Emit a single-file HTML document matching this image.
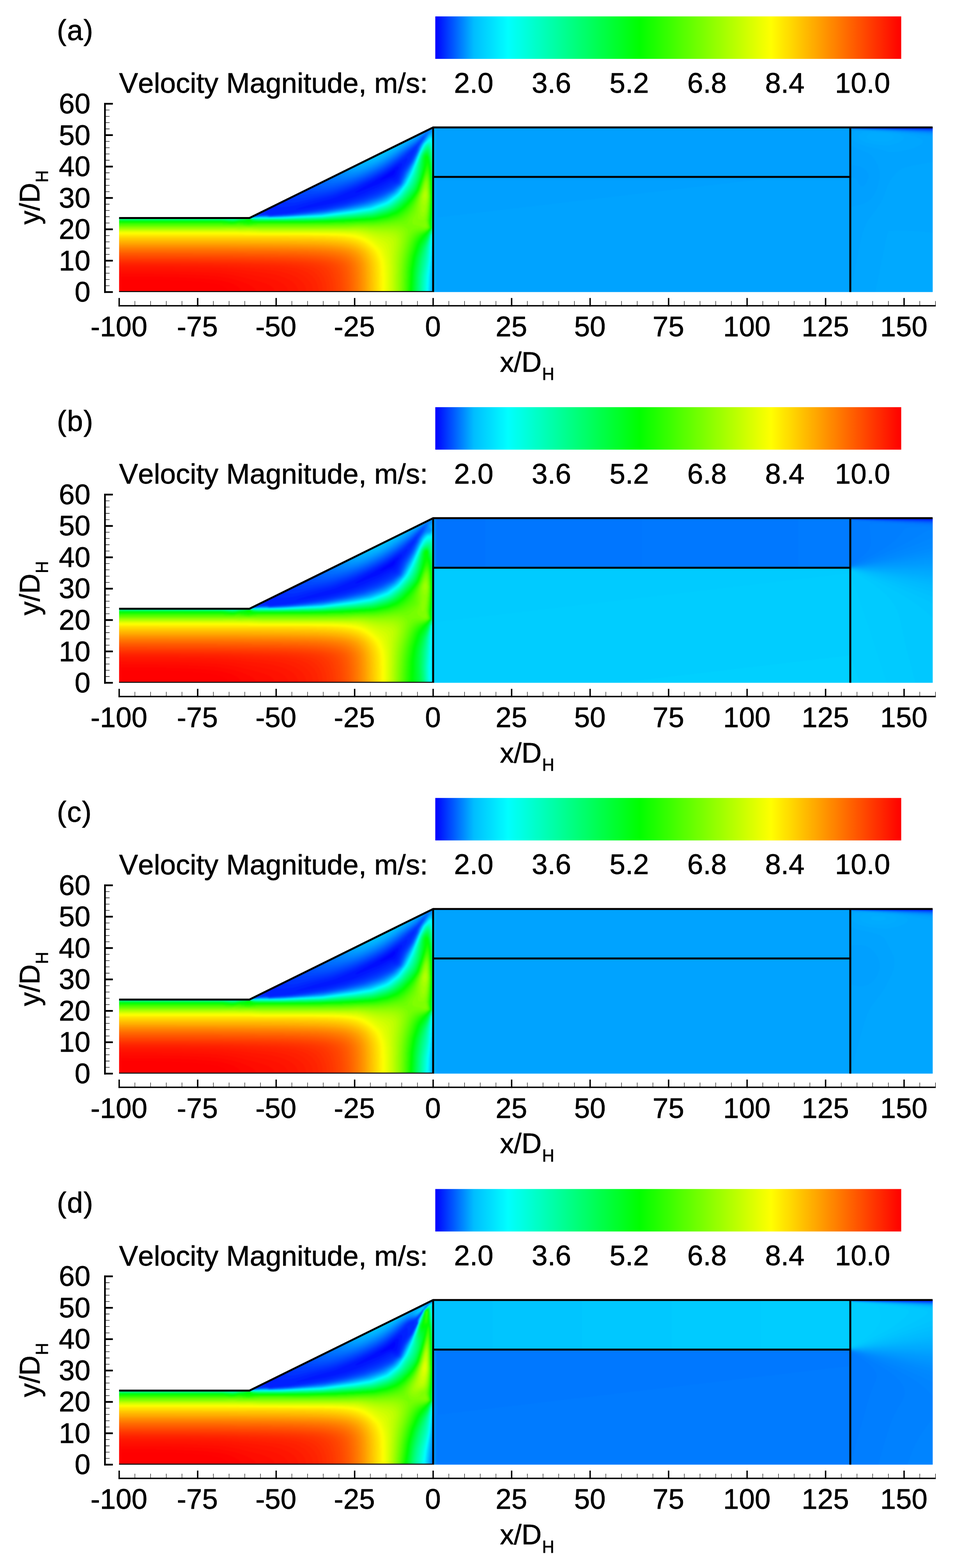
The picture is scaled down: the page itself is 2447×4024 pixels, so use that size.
<!DOCTYPE html>
<html lang="en"><head><meta charset="utf-8"><title>Velocity Magnitude contours</title>
<style>
html,body{margin:0;padding:0;background:#fff}
svg{display:block}
text{font-family:"Liberation Sans",sans-serif;font-size:72.7px;fill:#000;stroke:#000;stroke-width:.85px;stroke-linejoin:round;font-kerning:none}
</style></head><body>
<svg width="2447" height="4024" viewBox="0 0 2447 4024">
<defs>
<linearGradient id="cb" x1="0" x2="1" y1="0" y2="0"><stop offset="0.0000" stop-color="#0000ff"/><stop offset="0.0828" stop-color="#00bdff"/><stop offset="0.1559" stop-color="#00ffff"/><stop offset="0.4381" stop-color="#00ff00"/><stop offset="0.7203" stop-color="#ffff00"/><stop offset="1.0000" stop-color="#ff0000"/></linearGradient>
<clipPath id="cl"><path d="M305.5 749.1H1111.0V327.0L639.9 559.5H305.5z"/></clipPath>
<clipPath id="cr"><rect x="1111.0" y="327.0" width="1281.4" height="422.5"/></clipPath>
<clipPath id="cv"><rect x="305.5" y="300" width="2086.9" height="449.5"/></clipPath>
<filter id="bl" x="-2%" y="-2%" width="104%" height="104%" color-interpolation-filters="sRGB"><feGaussianBlur stdDeviation="1.5"/></filter>
<g id="ax"><rect x="267.0" y="264.1" width="4.4" height="487.7"/><path d="M267.0 749.50H289.5M267.0 668.97H289.5M267.0 588.44H289.5M267.0 507.91H289.5M267.0 427.38H289.5M267.0 346.85H289.5M267.0 266.32H289.5" stroke="#000" stroke-width="4.5" fill="none"/><path d="M270.9 733.39H281.1M270.9 717.29H281.1M270.9 701.18H281.1M270.9 685.08H281.1M270.9 652.86H281.1M270.9 636.76H281.1M270.9 620.65H281.1M270.9 604.55H281.1M270.9 572.33H281.1M270.9 556.23H281.1M270.9 540.12H281.1M270.9 524.02H281.1M270.9 491.80H281.1M270.9 475.70H281.1M270.9 459.59H281.1M270.9 443.49H281.1M270.9 411.27H281.1M270.9 395.17H281.1M270.9 379.06H281.1M270.9 362.96H281.1M270.9 330.74H281.1M270.9 314.64H281.1M270.9 298.53H281.1M270.9 282.43H281.1" stroke="#000" stroke-width="1.3" fill="none"/><rect x="303.9" y="782.9" width="2096.3" height="3.6"/><path d="M305.70 786.5V764.8M507.02 786.5V764.8M708.35 786.5V764.8M909.67 786.5V764.8M1111.00 786.5V764.8M1312.33 786.5V764.8M1513.65 786.5V764.8M1714.97 786.5V764.8M1916.30 786.5V764.8M2117.62 786.5V764.8M2318.95 786.5V764.8" stroke="#000" stroke-width="3.6" fill="none"/><path d="M345.96 783.4V772.6M386.23 783.4V772.6M426.49 783.4V772.6M466.76 783.4V772.6M547.29 783.4V772.6M587.55 783.4V772.6M627.82 783.4V772.6M668.09 783.4V772.6M748.62 783.4V772.6M788.88 783.4V772.6M829.14 783.4V772.6M869.41 783.4V772.6M949.94 783.4V772.6M990.20 783.4V772.6M1030.47 783.4V772.6M1070.73 783.4V772.6M1151.27 783.4V772.6M1191.53 783.4V772.6M1231.80 783.4V772.6M1272.06 783.4V772.6M1352.59 783.4V772.6M1392.86 783.4V772.6M1433.12 783.4V772.6M1473.38 783.4V772.6M1553.91 783.4V772.6M1594.18 783.4V772.6M1634.45 783.4V772.6M1674.71 783.4V772.6M1755.24 783.4V772.6M1795.51 783.4V772.6M1835.77 783.4V772.6M1876.04 783.4V772.6M1956.57 783.4V772.6M1996.83 783.4V772.6M2037.10 783.4V772.6M2077.36 783.4V772.6M2157.89 783.4V772.6M2198.16 783.4V772.6M2238.42 783.4V772.6M2278.69 783.4V772.6M2359.22 783.4V772.6M2399.48 783.4V772.6" stroke="#000" stroke-width="1.15" fill="none"/></g>
<g id="geo" clip-path="url(#cv)" fill="none" stroke="#000" stroke-width="5" stroke-linejoin="miter"><path d="M300.5 559.5H639.9L1111.0 327.0H2392.4"/><path d="M300.5 749.5H1111.0V327.0"/><path d="M1111.0 454.1H2181.0"/><path d="M2181.0 327.0V754.5"/></g>
</defs>
<rect width="2447" height="4024" fill="#fff"/>
<g transform="translate(0 0.00)">
<rect x="1116.5" y="42.1" width="1195.1" height="109.0" fill="url(#cb)"/>
<g clip-path="url(#cl)"><g filter="url(#bl)" shape-rendering="crispEdges">
<path fill="#0005ff" d="M297.6 757.6l819.4 0 0-438.9-2 0-2 2-2 0-2 2-2 0-2 2-2.1 0-2 2-2 0-2 2-2 0-2 2-2 0-2 2.1-2.1 0-2 2-2 0-2 2-2 0-2 2-2 0-2.1 2-2 0-2 2-2 0-2 2-2 0-2 2-2 0-2.1 2.1-2 0-2 2-2 0-2 2-2 0-2 2-2.1 0-2 2-2 0-2 2-2 0-2 2-2 0-2 2.1-2.1 0-2 2-2 0-2 2-2 0-2 2-2 0-2 2-2.1 0-2 2-2 0-2 2-2 0-2 2-2 0-2.1 2.1-2 0-2 2-2 0-2 2-2 0-2 2-2 0-2.1 2-2 0-2 2-2 0-2 2-4 0-2.1 2.1-2 0-2 2-2 0-2 2-2 0-2 2-2 0-2.1 2-2 0-2 2-2 0-2 2-2 0-2 2-2.1 0-2 2.1-2 0-2 2-2 0-2 2-2 0-2 2-2.1 0-2 2-2 0-2 2-2 0-2 2-2 0-2.1 2.1-2 0-2 2-2 0-2 2-2 0-2 2-2 0-2.1 2-2 0-2 2-2 0-2 2-2 0-2 2-2.1 0-2 2.1-2 0-2 2-2 0-2 2-2 0-2 2-2.1 0-2 2-2 0-2 2-2 0-2 2-2 0-2 2.1-2.1 0-2 2-2 0-2 2-2 0-2 2-2 0-2.1 2-2 0-2 2-2 0-2 2-2 0-2 2-4.1 0-2 2.1-2 0-2 2-2 0-2 2-2 0-2.1 2-2 0-2 2-2 0-2 2-2 0-2 2-2 0-2.1 2.1-2 0-2 2-2 0-2 2-2 0-2 2-2.1 0-2 2-2 0-2 2-2 0-2 2-2 0-2 2-2.1 0-2 2.1-2 0-2 2-2 0-2 2-2 0-2.1 2-2 0-2 2-2 0-2 2-2 0-2 2-2 0-2.1 2-2 0-2 2.1-2 0-2 2-2 0-2 2-2.1 0-2 2-2 0-2 2-2 0-2 2-2 0-2 2-2.1 0-2 2.1-2 0-2 2-2 0-2 2-2 0-2 2-2.1 0-2 2-2 0-2 2-2 0-2 2-2 0-2.1 2-4 0-2 2.1-2 0-2 2-2 0-2 2-2.1 0-2 2-2 0-2 2-342.3 0z"/>
<path fill="#000eff" d="M297.6 757.6l819.4 0 0-438.9-2 0-2 2-2 0-2 2-2 0-2 2-2.1 0-2 2-2 0-2 2-2 0-2 2-2 0-2 2.1-2.1 0-2 2-2 0-2 2-2 0-2 2-2 0-2.1 2-2 0-2 2-2 0-2 2-2 0-2 2-2 0-2.1 2.1-2 0-2 2-2 0-2 2-2 0-2 2-2.1 0-2 2-2 0-2 2-2 0-2 2-2 0-2 2.1-2.1 0-2 2-2 0-2 2-2 0-2 2-2 0-2 2-2.1 0-2 2-2 0-2 2-2 0-2 2-2 0-2.1 2.1-2 0-2 2-2 0-2 2-2 0-2 2-2 0-2.1 2-2 0-2 2-2 0-2 2-4 0-2.1 2.1-2 0-2 2-2 0-2 2-2 0-2 2-2 0-2.1 2-2 0-2 2-2 0-2 2-2 0-2 2-2.1 0-2 2.1-2 0-2 2-2 0-2 2-2 0-2 2-2.1 0-2 2-2 0-2 2-2 0-2 2-2 0-2.1 2.1-2 0-2 2-2 0-2 2-2 0-2 2-2 0-2.1 2-2 0-2 2-2 0-2 2-2 0-2 2-2.1 0-2 2.1-2 0-2 2-2 0-2 2-2 0-2 2-2.1 0-2 2-2 0-2 2-2 0-2 2-2 0-2 2.1-2.1 0-2 2-2 0-2 2-2 0-2 2-2 0-2.1 2-2 0-2 2-2 0-2 2-2 0-2 2-4.1 0-2 2.1-2 0-2 2-2 0-2 2-2 0-2.1 2-2 0-2 2-2 0-2 2-2 0-2 2-2 0-2.1 2.1-2 0-2 2-2 0-2 2-2 0-2 2-2.1 0-2 2-2 0-2 2-2 0-2 2-2 0-2 2-2.1 0-2 2.1-2 0-2 2-2 0-2 2-2 0-2.1 2-2 0-2 2-2 0-2 2-2 0-2 2-2 0-2.1 2-2 0-2 2.1-2 0-2 2-2 0-2 2-2.1 0-2 2-2 0-2 2-2 0-2 2-2 0-2 2-2.1 0-2 2.1-2 0-2 2-2 0-2 2-2 0-2 2-2.1 0-2 2-2 0-2 2-2 0-2 2-2 0-2.1 2-4 0-2 2.1-2 0-2 2-2 0-2 2-2.1 0-2 2-2 0-2 2-342.3 0zM976.1 462.7l-1.7-1.1 4.6-4 21.3-14 8-5.9 4.1-1.8 1.8 1.5-1 4.1-1.9 4-3 3.8-2 1.4-25.7 10.9z"/>
<path fill="#0018ff" d="M297.6 757.6l819.4 0 0-438.9-2 0-2 2-2 0-2 2-2 0-2 2-2.1 0-2 2-2 0-2 2-2 0-2 2-2 0-2 2.1-2.1 0-2 2-2 0-2 2-2 0-2 2-2 0-2.1 2-2 0-2 2-2 0-2 2-2 0-2 2-2 0-2.1 2.1-2 0-2 2-2 0-2 2-2 0-2 2-2.1 0-2 2-2 0-2 2-2 0-2 2-2 0-2 2.1-2.1 0-2 2-2 0-2 2-2 0-2 2-2 0-2 2-2.1 0-2 2-2 0-2 2-2 0-2 2-2 0-2.1 2.1-2 0-2 2-2 0-2 2-2 0-2 2-2 0-2.1 2-2 0-2 2-2 0-2 2-4 0-2.1 2.1-2 0-2 2-2 0-2 2-2 0-2 2-2 0-2.1 2-2 0-2 2-2 0-2 2-2 0-2 2-2.1 0-2 2.1-2 0-2 2-2 0-2 2-2 0-2 2-2.1 0-2 2-2 0-2 2-2 0-2 2-2 0-2.1 2.1-2 0-2 2-2 0-2 2-2 0-2 2-2 0-2.1 2-2 0-2 2-2 0-2 2-2 0-2 2-2.1 0-2 2.1-2 0-2 2-2 0-2 2-2 0-2 2-2.1 0-2 2-2 0-2 2-2 0-2 2-2 0-2 2.1-2.1 0-2 2-2 0-2 2-2 0-2 2-2 0-2.1 2-2 0-2 2-2 0-2 2-2 0-2 2-4.1 0-2 2.1-2 0-2 2-2 0-2 2-2 0-2.1 2-2 0-2 2-2 0-2 2-2 0-2 2-2 0-2.1 2.1-2 0-2 2-2 0-2 2-2 0-2 2-2.1 0-2 2-2 0-2 2-2 0-2 2-2 0-2 2-2.1 0-2 2.1-2 0-2 2-2 0-2 2-2 0-2.1 2-2 0-2 2-2 0-2 2-2 0-2 2-2 0-2.1 2-2 0-2 2.1-2 0-2 2-2 0-2 2-2.1 0-2 2-2 0-2 2-2 0-2 2-2 0-2 2-2.1 0-2 2.1-2 0-2 2-2 0-2 2-2 0-2 2-2.1 0-2 2-2 0-2 2-2 0-2 2-2 0-2.1 2-4 0-2 2.1-2 0-2 2-2 0-2 2-2.1 0-2 2-2 0-2 2-342.3 0zM637.9 556.4l-0.5-0.2 0.9 0zM911.7 494.9l-1.1-1.1 8.5-6 13.7-8.1 25.2-13.6 38.2-23.7 16.2-11.5 6-3.1 2-0.5 2 0.6 0.5 1.5-0.7 4-5.4 14.1-2.4 4.7-2 2.3-1.6 1.1-2.5 1.1-8 2.1-4.1 1.5-26.1 12.8-12.1 4.6-23.9 10.1-16.5 6z"/>
<path fill="#0021ff" d="M297.6 757.6l819.4 0 0-438.9-2 0-2 2-2 0-2 2-2 0-2 2-2.1 0-2 2-2 0-2 2-2 0-2 2-2 0-2 2.1-2.1 0-2 2-2 0-2 2-2 0-2 2-2 0-2.1 2-2 0-2 2-2 0-2 2-2 0-2 2-2 0-2.1 2.1-2 0-2 2-2 0-2 2-2 0-2 2-2.1 0-2 2-2 0-2 2-2 0-2 2-2 0-2 2.1-2.1 0-2 2-2 0-2 2-2 0-2 2-2 0-2 2-2.1 0-2 2-2 0-2 2-2 0-2 2-2 0-2.1 2.1-2 0-2 2-2 0-2 2-2 0-2 2-2 0-2.1 2-2 0-2 2-2 0-2 2-4 0-2.1 2.1-2 0-2 2-2 0-2 2-2 0-2 2-2 0-2.1 2-2 0-2 2-2 0-2 2-2 0-2 2-2.1 0-2 2.1-2 0-2 2-2 0-2 2-2 0-2 2-2.1 0-2 2-2 0-2 2-2 0-2 2-2 0-2.1 2.1-2 0-2 2-2 0-2 2-2 0-2 2-2 0-2.1 2-2 0-2 2-2 0-2 2-2 0-2 2-2.1 0-2 2.1-2 0-2 2-2 0-2 2-2 0-2 2-2.1 0-2 2-2 0-2 2-2 0-2 2-2 0-2 2.1-2.1 0-2 2-2 0-2 2-2 0-2 2-2 0-2.1 2-2 0-2 2-2 0-2 2-2 0-2 2-4.1 0-2 2.1-2 0-2 2-2 0-2 2-2 0-2.1 2-2 0-2 2-2 0-2 2-2 0-2 2-2 0-2.1 2.1-2 0-2 2-2 0-2 2-2 0-2 2-2.1 0-2 2-2 0-2 2-2 0-2 2-2 0-2 2-2.1 0-2 2.1-2 0-2 2-2 0-2 2-2 0-2.1 2-2 0-2 2-2 0-2 2-2 0-2 2-2 0-2.1 2-2 0-2 2.1-2 0-2 2-2 0-2 2-2.1 0-2 2-2 0-2 2-2 0-2 2-2 0-2 2-2.1 0-2 2.1-2 0-2 2-2 0-2 2-2 0-2 2-2.1 0-2 2-2 0-2 2-2 0-2 2-2 0-2.1 2-4 0-2 2.1-2 0-2 2-2 0-2 2-2.1 0-2 2-2 0-2 2-342.3 0zM637.9 556.5l-0.9-0.3 0.9-0.3 0.7 0.3zM758.7 538.2l-2-0.1 2-0.3 2-1 0.2-0.7 3.8-1.1 1.7-0.9 25.1-8.1 20.6-6 35.2-9.2 12-3.6 44.3-18.6 12.1-5.7 44.3-22.4 30.2-17.7 8.1-5.3 14.1-10.3 10-6 6.1-2.2 2.2 0.3 0.9 2-0.1 2.1-1.1 4-5.2 12.1-4.8 12.6-2 4.3-2.5 3.2-3.5 2.1-8.1 1.4-6 2.2-26.2 13.8-37.6 16.7-21.1 8.1-24 8-29.3 8.1-26.2 6-21.7 4.1-36.2 6-11.3 1.3-2.8 0.7z"/>
<path fill="#002aff" d="M297.6 757.6l819.4 0 0-438.9-2 0-2 2-2 0-2 2-2 0-2 2-2.1 0-2 2-2 0-2 2-2 0-2 2-2 0-2 2.1-2.1 0-2 2-2 0-2 2-2 0-2 2-2 0-2.1 2-2 0-2 2-2 0-2 2-2 0-2 2-2 0-2.1 2.1-2 0-2 2-2 0-2 2-2 0-2 2-2.1 0-2 2-2 0-2 2-2 0-2 2-2 0-2 2.1-2.1 0-2 2-2 0-2 2-2 0-2 2-2 0-2 2-2.1 0-2 2-2 0-2 2-2 0-2 2-2 0-2.1 2.1-2 0-2 2-2 0-2 2-2 0-2 2-2 0-2.1 2-2 0-2 2-2 0-2 2-4 0-2.1 2.1-2 0-2 2-2 0-2 2-2 0-2 2-2 0-2.1 2-2 0-2 2-2 0-2 2-2 0-2 2-2.1 0-2 2.1-2 0-2 2-2 0-2 2-2 0-2 2-2.1 0-2 2-2 0-2 2-2 0-2 2-2 0-2.1 2.1-2 0-2 2-2 0-2 2-2 0-2 2-2 0-2.1 2-2 0-2 2-2 0-2 2-2 0-2 2-2.1 0-2 2.1-2 0-2 2-2 0-2 2-2 0-2 2-2.1 0-2 2-2 0-2 2-2 0-2 2-2 0-2 2.1-2.1 0-2 2-2 0-2 2-2 0-2 2-2 0-2.1 2-2 0-2 2-2 0-2 2-2 0-2 2-4.1 0-2 2.1-2 0-2 2-2 0-2 2-2 0-2.1 2-2 0-2 2-2 0-2 2-2 0-2 2-2 0-2.1 2.1-2 0-2 2-2 0-2 2-2 0-2 2-2.1 0-2 2-2 0-2 2-2 0-2 2-2 0-2 2-2.1 0-2 2.1-2 0-2 2-2 0-2 2-2 0-2.1 2-2 0-2 2-2 0-2 2-2 0-2 2-2 0-2.1 2-2 0-2 2.1-2 0-2 2-2 0-2 2-2.1 0-2 2-2 0-2 2-2 0-2 2-2 0-2 2-2.1 0-0.9 1 3.1-1 7.9-0.8 4 0.7 8.1 3 4 0.6 4 0.1 10.1-0.7 18.1-2 12.1-2.6 37-10.3 47.6-11.2 12-3.6 48.4-18.9 50.3-24.2 20.1-11.3 12.1-7.2 26.2-18.3 12.1-7.6 8-4.4 6-4.1 2.1-0.3 0.5 0.3 0.2 2-0.3 2.1-2.3 6-6.2 10.5-6.3 11.6-2.7 6.1-5.1 13.7-2 4-2 2.6-2 1.5-4 1.5-6.1 0.8-2 0.7-32.2 17.4-37.3 16.2-47.9 16.1-47.8 12.1-44.5 8-52.6 8.1-20.6 2-17.1 1.2-3.9 0.8-8.2 0.3-2.4-0.3-1.6-1.2-2-0.5-6.2-0.3 3.2-2-1-1.5-3.1-0.6 3.7-6 0.2-2-0.8-0.8-2-0.8-2 1.6-2.1 0-2 2-2 0-2 2-2 0-2 2-2 0-2.1 2-4 0-2 2.1-2 0-2 2-2 0-2 2-2.1 0-2 2-2 0-2 2-5.3 0-0.7 0.5-2.3-0.5-334 0zM637.9 556.6l-1.3-0.4 1.3-0.5 1 0.5z"/>
<path fill="#0034ff" d="M297.6 757.6l819.4 0 0-438.9-2 0-2 2-2 0-2 2-2 0-2 2-2.1 0-2 2-2 0-2 2-2 0-2 2-2 0-2 2.1-2.1 0-2 2-2 0-2 2-2 0-2 2-2 0-2.1 2-2 0-2 2-2 0-2 2-2 0-2 2-2 0-2.1 2.1-2 0-2 2-2 0-2 2-2 0-2 2-2.1 0-2 2-2 0-2 2-2 0-2 2-2 0-2 2.1-2.1 0-2 2-2 0-2 2-2 0-2 2-2 0-2 2-2.1 0-2 2-2 0-2 2-2 0-2 2-2 0-2.1 2.1-2 0-2 2-2 0-2 2-2 0-2 2-2 0-2.1 2-2 0-2 2-2 0-2 2-4 0-2.1 2.1-2 0-2 2-2 0-2 2-2 0-2 2-2 0-2.1 2-2 0-2 2-2 0-2 2-2 0-2 2-2.1 0-2 2.1-2 0-2 2-2 0-2 2-2 0-2 2-2.1 0-2 2-2 0-2 2-2 0-2 2-2 0-2.1 2.1-2 0-2 2-2 0-2 2-2 0-2 2-2 0-2.1 2-2 0-2 2-2 0-2 2-2 0-2 2-2.1 0-2 2.1-2 0-2 2-2 0-2 2-2 0-2 2-2.1 0-2 2-2 0-2 2-2 0-2 2-2 0-2 2.1-2.1 0-2 2-2 0-2 2-2 0-2 2-2 0-2.1 2-2 0-2 2-2 0-2 2-2 0-2 2-4.1 0-2 2.1-2 0-2 2-2 0-2 2-2 0-2.1 2-2 0-2 2-2 0-2 2-2 0-2 2-2 0-2.1 2.1-2 0-2 2-2 0-2 2-2 0-2 2-2.1 0-2 2-2 0-2 2-2 0-2 2-2 0-2 2-2.1 0-2 2.1-2 0-2 2-2 0-2 2-2 0-2.1 2-2 0-2 2-2 0-2 2-2 0-2 2-2 0-2.1 2-2 0-2 2.1-2 0-0.3 0.3 4.3-0.4 2 0.3 10.1 3 10.1 1.3 10-0.2 10.1-1.5 32.2-7.7 42.3-8.9 14.1-3.3 12.1-3.8 34.2-12.6 18.1-7.6 34.2-15.9 16.1-8.4 18.2-10.3 12-7.7 33.2-23.3 7.1-5.3 17.7-14.9 8.5-5.9 0.7 1.9-0.7 2.8-10.1 20.8-4 6.8-12.1 16.8-3 5.1-2 4.1-9 22.1-2.1 2.9-1.3 1.1-3.6 2.1-9.2 3.4-8 4.9-23.2 11.8-13.7 6-29.6 11.9-45.8 14.3-51.7 12.1-49.3 8-44.7 6.1-36 2.9-10 1.2-3.4-0.1-2.7-1.1-4-0.5-16.1 0.7-2 0.2-0.7 0.7-3.4 0.3-4-0.3 6.1-0.8 1.2-1.2 2.8-0.8 2.6-1.2 1.7-2 0.5-2.1 0.7-6-1.5 0-2 2-2 0-2 2-2 0-2.1 2-4 0-2 2.1-2 0-2 2-2 0-2 2-2.1 0-2 2-2 0-2 2-5 0-1 0.7-2.8-0.7-333.5 0zM637.9 556.7l-1.7-0.5 1.7-0.6 1.3 0.6zM643.9 556.3l-0.7-0.1 1.7 0zM652 554.4l-1.9-0.2 4.4 0z"/>
<path fill="#003dff" d="M297.6 757.6l819.4 0 0-438.9-2 0-2 2-2 0-2 2-2 0-2 2-2.1 0-2 2-2 0-2 2-2 0-2 2-2 0-2 2.1-2.1 0-2 2-2 0-2 2-2 0-2 2-2 0-2.1 2-2 0-2 2-2 0-2 2-2 0-2 2-2 0-2.1 2.1-2 0-2 2-2 0-2 2-2 0-2 2-2.1 0-2 2-2 0-2 2-2 0-2 2-2 0-2 2.1-2.1 0-2 2-2 0-2 2-2 0-2 2-2 0-2 2-2.1 0-2 2-2 0-2 2-2 0-2 2-2 0-2.1 2.1-2 0-2 2-2 0-2 2-2 0-2 2-2 0-2.1 2-2 0-2 2-2 0-2 2-4 0-2.1 2.1-2 0-2 2-2 0-2 2-2 0-2 2-2 0-2.1 2-2 0-2 2-2 0-2 2-2 0-2 2-2.1 0-2 2.1-2 0-2 2-2 0-2 2-2 0-2 2-2.1 0-2 2-2 0-2 2-2 0-2 2-2 0-2.1 2.1-2 0-2 2-2 0-2 2-2 0-2 2-2 0-2.1 2-2 0-2 2-2 0-2 2-2 0-2 2-2.1 0-2 2.1-2 0-2 2-2 0-2 2-2 0-2 2-2.1 0-2 2-2 0-2 2-2 0-2 2-2 0-2 2.1-2.1 0-2 2-2 0-2 2-2 0-2 2-2 0-2.1 2-2 0-2 2-2 0-2 2-2 0-2 2-4.1 0-2 2.1-2 0-2 2-2 0-2 2-2 0-2.1 2-2 0-2 2-2 0-2 2-2 0-2 2-2 0-2.1 2.1-2 0-2 2-2 0-2 2-2 0-2 2-2.1 0-2 2-2 0-2 2-2 0-2 2-2 0-2 2-2.1 0-2 2.1-2 0-2 2-2 0-2 2-2 0-2.1 2-2 0-0.3 0.3 6.4 0.2 6 1.8 6.1 1.3 10 0.2 12.1-1.5 42.3-7.2 22.1-4.2 14.1-3.5 26.2-8.7 22.1-8.1 24.2-10.3 24.2-11.2 20.1-10.6 14.1-8.2 12.1-7.8 26.1-18.6 12.1-9.4 13.1-11.3 15.1-12 4-2.3 0.9 0.2-0.1 2-0.8 3.2-2 6.4-2 4.8-12.1 22.7-15.1 21.3-2.4 4.1-10.7 25.2-1.7 2.9-2 2.1-11.2 6-9.4 6-33.1 16.1-36.8 14.1-41.1 12.1-7.8 2-46.1 10.1-39.3 6-57.4 7.3-46.3 3.6-8-1.6-8.1 0.1-18.1 1.8-1.5 0.9-2.5 0.3-4 0.1-0.9-0.4 6.9-0.9 0.5-1.1 5.5-1.4 6.5-2.6 2.3-2 0.7-2.1 1-6-0.4 0-2 2-2 0-2 2-2 0-2.1 2-4 0-2 2.1-2 0-2 2-2 0-2 2-2.1 0-2 2-2 0-2 2-4.7 0-1.3 0.9-3.4-0.9-332.9 0zM635.9 556.2l2-0.8 1.6 0.8-1.6 0.6zM641.9 556.2l2-0.3 2.4 0.3z"/>
<path fill="#0047ff" d="M297.6 757.6l819.4 0 0-438.9-2 0-2 2-2 0-2 2-2 0-2 2-2.1 0-2 2-2 0-2 2-2 0-2 2-2 0-2 2.1-2.1 0-2 2-2 0-2 2-2 0-2 2-2 0-2.1 2-2 0-2 2-2 0-2 2-2 0-2 2-2 0-2.1 2.1-2 0-2 2-2 0-2 2-2 0-2 2-2.1 0-2 2-2 0-2 2-2 0-2 2-2 0-2 2.1-2.1 0-2 2-2 0-2 2-2 0-2 2-2 0-2 2-2.1 0-2 2-2 0-2 2-2 0-2 2-2 0-2.1 2.1-2 0-2 2-2 0-2 2-2 0-2 2-2 0-2.1 2-2 0-2 2-2 0-2 2-4 0-2.1 2.1-2 0-2 2-2 0-2 2-2 0-2 2-2 0-2.1 2-2 0-2 2-2 0-2 2-2 0-2 2-2.1 0-2 2.1-2 0-2 2-2 0-2 2-2 0-2 2-2.1 0-2 2-2 0-2 2-2 0-2 2-2 0-2.1 2.1-2 0-2 2-2 0-2 2-2 0-2 2-2 0-2.1 2-2 0-2 2-2 0-2 2-2 0-2 2-2.1 0-2 2.1-2 0-2 2-2 0-2 2-2 0-2 2-2.1 0-2 2-2 0-2 2-2 0-2 2-2 0-2 2.1-2.1 0-2 2-2 0-2 2-2 0-2 2-2 0-2.1 2-2 0-2 2-2 0-2 2-2 0-2 2-4.1 0-2 2.1-2 0-2 2-2 0-2 2-2 0-2.1 2-2 0-2 2-2 0-2 2-2 0-2 2-2 0-2.1 2.1-2 0-2 2-2 0-2 2-2 0-2 2-2.1 0-2 2-2 0-2 2-2 0-2 2-2 0-0.3 0.3 6.3 0.6 8.1 2 10 0.4 24.2-1.5 26.2-3.6 16.1-3.1 14.1-3.7 32.2-10.5 18.1-6.8 22.1-9.4 22.2-10.4 18.1-9.6 14.1-8.3 12.1-7.9 22.1-15.8 14.1-11.1 14.7-12.3 23.6-18.1 0.5 2-0.5 1.8-3.2 6.2-2.9 9.1-4 8.7-10.1 19.4-17.3 25.3-2.1 4-9.3 22.1-2.4 4.1-2.3 2-10 6-8.9 6.3-28.2 14.1-8.8 3.8-31.5 11.8-6 1.8-45.8 12.5-48.8 10.1-42 6-50.8 6.1-48.2 3.5-6-1.3-4-0.2-16.1 0.7-14.1 2.1-2 0-1.9-0.8 5.9-1.3 1.3-0.7 4.7-1.3 6.1-2.4 2-1.2 1.4-1.1 0.9-2.1 1.2-5.5-1.5 1.5-2 0-2 2-2 0-2.1 2-4 0-2 2.1-2 0-2 2-2 0-2 2-2.1 0-2 2-2 0-2 2-4.4 0 0.4 1 2 0.1 1.9 0.9-1.9 0.7-2.4-0.7-1.6-0.9-3.9-1.1-332.4 0zM641.9 556.4l-1.5-0.2 5.5-0.5 1.3 0.5-3.3 0.4z"/>
<path fill="#0050ff" d="M297.6 757.6l819.4 0 0-438.9-2 0-2 2-2 0-2 2-2 0-2 2-2.1 0-2 2-2 0-2 2-2 0-2 2-2 0-2 2.1-2.1 0-2 2-2 0-2 2-2 0-2 2-2 0-2.1 2-2 0-2 2-2 0-2 2-2 0-2 2-2 0-2.1 2.1-2 0-2 2-2 0-2 2-2 0-2 2-2.1 0-2 2-2 0-2 2-2 0-2 2-2 0-2 2.1-2.1 0-2 2-2 0-2 2-2 0-2 2-2 0-2 2-2.1 0-2 2-2 0-2 2-2 0-2 2-2 0-2.1 2.1-2 0-2 2-2 0-2 2-2 0-2 2-2 0-2.1 2-2 0-2 2-2 0-2 2-4 0-2.1 2.1-2 0-2 2-2 0-2 2-2 0-2 2-2 0-2.1 2-2 0-2 2-2 0-2 2-2 0-2 2-2.1 0-2 2.1-2 0-2 2-2 0-2 2-2 0-2 2-2.1 0-2 2-2 0-2 2-2 0-2 2-2 0-2.1 2.1-2 0-2 2-2 0-2 2-2 0-2 2-2 0-2.1 2-2 0-2 2-2 0-2 2-2 0-2 2-2.1 0-2 2.1-2 0-2 2-2 0-2 2-2 0-2 2-2.1 0-2 2-2 0-2 2-2 0-2 2-2 0-2 2.1-2.1 0-2 2-2 0-2 2-2 0-2 2-2 0-2.1 2-2 0-2 2-2 0-2 2-2 0-2 2-4.1 0-2 2.1-2 0-2 2-2 0-2 2-2 0-2.1 2-2 0-2 2-2 0-2 2-2 0-2 2-2 0-2.1 2.1-2 0-2 2-2 0-0.3 0.3 6.3 0.8 12.1 3.3 8.1 0.9 16.1-0.6 20.1-2.6 18.1-3.9 26.2-7.6 20.1-6.7 20.2-7.8 20.1-8.9 18.1-8.8 18.1-9.8 14.1-8.7 30.2-21.3 23.9-19.3 20.4-15.4 12.2-10.8 0.4 2-0.5 1.4-7 12.7-1.8 4.1-3.3 10-10 20.2-4.1 7.3-16.4 24.9-11.8 26.7-2 2.8-12 8.4-8.3 6.4-28 14.2-8.8 3.9-35.5 12.9-50.8 13.3-39.5 8-8.3 1.4-46.3 6.3-39.7 4.4-54 4-9-1.5-10.1 0.1-8 0.6-16.1 2.1-4.1 1.1-2 0.2-4-0.4-2 0.7-8.5-2.9-331.8 0zM635.9 554.2l4 1.9 6-0.9 1.6-1 10.5-3.1 6.1-2.3 4.2-2.6 1.2-2.1 1.2-4.6-0.6 0.6-2 0-2 2-2 0-2.1 2-4 0-2 2.1-2 0-2 2-2 0-2 2-2.1 0-2 2-2 0-2 2z"/>
<path fill="#005aff" d="M297.6 757.6l819.4 0 0-438.9-2 0-2 2-2 0-2 2-2 0-2 2-2.1 0-2 2-2 0-2 2-2 0-2 2-2 0-2 2.1-2.1 0-2 2-2 0-2 2-2 0-2 2-2 0-2.1 2-2 0-2 2-2 0-2 2-2 0-2 2-2 0-2.1 2.1-2 0-2 2-2 0-2 2-2 0-2 2-2.1 0-2 2-2 0-2 2-2 0-2 2-2 0-2 2.1-2.1 0-2 2-2 0-2 2-2 0-2 2-2 0-2 2-2.1 0-2 2-2 0-2 2-2 0-2 2-2 0-2.1 2.1-2 0-2 2-2 0-2 2-2 0-2 2-2 0-2.1 2-2 0-2 2-2 0-2 2-4 0-2.1 2.1-2 0-2 2-2 0-2 2-2 0-2 2-2 0-2.1 2-2 0-2 2-2 0-2 2-2 0-2 2-2.1 0-2 2.1-2 0-2 2-2 0-2 2-2 0-2 2-2.1 0-2 2-2 0-2 2-2 0-2 2-2 0-2.1 2.1-2 0-2 2-2 0-2 2-2 0-2 2-2 0-2.1 2-2 0-2 2-2 0-2 2-2 0-2 2-2.1 0-2 2.1-2 0-2 2-2 0-2 2-2 0-2 2-2.1 0-2 2-2 0-2 2-2 0-2 2-2 0-2 2.1-2.1 0-2 2-2 0-2 2-2 0-2 2-2 0-2.1 2-2 0-2 2-2 0-2 2-2 0-2 2-4.1 0-2 2.1-2 0-2 2-2 0-2 2-2 0-2.1 2-2 0-1.9 2 7.4 4 2.6 1 8 1.4 14.1-0.1 18.2-2.1 18.1-3.8 30.2-8.4 20.1-6.9 20.1-8.1 20.2-9.2 16.1-8.2 14.1-7.9 14.1-9 22.1-15.5 27.7-21.8 18.6-13.6 6-5.2 10.1-9.8 2-1.7 0.8 0.1 0.5 2-1.3 3.2-6.6 10.9-4.3 8-1.6 4.1-1.6 6-12 24.4-2.1 4-16.8 26-2.1 4-9.7 22.1-2.3 4.1-11 8-10.1 8.1-27.3 14.1-9.1 4-34.4 12.4-46.3 11.8-50.7 10-46 6.1-36.1 3.8-16.2 1.6-34.2 2.1-4 0.5-8.1 0.4-8-1.5-10.1 0.1-10 0.8-12.1 1.6-6.1 1.2-2 0.2-4-0.4-2 0.6-9.2-3-331.1 0zM636.2 554.2l3.7 1.7 2-0.2 4-0.9 0.9-0.6 15.2-5 5.3-3 1.4-2.1 1.2-4-1.8 0-2 2-2 0-2.1 2-4 0-2 2.1-2 0-2 2-2 0-2 2-2.1 0-2 2-2 0-2 2z"/>
<path fill="#0063ff" d="M297.6 757.6l819.4 0 0-438.9-2 0-2 2-2 0-2 2-2 0-2 2-2.1 0-2 2-2 0-2 2-2 0-2 2-2 0-2 2.1-2.1 0-2 2-2 0-2 2-2 0-2 2-2 0-2.1 2-2 0-2 2-2 0-2 2-2 0-2 2-2 0-2.1 2.1-2 0-2 2-2 0-2 2-2 0-2 2-2.1 0-2 2-2 0-2 2-2 0-2 2-2 0-2 2.1-2.1 0-2 2-2 0-2 2-2 0-2 2-2 0-2 2-2.1 0-2 2-2 0-2 2-2 0-2 2-2 0-2.1 2.1-2 0-2 2-2 0-2 2-2 0-2 2-2 0-2.1 2-2 0-2 2-2 0-2 2-4 0-2.1 2.1-2 0-2 2-2 0-2 2-2 0-2 2-2 0-2.1 2-2 0-2 2-2 0-2 2-2 0-2 2-2.1 0-2 2.1-2 0-2 2-2 0-2 2-2 0-2 2-2.1 0-2 2-2 0-2 2-2 0-2 2-2 0-2.1 2.1-2 0-2 2-2 0-2 2-2 0-2 2-2 0-2.1 2-2 0-2 2-2 0-2 2-2 0-2 2-2.1 0-2 2.1-2 0-2 2-2 0-2 2-2 0-2 2-2.1 0-2 2-2 0-2 2-2 0-2 2-2 0-2 2.1-2.1 0-2 2-2 0-2 2-2 0-2 2-2 0-2.1 2-2 0-2 2-2 0-2 2-2 0-2 2-4.1 0-2 2.1-2 0-1.2 1.1 9.3 4.8 6 1.4 6 0.5 6.1 0 16.1-1.6 20.1-4 24.2-6.3 20.1-6.6 20.1-8.1 18.2-8.2 16.1-8.1 14.1-7.9 14.1-8.9 20.1-13.9 27-20.8 21.3-15.3 6-5.2 12.1-11.8 2-1.1 2.1-0.1 0.2 1.3-2.3 5.6-11.1 18.5-1.8 4.1-3.2 9.6-12 24.8-18.5 30-11.7 26-2.1 3-20.1 16.1-28.2 15-9.9 4.3-34.4 12.2-48.8 12-51.8 9.6-46.3 5.7-46.3 4.6-40.3 2.5-8.1 0.4-8-1.3-10.1 0.1-12.1 0.9-18.1 2.5-4-0.3-2 0.5-9.9-3.1-330.4 0zM636.5 554.2l3.4 1.5 2-0.2 14.1-4.4 6-2.4 4.3-2.5 1.6-2.1 1.4-4-1.2 0-2 2-2 0-2.1 2-4 0-2 2.1-2 0-2 2-2 0-2 2-2.1 0-2 2-2 0-2 2z"/>
<path fill="#006dff" d="M297.6 757.6l819.4 0 0-438.9-2 0-2 2-2 0-2 2-2 0-2 2-2.1 0-2 2-2 0-2 2-2 0-2 2-2 0-2 2.1-2.1 0-2 2-2 0-2 2-2 0-2 2-2 0-2.1 2-2 0-2 2-2 0-2 2-2 0-2 2-2 0-2.1 2.1-2 0-2 2-2 0-2 2-2 0-2 2-2.1 0-2 2-2 0-2 2-2 0-2 2-2 0-2 2.1-2.1 0-2 2-2 0-2 2-2 0-2 2-2 0-2 2-2.1 0-2 2-2 0-2 2-2 0-2 2-2 0-2.1 2.1-2 0-2 2-2 0-2 2-2 0-2 2-2 0-2.1 2-2 0-2 2-2 0-2 2-4 0-2.1 2.1-2 0-2 2-2 0-2 2-2 0-2 2-2 0-2.1 2-2 0-2 2-2 0-2 2-2 0-2 2-2.1 0-2 2.1-2 0-2 2-2 0-2 2-2 0-2 2-2.1 0-2 2-2 0-2 2-2 0-2 2-2 0-2.1 2.1-2 0-2 2-2 0-2 2-2 0-2 2-2 0-2.1 2-2 0-2 2-2 0-2 2-2 0-2 2-2.1 0-2 2.1-2 0-2 2-2 0-2 2-2 0-2 2-2.1 0-2 2-2 0-2 2-2 0-2 2-2 0-2 2.1-2.1 0-2 2-2 0-2 2-2 0-2 2-2 0-2.1 2-2 0-2 2-2 0-0.9 1 6.9 3.8 3.7 1.3 4.4 0.7 12.1 0.1 14.1-1.6 22.1-4.4 18.1-4.7 18.2-6.1 20.1-8.2 16.1-7.4 14.1-7.2 12.1-6.8 14.1-8.9 20.1-13.8 26.9-20.3 21.4-15 4-3.3 14.1-13.5 4.1-2.4 2-0.7 0.8 0.6-0.8 3.9-2.1 4.2-9 14.1-4.3 8-3.4 10.1-13.4 28.2-17.2 28.2-12.1 26.2-1.1 2-1.7 2-20.3 16.7-24.8 13.5-11.4 5.1-36.3 12.7-46.3 11-52.3 9.7-48.7 5.8-45.9 4.3-32.3 1.9-16.1 0.8-8-1.2-10.1 0.1-12.1 0.8-18.1 2.4-4-0.2-2 0.3-10.8-3.2-329.5 0zM636.8 554.2l3.1 1.4 2-0.2 18.1-6.3 5.4-2.9 1.7-2.1 1.6-4-0.6 0-2 2-2 0-2.1 2-4 0-2 2.1-2 0-2 2-2 0-2 2-2.1 0-2 2-2 0-2 2z"/>
<path fill="#0076ff" d="M297.6 757.6l819.4 0 0-438.9-2 0-2 2-2 0-2 2-2 0-2 2-2.1 0-2 2-2 0-2 2-2 0-2 2-2 0-2 2.1-2.1 0-2 2-2 0-2 2-2 0-2 2-2 0-2.1 2-2 0-2 2-2 0-2 2-2 0-2 2-2 0-2.1 2.1-2 0-2 2-2 0-2 2-2 0-2 2-2.1 0-2 2-2 0-2 2-2 0-2 2-2 0-2 2.1-2.1 0-2 2-2 0-2 2-2 0-2 2-2 0-2 2-2.1 0-2 2-2 0-2 2-2 0-2 2-2 0-2.1 2.1-2 0-2 2-2 0-2 2-2 0-2 2-2 0-2.1 2-2 0-2 2-2 0-2 2-4 0-2.1 2.1-2 0-2 2-2 0-2 2-2 0-2 2-2 0-2.1 2-2 0-2 2-2 0-2 2-2 0-2 2-2.1 0-2 2.1-2 0-2 2-2 0-2 2-2 0-2 2-2.1 0-2 2-2 0-2 2-2 0-2 2-2 0-2.1 2.1-2 0-2 2-2 0-2 2-2 0-2 2-2 0-2.1 2-2 0-2 2-2 0-2 2-2 0-2 2-2.1 0-2 2.1-2 0-2 2-2 0-2 2-2 0-2 2-2.1 0-2 2-2 0-2 2-2 0-2 2-2 0-2 2.1-2.1 0-2 2-2 0-2 2-2.1 0.1 8.1 4.4 4.1 1 4 0.6 10.2-0.1 18-2.1 16.1-3.1 16.1-4.4 16.1-5.6 18.1-7.5 16.1-7.5 14.1-7.3 12.1-7.1 14.1-9 16.1-11 26.9-19.9 21.4-14.7 18.1-16.4 8.1-5.4 1.2 0.2 0.4 2-1.5 4.1-4.5 8-6.7 10.1-4.6 8-2.6 6.1-1.9 6-14 29.7-16 26.7-12.2 26.2-2.7 4-19.5 16.8-23.3 13.4-12.9 6.1-36.3 12.6-49.4 11.5-53.2 9.4-40.8 4.7-43.8 4-56.4 3.4-8-1.2-12.1 0.1-10.1 0.6-18.1 2.4-6 0-11.8-3.3-328.5 0zM637.2 554.2l2.7 1.2 2-0.2 14.1-4.8 5.3-2.2 3.2-2 1.6-1.7 2-4.4-2 2-2 0-2.1 2-4 0-2 2.1-2 0-2 2-2 0-2 2-2.1 0-2 2-2 0-2 2z"/>
<path fill="#0080ff" d="M297.6 757.6l819.4 0 0-438.9-2 0-2 2-2 0-2 2-2 0-2 2-2.1 0-2 2-2 0-2 2-2 0-2 2-2 0-2 2.1-2.1 0-2 2-2 0-2 2-2 0-2 2-2 0-2.1 2-2 0-2 2-2 0-2 2-2 0-2 2-2 0-2.1 2.1-2 0-2 2-2 0-2 2-2 0-2 2-2.1 0-2 2-2 0-2 2-2 0-2 2-2 0-2 2.1-2.1 0-2 2-2 0-2 2-2 0-2 2-2 0-2 2-2.1 0-2 2-2 0-2 2-2 0-2 2-2 0-2.1 2.1-2 0-2 2-2 0-2 2-2 0-2 2-2 0-2.1 2-2 0-2 2-2 0-2 2-4 0-2.1 2.1-2 0-2 2-2 0-2 2-2 0-2 2-2 0-2.1 2-2 0-2 2-2 0-2 2-2 0-2 2-2.1 0-2 2.1-2 0-2 2-2 0-2 2-2 0-2 2-2.1 0-2 2-2 0-2 2-2 0-2 2-2 0-2.1 2.1-2 0-2 2-2 0-2 2-2 0-2 2-2 0-2.1 2-2 0-2 2-2 0-2 2-2 0-2 2-2.1 0-2 2.1-2 0-2 2-2 0-2 2-2 0-2 2-2.1 0-2 2-2 0-2 2-2 0-1.9 1.9 7.4 4.2 6.6 1.2 14.1 0.1 14.1-1.6 16.1-3.5 14.1-4.3 15.9-6 18.3-8 12.1-5.9 12-6.5 14.1-8.5 16.1-10.5 34.3-24.6 18.1-12 6-4.5 11-10.1 9.2-7 4-3.8 2-1.4 2 0 0.5 2.1-0.4 2-1.8 4-4.6 8.1-9.3 14.1-3.4 6-2.7 6.1-2.5 7.3-12 25.8-16.8 29.3-12.5 26.2-2.9 4.5-20.2 17.8-23.9 13.9-13.5 6-22.3 8.1-12.7 4-46.4 10.5-56.3 9.8-38.3 4.2-40.2 3.7-30.2 2.1-32.3 1.6-8-1.2-12.1 0.2-10.1 0.5-20.1 2.3-4-0.1-8.1-2.4-4.9-1-327.3 0zM637.5 554.2l2.4 1 2-0.2 16.1-5.7 5.7-3.1 1.9-2.1 1.5-3-1 1-2 0-2.1 2-4 0-2 2.1-2 0-2 2-2 0-2 2-2.1 0-2 2-2 0-2 2z"/>
<path fill="#0089ff" d="M297.6 757.6l819.4 0 0-438.9-2 0-2 2-2 0-2 2-2 0-2 2-2.1 0-2 2-2 0-2 2-2 0-2 2-2 0-2 2.1-2.1 0-2 2-2 0-2 2-2 0-2 2-2 0-2.1 2-2 0-2 2-2 0-2 2-2 0-2 2-2 0-2.1 2.1-2 0-2 2-2 0-2 2-2 0-2 2-2.1 0-2 2-2 0-2 2-2 0-2 2-2 0-2 2.1-2.1 0-2 2-2 0-2 2-2 0-2 2-2 0-2 2-2.1 0-2 2-2 0-2 2-2 0-2 2-2 0-2.1 2.1-2 0-2 2-2 0-2 2-2 0-2 2-2 0-2.1 2-2 0-2 2-2 0-2 2-4 0-2.1 2.1-2 0-2 2-2 0-2 2-2 0-2 2-2 0-2.1 2-2 0-2 2-2 0-2 2-2 0-2 2-2.1 0-2 2.1-2 0-2 2-2 0-2 2-2 0-2 2-2.1 0-2 2-2 0-2 2-2 0-2 2-2 0-2.1 2.1-2 0-2 2-2 0-2 2-2 0-2 2-2 0-2.1 2-2 0-2 2-2 0-2 2-2 0-2 2-2.1 0-2 2.1-2 0-2 2-2 0-2 2-2 0-1.1 1.1 4.7 2.9 4.3 2 6.2 1.4 8 0.3 12.1-1.2 12.1-2.3 14.1-4.1 16.1-6.1 18.1-7.8 12.1-5.9 12-6.5 26.2-16.4 34.2-24.1 18.2-11.8 6-4.4 12.1-10.5 9.7-7.3 4.4-5.4 2-1.9 2-1 2.1 0.3 1.9 1 0.3 1-0.7 2-5.4 10.1-15.5 24.1-3.8 8.1-2.8 8-12.3 26.5-16.8 29.9-11.5 24.2-3.9 5.7-18.2 16.6-6 4-16.8 9.9-13.4 6.3-21.2 7.8-12.4 4-25.3 6.1-28.9 6-46.8 8-14.4 2-38.2 3.8-46.3 3.8-48.4 2.5-8-1.1-14.1 0.2-10.1 0.6-18.1 2-4-0.2-8.1-2.3-6.3-1.2-325.9 0zM637.8 554.2l2.1 0.8 2-0.1 13.2-4.7 4.5-2 3.3-2 2-2.1 1.3-2.1-2.1 0.1-2.1 2-4 0-2 2.1-2 0-2 2-2 0-2 2-2.1 0-2 2-2 0-2 2z"/>
<path fill="#0092ff" d="M297.6 757.6l819.4 0 0-438.9-2 0-2 2-2 0-2 2-2 0-2 2-2.1 0-2 2-2 0-2 2-2 0-2 2-2 0-2 2.1-2.1 0-2 2-2 0-2 2-2 0-2 2-2 0-2.1 2-2 0-2 2-2 0-2 2-2 0-2 2-2 0-2.1 2.1-2 0-2 2-2 0-2 2-2 0-2 2-2.1 0-2 2-2 0-2 2-2 0-2 2-2 0-2 2.1-2.1 0-2 2-2 0-2 2-2 0-2 2-2 0-2 2-2.1 0-2 2-2 0-2 2-2 0-2 2-2 0-2.1 2.1-2 0-2 2-2 0-2 2-2 0-2 2-2 0-2.1 2-2 0-2 2-2 0-2 2-4 0-2.1 2.1-2 0-2 2-2 0-2 2-2 0-2 2-2 0-2.1 2-2 0-2 2-2 0-2 2-2 0-2 2-2.1 0-2 2.1-2 0-2 2-2 0-2 2-2 0-2 2-2.1 0-2 2-2 0-2 2-2 0-2 2-2 0-2.1 2.1-2 0-2 2-2 0-2 2-2 0-2 2-2 0-2.1 2-2 0-2 2-2 0-2 2-2 0-2 2-2.1 0-1 1.1 5.1 4.4 2 1 4 1.1 8.1 0.6 12-1.1 12.1-2.5 10.1-3.1 19.2-7.5 17-7.5 16.1-8.3 20.6-12.4 15.7-10.2 26.1-18.4 18.2-11.7 8-6.1 9.5-7.9 8.7-6.1 1.9-2 4.1-7.5 2-2.3 2-1.3 2-0.2 2-1 2-0.1 2.1 1.6 0.8 2.8-0.2 2-1.1 2-5.6 7.2-7.9 12.9-7.1 10.1-3.7 6-2.9 6.1-3.9 10-12.7 27.8-15.8 28.6-11.6 24.2-4.1 6-14.6 14.1-4.3 3.6-20.1 12.6-7.5 3.9-8.6 3.7-30.2 10.7-14.4 3.7-38.3 8.1-60.6 10.1-43.7 4.2-46.3 3.7-24.2 1.3-24.2 1.1-8-1.1-16.1 0.3-26.2 2.4-4-0.2-8.1-2.4-8.6-1.3-21.6 0.6-34.2-0.6-267.8 0zM638.2 554.2l1.7 0.6 2-0.1 14.1-5.2 6.1-3.3 2.2-2.1 1.3-2-1.5 0-2.1 2-4 0-2 2.1-2 0-2 2-2 0-2 2-2.1 0-2 2-2 0-2 2z"/>
<path fill="#009cff" d="M297.6 757.6l819.4 0 0-438.9-2 0-2 2-2 0-1.6 1.6 1.1 6.4-0.3 4.1-0.8 2-1.6 2-4.9 3.9-2 2.4-19 27.9-4.1 8.1-3.9 10-13.2 29.1-15.8 29.3-10.7 22.2-4 6-17.8 17.4-6.1 4.4-16.1 10-6 3.2-8.1 3.5-22.1 8.2-10.1 3.2-18.4 4.5-29.4 6-47.6 8-19.4 2.9-58.3 5.2-30.2 2.3-24.2 1.3-24.2 0.9-8-0.9-16.1 0.2-26.2 2.3-4-0.3-10.1-2.7-8-0.9-20.2 0.7-34.2-0.5-267.8-0.1zM638.7 554.2l1.2 0.5 3-0.5 13.1-5.1 5.4-2.9 2.2-2.1 1.4-2-0.9 0-2.1 2-4 0-2 2.1-2 0-2 2-2 0-2 2-2.1 0-2 2-2 0-2 2zM895.4 439.5l6.2 0.5 8.1-0.5 8-1.4 8.1-2.2 12.8-4.5 19.4-7.8 10.1-4.6 10-5.2 18-10.6 16.3-10.2 28.1-19.5 22.2-14.6 14.1-11.1 10-6.7 1.1-2.3 1.7-6.8-0.7 0.8-2.1 0-2 2-2 0-2 2-2 0-2 2-2 0-2.1 2-2 0-2 2-2 0-2 2-2 0-2 2-2 0-2.1 2.1-2 0-2 2-2 0-2 2-2 0-2 2-2.1 0-2 2-2 0-2 2-2 0-2 2-2 0-2 2.1-2.1 0-2 2-2 0-2 2-2 0-2 2-2 0-2 2-2.1 0-2 2-2 0-2 2-2 0-2 2-2 0-2.1 2.1-2 0-2 2-2 0-2 2-2 0-2 2-2 0-2.1 2-2 0-2 2-2 0-2 2-4 0-2.1 2.1-2 0-2 2-2 0-2 2-2 0-2 2-2 0-2.1 2-2 0-2 2-2 0-2 2-2 0-2 2-2.1 0-2 2.1-2 0-2 2-2 0-2 2-2 0-2 2-2.1 0-2 2-2 0-2 2-2 0-2 2-2 0-2.1 2.1-2 0-2 2-2 0-2 2-2 0-2 2-2 0-2.1 2-2 0-2.1 2 4.5 4z"/>
<path fill="#00a5ff" d="M297.6 757.6l819.4 0 0-438.9-2 0-0.4 0.4 0.5 5.6-0.3 6-0.8 4.1-1.1 2-1.9 1.4-6 2.4-2.1 1.7-4 5-7.7 11.6-7.4 10.1-2.4 4-3 6.1-4 10-13.7 30.4-14.9 28-10.8 22.2-4.5 6.8-12.1 12.5-5.2 4.8-4.9 3.6-16.3 10.5-7.4 4-6.5 2.8-31.1 11.3-16.4 4.1-29.5 6-23.1 4-50.9 7.9-78.5 6.3-32.2 1.8-24.2 0.9-8-0.9-16.1 0.2-26.2 2.1-4-0.3-10.1-2.6-8-0.9-20.2 0.9-34.2-0.6-267.8 0zM639.2 554.2l0.7 0.3 2.4-0.3 15.1-6 4.6-3.2 2.4-2.9-2.4 2-4 0-2 2.1-2 0-2 2-2 0-2 2-2.1 0-2 2-2 0-2 2zM903.5 433.4l4.2 0.8 6 0 6-0.8 7.7-2 28.6-10.3 12.1-5.3 8.8-4.5 17.4-10.1 20.1-12.3 44-30 16.4-13.1 6-4.2 2.1-0.8 1.6-2-1.5-4-2.2 2-2.2 0.1-1.8 1.9-2 0-2.1 2-2 0-2 2-2 0-2 2-2 0-2 2-2 0-2.1 2.1-2 0-2 2-2 0-2 2-2 0-2 2-2.1 0-2 2-2 0-2 2-2 0-2 2-2 0-2 2.1-2.1 0-2 2-2 0-2 2-2 0-2 2-2 0-2 2-2.1 0-2 2-2 0-2 2-2 0-2 2-2 0-2.1 2.1-2 0-2 2-2 0-2 2-2 0-2 2-2 0-2.1 2-2 0-2 2-2 0-2 2-4 0-2.1 2.1-2 0-2 2-2 0-2 2-2 0-2 2-2 0-2.1 2-2 0-2 2-2 0-2 2-2 0-2 2-2.1 0-2 2.1-2 0-2 2-2 0-2 2-2 0-2 2-2.1 0-2 2-2 0-2 2-2 0-2 2-2 0-2.1 2.1-2 0-2 2-2 0-2 2-2.2 0.2 4.2 3.9z"/>
<path fill="#00afff" d="M297.6 757.6l818.1 0 0-72.5-0.4-12.1 1.1-12.1 0.6-12.9 0-305.6-2 0.3-8-1.4-2 0.7-6.1 6.7-6.9 10.2-7.6 10.1-5.4 10.1-4.1 10-14.2 31.7-15 28.7-9.8 20.2-3.4 5.4-4 4.7-11.6 12-4.5 4-22.2 14.6-7.1 3.5-9 3.7-22.1 8.1-7.9 2.3-27.7 6.1-21.5 4-67.8 10.5-44 3.6-60.7 4-30.2 1-8-0.8-16.1 0.2-26.2 1.9-4-0.3-10.1-2.5-8-0.9-22.2 1-30.2-0.6-269.8 0zM639.7 554.2l2.2 0 2-0.7 12.8-5.3 3.3-2 3-3-1 0.9-4 0-2 2.1-2 0-2 2-2 0-2 2-2.1 0-2 2-2 0zM912.2 427.4l3.5 0.8 6.1-0.4 16.1-4.3 23.3-8.2 8.9-3.9 7.9-4.2 37.4-22.1 34.4-24.2 5-4 4.2-4 2.9-4 1.3-4.1-0.5 0-2 2-2 0-2.1 2.1-2 0-2 2-2 0-2 2-2 0-2 2-2.1 0-2 2-2 0-2 2-2 0-2 2-2 0-2 2.1-2.1 0-2 2-2 0-2 2-2 0-2 2-2 0-2 2-2.1 0-2 2-2 0-2 2-2 0-2 2-2 0-2.1 2.1-2 0-2 2-2 0-2 2-2 0-2 2-2 0-2.1 2-2 0-2 2-2 0-2 2-4 0-2.1 2.1-2 0-2 2-2 0-2 2-2 0-2 2-2 0-2.1 2-2 0-2 2-2 0-2 2-2 0-2 2-2.1 0-2 2.1-2 0-2 2-2 0-2 2-2 0-2 2-2.1 0-2 2-2 0-2 2-2 0-2 2-2 0-1.2 1.2 3.2 3.3z"/>
<path fill="#00b8ff" d="M297.6 757.6l812.3 0-0.4-8.1 1.6-44.3 0.3-34.2 3.3-26.2 2.3-45 0-236-0.4-6.9-1.6-6.3-2.7-3.8-2-2-3.3-1.8-2 0.7-6.1 6.3-6.2 8.9-7.7 10.1-6.2 11.8-16.1 37.1-25.9 51.8-5.5 8-12.9 14.1-4 3.7-6.1 4.4-14.1 9.5-6 3.5-6.7 3.1-10.6 4-16.9 6.3-8.1 2.4-24.7 5.4-21.2 4-72.9 11.2-38.2 3-64.4 4.1-32.3 1.1-8-0.7-16.1 0.1-26.2 1.7-4-0.3-10.1-2.4-8-0.8-22.2 1-30.2-0.5-269.8-0.1zM641.9 552.2l-1.9 1.9 3.9-0.8 7.8-3.1 6.3-3.2 3.7-2.9-3.7 0-2 2.1-2 0-2 2-2 0-2 2-2.1 0-2 2zM919 417.3l2.8 1.2 4 0.5 12.1-1.4 16.8-4.3 9.3-3.2 6.5-2.9 32-18.1 16.5-10 18-14.1 5.5-6.1 2.5-4.5-0.4 0.5-2.1 0-2 2-2 0-2 2-2 0-2 2-2 0-2 2.1-2.1 0-2 2-2 0-2 2-2 0-2 2-2 0-2 2-2.1 0-2 2-2 0-2 2-2 0-2 2-2 0-2.1 2.1-2 0-2 2-2 0-2 2-2 0-2 2-2 0-2.1 2-2 0-2 2-2 0-2 2-4 0-2.1 2.1-2 0-2 2-2 0-2 2-2 0-2 2-2 0-2.1 2-2 0-2 2-2 0-2 2-2 0-2 2-2.1 0-2 2.1-2 0-2 2-2 0-2 2-2 0-2 2-2.1 0-1.5 1.6z"/>
<path fill="#00c2ff" d="M297.6 757.6l809.6 0-0.2-10.1 2.7-78.5 5.3-48.2 0.9-16.3 1.1-13 0-209.5-0.8-15-1.3-6.1-0.6-6-0.8-2-5.1-6.1-1.4-1.2-2 0.2-2.1 1.4-4 4.2-5.3 7.5-8.1 10.1-2.4 4-3.9 8.1-16.5 38.1-25 50.5-5.5 8-12.5 14.1-4.2 4-5.2 4-16.1 11.1-5.3 3-9.4 4.1-23.5 8.8-10.1 3.1-40.7 8.2-80.1 12-100.6 6.6-32.3 1-8-0.6-18.1 0.2-24.2 1.4-4-0.3-10.1-2.3-8-0.8-22.2 1.2-30.2-0.6-269.8 0zM641.9 552.2l-1.6 1.7 3.6-0.8 7.2-2.9 6.9-3.6 3.1-2.5-3.1 0-2 2.1-2 0-2 2-2 0-2 2-2.1 0-2 2zM939.9 405.2l8 1.7 4.1 0.1 10-1.5 6.4-2.3 45.9-26.2 6.3-6 4.2-6.4-0.4 0.4-2 0-2 2-2 0-2 2-2 0-2 2-2.1 0-2 2-2 0-2 2-2 0-2 2-2 0-2.1 2.1-2 0-2 2-2 0-2 2-2 0-2 2-2 0-2.1 2-2 0-2 2-2 0-2 2-4 0-2.1 2.1-2 0-2 2-2 0-2 2-2 0-2 2-2 0-2.1 2-2 0-2 2-2 0-2 2z"/>
<path fill="#00cbff" d="M297.6 757.6l807.7 0-0.1-12.1 3.2-76.5 3.6-38.3 2.3-14.1 2.7-33.1 0-159.7-0.4-30.6-1.1-22.2-0.6-4-2.3-6.1 0-6-1.2-2-4.4-4.5-2-0.6-2.1 0.9-4 4-4.5 6.2-8.3 10.1-2.4 4-4 8.1-19 43.6-21 42.9-3.6 6.1-3 4-12.7 14.8-3.4 3.3-4.6 3.7-16.2 11.4-6 3.7-12.8 5.4-23.4 8.7-6.1 1.8-42.3 8.4-78.5 11.6-38.2 2.7-64.4 3.9-32.3 0.9-8-0.6-18.1 0.1-24.2 1.3-4-0.3-10.1-2.2-8-0.8-22.2 1.3-30.2-0.6-269.8 0zM641.9 552.2l-1.4 1.4 3.4-0.7 6.6-2.7 5.5-2.8 4.5-3.3-2.5 0-2 2.1-2 0-2 2-2 0-2 2-2.1 0-2 2zM968.1 391.1l-1.6 1.6 3.2-1.6z"/>
<path fill="#00d4ff" d="M297.6 757.6l806.1 0-0.2-10.1 1.3-36.3 2.6-42.2 3.1-38.3 2.8-14.1 1.2-14.1 1.7-14.1 0.7-16.1 0.1-117.5-0.9-59.6-0.4-10.1-1.1-12.1-1.1-6-2.7-6.1-0.1-2 0.7-2-0.2-2-1.4-2-2.8-2.6-2-0.8-2.1 0.6-4 3.9-5.2 6.9-7 8.1-2.4 4-4 8.1-17.6 40.7-9.2 19.7-12.9 26.1-2.3 4.1-3.8 5.4-14.1 16.8-4 3.8-4 3-16.2 11.6-6 3.7-6 2.6-30.2 11.3-6.1 1.8-44.3 8.4-78.5 11.2-100.6 6.1-32.3 0.8-8-0.5-18.1 0.1-22.2 1.1-6-0.3-8.1-1.8-10-1-22.2 1.4-30.2-0.7-269.8 0zM641.9 552.2l-1.2 1.2 4.5-1.2 8.8-4 3.4-2 2.5-2.1-1.9 0-2 2.1-2 0-2 2-2 0-2 2-2.1 0-2 2z"/>
<path fill="#00deff" d="M297.6 757.6l804.6 0-0.3-10.1 1.5-36.3 5.9-80.5 3.3-16.1 1-12.1 1.2-6 1.2-12.1 0.5-14.1 0.5-72.5-0.3-40.2-1-56.4-0.5-14.1-0.8-8-1.6-10.1-3.1-8.1 0-2 0.7-2-0.2-2-3.2-3.2-2-0.8-2.1 0.5-2 1.7-6.4 7.8-5.6 6.2-2.9 3.9-9.8 20.1-10.9 26.2-10 22.2-13.8 28.1-3.6 6.1-2.9 4-14.6 17.7-6 5.1-18.2 13.2-4 2.5-8.5 3.8-33.8 12.3-42.2 8-82.6 11.6-100.6 5.8-32.3 0.8-8-0.5-20.1 0.2-20.2 0.9-6-0.4-8.1-1.7-10-1-22.2 1.5-30.2-0.7-269.8 0zM641.9 552.2l-0.9 0.9 3.7-0.9 8.7-4 5.9-4.1-1.3 0-2 2.1-2 0-2 2-2 0-2 2-2.1 0-2 2z"/>
<path fill="#00e7ff" d="M297.6 757.6l803.1 0-0.2-10.1 1.5-36.3 3.3-38.2 3.1-42.3 1.7-10 1.4-6.1 1.2-8 0.1-4.1 1.3-6 1.4-12.1 0.6-14.1 0.7-64.4-0.4-48.3-1.2-54.4-0.6-14.1-0.7-8-1.7-10.1-3.6-10.1 0.1-2 1-2-0.5-2-2.2-2-2-0.8-2.1 0.6-2 1.8-5.4 6.4-6.6 7-2.3 3.1-10 20.1-10.8 26.2-10.6 24.2-12.8 26.1-5 8.1-16.1 20.1-4.9 4.4-18.1 13.5-6.1 3.8-6 2.8-32.2 11.9-4.1 1.2-42.2 7.7-82.6 11.4-100.6 5.5-32.3 0.8-8-0.5-20.1 0.2-20.2 0.7-6-0.4-8.1-1.7-10-0.8-22.2 1.6-30.2-0.8-269.8 0zM641.9 552.2l-0.7 0.7 2.7-0.6 4.9-2.1 5.2-2.7 4.7-3.4-0.7 0-2 2.1-2 0-2 2-2 0-2 2-2.1 0-2 2z"/>
<path fill="#00f1ff" d="M297.6 757.6l801.7 0-0.3-10.1 1.8-38.3 3.6-36.2 3.1-42.3 1.3-10 1.6-6.1 0.4-4 1-4 0-4.1 1.7-6 1.4-10.1 0.8-14.1 0.4-18.1 0.4-46.3-0.3-34.2-1.5-70.5-0.7-14.1-0.9-8-1.9-10.1-3.5-10.1 0.3-2 0.9-2-0.9-2-1-0.9-2-0.6-2.1 0.8-14 14.5-2.1 2.8-10 20.4-20.7 49.6-12.7 26.1-5 8.1-16 20.4-6 5.3-18.1 13.6-6.1 3.8-6 2.6-34.7 12.7-43.8 7.9-82.6 11-100.6 5.3-32.3 0.7-6-0.4-22.1 0.2-20.2 0.5-6-0.3-8.1-1.7-10-0.8-22.2 1.7-30.2-0.8-269.8 0zM641.9 552.2l-0.5 0.5 2-0.5zM645.9 550.2l-1.7 1.7 8-3.7 3.4-2-1.6 0-2 2-2 0-2 2z"/>
<path fill="#00faff" d="M297.6 757.6l800.4 0-0.4-10.1 1.9-38.3 4-36.2 3.1-42.3 1.1-10 1.5-6.1-0.2-2 0.4-2 1.6-4-0.5-2.1 0.3-2 1.6-4 2-12.1 1.1-24.1 0.7-56.4-0.5-46.3-1.2-48.3-1-20.2-1.1-10-2.1-10.1-3.6-10.1 1.3-4-1-1.8-2.5-0.2-13.6 12.6-2 2.1-2.1 3-10 20.3-19.8 48.6-12.7 26.1-4.9 8.1-17 21.9-4 3.6-20.1 15.2-5.9 3.6-4.5 2-35.9 13-42.3 7.5-84.6 11.1-100.6 5.1-32.3 0.6-8-0.4-40.3 0.6-6-0.4-8.1-1.6-10-0.7-22.2 1.7-30.2-0.8-269.8 0zM641.9 552.2l-0.2 0.2 1-0.2zM645.9 550.2l-1.3 1.3 3-1.3zM650 548.2l-1.7 1.7 3.4-1.7zM654 546.2l-1.5 1.5 2.5-1.5z"/>
<path fill="#00fffa" d="M297.6 757.6l799 0-0.4-10.1 2-38.3 4.4-36.2 3.2-42.3 0.9-10 1.2-6.1-0.3-2 2.2-6-1-2.1 3-6 2.2-12.1 0.9-14.1 0.5-18.1 0.4-46.3-0.2-34.2-1.6-62.4-1.1-20.2-1.3-10-2.3-10.1-4-10.1-0.1-2 1.9-2-2.1-0.2-0.9 2.2-3.2 1.1-2 1.2-8 7.1-2 2.2-1.7 2.5-10.1 20.2-19.2 48.3-12.6 26.1-4.9 8.1-16.9 22.1-4.4 4.1-20.8 15.9-4.1 2.5-6 2.7-36.2 13.1-42.3 7.2-84.6 10.8-100.6 4.9-32.3 0.5-6-0.3-42.3 0.4-6-0.4-8.1-1.5-10-0.7-22.2 1.9-30.2-0.9-269.8 0zM645.9 550.2l-0.8 0.9 2-0.9zM650 548.2l-1.2 1.1 2.3-1.1zM654 546.2l-0.6 0.6 1-0.6z"/>
<path fill="#00fff1" d="M297.6 757.6l797.5 0-0.3-10.1 2-38.3 4.8-36.2 3.4-42.3 1.6-14.1 0-4 1.9-6-0.8-2.1 3.4-6 2.4-12.1 1.3-24.1 0.7-56.4-0.4-40.3-1.2-46.3-2-32.2-1.9-10.1-1.5-6-1.5-4-2-3.8-2.1-1.7-2 0.1-4 2.4-6 5.2-2 2.2-11.3 21.8-19.7 50.3-12.6 26.2-3.8 6-18.5 24.2-22.7 17.8-6.1 3.8-6 2.7-36.2 12.9-42.4 7-84.5 10.5-100.6 4.7-32.3 0.5-6-0.3-42.3 0.2-6-0.4-8.1-1.4-10-0.6-8.1 0.5-8 1.2-6.1 0.3-30.2-1-269.8 0zM645.9 550.2l-0.4 0.4 1-0.4zM650 548.2l-0.6 0.5 1.1-0.5z"/>
<path fill="#00ffe7" d="M297.6 757.6l796 0-0.3-10.1 2.1-38.3 5.5-39.3 4.2-49.2 0.9-8.1 1-4-0.2-4.1 3.7-6 2.2-10.1 1.3-14.1 0.5-12 0.7-56.4-0.4-40.3-1.3-46.3-1.2-20.1-1.1-12.1-1.5-8-2.1-8.1-1.6-4-1-2-2.1-1.8-2-0.2-2 0.8-4 2.9-4 3.4-2 2.4-10.8 20.7-19.2 50.3-11.5 24.1-4.8 8.1-18.2 24.1-4 3.6-18.8 14.6-7.4 4.7-6 2.7-36.2 12.7-42.3 6.8-84.6 10.2-100.6 4.5-32.3 0.4-46.3-0.1-8-0.5-8.1-1.4-10-0.4-8.1 0.5-8 1.2-6.1 0.3-30.2-1-269.8 0z"/>
<path fill="#00ffde" d="M297.6 757.6l794.5 0-0.2-12.1 2-36.3 6.3-42.2 3.2-36.3 2-18.1 1-4 0-4.1 0.6-1.5 2.9-4.5 2.7-12.1 1.1-14.1 0.7-18.1 0.5-56.4-0.6-38.2-1.2-40.3-1.3-20.1-1.2-12.1-2.1-10.1-1.8-6-1.6-4-2.2-2.3-2-0.4-2 0.7-6 4.2-2.1 1.8-1.9 2.7-10.3 19.5-18.8 50.3-10.2 22.1-5.8 10.1-18.1 24.2-5.3 4.9-18.1 14.1-6.1 4-8 3.6-32.2 11.4-4 1.1-42.3 6.7-84.6 10-100.6 4.3-32.3 0.3-46.3-0.2-10-0.8-6.1-1.1-10-0.4-8.1 0.6-8 1.3-6.1 0.3-30.2-1.1-269.8 0z"/>
<path fill="#00ffd4" d="M297.6 757.6l792.9 0-0.2-12.1 2.1-36.3 6.5-41 3.7-37.5 2.2-18.1 1-4 0.2-4.1 0.7-2 2.6-4 2.9-12.1 1.5-24.1 0.9-56.4-0.5-40.3-1.2-40.2-1.3-22.2-1.4-14.1-1.9-10-3.3-10.3-2.1-2.7-2-0.5-2 0.5-6 4-2 1.9-2 2.9-10.1 18.9-18.8 51.7-9.3 20.1-5.7 10.1-18.6 24.8-4 4-17.2 13.5-9 6.1-8 3.5-30.2 10.6-6 1.8-42.3 6.5-84.6 9.7-100.6 4.1-32.3 0.3-38.2-0.2-10.1-0.3-14.1-1.7-10-0.3-8.1 0.6-8 1.3-6.1 0.4-30.2-1.2-269.8 0z"/>
<path fill="#00ffcb" d="M297.6 757.6l791.3 0-0.1-14.1 1.4-26.2 0.9-10.1 6.2-36.2 4.4-40.3 3.8-26.2 0.8-2 2.4-4 3.1-12.1 1.3-18.1 0.8-22.1 0.4-40.3-0.5-40.3-1.1-36.2-1.3-22.2-1.8-18.1-2-10-2.6-8-2.1-3.4-2-0.8-2 0.4-6 3.8-2 2-2 3.1-6.1 10.7-4 8.1-8.1 22.1-9.7 28.4-9 20.1-5.7 10.1-19.7 26.2-4.2 3.9-18 14.2-8.2 5.3-8 3.5-34.2 11.6-44.3 6.9-84.6 9.4-100.6 3.9-64.5 0.2-14.1-0.4-10-0.9-4.1-0.7-12-0.5-8.1 0.7-8 1.4-6.1 0.4-30.2-1.2-269.8 0z"/>
<path fill="#00ffc2" d="M297.6 757.6l789.7 0-0.1-14.1 1.3-26.2 1-10.1 6.7-38.2 3.8-32.2 5.1-32.3 0.7-2 2.3-4 3.3-12.1 1.4-18.1 0.8-22.1 0.4-38.3-0.5-40.3-1.1-36.2-1.3-22.1-1.8-18.2-1.9-10-2.6-8.1-1.9-3.4-2-1.2-2 0.2-4 2-2 1.5-2 2.2-2 3.2-6.1 10.5-4 8.3-8.1 22.8-8.6 26.4-8.9 20.1-5.6 10.1-19.6 26.2-5.6 5.3-13.6 10.8-6.5 4.9-5.2 3.1-10.9 4.6-32.2 10.8-44.3 6.7-84.6 9.1-100.6 3.8-64.5 0.2-14.1-0.6-16.1-1.7-10-0.3-8.1 0.8-8 1.4-6.1 0.4-30.2-1.3-269.8 0z"/>
<path fill="#00ffb8" d="M297.6 757.6l788 0-0.1-14.1 1.4-26.2 0.9-10.1 7.1-38.9 4.5-33.6 5.3-30.2 2.9-6 3.4-12.1 1.4-18.1 0.8-20.1 0.5-40.3-0.5-40.3-1.3-38.2-1.3-20.1-2.2-20.2-1.7-8-3-8.1-0.8-1.4-2-1.6-2-0.1-4 1.8-2 1.6-2 2.3-6.1 10-4 7.3-2 4.7-6.1 17.7-9.5 30.2-3.2 8.1-4.5 10-4.1 8.1-3.8 6-19.1 25.2-5.3 5-10.8 8.8-8.1 6.1-6 3.8-6.1 2.9-6 2.3-24.7 8.3-7.5 2.2-44.3 6.6-84.6 8.8-100.6 3.6-64.5 0.2-14.1-0.7-14.1-1.6-12-0.2-8.1 0.7-8 1.5-6.1 0.3-30.2-1.3-269.8 0z"/>
<path fill="#00ffaf" d="M297.6 757.6l786.4 0-0.1-14.1 1.3-26.2 1-10.1 7.4-40.2 4.4-30.2 6.3-32.3 3.4-8 3-10.1 1.3-18.1 0.9-20.1 0.5-40.3-0.6-40.3-1.2-36.2-1.5-22.1-2.1-18.2-1.5-8-2.8-8.1-0.8-1.4-2-2-2-0.4-2 0.5-2 1.1-2 1.7-2 2.4-6.1 9.8-3.6 6.5-2.5 6-6 18.1-9.1 30.2-7.7 18.1-3.1 6.1-3.8 6-20 26.2-6.6 6.1-12.1 9.7-6 4.5-6 3.6-6.1 2.9-6 2.2-24.2 8.1-8 2.3-44.3 6.3-84.6 8.6-100.6 3.4-62.5 0.2-16.1-0.8-6-1-8.1-0.6-12-0.1-8.1 0.7-8 1.6-6.1 0.3-30.2-1.3-269.8 0z"/>
<path fill="#00ffa5" d="M297.6 757.6l784.7 0-0.1-14.1 1.4-28.2 1.2-10.1 7.9-42.3 5.5-32.2 5.1-22.1 0.6-4.1 2.6-6 3.9-12.1 1.2-18.1 0.9-20.1 0.6-40.3-0.6-40.3-1.3-36.2-1.6-22.1-2.2-18.2-2.2-10-2.3-5.6-2-2.3-2-0.6-2 0.4-2 1.1-2 1.7-2 2.5-8.1 13-2.7 5.9-3.6 10-12.5 42.3-5.8 14.1-4 8.1-3.7 6-20 26.2-6.1 5.9-12 9.8-8.1 5.9-6 3.6-6.1 2.7-8 3-22.2 7.2-7.7 2.1-8.4 1.5-34.3 4.6-84.5 8.3-102.6 3.5-62.5 0.1-16.1-0.9-6-1.1-10.1-0.6-12 0.2-5.3 0.6-8.8 1.6-8.1 0.4-28.2-1.3-269.8 0z"/>
<path fill="#00ff9c" d="M297.6 757.6l783 0-0.1-14.1 1.4-28.2 1.1-10.1 12.9-68.4 6.9-28.2 0.7-4.1 2.5-6 1.8-6 2.2-6.1 1.2-16.1 1-22.1 0.6-40.3-0.6-38.2-1.2-34.4-1.7-24-2.2-18.1-2-10.1-2.2-5.5-2-2.7-2-0.8-2 0.2-2 1.1-2 1.7-2 2.5-8.1 12.8-2.9 6.8-3.4 10.1-11.3 40.2-5.6 14.1-3.9 8.1-3.6 6-20.2 26.2-5.5 5.6-8 6.8-10.1 7.8-8 5.1-6.1 3-8 3-30.2 9.5-10.1 1.8-34.2 4.5-84.6 8-102.6 3.3-62.5 0.2-16.1-1.1-6-1.2-10.1-0.5-12 0.3-14.1 2.3-8.1 0.5-28.2-1.5-269.8 0z"/>
<path fill="#00ff92" d="M297.6 757.6l781.4 0-0.3-10.1 1.6-34.2 2.4-16.1 4.4-24.2 7.6-36.2 9-34.3 1.9-4 1.7-6 1.8-4.1 0.8-4 1.9-34.2 0.7-38.3-0.9-50.3-1.3-32.2-1.5-18.1-3-22.2-1.5-6-1.4-3.5-2-2.9-2-1-2 0.1-2 0.9-4 4.3-6.7 10.1-3 6.1-2.4 6.7-4 13.8-7.8 29.8-2.7 8.1-4.1 10-4.1 8.1-3.8 6-19.8 25.3-6.1 6-10 8.4-8.9 6.6-7.2 4.5-6.1 2.9-8 3-20.2 6.5-10 2.8-10.1 1.7-34.2 4.3-84.6 7.8-102.6 3.2-62.5 0.1-16.1-1.2-6-1.3-4 0.1-4.1-0.5-14 0.4-14.1 2.5-8.1 0.4-28.2-1.5-269.8 0z"/>
<path fill="#00ff89" d="M297.6 757.6l779.8 0-0.3-10.1 1.7-36.3 6-36.2 8.8-38.2 8.3-28.2 1.4-6.1 1.8-4 1.8-6 1.8-4.1 0.9-4 1.8-34.2 0.8-38.3-0.8-48.3-1.4-32.2-1-14.1-3.2-24.1-1.2-6.1-1.7-5.4-2-3.1-2-1.3-2-0.1-2 1-4 4.1-6.1 8.9-3 6-2.8 8-4.2 15.5-6.6 26.8-2.5 8.1-4.1 10-3.9 8.1-3.7 6-20.8 26.2-6.8 6.7-10 8.3-8.1 6-8 4.8-6.1 2.8-8 3-20.9 6.6-9.3 2.5-10.1 1.7-34.2 4.2-84.6 7.5-102.6 3.1-62.5 0.1-16.1-1.4-6-1.3-4 0.1-4.1-0.5-14 0.6-14.1 2.5-8.1 0.4-28.2-1.5-269.8 0z"/>
<path fill="#00ff7f" d="M297.6 757.6l778.2 0-0.3-10.1 1.6-36.3 6.2-38.2 9-36.2 7.3-22.2 3.2-12.1 1.8-4 1.8-6 2-4.1 0.9-4 0-4 1.8-30.2 0.8-38.3-0.9-48.3-1.4-32.2-1.1-14.1-1.5-12.7-2-12.5-2.5-9-1.6-2.7-2-1.5-2-0.1-2 0.9-4 3.9-6.5 9.6-2.8 6-2 6-3.2 12.1-7 30.2-2.7 8.8-4 10.2-4 8.3-4.1 6.4-19.8 24.7-6.3 6.5-9 7.6-9.2 6.9-8.3 5.2-7.8 3.6-8 3-20.2 6.3-10 2.6-10.1 1.6-34.2 4.1-84.6 7.3-102.6 2.8-62.5 0.1-10-0.6-8.1-1.2-4-1-4 0.1-4.1-0.4-14 0.7-14.1 2.5-8.1 0.4-28.2-1.5-269.8 0z"/>
<path fill="#00ff76" d="M297.6 757.6l776.6 0-0.3-10.1 1.6-36.3 6-38.2 1.8-8.1 7.8-28.1 7.8-22.1 2-6.2 1.4-6 1.8-4 1.9-6 2.1-4.1 0.9-4-0.1-4 1.8-30.2 0.9-38.3-1-48.3-1.5-34.2-1.5-16.1-3.2-20.1-1.5-6.3-1.5-3.8-2.5-2.4-2-0.3-2 0.8-4 3.8-6.1 8.6-2.6 5.6-3.1 10.1-9.6 42.2-2.6 8.1-3.3 8-3.9 8.1-3.7 6-19.6 24.2-7.9 8-8.1 6.9-10.1 7.6-8 4.8-6.1 2.9-8 3.1-20.1 6.2-10.1 2.7-10.1 1.8-34.2 4-86.6 7.2-102.6 2.7-62.5 0.1-12-0.9-10.1-2.1-8.1-0.3-14 1-12.1 2.2-10.1 0.7-28.2-1.6-269.8 0z"/>
<path fill="#00ff6d" d="M297.6 757.6l775 0-0.3-10.1 1.6-36.3 1.3-10 4.9-30.2 2.5-10.1 7.1-24.1 9.2-24.2 2-6 0.9-4.1 3.8-10 2.9-6.1 0.2-2-0.1-4 1.8-30.2 0.9-38.3-1-48.3-1.6-32.2-1.6-18.1-3.4-20.1-1-4.1-1.8-4.5-2-2.1-2-0.4-2 0.7-2 1.5-4 4.5-4.2 6.4-1.9 4.1-2.4 7.9-7.2 34.3-2.4 10-2.6 8.1-3.2 8-4.3 9.3-4.1 6.3-18.6 22.7-7.5 7.9-8.1 7-10 7.6-8.1 5.1-8.1 3.9-8 3-20.1 6.1-10.1 2.6-10.1 1.7-30.2 3.5-50.3 4.3-42.3 3.1-40.2 1.2-62.5 1.3-24.1-0.2-30.2 0.4-14.1-0.6-6-0.8-8.1-1.9-8.1-0.2-14 1.1-12.1 2.2-10.1 0.7-28.2-1.6-269.8 0z"/>
<path fill="#00ff63" d="M297.6 757.6l773.5 0-0.3-10.1 1.8-38.3 2.2-15.8 4-24.1 2.7-10.4 6.9-22.1 8.5-20.8 2.8-7.4 1.6-6.1 3.9-10 2.2-4.1 0.8-2 0.2-2 0-6 1.6-28.2 1-40.3-1.1-46.3-1.6-32.2-1.3-14.9-2.3-15.3-1.8-8-2-6.1-2-2.6-2-0.7-2 0.6-2 1.3-4 4.4-4.1 6.3-2 4.8-2.2 8.1-8.1 40.2-2.3 8.1-3.5 9.4-4 9-4 6.9-4.1 5.3-14.9 17.7-7.2 7.6-8.1 7.2-10 7.8-8.8 5.6-7.3 3.6-8.1 3.2-14.1 4.4-16.1 4.4-10.1 1.8-28.1 3.2-50.4 4.3-46.3 3.2-38.2 1.2-64.5 1.2-24.1-0.2-30.2 0.4-16.1-0.9-6.1-1-6-1.7-8.1 0-14 1.2-6.1 1.4-8 1.1-8.1 0.5-28.2-1.7-269.8 0z"/>
<path fill="#00ff5a" d="M297.6 757.6l771.9 0-0.1-12.1 1.7-36.3 2-16.1 4.1-24.1 3.2-12.1 6.5-20.1 10-22.8 7-19.5 4-8.1 0.3-2-0.2-6 1.6-28.2 1-40.3-0.8-40.2-1.8-36.3-1.2-14.1-2.8-18.1-3.1-11.5-2-3.1-2-0.9-2 0.3-2 1.2-4 4.1-3.7 5.9-2.4 6-1.5 6.1-5 28.1-2.6 12.1-2.2 8.1-2.9 8-4.3 10.1-4.5 8.1-4.7 6-13.6 16.1-7.7 8-9.4 8.5-10 7.7-8.1 5-8 3.9-10.1 3.8-28.2 7.9-12.1 2-26.1 2.8-50.4 4.2-46.3 3.1-38.2 1.1-64.5 1.1-24.1-0.2-32.2 0.4-10.1-0.5-6-0.7-10.1-2.6-8.1 0.1-12 1.2-16.1 2.7-8.1 0.4-28.2-1.7-269.8 0z"/>
<path fill="#00ff50" d="M297.6 757.6l770.4 0-0.1-12.1 1.6-36.3 2.3-18.1 4.2-24.1 3.4-12.1 6-18.1 11.5-24.9 6.5-17.4 4.2-8.1 0.3-2-0.2-8 1.5-26.2 1.1-40.3-0.9-40.2-1.9-36.3-1.2-14.1-2.5-16.1-2.9-10.7-2-3.7-2-1.2-2 0.1-2 1-2 1.7-2 2.3-2.9 4.5-1.8 4-1.7 6-4.7 28.2-2.9 14.1-2.2 8.1-4 10.9-4 9.4-4 7-5.4 6.9-12.1 14.1-8.7 9.2-8.1 7.3-9.8 7.7-8.3 5.3-8 4-10.1 4-18.1 5.3-12.1 3-10.1 1.7-28.1 3-52.4 4.1-44.3 2.8-38.2 1.1-64.5 1-56.3 0.2-14.1-0.9-6.1-1.2-6-1.9-8.1 0.2-14 1.6-14.1 2.4-8.1 0.5-28.2-1.7-269.8 0z"/>
<path fill="#00ff47" d="M297.6 757.6l768.9 0-0.1-12.1 1.8-38.3 2.6-20.1 4-22.2 3.5-12 6.4-18.2 12.2-24.8 6-15.4 4.1-7.3 0.6-2.8-0.1-12.1 1.4-22.1 1.1-40.3-0.9-40.2-2.1-37.7-1.5-14.7-2.6-15.1-2.9-9-1.1-2.1-2-1.6-2-0.1-2 0.8-2 1.6-2.8 3.4-2.3 4-1.5 4-1.4 6.1-3.2 22.1-2.9 15-2.3 9.2-3.8 11-4.5 11.1-3.5 6.7-4 5.5-11.9 14-9.3 10-9 8.5-10.1 8-8.8 5.7-9.3 4.6-10.1 3.9-30.2 8.2-12.1 1.8-26.1 2.7-52.4 3.9-44.3 2.6-38.2 1.1-64.5 1-58.3 0-12.1-0.7-6.1-1.4-6-2-8.1 0.3-28.1 4.2-8.1 0.5-20.1-1.5-8.1-0.3-269.8 0z"/>
<path fill="#00ff3d" d="M297.6 757.6l767.4 0-0.1-12.1 2-40.3 2.2-18.1 4-22.2 3.5-12 6.5-18.2 2.8-6 9-16.7 7.5-17.5 4.6-8 0.3-2.1-0.2-12.1 1.7-30.2 0.8-32.2-0.9-40.2-1.8-32.3-1.9-20.1-2.5-14.1-2.7-8-0.9-1.8-2-2-2-0.3-2 0.7-2 1.5-2 2.2-2.3 3.7-1.5 4-1 4-3 22.2-2.6 14.1-2.3 10.1-3.2 10-4.3 11.1-4.1 9.1-4.1 6-10.1 12.1-9.9 10.8-10 9.8-9.4 7.6-8.9 6-9.9 5.1-10.1 4.1-8 2.4-22.2 5.7-10 1.7-26.2 2.7-54.4 4-46.3 2.6-36.2 1-66.5 0.9-58.3 0.1-8.1-0.4-6-0.7-10.1-3.3-8.1 0.4-6 1.2-8 0.9-14.1 2.3-6.1 0.5-30.2-1.8-269.8-0.1z"/>
<path fill="#00ff34" d="M297.6 757.6l765.9 0-0.1-12.1 2.1-42.3 2.3-18.1 4.1-22.2 4.4-14.1 6-16.1 3-6 9.6-16.9 6.9-15.3 4.9-8.1 0.4-2-0.5-6 0.1-8.1 1.6-28.2 1-32.2-1-40.2-1.3-23.7-2-24.4-3.2-18.4-2.2-6-0.7-1.5-2-2.3-2-0.6-2 0.5-2 1.4-2 2.3-2.1 3.6-2 7.3-1.9 17.5-2 12-3.1 14.1-3 10.4-6.1 15.9-3.8 8-4.2 5.9-10.2 12.2-9.3 10-10.7 10.4-8.1 6.5-10 6.8-9.2 4.5-11 4.5-30.2 7.9-10 1.6-26.2 2.6-54.4 3.9-46.3 2.3-36.2 1-68.5 0.8-56.3 0.1-14.1-1.1-4.1-1.1-6-2.4-8.1 0.7-6 1.2-22.1 3.2-6.1 0.5-30.2-1.9-269.8 0z"/>
<path fill="#00ff2b" d="M297.6 757.6l764.4 0-0.1-12.1 2.4-46.3 3.2-22.2 3.2-16.1 6.7-20.1 4-10.1 13.5-23.3 6.4-12.9 5.1-8.1 0.4-2-0.5-6-0.1-8.1 1.5-22.1 1.3-38.3-1.1-40.2-0.9-16.7-2.2-27.6-1.9-13.1-1.8-9.1-1.5-4-2.7-3.9-2-0.9-2 0.4-2 1.4-2 2.5-1.4 2.5-1.6 6-1.8 18.2-2 12-3.8 16.2-3.5 11.4-6.1 15.8-2.3 5-5.7 7.9-10.1 12.2-9.4 10.1-10.7 10.2-8.1 6.3-10 6.7-10.1 4.8-10.1 3.9-30.2 7.7-10 1.5-26.2 2.5-54.4 3.7-46.3 2.2-38.2 1-66.5 0.7-58.4 0.1-8-0.5-6-1-8.1-3.2-8.1 0.8-8 1.7-20.1 2.7-6.1 0.5-6-0.1-16.1-1.5-8.1-0.3-269.8-0.1z"/>
<path fill="#00ff21" d="M297.6 757.6l762.9 0-0.2-12.1 2.4-46.3 2.2-16.1 4.1-22.2 6.6-20.1 4.9-12.1 14.4-23.6 7-12.6 3.1-4.1 1-2 0.4-2-0.5-6-0.1-8.1 1.4-22.1 1.4-38.3-1.1-40.2-3.1-42.3-1.5-12.1-3.3-14.1-2.7-4.1-2-1-2 0.3-2 1.4-2.4 3.4-1.7 6-1.2 16.2-1.9 12-4.9 20.2-3.3 10-6.8 18.1-2 3.9-8 10.8-8.1 9.6-9.5 10-10.6 10-7.8 6.1-9 6-11.4 5.3-10.1 3.9-30.2 7.4-10 1.4-26.2 2.4-54.4 3.6-46.3 2-36.2 1-68.5 0.6-58.4 0-12-0.8-4.1-1.1-6-2.8-8.1 0.9-8 1.9-10.1 1-12.1 1.8-6 0.3-20.1-1.7-8.1-0.3-269.8 0z"/>
<path fill="#00ff18" d="M297.6 757.6l761.4 0-0.3-10.1 2.6-50.3 3.6-24.2 2.9-14.1 8.2-24.2 3.5-8 21.8-34.2 3.7-4.7 0.7-1.4 0.4-2-0.7-8 0-8.1 1.6-23.7 1.2-34.7-1.1-40.2-2.1-31.1-1.7-15.2-1.2-8.1-3.2-13.6-2-2.9-2-1.1-2 0.3-1.7 1.2-2.3 3.8-1 4.2-0.7 14.1-1.9 12.1-4.5 18.5-4 13.1-6.2 16.7-2.6 6.1-9.3 12.7-6.1 7.3-8 8.7-12.1 11.9-7.2 5.7-10.9 7.4-14.1 6.2-8.1 3-28.2 6.7-10 1.6-26.2 2.3-56.4 3.6-48.3 1.9-34.2 0.8-128.9 0.6-8-0.4-4-0.7-8.1-3.7-7.7 0.9-4.4 1.5-4 0.7-12.1 1-10.1 1.6-6 0.4-20.1-1.8-8.1-0.3-269.8 0z"/>
<path fill="#00ff0e" d="M297.6 757.6l759.9 0-0.4-10.1 2.5-50.3 1.6-12.1 4.7-26.2 8.1-24.2 3.4-8 10.1-16.1 17.5-23.4 0.8-2.8-0.8-8-0.1-8.1 1.7-26.2 1.2-32.2-1.1-38.2-1.7-26.7-2.1-19.9-1.5-9.8-1.8-6-1.1-6.1-1.6-2.7-2-1.2-2 0.4-1.8 1.5-1.1 2-0.9 4-0.1 10.1-1.3 10.1-5.3 22.1-4.9 16.1-8.3 22.2-8.5 12.1-8.1 10-8 8.7-12.1 11.8-7.4 5.7-10.7 7.1-20.2 8.3-30.2 7.1-10 1.5-24.2 2-58.4 3.6-82.5 2.5-132.9 0.4-6-0.4-4.1-0.8-4.7-3.1-1.3-0.4-5.1 0.4-9 2.9-14.1 0.8-10.1 1.7-6 0.3-6-0.2-14.1-1.6-8.1-0.3-269.8 0z"/>
<path fill="#00ff05" d="M297.6 757.6l758.3 0-0.4-10.1 2.6-52.4 4.1-26.1 2.5-12.1 8.8-26.2 3.3-7.1 8.4-13 9.7-11.2 10.1-12.8 0.5-2.2-1-8-0.2-8.1 1.8-26.2 1.3-32.2-1.1-38.2-1.3-20.4-2.1-20.9-2-12.8-2.6-8.3-0.9-6.1-0.5-0.8-1.7-1.2-1.1 0-1.2 0.4-1.3 1.6-0.7 1.7-0.3 14.4-3.4 16.1-6.4 23.2-10.1 28.5-2 3.5-8 11.4-6.1 7.8-8 8.9-12.1 12.1-6 4.9-12.1 8.3-22.2 9-28.2 6.4-10 1.6-22.2 1.7-62.4 3.8-82.5 2.4-134.9 0.3-8.1-0.8-2-0.8-1-1.3-3-2-2 0-10.1 3.8-16.1 0.5-8 1.4-8.1 0.6-28.2-2.1-269.8 0z"/>
<path fill="#05ff00" d="M297.6 757.6l756.7 0-0.4-10.1 2.5-52.4 4-26.1 2.4-12.1 9.3-28.2 2.9-6 9.3-14.1 10.6-10.7 9.7-11.5 0.6-2-1.1-8-0.3-6.1 1.8-28.2 1.4-32.2-1.3-40.2-1.1-16.1-2.3-22.2-1.4-8.9-1.7-7.2-2.3-3.8-0.7-0.2-0.3-2 0.5-4.1-1.5-2.1-2.1 2.1 0.1 3 1.6 3.1-1.3 4-0.7 4-10.5 38.3-9.7 28.2-1.6 3.5-2 3.1-8 11.7-6.1 7.8-8 9-12.1 12.1-6 4.7-12.1 8.2-22.2 8.7-28.2 6-14 1.9-80.6 4.9-82.5 2.1-143 0.3-2-0.2-2.6-3.3-1.4-0.8-2 0-2.4 0.8-1.6 2.1-6.1 1.1-16.1-0.3-10.1 1.7-6 0.4-28.2-2.1-269.8 0z"/>
<path fill="#0eff00" d="M297.6 757.6l755.1 0-0.5-10.1 2.5-52.4 4.6-30.2 2.2-10 8.5-26.2 3.8-8 9-13.1 12.1-11 8-8.7 1.2-1.5 0.8-2-1.3-8-0.3-8.1 1.7-24.2 1.5-32.2-0.3-18.1-1.2-29.6-2.1-22.2-2-14.3-2-7.8-2-2.9-2 1.9-2 5-10.1 33.7-9.6 28.2-1.7 4-12.8 19.3-10.1 12-10.1 10.5-4 3.7-14.1 10.2-4 2.3-22.2 8.3-28.2 5.8-14 1.7-80.6 4.7-80.5 1.9-122.8 0.3-18.1 0.2-6.1 0.5-3.3-0.9-0.7-1.2-0.6 1.2-3.4 1.1-4.1-0.6-18.1-1-12.1 1.8-6 0.3-8-0.4-12.1-1.3-8.1-0.3-269.8 0z"/>
<path fill="#18ff00" d="M297.6 757.6l753.4 0-0.4-10.1 2.5-54.4 4.6-30.2 2.4-10 8.5-26.2 2.1-4.8 3.2-5.3 7.4-10 4.5-4.1 9.1-7.1 8-8.2 1.4-2.8-1.1-8-0.5-8.1 1.9-26.2 1.3-26.1 0-20.2-1.1-26.1-1.9-21.9-2-15-2-8-2-2.6-2 1.9-2 4.5-9.9 31-10.5 30.2-7.8 12.6-6 8.9-8.1 10-10 10.8-4.2 4-5.9 4.6-10.1 7-4 2-22.2 8-28.2 5.5-14 1.6-84.6 4.5-82.5 1.7-124.9 0.2-10 0.5-6.1 0.7-4-0.2-4 0.6-22.2-2.3-12.1 1.7-6 0.4-28.2-1.9-269.8-0.1z"/>
<path fill="#21ff00" d="M297.6 757.6l751.6 0-0.3-10.1 2.1-50.3 0.7-8.1 5.3-32.2 8-26.2 2.1-6 3-6.1 7.1-10 6.2-6.1 11.5-8.3 8-7.7 0.9-2.1-1.4-10.1-0.3-8 1.8-22.2 1.1-18.6 0.6-15.6 0-10-1.2-28.2-1.3-16.1-2.2-17.5-2-8.7-2-2.4-2 1.5-2 4-4 11.1-13.9 42.2-2.3 5.4-8 13.4-6 9.1-6.1 7.7-11.4 12.7-4.7 4.4-6 4.7-8.1 5.5-6 3-22.2 7.6-28.2 5.3-12 1.3-86.6 4.4-80.5 1.4-120.8 0.1-12.1 0.4-10.1 1.2-8 0.5-22.2-2.6-12.1 1.6-6 0.4-28.2-1.8-269.8 0z"/>
<path fill="#2aff00" d="M297.6 757.6l749.8 0-0.2-12.1 1.9-48.3 0.7-8.1 5.2-32.2 8.4-28.2 2.3-6 3.1-6.1 4.1-6 3.4-4 4.5-4.1 14.1-9.4 7.4-6.7 1-2-1.5-10.1-0.3-8 1.8-22.2 1.7-28.1 0.1-16.1-1.2-28.2-1-12.4-2-15.9-2-9-2-3.3-2 1.4-2 3.6-4 10.4-13.7 41.3-2.5 5.2-8 13.9-6 9.3-8.1 10.3-8.6 9.6-5.5 5-8 6-6.1 3.9-6 2.8-20.2 6.7-28.1 5.1-14.1 1.6-84.6 4-82.5 1.3-118.8 0-12.1 0.4-12.1 1.5-8 0.5-22.2-2.7-4 0.2-8.1 1.3-8 0.3-26.2-1.6-269.8-0.1z"/>
<path fill="#34ff00" d="M297.6 757.6l748 0-0.2-12.1 1.9-48.3 0.8-10.1 4.9-30.2 8.1-28.2 2.2-6 2.9-6.1 4-6 3.3-4 4.4-4.1 2.8-2 10.2-5.7 4-2.7 6-5.1 1.8-2.6 0-2-1.5-8.1-0.4-8 2.2-26.2 1.6-28.2 0.1-10-1.8-36.4-2-16.9-2-9.7-2-3.4-2 0.7-2 3.2-4 10-12.1 36.4-2.5 6-9.6 17.5-4 6.5-6.1 8.6-7.9 9.7-4.2 4.4-6 5.4-8 5.9-6.1 3.6-6 2.6-14.1 4.5-12.1 2.9-24.2 4-8 0.9-84.6 3.8-86.5 1.3-118.8-0.1-12.1 0.5-18.1 2-6.1-0.3-16.1-2.2-4-0.2-10.1 1.3-8 0.4-26.2-1.5-269.8 0z"/>
<path fill="#3dff00" d="M297.6 757.6l746.1 0-0.1-14.1 1.6-44.3 0.9-12.1 2.9-20.1 1.8-10.1 2.6-10.1 6-20.1 2.2-6 3.1-6.1 4.1-6 3.7-4.1 6.3-4.8 12.1-6.2 4-2.5 5.8-4.6 1.2-2 0.1-2-1.7-10.1-0.2-8 2.8-32.8 1.2-19.6 0.1-10-1.7-34.3-1.6-13.9-2-10.1-2-4.3-2 0.4-2 2.9-4 9.5-12 35.7-2.1 5.1-8.1 15.3-6 10.5-6.1 8.9-8 9.9-4.6 4.6-5.5 4.8-6 4.5-6.1 3.6-6 2.6-10.1 3.2-10 2.8-8.1 1.6-22.1 3.4-10.1 1.1-84.6 3.4-86.5 1.2-118.8-0.2-10.1 0.4-20.1 2.2-6.6-0.3-19.6-2.4-10.1 1.2-8 0.4-26.2-1.3-269.8 0z"/>
<path fill="#47ff00" d="M297.6 757.6l744.1 0-0.1-12.1 1.5-44.3 1.2-16.1 2.5-18.1 2.3-12.1 4.2-16.1 4.2-14.1 2.4-6.1 3.1-6 3.7-5.3 4-4.2 6.4-4.6 13.8-6.2 4-2.3 4.7-3.6 1.5-2 0.2-2-1.9-12.1-0.1-6 2-20.2 1.6-22.2 0.8-20-1.8-34.3-1-8.6-2.2-11.5-1.8-4-2-0.3-2 2.4-4 9.2-11.1 33-3 7.1-8.1 16.1-6 10.9-6.1 9.1-7.3 9.1-4.8 4.9-6 5.2-6 4.3-6.1 3.2-6 2.4-10.1 2.9-10 2.5-8.1 1.5-22.1 3.2-10.1 0.9-42.3 1.2-40.3 1.9-88.5 1.1-116.8-0.3-12.1 0.5-20.1 2-8.1-0.4-18.1-2-18.1 1.3-26.2-1-269.8-0.1z"/>
<path fill="#50ff00" d="M297.6 757.6l742.1 0-0.1-14.1 1.4-42.3 1.4-18.1 2.5-18.2 2.3-12 4.7-18.2 3.7-12 2.4-6.1 3.2-6 2.7-4 3.7-4.1 5.1-3.9 3.9-2.1 12.3-4.6 6-3 4-3 1.2-1.5 0.4-2-1.9-12.1-0.2-6 2.7-26.2 1.9-26.2 0.1-12-2.2-35.3-2-11.8-1.9-5.3-2.1-1-2 2.3-2 3.8-4.1 10.2-8.2 25-2.4 6-13.5 28.1-6.1 10.1-6 8.2-4 4.5-6.1 5.8-6 4.8-6 3.6-6.1 2.5-6 1.9-14.1 3.4-8.1 1.6-24.1 3.3-10.1 0.9-44.3 1-40.3 1.8-88.5 1-116.8-0.3-10.3 0.4-21.9 1.9-8.1-0.3-18.1-1.8-18.1 1-24.2-0.8-271.8 0z"/>
<path fill="#5aff00" d="M297.6 757.6l740 0 0-14.1 1.3-42.3 1.5-20.2 2.2-16.1 2.2-12 4.6-18.2 4.2-14 2.4-6.1 3.1-6 3.6-5.1 4-3.9 4-2.7 4.1-2 14.1-4.5 4-1.6 4-2.4 2.1-2 0.6-2-2-12.1-0.2-6 3.5-33.1 1.4-19.3 0.3-10-1.9-32.2-1.8-12.3-2-6-2-1.3-2 1.7-2 3.6-4.1 9.9-8.8 26.5-11.3 25.8-8 15.7-4.1 6.2-4 5-10.1 10.2-6 4.5-4 2.3-6.1 2.3-6 1.7-22.2 4.5-22.1 2.9-12.1 1.1-46.3 0.8-28.2 1.4-100.6 1.2-114.8-0.4-12.1 0.4-22.1 1.7-8.1-0.2-18.1-1.6-20.1 0.8-22.2-0.5-271.8 0z"/>
<path fill="#63ff00" d="M297.6 757.6l737.9 0-0.1-14.1 1.3-42.3 1.6-22.2 1.9-14.1 2.6-14 5-20.2 4.3-14.1 2.5-6.2 3.2-5.9 3.1-4 3.8-3.4 4-2.5 4-1.8 4.1-1.2 12.1-2.7 4-1.5 4-2.5 1.5-2.5 0-2-1.8-10.1-0.3-6 3.2-26.2 2.2-26.2 0.2-10-2-32.2-1-7.4-2-6.9-2-2-2 1.4-2 3.4-4.1 9.7-7.9 23.9-14.2 34.7-6 12.1-6.1 8.4-6 6.7-6.1 5.8-4 3-4 2.2-4 1.5-6.1 1.5-22.1 4-18.1 2.2-20.2 1.8-44.3 0.3-26.1 1.3-26.2 0.5-80.5 0.7-112.8-0.3-10.1 0.2-24.1 1.6-28.2-1.5-20.1 0.6-18.2-0.3-273.8-0.1z"/>
<path fill="#6dff00" d="M297.6 757.6l735.7 0 0-16.2 1.1-42.2 0.7-12.1 1.2-12.1 2-14.1 2.7-14.1 5-20.1 4.3-14.1 2.4-6 3.3-6.1 3.2-4 3.5-2.9 4-2.2 6-1.9 14.1-1.9 4.1-0.9 4-1.9 2-2.4 0.1-4-1.8-10.1 0-6 3.7-27.1 2-21.8 0.4-9.5-0.4-11.9-1.6-20.3-0.8-6.1-1.6-6-2-2.5-2 0.9-2 3-2 4.3-8.3 24.5-6.2 16.1-8.7 24.2-3.3 8-3.3 6-8.5 11-6 6.8-4.1 3.9-2 1.4-4 1.8-8.1 1.6-32.2 4.2-28.2 2.5-10 0.3-38.3-0.3-26.1 1.4-22.2 0.3-84.5 0.7-112.8-0.2-34.2 1.3-32.2-1.2-18.1 0.4-290-0.1z"/>
<path fill="#76ff00" d="M297.6 757.6l733.4 0 0-16.2 1-42.2 0.8-14.1 1.2-12.1 2-14.1 3.2-16.1 5.9-24.2 4.2-14.1 2.4-6 2.9-5.3 2.5-2.7 3-2.1 4.6-1.7 6-1.1 6.1-0.3 10 0.1 4.1-0.7 2-0.8 1.8-1.5 0.7-2-0.3-4-1.3-6.1-0.3-6 3.6-22.2 3-28.2 0.5-10-0.3-10.1-1.4-18-2-11.8-2-3.3-2 0.3-2 2.9-2 4.3-7.3 21.6-6 16.1-9.7 32.2-2.3 6-3.7 6.1-11.4 16.1-3.9 7-2.1 1.4-2 0.4-12-0.3-10.1 0.3-34.2 2.9-20.2 1.3-46.3-0.6-26.1 1.3-28.2 0.3-78.5 0.6-114.8-0.1-32.2 0.8-34.2-1-38.3 0.5-267.8 0z"/>
<path fill="#80ff00" d="M297.6 757.6l731 0 0-16.2 0.9-40.2 1.7-26.2 1.7-14.1 2.1-12.1 10.6-48.3 0.6-6-0.3-4-0.8-2.1-1.6-2-2.8-2-6.2-3.1-8.1-2-10-0.6-50.4 2.5-48.3-1.1-26.1 1.3-100.7 0.7-120.8 0-32.2 0.4-26.2-0.3-10.1-0.5-34.2 0.6-269.8-0.1zM1079.6 580.4l5.2 1.5 4.1 0.4 2-0.6 1.5-1.3 0.6-2-1.6-8.1-0.1-6 3.6-16.6 1.2-7.6 2.8-23 1-13.2-0.5-12.1-1.8-18.1-0.7-4.4-2-4.7-2-0.1-2 2.5-2 4.4-12.5 36.5-3.6 14.1-5.1 24.2-1.7 4-5.7 10.1-1.7 4-1 4 0.3 4 1 2 2.1 2.1 5.7 1.8 8.1 1.1z"/>
<path fill="#89ff00" d="M297.6 757.6l728.5 0 0.7-54.4 1.3-24.2 2.9-24.1 8.5-44.3 0.7-8.1-0.5-6-1.2-3.6-1.5-2.4-1.8-2.1-3.1-2-5-2-4.7-1.1-12.1-1-44.3 1.1-48.3-1.8-26.1 1.1-100.7 0.7-177.2 0-12.1-0.7-34.2 0.7-269.8-0.1zM1080.1 564.3l4.7 0.6 2-1.4 2.1-3.4 2-4.8 2.1-7.1 1.9-9.3 2-14.5 2-16.5 0-12.2-2-18.8-0.7-3.2-1.3-4.6-2-0.9-2 2.3-2 4.7-8.8 24.7-3.2 12-2.4 14.1-1.2 10.1-0.4 10.1-1.3 8 0 4 1.1 3 2.1 1.9 2 0.8z"/>
<path fill="#92ff00" d="M297.6 757.6l725.9 0 0.7-54.4 1-24.2 2.7-24.1 6.7-38.3 0.6-10-0.7-6.1-1.4-4-1.2-2-3.4-3.3-6.1-2.9-8-1.9-12.1-0.8-38.3 0.1-42.2-2.5-12.1 0-18.1 0.9-106.7 0.6-110.8 0-34.2-0.5-26.2 0.3-14.1-0.7-32.2 0.7-269.8-0.1zM1080.2 554.2l2.6 1.5 2-0.1 2-1.2 2.1-2.6 1.6-3.6 2.4-8.4 4-23.7 1.3-12.2-0.4-10.1-0.9-8.1-2-10.1-2-2.6-2 2.1-2 4.3-6.1 16.1-2.1 6.4-2 10-1.3 12.1-0.5 16.1 1.2 10.1 0.7 2.1z"/>
<path fill="#9cff00" d="M297.6 757.6l723.2 0 0.6-54.4 0.9-24.2 2.3-24.1 5.6-34.2 0.4-8.1-0.5-6-1.9-6.1-2.9-4-4.9-3.3-4-1.6-4.2-1.1-11.9-1.4-34.3-0.9-32.2-2.7-14.1-0.8-10 0-18.1 0.8-163.1 0.5-60.4-0.1-28.2-0.7-26.2 0.4-14.1-0.7-32.2 0.6-269.8 0zM1083.3 544.1l1.5 1.4 2-0.6 2.1-2.8 2-5.6 2-8.4 4-20.2 0.3-6-0.4-8.1-1.9-10.5-2-4-2 1-4.1 8.1-4.1 11.5-1.7 8-0.6 8.1 0 6 1.1 16.1 0.8 4z"/>
<path fill="#a5ff00" d="M297.6 757.6l720.5 0 0.4-54.4 0.8-26.2 1.8-22.1 4.7-32.2 0.3-6.1-0.6-6-2-6.1-3.1-4.2-2.1-1.8-3.5-2-6.5-2.2-10-1.5-32.3-1.9-32.2-3.5-14.1-1-10-0.1-18.1 0.6-169.2 0.4-54.3-0.1-28.2-1-26.2 0.5-14.1-0.7-32.2 0.6-269.8 0zM1086.4 526l0.4 0.9 2.1-0.1 2-3.1 2-5.2 2.5-10.6 0.6-6-0.3-6.1-0.8-5-2-5.2-2-0.1-2 2.7-4.1 9.4-1.5 6.3-0.5 6 0.3 6.1 1.3 6z"/>
<path fill="#afff00" d="M297.6 757.6l717.5 0 0.4-56.4 0.6-26.2 1.3-20.1 3.8-30.2 0.1-6.1-0.3-4-2-6-2.9-4.1-2.3-2-3.4-2-6.1-2.2-10.1-1.8-28.2-2.6-32.2-4.5-16.1-1.4-241.6 0.5-36.2-1.2-26.2 0.5-16.1-0.7-28.2 0.6-271.8-0.1zM1087 513.9l1.9 1.7 2-1.4 2-3.9 1.1-4.4 0.5-4-0.6-6.1-1-3.6-2-1.2-2 2-2.1 4.1-1.3 4.8-0.1 6z"/>
<path fill="#b8ff00" d="M297.6 757.6l714.5 0 0.7-86.6 0.8-18.1 2.4-26.2 0.1-6-0.5-4.1-1.2-4-2-2.9-2.1-2-5.1-3.2-5.6-2-9.4-1.9-24.2-3.4-30.2-5.4-10.1-1.3-10-0.8-56.4-0.3-183.2 0.3-14.1-0.2-22.1-1.1-26.2 0.5-16.1-0.7-28.2 0.5-271.8 0zM1088.3 503.9l0.6 1.7 2 0 1-3.7-0.2-2-0.8-2-2 1.6-0.6 2.4z"/>
<path fill="#c2ff00" d="M297.6 757.6l711.3 0 0.2-96.7 1.1-30.2-0.2-6-0.6-4-1.4-4.1-1.2-2-2.5-2.5-6-3.5-5.8-2-54.3-12.1-12.7-2-11.8-1-56.4-0.7-183.2 0.2-34.2-1.4-24.2 0.4-18.1-0.6-28.2 0.4-271.8 0z"/>
<path fill="#cbff00" d="M297.6 757.6l708 0-0.1-76.6-1.3-42.2-0.9-10.1-1.8-6-2.6-4.1-4.7-3.8-6-2.9-10-3.3-38.3-11.2-14.1-2.7-14.1-1.5-54.4-1-183.2 0-34.2-1.4-24.2 0.4-18.1-0.6-26.2 0.3-273.8 0z"/>
<path fill="#d5ff00" d="M297.6 757.6l704.6 0-0.1-50.4-0.4-26.2-1.2-18.1-2.8-24.1-2-8.1-1.5-3.2-1.8-2.8-4.1-4-6.5-4.1-18.7-8-10.4-4.1-11.9-4-15-3.6-16.1-1.9-54.4-1.4-183.2-0.1-32.2-1.4-22.1 0.3-22.2-0.5-298 0.1z"/>
<path fill="#deff00" d="M297.6 757.6l701 0-0.4-64.5-0.5-14.1-1.2-12-3.3-18.2-3-11.3-3.5-6.8-2.5-3.1-3.2-2.9-5.8-4-10.3-6.1-12.1-6-8.9-3.8-8.1-2.8-8-2.2-8.1-1.6-8-1-26.2-1.4-26.2-0.6-187.2-0.4-32.2-1.4-20.1 0.3-26.2-0.5-296 0z"/>
<path fill="#e7ff00" d="M297.6 757.6l697.3 0-0.4-58.4-0.5-14.1-0.8-10.1-2.5-14.1-5.4-18.1-1.7-4-2.5-4.1-5-5.4-16.1-12.1-7.8-4.6-8.3-4.2-8.1-3.3-8-2.6-8.8-2-9.3-1.4-24.2-1.6-30.2-0.9-183.2-0.5-32.2-1.3-342.3-0.4z"/>
<path fill="#f1ff00" d="M297.6 757.6l693.5 0-0.5-56.4-0.5-14.1-0.9-10.1-1.2-8-1.5-6.1-5.5-16.1-1.7-4-2.3-4-5.3-6.1-14.3-12-9.4-6.1-8.1-4.4-8.1-3.4-8-2.5-8.1-1.9-12.1-1.8-20.1-1.4-30.2-1-64.4-0.5-118.8-0.2-30.2-1.2-18.1 0.1-10.1-0.3-314.1-0.3z"/>
<path fill="#faff00" d="M297.6 757.6l689.5 0-0.4-52.4-0.6-16.1-0.8-10.1-1.3-8-1.5-6.1-5-14-2.6-6.1-2.4-4-2.4-3.1-10.1-9.6-6-5-6.4-4.5-6.5-4-7.3-3.6-6.1-2.4-8-2.5-8-1.8-10.1-1.7-18.1-1.5-30.2-1.2-64.4-0.7-120.8-0.3-28.2-1-18.1 0.1-10.1-0.5-314.1-0.2z"/>
<path fill="#fffa00" d="M297.6 757.6l685.5 0-0.5-50.4-1.3-26.2-1.2-8-1.5-6-2.6-8.1-4.1-10.1-2.1-4-2.8-4-11-11.1-6-5-6.1-4.2-6.3-3.9-7.8-3.8-6-2.3-8.1-2.4-10.1-2.3-8.2-1.3-11.9-1.3-16.1-1-32.2-0.9-32.2-0.4-136.9-0.4-28.2-0.8-18.1 0-10.1-0.6-12.1 0.3-36.2-0.4-265.8-0.1z"/>
<path fill="#fff100" d="M297.6 757.6l681.4 0-0.5-48.4-0.6-16.1-0.9-12.1-1.3-8-2.1-8.1-3.5-9.8-3-6.3-2.4-4-3.1-4-5.8-6.1-6.6-6-7.3-5.3-6.1-3.8-6-3.1-8-3.2-8.1-2.6-8.5-2.1-19.7-3.1-16.1-1.2-16.1-0.7-64.4-1.2-120.8-0.3-46.3-0.6-10.1-0.4-314.1-0.2z"/>
<path fill="#ffe700" d="M297.6 757.6l677.1 0-0.4-46.4-0.5-16.1-0.9-12-1.2-8.1-1.6-7-2.3-7.1-3.4-8-3.6-6.1-3-4-5.4-6-4.5-4.3-6-4.8-6.1-4-6-3.3-8-3.5-8.1-2.8-8.1-2.2-8-1.8-12.1-1.9-16.1-1.5-16.1-0.9-32.2-1-32.2-0.5-120.8-0.3-58.4-0.7-312.1-0.2z"/>
<path fill="#ffde00" d="M297.6 757.6l672.8 0-0.4-44.3-0.6-18.2-0.9-12-0.8-6.1-1.9-8-2.7-8.1-3.1-6.8-3.1-5.3-4.4-6-4.6-5.1-5.5-5-5.5-4-7.1-4.3-6-2.9-8.1-3.1-8-2.5-10.1-2.5-17.3-2.8-25-2.1-18.1-0.9-32.2-0.8-48.3-0.6-80.6-0.4-378.5-0.2z"/>
<path fill="#ffd500" d="M297.6 757.6l668.4 0-0.4-44.3-0.7-18.2-0.9-12-1.3-8.1-1.6-6-2.9-8.1-2.9-6-3.6-6.1-3.8-5.1-4.5-4.9-4.6-4.1-5-3.6-6-3.6-6-2.9-8.1-3.2-6-1.9-12.1-3.1-18.1-2.9-26.2-2.3-30.2-1.4-80.5-1.3-64.5-0.3-64.4 0.3-314.1-0.3z"/>
<path fill="#ffcb00" d="M297.6 757.6l663.9 0-0.4-42.3-0.7-18.1-0.9-12.1-1.2-8.1-1.4-6-2.1-6.1-2.8-6.6-3-5.4-4-6.1-5.1-5.9-4.1-3.6-4-3-6-3.7-6.1-2.9-8-3.2-8.1-2.5-10-2.5-18.2-2.9-28.1-2.4-20.2-1.1-30.2-0.9-60.4-0.8-60.4-0.4-64.4 0.3-314.1-0.3z"/>
<path fill="#ffc200" d="M297.6 757.6l659.3 0-0.5-42.3-0.7-18.1-0.9-12.1-2.2-12.1-2-6-3.4-8.1-3.3-6-2.7-4.1-3.3-4-4.1-4-5.3-4-4.7-2.9-6.4-3.2-7.7-3.1-16.1-4.5-18.2-3-16.1-1.7-30.2-1.9-32.2-1.1-48.3-0.7-80.5-0.6-370.5-0.3z"/>
<path fill="#ffb800" d="M297.6 757.6l654.6 0-0.4-40.3-0.7-20.1-1-12.1-1.3-8.1-1.6-6-2.2-6.1-2.8-6-3.6-6-3-4.1-3.8-4.1-4.7-3.9-5.3-3.6-6.1-3.1-8-3.3-6.3-2.1-7.8-2.1-10-1.9-20.2-2.6-18.1-1.4-32.3-1.5-80.5-1.4-144.9-0.7-290-0.2z"/>
<path fill="#ffaf00" d="M297.6 757.6l650.1 0-0.4-38.3-0.7-20.1-0.9-12.1-1.2-8.1-1.5-6-2.1-6-2.8-6.1-3.6-6-3.1-4-3.8-4.1-4.9-4-5-3.2-6-3.1-6.1-2.5-8-2.6-14.1-3.3-20.1-2.6-20.2-1.6-30.2-1.5-80.5-1.4-144.9-0.8-290-0.2z"/>
<path fill="#ffa800" d="M297.6 757.6l645.5 0-0.4-38.3-0.7-20.1-1-12.1-0.8-6.1-1.4-6-2.1-6-2.9-6.2-3.6-5.9-3.2-4-4-4.1-5-4-4.3-2.7-6.6-3.3-5.5-2.2-8-2.6-14.1-3-20.2-2.5-18.1-1.5-28.2-1.4-80.5-1.4-142.9-0.9-292-0.2z"/>
<path fill="#ffa300" d="M297.6 757.6l643.2 0-0.4-40.3-0.8-18.1-0.9-12.1-0.9-6.1-1.4-6-2.2-6-3-6.1-3.4-5.2-4-4.8-4.1-3.8-4-3.1-5.2-3.2-4.9-2.4-6-2.5-8-2.5-14.1-3-20.2-2.5-20.1-1.5-26.2-1.2-78.5-1.5-142.9-0.8-292-0.2z"/>
<path fill="#ff9e00" d="M297.6 757.6l640.9 0-0.3-36.3-0.8-20.1-0.9-12.1-2.1-12.1-2-6-2.9-6.1-3.7-5.7-3.6-4.3-4.1-4-4.4-3.5-6-3.7-6.1-2.9-12.1-4-14.1-2.9-20.1-2.5-20.1-1.5-26.2-1.2-78.5-1.4-140.9-0.9-292-0.2z"/>
<path fill="#ff9900" d="M297.6 757.6l638.6 0-0.4-36.3-0.8-20.1-0.9-12.1-2.2-12.1-2.1-5.7-2.1-4.3-3.8-6.1-3.2-4-4-4-5.1-4.1-10-5.6-12.2-4.4-16-3.3-20.1-2.5-22.1-1.7-26.2-1.1-80.5-1.4-136.9-0.9-290-0.3z"/>
<path fill="#ff9500" d="M297.6 757.6l636.2 0-0.3-34.3-1.8-32.2-2-12.1-1.9-5.8-2-4.4-3.6-5.9-3.2-4-3.9-4-4.9-4-4.6-3.1-5.7-3-12.4-4.5-16.1-3.3-18.1-2.3-22.1-1.7-26.2-1.2-80.5-1.5-169.2-1-257.7-0.2z"/>
<path fill="#ff9000" d="M297.6 757.6l633.7 0-0.3-34.3-0.9-20.1-1-12.1-2.1-12.1-2.2-6-2-4-3.1-4.9-4-5-4-3.9-4-3.1-5.1-3.3-5-2.5-12.1-4.4-14.8-3.1-19.4-2.5-20.1-1.6-26.2-1.3-80.5-1.5-167.1-1.1-259.8-0.3z"/>
<path fill="#ff8b00" d="M297.6 757.6l631.2 0-0.4-34.3-1.7-30.2-2-12.1-1.9-6-1.9-4-3.2-5-4-5.1-4-4-4.1-3.2-4.4-2.8-5.6-3-6.1-2.5-6-1.9-14.1-3-20.1-2.6-20.2-1.6-24.1-1.2-80.5-1.6-165.1-1.2-261.8-0.3z"/>
<path fill="#ff8700" d="M297.6 757.6l628.5 0-0.3-32.3-1.7-30.2-1.8-12-1.8-6.1-1.7-4-3.1-5.1-3.8-5-4-4-4.3-3.4-4-2.7-6-3.2-6.1-2.5-6-1.9-14.1-3-20.1-2.7-22.2-1.7-20.9-1-79.7-1.7-165.1-1.3-261.8-0.2z"/>
<path fill="#ff8200" d="M297.6 757.6l625.8 0-0.3-32.3-1.7-28.1-2.1-14.1-1.6-5.3-2-4.5-2.7-4.3-3.3-4.3-4.1-4.1-4.6-3.7-5.4-3.5-5.2-2.5-5.1-2.1-6.6-2-17.3-3.5-20.2-2.5-20.1-1.5-18.1-0.9-78.5-1.7-167.1-1.3-259.8-0.2z"/>
<path fill="#ff7d00" d="M297.6 757.6l623 0-0.4-32.3-1.7-28.1-1-8.1-1.3-6-3-8.1-3.5-5.7-3.7-4.4-4.3-4-4.1-3.1-8.8-4.9-11.5-4.1-18-3.7-20.1-2.5-20.1-1.6-30.2-1.3-80.6-1.5-155-1.1-255.7-0.3z"/>
<path fill="#ff7800" d="M297.6 757.6l620.1 0-0.3-30.2-1.8-28.2-2.1-14.1-1.8-6.1-1.9-4-2.6-4-3.3-4-4.2-4.1-4.1-3.1-4.7-2.9-5.4-2.6-12.1-4-16.7-3.5-19.5-2.4-20.1-1.6-28.2-1.3-80.6-1.6-157-1.1-253.7-0.3z"/>
<path fill="#ff7400" d="M297.6 757.6l617.1 0-0.3-28.2-1.5-26.2-1.8-14.1-1.4-6-1.5-4.1-2-4-2.8-4-3.6-4-4.7-4.1-5.6-3.6-4-2.1-5.6-2.3-6.3-2-18.3-4.1-18.1-2.4-20.1-1.7-28.2-1.3-80.6-1.7-157-1.2-253.7-0.3z"/>
<path fill="#ff6f00" d="M297.6 757.6l614 0-0.3-28.2-1.5-24.2-2.1-16.1-1.5-6-1.6-4.1-2.2-4-2.8-3.7-6.8-6.4-5.3-3.5-4-2.1-5.9-2.4-6.3-2-17.9-4-20.2-2.7-20.2-1.7-24.1-1.2-32.2-1-48.4-0.8-157-1.3-253.7-0.3z"/>
<path fill="#ff6a00" d="M297.6 757.6l610.8 0-0.1-20.2-0.7-18.1-1.8-20.1-2.1-12.1-2.8-8.1-2.5-4-3.4-4-4.6-4-4.9-3.3-5.5-2.8-5-2-7.6-2.4-10.1-2.4-19.9-3.2-20.6-2.1-25.9-1.4-34.2-1.1-48.4-0.9-157-1.4-253.7-0.3z"/>
<path fill="#ff6600" d="M297.6 757.6l607.4 0 0-18.2-0.6-16.1-1.6-20.1-2.3-14.1-1.1-4-1.8-4.5-2-3.6-3.3-4-4.5-4-4.3-2.9-6-3.1-5.4-2.1-8.7-2.7-8.1-2-20.1-3.3-20.3-2-24-1.4-36.2-1.3-46.4-0.9-157-1.5-253.7-0.3z"/>
<path fill="#ff6100" d="M297.6 757.6l604 0-0.5-30.2-1.8-22.2-2.2-14.1-1.7-6-1.8-4.1-4.2-6-3.9-3.6-4-2.8-6.1-3.1-6.4-2.6-7.6-2.4-8.1-2.1-20.1-3.4-21.1-2.1-25.2-1.5-34.3-1.2-44.3-0.9-157-1.6-253.7-0.4z"/>
<path fill="#ff5c00" d="M297.6 757.6l600.3 0-0.3-26.2-1.6-22.2-2.4-15.9-1.8-6.2-1.6-4-4-6.1-4.4-4-4.3-2.8-6.1-3-6-2.4-6.1-2-10-2.5-18.1-3.1-20.2-2.1-26.1-1.6-34.3-1.3-44.3-0.9-155-1.7-253.7-0.4z"/>
<path fill="#ff5700" d="M297.6 757.6l596.5 0-0.2-24.2-1.8-22.2-2.5-16.1-1.6-6-1.7-4-3.8-6.1-3-2.9-4.3-3.1-5.8-3.1-7.1-2.9-15-4.3-18.2-3.2-20.1-2.2-28.2-1.8-34.2-1.3-42.3-0.9-153-1.7-253.7-0.4z"/>
<path fill="#ff5300" d="M297.6 757.6l592.4 0-0.2-22.2-1.3-18.1-2.7-18.1-2.9-10.1-1.9-4-2.8-4.1-2.8-2.7-4.2-3.3-5.8-3.2-6.1-2.5-14-4.1-18.2-3.3-20.1-2.3-26.2-1.8-34.2-1.3-44.3-1.1-153-1.8-251.7-0.4z"/>
<path fill="#ff4e00" d="M297.6 757.6l588 0-0.1-18.2-1.2-18.1-2.8-18.4-1.9-7.8-1.5-4-1.9-4-2.8-4-3.9-4.1-2.8-2-5.3-3-6.1-2.6-12.1-3.6-18.1-3.5-18.1-2.2-28.2-2-32.2-1.4-46.3-1.1-151-1.9-251.7-0.5z"/>
<path fill="#ff4900" d="M297.6 757.6l583 0 0-16.2-1.3-18.1-1.8-12.1-1.6-8-3.2-10.1-2-4-3.3-4.9-3.1-3.2-5-3.5-4.7-2.5-5.1-2-14.7-4-17.7-3.1-20.2-2.1-30.2-1.9-34.2-1.3-32.2-0.8-151-1.9-251.7-0.5z"/>
<path fill="#ff4400" d="M297.6 757.6l577.4 0 0.1-14.1-1.3-18.2-2.8-16.1-3.6-12.6-2.5-5.5-2.6-4-3-3.3-3.2-2.8-3-2-5.8-2.7-12.1-4-10.1-2.2-10-1.6-18.2-2.1-32.2-2.1-32.2-1.4-48.3-1-138.9-1.9-247.7-0.5z"/>
<path fill="#ff4000" d="M297.6 757.6l571.3 0 0.1-14.1-1.2-16.1-2.9-16.2-3.6-12-2.8-6.1-2.7-4-3.7-4-2.4-2-4.4-2.7-6.1-2.9-14.1-4.1-14.1-2.5-16.4-1.9-31.9-2.3-32.2-1.4-46.3-1.1-136.9-2-249.7-0.6z"/>
<path fill="#ff3b00" d="M297.6 757.6l564.8 0 0.1-12.1-1.1-16.1-1.3-8.1-1.9-8-2.4-8.1-2.4-6-2-4.1-2.8-4-3.3-3.6-3.1-2.4-3-2-6-3-12.1-3.9-16.1-3.1-30.2-2.9-42.3-2.3-32.2-1-96.6-1.8-114.8-1.1-191.3-0.2z"/>
<path fill="#ff3600" d="M297.6 757.6l557.6 0 0.2-12.1-1-14.1-1.1-6.6-1.8-7.5-4.2-12.5-2.8-5.6-2.6-4.1-3.4-4-3.3-2.9-4.6-3.1-3.8-2-9.7-3.6-14.1-3.2-14.1-1.8-16.1-1.6-38.3-2.3-36.2-1.2-108.7-2.3-114.8-1-177.2-0.2z"/>
<path fill="#ff3200" d="M297.6 757.6l549.7 0 0.2-10.1-1-14.1-1.2-7-1.9-7.1-2.9-8.1-2.8-6-3.5-6-3-3.9-4.1-3.9-3-2.3-7.3-4-12-4.1-15.9-2.9-16.1-2-14.1-1.2-34.2-2-136.9-3.5-112.8-1-177.2-0.3z"/>
<path fill="#ff2d00" d="M297.6 757.6l540.6 0 0.3-10.1-0.4-8.1-0.9-6.7-1.6-7.4-2-6-2.5-6-3.1-6.1-4.1-6-3.4-4-3.4-3.1-4.2-3-8.4-4-6.1-2-8.1-2-17.5-3.1-16.1-1.8-16.1-1.4-32.3-1.7-124.8-3.4-110.7-1-175.2-0.3z"/>
<path fill="#ff2800" d="M297.6 757.6l530.6 0 0.3-10.1-1.1-12.1-1.3-6-1.9-6.1-2.7-6-3.4-6.1-4.3-6-3.7-4-4.8-4-3.1-2.1-9.3-4.3-14.1-4.3-20.1-3.7-18.1-2.1-32.3-2.2-128.8-4.3-112.7-1.1-169.2-0.3z"/>
<path fill="#ff2300" d="M297.6 757.6l519.1 0 0.4-10.1-0.4-6.1-0.9-6-1.7-6-2.5-6.1-2.6-4.6-3.9-5.4-3.6-4.1-4.6-4.2-5.4-3.8-6.6-3.8-10.1-4.3-14.4-4-19.8-3.4-20.2-2.2-28.2-1.9-80.5-3.4-44.3-1.5-110.7-1.1-159.1-0.2z"/>
<path fill="#ff1f00" d="M297.6 757.6l505.2 0 0.6-10.1-0.6-6.1-1.3-6-2.4-6-2.2-4.1-2.9-4-3.6-4-5.5-5.1-6.1-4.6-6-3.7-6.1-3.2-6-2.5-8.1-2.7-16.1-3.8-16.4-2.6-19.4-2-26.6-1.8-62.4-3.6-48.3-2-106.7-1.3-159.1-0.3z"/>
<path fill="#ff1a00" d="M297.6 757.6l487.3 0 0.8-8.1-0.4-6-0.9-4.1-2.2-6-2.2-4-2.9-4.1-3.8-4-8.6-6.8-5.2-3.3-7.7-4-7.2-3-8.1-2.9-16.2-4.1-16-2.8-31.2-3.3-61.4-5-52.3-2.9-106.7-1.6-155.1-0.3z"/>
<path fill="#ff1500" d="M297.6 757.6l466.2 0 0.8-4.1 0.2-4-0.6-6-1.1-4.1-1.8-4-2.5-4-3.5-4-4.7-4-9.7-6.1-12.4-5.7-14.1-4.6-16.3-3.8-25.9-4-68.5-8.2-26.2-2.1-24.2-1.2-48.3-1.3-56.4-0.9-151-0.4z"/>
<path fill="#ff1100" d="M297.6 757.6l440.1 0 1.1-4.1 0.4-4-0.3-4-1.2-4.1-2-4-3.2-4-4.4-4-5.7-3.8-6-3.1-6-2.5-12.1-3.9-18.1-4.3-57.6-10.6-23-3.6-22.1-2.5-20.1-1.5-64.5-2.3-78.5-1.2-116.8-0.2z"/>
<path fill="#ff0c00" d="M297.6 757.6l405.3 0 1.9-4.1 0.6-4-0.6-4-0.7-2-1.8-2.9-2.8-3.2-5.2-3.9-3.8-2.1-10.3-4.5-18.5-5.6-43.9-11-18.2-3.9-24.1-3.9-18.1-1.8-22.2-1.4-64.4-2.5-68.5-1-104.7-0.2z"/>
<path fill="#ff0700" d="M297.6 757.6l356.7 0 2.4-4.1 0.9-4-0.8-4-1.1-2-3.3-4.1-5.2-4-3.3-2-12.3-6-16.3-6.1-13.8-4-16-3.7-20.1-3.4-16.1-1.8-30.2-2.2-60.4-2.7-62.4-1-98.7-0.3z"/>
<path fill="#ff0200" d="M297.6 757.6l318.1 0 2-4.1 0.7-4-0.6-4-0.9-2-2.9-4.1-4.3-3.8-3.2-2.2-7.6-4-9.3-3.7-8.1-2.4-14.1-3.2-14.1-2.1-22.1-2.2-26.2-2-54.3-2.7-60.4-1.1-92.7-0.3z"/>
<path fill="#ff0000" d="M297.6 757.6l285.4 0 2.6-4.1 0.8-4-0.8-4-2.7-4.1-4.9-4-7.9-4-8.7-3-10.1-2.3-30.2-4.2-40.2-3.4-46.4-2.1-52.3-0.9-84.6-0.2z"/>
<path fill="#ff0000" d="M297.6 757.6l242 0 3.5-2.1 2.4-2 1.3-2 0.5-2-0.5-2-1.3-2-2.4-2-3.5-2.1-4.4-1.8-6.6-2.2-7.9-2-11.7-2.3-12-1.8-16.7-1.9-31.7-2.4-38.2-1.5-42.3-0.7-70.5-0.1z"/>
<path fill="#ff0000" d="M297.6 757.6l180.9 0 6-2.1 3.9-2 2.3-2 0.7-2-0.7-2-2.3-2-3.9-2-6-2.1-8.6-2-9.2-1.5-22-2.5-24.3-1.5-28.2-1-88.6-0.4z"/>
<path fill="#ff0000" d="M297.6 757.6l81.4 0 11.3-0.6 17.5-1.5 12.3-2 5.9-2 1.8-2-1.8-2-5.9-2-12.3-2-13.5-1.2-34.2-1.4-62.5-0.2z"/>
</g></g>
<g clip-path="url(#cr)"><g filter="url(#bl)" shape-rendering="crispEdges">
<path fill="#0004ff" d="M1102.9 757.6l1296.6 0 0-434.9-1296.6 0z"/>
<path fill="#0007ff" d="M1102.9 757.6l1296.6 0 0-430.8-213.4-0.1 0-4-1083.2 0z"/>
<path fill="#000aff" d="M1102.9 757.6l1296.6 0 0-430.5-213.4-0.3-0.1-4.1-1083.1 0z"/>
<path fill="#000dff" d="M1102.9 757.6l1296.6 0 0-430.2-213.4-0.5-0.2-4.2-1083 0z"/>
<path fill="#0010ff" d="M1102.9 757.6l1296.6 0 0-430-213.4-0.6-0.3-4.3-1082.9 0z"/>
<path fill="#0012ff" d="M1102.9 757.6l1296.6 0 0-429.7-213.4-0.8-0.3-4.4-1082.9 0z"/>
<path fill="#0015ff" d="M1102.9 757.6l1296.6 0 0-429.4-213.4-1.1-0.4-0.4 0-4-1082.8 0z"/>
<path fill="#0018ff" d="M1102.9 757.6l1296.6 0 0-429.1-213.4-1.3-0.5-0.5 0-4-1082.7 0z"/>
<path fill="#001bff" d="M1102.9 757.6l1296.6 0 0-428.8-213.4-1.5-0.6-0.6 0-4-1082.6 0z"/>
<path fill="#001eff" d="M1102.9 757.6l1296.6 0 0-428.5-213.4-1.7-0.6-0.7 0-4-1082.6 0z"/>
<path fill="#0021ff" d="M1102.9 757.6l1296.6 0 0-428.2-213.4-1.9-0.7-0.8 0-4-1082.5 0z"/>
<path fill="#0023ff" d="M1102.9 757.6l1296.6 0 0-428-213.4-2.1-0.8-0.8 0-4-1082.4 0z"/>
<path fill="#0026ff" d="M1102.9 757.6l1296.6 0 0-427.7-213.4-2.3-0.8-0.9-0.1-4-1082.3 0z"/>
<path fill="#0029ff" d="M1102.9 757.6l1296.6 0 0-427.4-213.4-2.5-0.9-1 0-4-1082.3 0z"/>
<path fill="#002cff" d="M1102.9 757.6l1296.6 0 0-427.1-120.8-1.9-92.6-0.8-1-1.1 0-4-1082.2 0z"/>
<path fill="#002fff" d="M1102.9 757.6l1296.6 0 0-426.8-120.8-2-92.6-1-1.1-1.1 0-4-1082.1 0z"/>
<path fill="#0032ff" d="M1102.9 757.6l1296.6 0 0-426.6-124.8-2.1-88.6-1-1.1-1.2 0-4-1082.1 0z"/>
<path fill="#0034ff" d="M1102.9 757.6l1296.6 0 0-426.3-124.8-2.3-88.6-1-1.2-1.3 0-4-1082 0z"/>
<path fill="#0037ff" d="M1102.9 757.6l1296.6 0 0-426.1-128.9-2.4-84.5-1-1.3-1.4 0-4-1081.9 0z"/>
<path fill="#003aff" d="M1102.9 757.6l1296.6 0 0-425.9-128.9-2.5-84.5-1-1.4-1.5 0-4-1081.8 0z"/>
<path fill="#003dff" d="M1102.9 757.6l1296.6 0 0-425.6-132.9-2.7-80.5-1.1-1.4-1.5 0-4-1081.8 0z"/>
<path fill="#0040ff" d="M1102.9 757.6l1296.6 0 0-425.4-132.9-2.8-80.5-1.1-1.5-1.6 0-4-1081.7 0z"/>
<path fill="#0043ff" d="M1102.9 757.6l1296.6 0 0-425.2-136.9-2.9-76.5-1.1-1.6-1.7 0-4-1081.6 0z"/>
<path fill="#0045ff" d="M1102.9 757.6l1296.6 0 0-424.9-136.9-3.1-76.5-1.1-1.7-1.8 0-4-1081.5 0z"/>
<path fill="#0048ff" d="M1102.9 757.6l1296.6 0 0-424.7-136.9-3.1-76.5-1.2-1.7-1.9 0-4-1081.5 0z"/>
<path fill="#004bff" d="M1102.9 757.6l1296.6 0 0-424.5-140.9-3.3-72.5-1.2-1.8-1.9 0-4-1081.4 0z"/>
<path fill="#004eff" d="M1102.9 757.6l1296.6 0 0-424.2-140.9-3.5-72.5-1.2-1.9-2 0-4-1081.3 0z"/>
<path fill="#0051ff" d="M1102.9 757.6l1296.6 0 0-424-140.9-3.5-72.5-1.3-1.9-2.1 0-4-1081.3 0z"/>
<path fill="#0054ff" d="M1102.9 757.6l1296.6 0 0-423.8-145-3.7-68.4-1.2-2-2.2 0-4-1081.2 0z"/>
<path fill="#0056ff" d="M1102.9 757.6l1296.6 0 0-423.5-145-3.9-68.4-1.2-2.1-2.3 0-4-1081.1 0z"/>
<path fill="#0059ff" d="M1102.9 757.6l1296.6 0 0-423.3-145-4-68.4-1.3-2.2-2.3 0-4-1081 0z"/>
<path fill="#005cff" d="M1102.9 757.6l1296.6 0 0-423-145-4.1-68.4-1.4-2.2-2.4 0-4-1081 0z"/>
<path fill="#005fff" d="M1102.9 757.6l1296.6 0 0-422.8-145-4.2-68.4-1.4-2.3-2.5 0-4-1080.9 0z"/>
<path fill="#0062ff" d="M1102.9 757.6l1296.6 0 0-422.5-143.4-4.4-70-1.4-2.4-2.6 0-4-1080.8 0z"/>
<path fill="#0065ff" d="M1102.9 757.6l1296.6 0 0-422.1-147.9-4.8-65.5-1.3-2.5-2.7 0-4-1080.7 0z"/>
<path fill="#0067ff" d="M1102.9 757.6l1296.6 0 0-421.8-152.2-5.1-61.2-1.3-2.5-2.7 0-4-1080.7 0z"/>
<path fill="#006aff" d="M1102.9 757.6l1296.6 0 0-421.4-156.4-5.5-57-1.2-2.6-2.8 0-4-1080.6 0z"/>
<path fill="#006dff" d="M1102.9 757.6l1296.6 0 0-421.1-160.4-5.8-53-1.1-2.7-2.9 0-4-1080.5 0z"/>
<path fill="#0070ff" d="M1102.9 757.6l1296.6 0 0-420.8-164.3-6.1-49.1-1-2.7-3-0.1-4-1080.4 0z"/>
<path fill="#0073ff" d="M1102.9 757.6l1296.6 0 0-420.4-168.2-6.5-45.2-1-2.8-3 0-4-1080.4 0z"/>
<path fill="#0076ff" d="M1102.9 757.6l1296.6 0 0-420.1-171.9-6.8-41.5-0.9-2.9-3.1 0-4-1080.3 0z"/>
<path fill="#0078ff" d="M1102.9 757.6l1296.6 0 0-419.8-71.1-3-77.9-2.7-26.6-1.4-37.8-0.8-3-3.2 0-4-1080.2 0z"/>
<path fill="#007bff" d="M1102.9 757.6l1296.6 0 0-419.4-77.5-3.4-75.5-2.6-26.2-1.5-34.2-0.7-3-3.3 0-4-1080.2 0z"/>
<path fill="#007eff" d="M1102.9 757.6l1296.6 0 0-419.1-48.3-1.8-35.4-1.9-73.4-2.6-25.6-1.5-30.7-0.6-3.1-3.4 0-4-1080.1 0z"/>
<path fill="#0081ff" d="M1102.9 757.6l1296.6 0 0-418.7-52.4-2-37.3-2.1-71.4-2.5-25.1-1.6-27.2-0.6-3.2-3.4 0-4-1080 0z"/>
<path fill="#0084ff" d="M1102.9 757.6l1296.6 0 0-418.1-64.4-2.8-31.2-1.9-65.5-2.3-28.6-1.8-23.7-0.5-3.3-3.5 0-4-1079.9 0z"/>
<path fill="#0087ff" d="M1102.9 757.6l1296.6 0 0-417.5-72.5-3.5-28.9-1.8-63.7-2.2-28.1-1.9-20.2-0.4-3.3-3.6 0-4-1079.9 0z"/>
<path fill="#0089ff" d="M1102.9 757.6l1296.6 0 0-416.9-76.5-3.9-30.6-2-58-2-31.5-2.1-16.8-0.3-3.4-3.7 0-4-1079.8 0z"/>
<path fill="#008cff" d="M1102.9 757.6l1296.6 0 0-416.4-40.5-2.4-44.1-2-28.1-2-60.5-2.1-26.9-2-13.3-0.2-3.5-3.8 0-4-1079.7 0z"/>
<path fill="#008fff" d="M1102.9 757.6l1296.6 0 0-415.8-88.6-4.9-29.8-2.1-58.8-2-16.1-0.9-10.3-1.2-9.8-0.2-3.5-3.8-0.1-4-1079.6 0z"/>
<path fill="#0092ff" d="M1102.9 757.6l1296.6 0 0-415.2-96.7-5.5-27.7-2.1-56.8-1.9-16.1-1-10-1.2-6.1-0.1-3.6-3.9 0-4-1079.6 0z"/>
<path fill="#0095ff" d="M1102.9 757.6l1296.6 0 0-414.4-40.3-2.2-27.2-2.2-33.2-1.7-30.1-2.3-50.4-1.6-20.1-1.2-12.1-1.3-3.7-4 0-4-1079.5 0z"/>
<path fill="#0098ff" d="M1102.9 757.6l1296.6 0 0-413.3-137.4-9.5-47.8-1.5-20.2-1.1-8-1.1-3.8-4.4 0-4-1079.4 0z"/>
<path fill="#009aff" d="M1102.9 757.6l1296.6 0 0-412.1-32.9-2.7-31.5-1.9-20.5-2.1-31.9-1.8-27.7-2.2-44.8-1.3-20.1-1.1-4-0.5-1.3-1.2-2.5-4-0.1-4-1079.3 0z"/>
<path fill="#009dff" d="M1102.9 757.6l1296.6 0 0-411-24.2-1.5-23-2.3-25.3-1.7-21.2-2.3-39.2-2.3-19.3-1.7-45.1-1.2-16.1-0.9-2.2-2-1.7-4 0-4-1079.3 0z"/>
<path fill="#00a0ff" d="M1102.9 757.6l1296.6 0 0-408.7-19.4-2.1-24.9-1.8-17.2-2.2-23.1-1.8-18.1-2.2-38.2-2.2-20.4-1.8-52.1-1.2-3.1-2.9-0.9-4 0-4-1079.2 0zM2206.2 476.5l-3.5-4.8-4-8.1-3.9-4-8.2-4-4.6-1.2-1.4-2.9-0.4-4 0.2-8 1.6-17.4 20.2 4.4 8 2.7 4.4 2.2 5.5 4 3.6 4.1 2.3 4 1.3 4 0.5 4-0.3 4.1-1.2 5-4 8.9-4 5.5-4 2.7-4.1 0.6z"/>
<path fill="#00a3ff" d="M1102.9 757.6l1296.6 0 0-405.5-8.9-1.2-19.3-1.7-15.8-2.4-20.4-2-11.3-2-21-1.8-15.5-2.2-36.8-2-24.2-2-40.2-0.4-3.9-3.7-0.2-2.4-1.8 10.5-0.5 12.1 0.5 12.1 1.8 9.9 16.2 7.9 24.9 10.3 7.1 4.1 5.3 4 2.9 2.9 6.8 9.2 6.1 12.1 3.7 12 1.4 12.1-0.3 8.1-1.2 8-2.7 12.1-2.5 8.1-5.1 12-5 8.1-3.3 4-5.9 5.9-4.1 3-4 2.6-8 3.8-8.1 2.7-24.2 5.4-1.5-11.3-0.9-12.1-1.6-52.7-186.9 0.4-868 102.6-1.2-102.6-1.3-4.1 0-128.8-17.7 0z"/>
<path fill="#00a6ff" d="M1102.9 757.6l18.7 0-2.5-217.8-0.3-84.2-0.4-4.1 0-128.8-15.5 0zM2113.9 757.6l285.6 0 0-342.8-56.4 9.7-20.1 4.9-8.1 3.2-8 4.5-8.1 6.8-4 4.5-8.1 10.7-8 12.5-11.6 32.3-3.6 8-4.9 9.5-8.1 12.7-22.9 30.2-4.9 8-5.5 12.1-4 12.1-5 20.1-26.2 127.7-4 5.7zM2271 387.1l7.7 3.2 12.1-0.3 16.1-1.4 20.1-3.7 16.1-5 12.1-5.4 5.8-3.5 4.8-4 2-4-1.8-4.1-2.8-1.3-3.7-2.7-4.3-1.1-7.1-2.9-9-1.8-7.2-2.3-12.9-1.9-9.6-2.1-18.6-1.9-14.4-2.1-62.1-2.8-12.1 0.2-4 0.5-6.4 2.1-4.4 4-2.6 4-0.8 4.1 0.9 4 2.7 4 4.6 4.1 10 5.5 16.1 5.6 12.1 3.2 26.6 5.8z"/>
<path fill="#00a9ff" d="M1102.9 757.6l15.7 0-1-302-0.4-4.1 0-128.8-14.3 0zM2245.4 757.6l154.1 0 0-159.8-40.3-3.5-32.2-1.8-24.2-0.4-24.1 0.9-4.5 15.6-28.8 140.9zM2248.3 371l14.3 1.4 12.1 0.6 4 0 8-1.6 12.1-3.2 11.7-5.2 5.3-4.1 2.6-4-1.1-4-7-4.1-16.2-4-34.9-4-28.8-0.6-15 0.6-8 4-3.8 4-1.2 4.1 1.3 4 4 4 6.6 3.8 8 3 8.1 2.2z"/>
<path fill="#00abff" d="M1102.9 757.6l14.5 0-1-302-0.4-4.1 0-128.8-13.1 0zM2253.3 363l13.3 0.3 8.1-0.5 4-0.7 7.7-3.2 4.4-3.4 0.6-0.6 1.1-4-3.9-4.1-14-4-28.1-1.2-8.1 0.4-5.9 0.8-7.5 4-2 4.1 2.2 4 7.3 4 9.9 2.6z"/>
<path fill="#00aeff" d="M1102.9 757.6l13.3 0-1.2-306.1 0-128.8-12.1 0z"/>
<path fill="#00b1ff" d="M1102.9 757.6l12.1 0-0.3-434.9-11.8 0z"/>
<path fill="#00b4ff" d="M1102.9 757.6l11.8 0-0.3-434.9-11.5 0z"/>
<path fill="#00b7ff" d="M1102.9 757.6l11.5 0-0.2-434.9-11.3 0z"/>
<path fill="#00baff" d="M1102.9 757.6l11.2 0-0.2-434.9-11 0z"/>
<path fill="#00bcff" d="M1102.9 757.6l10.9 0-0.2-434.9-10.7 0z"/>
<path fill="#00bfff" d="M1102.9 757.6l10.6 0-0.2-434.9-10.4 0z"/>
<path fill="#00c2ff" d="M1102.9 757.6l10.3 0-0.2-434.9-10.1 0z"/>
<path fill="#00c5ff" d="M1102.9 757.6l10 0-0.1-434.9-9.9 0z"/>
<path fill="#00c8ff" d="M1102.9 757.6l9.7 0-0.1-434.9-9.6 0z"/>
<path fill="#00cbff" d="M1102.9 757.6l9.4 0-0.1-434.9-9.3 0z"/>
<path fill="#00cdff" d="M1102.9 757.6l9.1 0-0.1-434.9-9 0z"/>
<path fill="#00d0ff" d="M1102.9 757.6l8.8 0-0.1-434.9-8.7 0z"/>
<path fill="#00d3ff" d="M1102.9 757.6l8.6 0-0.1-434.9-8.5 0z"/>
<path fill="#00d6ff" d="M1102.9 757.6l8.3 0-0.1-434.9-8.2 0z"/>
</g></g>
<use href="#geo"/><use href="#ax"/>
<text x="146.0" y="103.2" style="font-size:73.3px" letter-spacing="1.6">(a)</text>
<text x="305.5" y="238.4">Velocity Magnitude, m/s:</text>
<text x="1215.0" y="237.8" text-anchor="middle">2.0</text>
<text x="1414.5" y="237.8" text-anchor="middle">3.6</text>
<text x="1614.0" y="237.8" text-anchor="middle">5.2</text>
<text x="1813.5" y="237.8" text-anchor="middle">6.8</text>
<text x="2013.0" y="237.8" text-anchor="middle">8.4</text>
<text x="2212.5" y="237.8" text-anchor="middle">10.0</text>
<text x="231.9" y="774.2" text-anchor="end">0</text>
<text x="231.9" y="693.7" text-anchor="end">10</text>
<text x="231.9" y="613.1" text-anchor="end">20</text>
<text x="231.9" y="532.6" text-anchor="end">30</text>
<text x="231.9" y="452.1" text-anchor="end">40</text>
<text x="231.9" y="371.5" text-anchor="end">50</text>
<text x="231.9" y="291.0" text-anchor="end">60</text>
<text x="305.1" y="863.0" text-anchor="middle">-100</text>
<text x="506.4" y="863.0" text-anchor="middle">-75</text>
<text x="707.7" y="863.0" text-anchor="middle">-50</text>
<text x="909.1" y="863.0" text-anchor="middle">-25</text>
<text x="1110.4" y="863.0" text-anchor="middle">0</text>
<text x="1311.7" y="863.0" text-anchor="middle">25</text>
<text x="1513.1" y="863.0" text-anchor="middle">50</text>
<text x="1714.4" y="863.0" text-anchor="middle">75</text>
<text x="1915.7" y="863.0" text-anchor="middle">100</text>
<text x="2117.0" y="863.0" text-anchor="middle">125</text>
<text x="2318.3" y="863.0" text-anchor="middle">150</text>
<text transform="translate(1282.4 953.7) scale(0.981 1)">x/D<tspan font-size="44.0" dx="1.2" dy="21.7">H</tspan></text>
<text transform="translate(101.2 576.3) rotate(-90) scale(0.981 1)">y/D<tspan font-size="44.0" dx="1.2" dy="21.7">H</tspan></text>
</g>
<g transform="translate(0 1002.85)">
<rect x="1116.5" y="42.1" width="1195.1" height="109.0" fill="url(#cb)"/>
<g clip-path="url(#cl)"><g filter="url(#bl)" shape-rendering="crispEdges">
<path fill="#0005ff" d="M297.6 757.6l819.4 0 0-438.9-2 0-2 2-2 0-2 2-2 0-2 2-2.1 0-2 2-2 0-2 2-2 0-2 2-2 0-2 2.1-2.1 0-2 2-2 0-2 2-2 0-2 2-2 0-2.1 2-2 0-2 2-2 0-2 2-2 0-2 2-2 0-2.1 2.1-2 0-2 2-2 0-2 2-2 0-2 2-2.1 0-2 2-2 0-2 2-2 0-2 2-2 0-2 2.1-2.1 0-2 2-2 0-2 2-2 0-2 2-2 0-2 2-2.1 0-2 2-2 0-2 2-2 0-2 2-2 0-2.1 2.1-2 0-2 2-2 0-2 2-2 0-2 2-2 0-2.1 2-2 0-2 2-2 0-2 2-4 0-2.1 2.1-2 0-2 2-2 0-2 2-2 0-2 2-2 0-2.1 2-2 0-2 2-2 0-2 2-2 0-2 2-2.1 0-2 2.1-2 0-2 2-2 0-2 2-2 0-2 2-2.1 0-2 2-2 0-2 2-2 0-2 2-2 0-2.1 2.1-2 0-2 2-2 0-2 2-2 0-2 2-2 0-2.1 2-2 0-2 2-2 0-2 2-2 0-2 2-2.1 0-2 2.1-2 0-2 2-2 0-2 2-2 0-2 2-2.1 0-2 2-2 0-2 2-2 0-2 2-2 0-2 2.1-2.1 0-2 2-2 0-2 2-2 0-2 2-2 0-2.1 2-2 0-2 2-2 0-2 2-2 0-2 2-4.1 0-2 2.1-2 0-2 2-2 0-2 2-2 0-2.1 2-2 0-2 2-2 0-2 2-2 0-2 2-2 0-2.1 2.1-2 0-2 2-2 0-2 2-2 0-2 2-2.1 0-2 2-2 0-2 2-2 0-2 2-2 0-2 2-2.1 0-2 2.1-2 0-2 2-2 0-2 2-2 0-2.1 2-2 0-2 2-2 0-2 2-2 0-2 2-2 0-2.1 2-2 0-2 2.1-2 0-2 2-2 0-2 2-2.1 0-2 2-2 0-2 2-2 0-2 2-2 0-2 2-2.1 0-2 2.1-2 0-2 2-2 0-2 2-2 0-2 2-2.1 0-2 2-2 0-2 2-2 0-2 2-2 0-2.1 2-4 0-2 2.1-2 0-2 2-2 0-2 2-2.1 0-2 2-2 0-2 2-342.3 0z"/>
<path fill="#000eff" d="M297.6 757.6l819.4 0 0-438.9-2 0-2 2-2 0-2 2-2 0-2 2-2.1 0-2 2-2 0-2 2-2 0-2 2-2 0-2 2.1-2.1 0-2 2-2 0-2 2-2 0-2 2-2 0-2.1 2-2 0-2 2-2 0-2 2-2 0-2 2-2 0-2.1 2.1-2 0-2 2-2 0-2 2-2 0-2 2-2.1 0-2 2-2 0-2 2-2 0-2 2-2 0-2 2.1-2.1 0-2 2-2 0-2 2-2 0-2 2-2 0-2 2-2.1 0-2 2-2 0-2 2-2 0-2 2-2 0-2.1 2.1-2 0-2 2-2 0-2 2-2 0-2 2-2 0-2.1 2-2 0-2 2-2 0-2 2-4 0-2.1 2.1-2 0-2 2-2 0-2 2-2 0-2 2-2 0-2.1 2-2 0-2 2-2 0-2 2-2 0-2 2-2.1 0-2 2.1-2 0-2 2-2 0-2 2-2 0-2 2-2.1 0-2 2-2 0-2 2-2 0-2 2-2 0-2.1 2.1-2 0-2 2-2 0-2 2-2 0-2 2-2 0-2.1 2-2 0-2 2-2 0-2 2-2 0-2 2-2.1 0-2 2.1-2 0-2 2-2 0-2 2-2 0-2 2-2.1 0-2 2-2 0-2 2-2 0-2 2-2 0-2 2.1-2.1 0-2 2-2 0-2 2-2 0-2 2-2 0-2.1 2-2 0-2 2-2 0-2 2-2 0-2 2-4.1 0-2 2.1-2 0-2 2-2 0-2 2-2 0-2.1 2-2 0-2 2-2 0-2 2-2 0-2 2-2 0-2.1 2.1-2 0-2 2-2 0-2 2-2 0-2 2-2.1 0-2 2-2 0-2 2-2 0-2 2-2 0-2 2-2.1 0-2 2.1-2 0-2 2-2 0-2 2-2 0-2.1 2-2 0-2 2-2 0-2 2-2 0-2 2-2 0-2.1 2-2 0-2 2.1-2 0-2 2-2 0-2 2-2.1 0-2 2-2 0-2 2-2 0-2 2-2 0-2 2-2.1 0-2 2.1-2 0-2 2-2 0-2 2-2 0-2 2-2.1 0-2 2-2 0-2 2-2 0-2 2-2 0-2.1 2-4 0-2 2.1-2 0-2 2-2 0-2 2-2.1 0-2 2-2 0-2 2-342.3 0zM976.1 462.7l-1.7-1.1 4.6-4 5.9-4 15.4-9.7 10-6.9 2.1-0.7 1.8 1.1-1.3 4.1-2.3 4-2.3 2.8-2 1.7-20.7 9.6-5.5 2.2z"/>
<path fill="#0018ff" d="M297.6 757.6l819.4 0 0-438.9-2 0-2 2-2 0-2 2-2 0-2 2-2.1 0-2 2-2 0-2 2-2 0-2 2-2 0-2 2.1-2.1 0-2 2-2 0-2 2-2 0-2 2-2 0-2.1 2-2 0-2 2-2 0-2 2-2 0-2 2-2 0-2.1 2.1-2 0-2 2-2 0-2 2-2 0-2 2-2.1 0-2 2-2 0-2 2-2 0-2 2-2 0-2 2.1-2.1 0-2 2-2 0-2 2-2 0-2 2-2 0-2 2-2.1 0-2 2-2 0-2 2-2 0-2 2-2 0-2.1 2.1-2 0-2 2-2 0-2 2-2 0-2 2-2 0-2.1 2-2 0-2 2-2 0-2 2-4 0-2.1 2.1-2 0-2 2-2 0-2 2-2 0-2 2-2 0-2.1 2-2 0-2 2-2 0-2 2-2 0-2 2-2.1 0-2 2.1-2 0-2 2-2 0-2 2-2 0-2 2-2.1 0-2 2-2 0-2 2-2 0-2 2-2 0-2.1 2.1-2 0-2 2-2 0-2 2-2 0-2 2-2 0-2.1 2-2 0-2 2-2 0-2 2-2 0-2 2-2.1 0-2 2.1-2 0-2 2-2 0-2 2-2 0-2 2-2.1 0-2 2-2 0-2 2-2 0-2 2-2 0-2 2.1-2.1 0-2 2-2 0-2 2-2 0-2 2-2 0-2.1 2-2 0-2 2-2 0-2 2-2 0-2 2-4.1 0-2 2.1-2 0-2 2-2 0-2 2-2 0-2.1 2-2 0-2 2-2 0-2 2-2 0-2 2-2 0-2.1 2.1-2 0-2 2-2 0-2 2-2 0-2 2-2.1 0-2 2-2 0-2 2-2 0-2 2-2 0-2 2-2.1 0-2 2.1-2 0-2 2-2 0-2 2-2 0-2.1 2-2 0-2 2-2 0-2 2-2 0-2 2-2 0-2.1 2-2 0-2 2.1-2 0-2 2-2 0-2 2-2.1 0-2 2-2 0-2 2-2 0-2 2-2 0-2 2-2.1 0-2 2.1-2 0-2 2-2 0-2 2-2 0-2 2-2.1 0-2 2-2 0-2 2-2 0-2 2-2 0-2.1 2-4 0-2 2.1-2 0-2 2-2 0-2 2-2.1 0-2 2-2 0-2 2-342.3 0zM637.9 556.4l-0.5-0.2 0.9 0zM911.7 494.9l-1.1-1.1 8.5-6 13.7-8.1 25.2-13.6 40.3-24.7 14.1-9.8 6-3.1 2-0.6 2 0.4 0.5 1.1-1 4-5.5 11.7-4 6.7-4.1 3.5-12.1 5-20.1 10-10.1 4.5-8 2.9-29.1 12.1-11.3 4z"/>
<path fill="#0021ff" d="M297.6 757.6l819.4 0 0-438.9-2 0-2 2-2 0-2 2-2 0-2 2-2.1 0-2 2-2 0-2 2-2 0-2 2-2 0-2 2.1-2.1 0-2 2-2 0-2 2-2 0-2 2-2 0-2.1 2-2 0-2 2-2 0-2 2-2 0-2 2-2 0-2.1 2.1-2 0-2 2-2 0-2 2-2 0-2 2-2.1 0-2 2-2 0-2 2-2 0-2 2-2 0-2 2.1-2.1 0-2 2-2 0-2 2-2 0-2 2-2 0-2 2-2.1 0-2 2-2 0-2 2-2 0-2 2-2 0-2.1 2.1-2 0-2 2-2 0-2 2-2 0-2 2-2 0-2.1 2-2 0-2 2-2 0-2 2-4 0-2.1 2.1-2 0-2 2-2 0-2 2-2 0-2 2-2 0-2.1 2-2 0-2 2-2 0-2 2-2 0-2 2-2.1 0-2 2.1-2 0-2 2-2 0-2 2-2 0-2 2-2.1 0-2 2-2 0-2 2-2 0-2 2-2 0-2.1 2.1-2 0-2 2-2 0-2 2-2 0-2 2-2 0-2.1 2-2 0-2 2-2 0-2 2-2 0-2 2-2.1 0-2 2.1-2 0-2 2-2 0-2 2-2 0-2 2-2.1 0-2 2-2 0-2 2-2 0-2 2-2 0-2 2.1-2.1 0-2 2-2 0-2 2-2 0-2 2-2 0-2.1 2-2 0-2 2-2 0-2 2-2 0-2 2-4.1 0-2 2.1-2 0-2 2-2 0-2 2-2 0-2.1 2-2 0-2 2-2 0-2 2-2 0-2 2-2 0-2.1 2.1-2 0-2 2-2 0-2 2-2 0-2 2-2.1 0-2 2-2 0-2 2-2 0-2 2-2 0-2 2-2.1 0-2 2.1-2 0-2 2-2 0-2 2-2 0-2.1 2-2 0-2 2-2 0-2 2-2 0-2 2-2 0-2.1 2-2 0-2 2.1-2 0-2 2-2 0-2 2-2.1 0-2 2-2 0-2 2-2 0-2 2-2 0-2 2-2.1 0-2 2.1-2 0-2 2-2 0-2 2-2 0-2 2-2.1 0-2 2-2 0-2 2-2 0-2 2-2 0-2.1 2-4 0-2 2.1-2 0-2 2-2 0-2 2-2.1 0-2 2-2 0-2 2-342.3 0zM637.9 556.5l-0.9-0.3 0.9-0.3 0.7 0.3zM758.7 538.2l-2-0.1 2-0.3 2-1 0.2-0.7 3.8-1.1 1.7-0.9 25.1-8.1 20.6-6 35.2-9.2 12-3.6 44.3-18.6 12.1-5.7 44.3-22.4 34.2-19.9 18.2-12.4 8-4.9 4-2.1 4.1-1.3 2 0 1.1 1.4-0.2 2.1-1.5 4-6.1 12.1-5.4 12-2.2 4.1-1.8 2.3-1.9 1.7-4.1 2-10.1 3.7-26.2 13.8-37.6 16.7-21.1 8.1-24 8-29.3 8.1-26.2 6-21.7 4.1-36.2 6-11.3 1.3-2.8 0.7z"/>
<path fill="#002aff" d="M297.6 757.6l819.4 0 0-438.9-2 0-2 2-2 0-2 2-2 0-2 2-2.1 0-2 2-2 0-2 2-2 0-2 2-2 0-2 2.1-2.1 0-2 2-2 0-2 2-2 0-2 2-2 0-2.1 2-2 0-2 2-2 0-2 2-2 0-2 2-2 0-2.1 2.1-2 0-2 2-2 0-2 2-2 0-2 2-2.1 0-2 2-2 0-2 2-2 0-2 2-2 0-2 2.1-2.1 0-2 2-2 0-2 2-2 0-2 2-2 0-2 2-2.1 0-2 2-2 0-2 2-2 0-2 2-2 0-2.1 2.1-2 0-2 2-2 0-2 2-2 0-2 2-2 0-2.1 2-2 0-2 2-2 0-2 2-4 0-2.1 2.1-2 0-2 2-2 0-2 2-2 0-2 2-2 0-2.1 2-2 0-2 2-2 0-2 2-2 0-2 2-2.1 0-2 2.1-2 0-2 2-2 0-2 2-2 0-2 2-2.1 0-2 2-2 0-2 2-2 0-2 2-2 0-2.1 2.1-2 0-2 2-2 0-2 2-2 0-2 2-2 0-2.1 2-2 0-2 2-2 0-2 2-2 0-2 2-2.1 0-2 2.1-2 0-2 2-2 0-2 2-2 0-2 2-2.1 0-2 2-2 0-2 2-2 0-2 2-2 0-2 2.1-2.1 0-2 2-2 0-2 2-2 0-2 2-2 0-2.1 2-2 0-2 2-2 0-2 2-2 0-2 2-4.1 0-2 2.1-2 0-2 2-2 0-2 2-2 0-2.1 2-2 0-2 2-2 0-2 2-2 0-2 2-2 0-2.1 2.1-2 0-2 2-2 0-2 2-2 0-2 2-2.1 0-2 2-2 0-2 2-2 0-2 2-2 0-2 2-2.1 0-2 2.1-2 0-2 2-2 0-2 2-2 0-2.1 2-2 0-2 2-2 0-2 2-2 0-2 2-2 0-2.1 2-2 0-2 2.1-2 0-2 2-2 0-2 2-2.1 0-2 2-2 0-2 2-2 0-2 2-2 0-2 2-2.1 0-0.9 1 3.1-1 7.9-0.8 4 0.7 8.1 3 4 0.6 4 0.1 10.1-0.7 18.1-2 12.1-2.6 37-10.3 47.6-11.2 12-3.6 48.4-18.9 50.3-24.2 34.2-19.4 26.2-17.5 18.1-10.5 4-3.1 4.1-2.2 0.6 1.8-0.5 2.1-2.2 4.6-13.8 23.5-9.7 22.2-2.6 3.4-2 1.6-2 1-8.1 2.8-32.2 17.3-36.3 15.7-48.9 16.6-47.8 12.1-44.5 8-52.6 8.1-20.6 2-17.1 1.2-3.9 0.8-8.2 0.3-2.4-0.3-1.6-1.2-2-0.5-6.2-0.3 3.2-2-1-1.5-3.1-0.6 3.7-6 0.2-2-0.8-0.8-2-0.8-2 1.6-2.1 0-2 2-2 0-2 2-2 0-2 2-2 0-2.1 2-4 0-2 2.1-2 0-2 2-2 0-2 2-2.1 0-2 2-2 0-2 2-5.3 0-0.7 0.5-2.3-0.5-334 0zM637.9 556.6l-1.3-0.4 1.3-0.5 1 0.5z"/>
<path fill="#0034ff" d="M297.6 757.6l819.4 0 0-438.9-2 0-2 2-2 0-2 2-2 0-2 2-2.1 0-2 2-2 0-2 2-2 0-2 2-2 0-2 2.1-2.1 0-2 2-2 0-2 2-2 0-2 2-2 0-2.1 2-2 0-2 2-2 0-2 2-2 0-2 2-2 0-2.1 2.1-2 0-2 2-2 0-2 2-2 0-2 2-2.1 0-2 2-2 0-2 2-2 0-2 2-2 0-2 2.1-2.1 0-2 2-2 0-2 2-2 0-2 2-2 0-2 2-2.1 0-2 2-2 0-2 2-2 0-2 2-2 0-2.1 2.1-2 0-2 2-2 0-2 2-2 0-2 2-2 0-2.1 2-2 0-2 2-2 0-2 2-4 0-2.1 2.1-2 0-2 2-2 0-2 2-2 0-2 2-2 0-2.1 2-2 0-2 2-2 0-2 2-2 0-2 2-2.1 0-2 2.1-2 0-2 2-2 0-2 2-2 0-2 2-2.1 0-2 2-2 0-2 2-2 0-2 2-2 0-2.1 2.1-2 0-2 2-2 0-2 2-2 0-2 2-2 0-2.1 2-2 0-2 2-2 0-2 2-2 0-2 2-2.1 0-2 2.1-2 0-2 2-2 0-2 2-2 0-2 2-2.1 0-2 2-2 0-2 2-2 0-2 2-2 0-2 2.1-2.1 0-2 2-2 0-2 2-2 0-2 2-2 0-2.1 2-2 0-2 2-2 0-2 2-2 0-2 2-4.1 0-2 2.1-2 0-2 2-2 0-2 2-2 0-2.1 2-2 0-2 2-2 0-2 2-2 0-2 2-2 0-2.1 2.1-2 0-2 2-2 0-2 2-2 0-2 2-2.1 0-2 2-2 0-2 2-2 0-2 2-2 0-2 2-2.1 0-2 2.1-2 0-2 2-2 0-2 2-2 0-2.1 2-2 0-2 2-2 0-2 2-2 0-2 2-2 0-2.1 2-2 0-2 2.1-2 0-0.3 0.3 4.3-0.4 2 0.3 10.1 3 10.1 1.3 10-0.2 10.1-1.5 32.2-7.7 42.3-8.9 14.1-3.3 12.1-3.8 34.2-12.6 18.1-7.6 34.2-15.9 20.2-10.6 20.1-11.4 10.1-6.4 34.3-23.4 22-19 6.1-4.6 0.5 1.5-0.5 2-14.1 25.2-15.4 23.1-4 8.1-7.3 18.1-1.5 2.6-3.4 3.4-10.7 5.4-11.7 6.7-19.5 10.1-8.8 4-34.5 13.9-45.8 14.3-51.7 12.1-49.3 8-44.7 6.1-36 2.9-10 1.2-3.4-0.1-2.7-1.1-4-0.5-16.1 0.7-2 0.2-0.7 0.7-3.4 0.3-4-0.3 6.1-0.8 1.2-1.2 2.8-0.8 2.6-1.2 1.7-2 0.5-2.1 0.7-6-1.5 0-2 2-2 0-2 2-2 0-2.1 2-4 0-2 2.1-2 0-2 2-2 0-2 2-2.1 0-2 2-2 0-2 2-5 0-1 0.7-2.8-0.7-333.5 0zM637.9 556.7l-1.7-0.5 1.7-0.6 1.3 0.6zM643.9 556.3l-0.7-0.1 1.7 0zM652 554.4l-1.9-0.2 4.4 0z"/>
<path fill="#003dff" d="M297.6 757.6l819.4 0 0-438.9-2 0-2 2-2 0-2 2-2 0-2 2-2.1 0-2 2-2 0-2 2-2 0-2 2-2 0-2 2.1-2.1 0-2 2-2 0-2 2-2 0-2 2-2 0-2.1 2-2 0-2 2-2 0-2 2-2 0-2 2-2 0-2.1 2.1-2 0-2 2-2 0-2 2-2 0-2 2-2.1 0-2 2-2 0-2 2-2 0-2 2-2 0-2 2.1-2.1 0-2 2-2 0-2 2-2 0-2 2-2 0-2 2-2.1 0-2 2-2 0-2 2-2 0-2 2-2 0-2.1 2.1-2 0-2 2-2 0-2 2-2 0-2 2-2 0-2.1 2-2 0-2 2-2 0-2 2-4 0-2.1 2.1-2 0-2 2-2 0-2 2-2 0-2 2-2 0-2.1 2-2 0-2 2-2 0-2 2-2 0-2 2-2.1 0-2 2.1-2 0-2 2-2 0-2 2-2 0-2 2-2.1 0-2 2-2 0-2 2-2 0-2 2-2 0-2.1 2.1-2 0-2 2-2 0-2 2-2 0-2 2-2 0-2.1 2-2 0-2 2-2 0-2 2-2 0-2 2-2.1 0-2 2.1-2 0-2 2-2 0-2 2-2 0-2 2-2.1 0-2 2-2 0-2 2-2 0-2 2-2 0-2 2.1-2.1 0-2 2-2 0-2 2-2 0-2 2-2 0-2.1 2-2 0-2 2-2 0-2 2-2 0-2 2-4.1 0-2 2.1-2 0-2 2-2 0-2 2-2 0-2.1 2-2 0-2 2-2 0-2 2-2 0-2 2-2 0-2.1 2.1-2 0-2 2-2 0-2 2-2 0-2 2-2.1 0-2 2-2 0-2 2-2 0-2 2-2 0-2 2-2.1 0-2 2.1-2 0-2 2-2 0-2 2-2 0-2.1 2-2 0-0.3 0.3 6.4 0.2 6 1.8 6.1 1.3 10 0.2 12.1-1.5 42.3-7.2 22.1-4.2 14.1-3.6 26.2-8.6 22.1-8.1 24.2-10.3 24.2-11.2 20.1-10.5 20.1-11.5 36.3-24.4 8-6.2 28.2-25.5 4-2.4 1.1 0.5-1.1 5-4 9.4-14.1 25-15.7 23-2.9 6.1-8.2 20.1-1.4 2.7-3.1 3.4-19.6 12-32.7 16.1-36.8 14.1-41.1 12.1-7.8 2-46.1 10.1-39.3 6-57.4 7.3-46.3 3.6-8-1.6-8.1 0.1-18.1 1.8-1.5 0.9-2.5 0.3-4 0.1-0.9-0.4 6.9-0.9 0.5-1.1 5.5-1.4 6.5-2.6 2.3-2 0.7-2.1 1-6-0.4 0-2 2-2 0-2 2-2 0-2.1 2-4 0-2 2.1-2 0-2 2-2 0-2 2-2.1 0-2 2-2 0-2 2-4.7 0-1.3 0.9-3.4-0.9-332.9 0zM635.9 556.2l2-0.8 1.6 0.8-1.6 0.6zM641.9 556.2l2-0.3 2.4 0.3z"/>
<path fill="#0047ff" d="M297.6 757.6l819.4 0 0-438.9-2 0-2 2-2 0-2 2-2 0-2 2-2.1 0-2 2-2 0-2 2-2 0-2 2-2 0-2 2.1-2.1 0-2 2-2 0-2 2-2 0-2 2-2 0-2.1 2-2 0-2 2-2 0-2 2-2 0-2 2-2 0-2.1 2.1-2 0-2 2-2 0-2 2-2 0-2 2-2.1 0-2 2-2 0-2 2-2 0-2 2-2 0-2 2.1-2.1 0-2 2-2 0-2 2-2 0-2 2-2 0-2 2-2.1 0-2 2-2 0-2 2-2 0-2 2-2 0-2.1 2.1-2 0-2 2-2 0-2 2-2 0-2 2-2 0-2.1 2-2 0-2 2-2 0-2 2-4 0-2.1 2.1-2 0-2 2-2 0-2 2-2 0-2 2-2 0-2.1 2-2 0-2 2-2 0-2 2-2 0-2 2-2.1 0-2 2.1-2 0-2 2-2 0-2 2-2 0-2 2-2.1 0-2 2-2 0-2 2-2 0-2 2-2 0-2.1 2.1-2 0-2 2-2 0-2 2-2 0-2 2-2 0-2.1 2-2 0-2 2-2 0-2 2-2 0-2 2-2.1 0-2 2.1-2 0-2 2-2 0-2 2-2 0-2 2-2.1 0-2 2-2 0-2 2-2 0-2 2-2 0-2 2.1-2.1 0-2 2-2 0-2 2-2 0-2 2-2 0-2.1 2-2 0-2 2-2 0-2 2-2 0-2 2-4.1 0-2 2.1-2 0-2 2-2 0-2 2-2 0-2.1 2-2 0-2 2-2 0-2 2-2 0-2 2-2 0-2.1 2.1-2 0-2 2-2 0-2 2-2 0-2 2-2.1 0-2 2-2 0-2 2-2 0-2 2-2 0-0.3 0.3 6.3 0.6 8.1 2 10 0.4 24.2-1.5 26.2-3.6 16.1-3.1 14.1-3.7 32.2-10.5 18.1-6.8 22.1-9.4 24.2-11.4 20.1-10.7 16.1-9.4 24.2-16.1 10.1-7.1 8-6.3 32.2-28.6 6.1-4.4 0.9 0.5-0.8 4-10.2 22-12.1 22.2-16.2 24.3-2.9 6-8.3 20.1-1 2-1.8 2.4-2 1.7-18.1 12.2-28.2 14.2-8.8 3.8-31.5 11.8-6 1.8-45.8 12.5-48.8 10.1-42 6-50.8 6.1-48.2 3.5-6-1.3-4-0.2-16.1 0.7-14.1 2.1-2 0-1.9-0.8 5.9-1.3 1.3-0.7 4.7-1.3 6.1-2.4 2-1.2 1.4-1.1 0.9-2.1 1.2-5.5-1.5 1.5-2 0-2 2-2 0-2.1 2-4 0-2 2.1-2 0-2 2-2 0-2 2-2.1 0-2 2-2 0-2 2-4.4 0 0.4 1 2 0.1 1.9 0.9-1.9 0.7-2.4-0.7-1.6-0.9-3.9-1.1-332.4 0zM641.9 556.4l-1.5-0.2 5.5-0.5 1.3 0.5-3.3 0.4z"/>
<path fill="#0050ff" d="M297.6 757.6l819.4 0 0-438.9-2 0-2 2-2 0-2 2-2 0-2 2-2.1 0-2 2-2 0-2 2-2 0-2 2-2 0-2 2.1-2.1 0-2 2-2 0-2 2-2 0-2 2-2 0-2.1 2-2 0-2 2-2 0-2 2-2 0-2 2-2 0-2.1 2.1-2 0-2 2-2 0-2 2-2 0-2 2-2.1 0-2 2-2 0-2 2-2 0-2 2-2 0-2 2.1-2.1 0-2 2-2 0-2 2-2 0-2 2-2 0-2 2-2.1 0-2 2-2 0-2 2-2 0-2 2-2 0-2.1 2.1-2 0-2 2-2 0-2 2-2 0-2 2-2 0-2.1 2-2 0-2 2-2 0-2 2-4 0-2.1 2.1-2 0-2 2-2 0-2 2-2 0-2 2-2 0-2.1 2-2 0-2 2-2 0-2 2-2 0-2 2-2.1 0-2 2.1-2 0-2 2-2 0-2 2-2 0-2 2-2.1 0-2 2-2 0-2 2-2 0-2 2-2 0-2.1 2.1-2 0-2 2-2 0-2 2-2 0-2 2-2 0-2.1 2-2 0-2 2-2 0-2 2-2 0-2 2-2.1 0-2 2.1-2 0-2 2-2 0-2 2-2 0-2 2-2.1 0-2 2-2 0-2 2-2 0-2 2-2 0-2 2.1-2.1 0-2 2-2 0-2 2-2 0-2 2-2 0-2.1 2-2 0-2 2-2 0-2 2-2 0-2 2-4.1 0-2 2.1-2 0-2 2-2 0-2 2-2 0-2.1 2-2 0-2 2-2 0-2 2-2 0-2 2-2 0-2.1 2.1-2 0-2 2-2 0-0.3 0.3 6.3 0.8 12.1 3.3 8.1 0.9 16.1-0.6 20.1-2.6 18.1-3.9 26.2-7.6 20.1-6.7 20.2-7.8 20.1-8.9 20.1-9.8 20.2-10.8 16.1-9.9 20.1-13.5 12.1-9 24.1-20.4 20.2-18.3 4-2.9 1 0.5-0.8 4.1-7.4 14-8.9 19-10.1 19.3-17.1 26.2-11.1 25.8-2 3.2-3.7 3.2-16.8 12.1-27.5 14.1-9.1 4-35.5 12.9-50.8 13.3-39.5 8-8.3 1.4-46.3 6.3-39.7 4.4-54 4-9-1.5-10.1 0.1-8 0.6-16.1 2.1-4.1 1.1-2 0.2-4-0.4-2 0.7-8.5-2.9-331.8 0zM635.9 554.2l4 1.9 6-0.9 1.6-1 10.5-3.1 6.1-2.3 4.2-2.6 1.2-2.1 1.2-4.6-0.6 0.6-2 0-2 2-2 0-2.1 2-4 0-2 2.1-2 0-2 2-2 0-2 2-2.1 0-2 2-2 0-2 2z"/>
<path fill="#005aff" d="M297.6 757.6l819.4 0 0-438.9-2 0-2 2-2 0-2 2-2 0-2 2-2.1 0-2 2-2 0-2 2-2 0-2 2-2 0-2 2.1-2.1 0-2 2-2 0-2 2-2 0-2 2-2 0-2.1 2-2 0-2 2-2 0-2 2-2 0-2 2-2 0-2.1 2.1-2 0-2 2-2 0-2 2-2 0-2 2-2.1 0-2 2-2 0-2 2-2 0-2 2-2 0-2 2.1-2.1 0-2 2-2 0-2 2-2 0-2 2-2 0-2 2-2.1 0-2 2-2 0-2 2-2 0-2 2-2 0-2.1 2.1-2 0-2 2-2 0-2 2-2 0-2 2-2 0-2.1 2-2 0-2 2-2 0-2 2-4 0-2.1 2.1-2 0-2 2-2 0-2 2-2 0-2 2-2 0-2.1 2-2 0-2 2-2 0-2 2-2 0-2 2-2.1 0-2 2.1-2 0-2 2-2 0-2 2-2 0-2 2-2.1 0-2 2-2 0-2 2-2 0-2 2-2 0-2.1 2.1-2 0-2 2-2 0-2 2-2 0-2 2-2 0-2.1 2-2 0-2 2-2 0-2 2-2 0-2 2-2.1 0-2 2.1-2 0-2 2-2 0-2 2-2 0-2 2-2.1 0-2 2-2 0-2 2-2 0-2 2-2 0-2 2.1-2.1 0-2 2-2 0-2 2-2 0-2 2-2 0-2.1 2-2 0-2 2-2 0-2 2-2 0-2 2-4.1 0-2 2.1-2 0-2 2-2 0-2 2-2 0-2.1 2-2 0-1.9 2 7.4 4 2.6 1 8 1.4 14.1-0.1 18.2-2.1 18.1-3.8 30.2-8.4 20.1-6.9 20.1-8.1 22.2-10.2 20.1-10.3 16.1-9.2 20.2-13 12-8.4 12.1-9.3 22.2-18.6 22.1-20.5 4-3 1.5 0.7 0 2-1.5 4.9-10.9 19.3-5.2 11.4-12.1 24.2-17.1 26.8-11.6 26.1-2.5 4.1-20.9 16.1-27.2 14.1-9.1 4-34.4 12.4-46.3 11.8-50.7 10-46 6.1-36.1 3.8-16.2 1.6-34.2 2.1-4 0.5-8.1 0.4-8-1.5-10.1 0.1-10 0.8-12.1 1.6-6.1 1.2-2 0.2-4-0.4-2 0.6-9.2-3-331.1 0zM636.2 554.2l3.7 1.7 2-0.2 4-0.9 0.9-0.6 15.2-5 5.3-3 1.4-2.1 1.2-4-1.8 0-2 2-2 0-2.1 2-4 0-2 2.1-2 0-2 2-2 0-2 2-2.1 0-2 2-2 0-2 2z"/>
<path fill="#0063ff" d="M297.6 757.6l819.4 0 0-438.9-2 0-2 2-2 0-2 2-2 0-2 2-2.1 0-2 2-2 0-2 2-2 0-2 2-2 0-2 2.1-2.1 0-2 2-2 0-2 2-2 0-2 2-2 0-2.1 2-2 0-2 2-2 0-2 2-2 0-2 2-2 0-2.1 2.1-2 0-2 2-2 0-2 2-2 0-2 2-2.1 0-2 2-2 0-2 2-2 0-2 2-2 0-2 2.1-2.1 0-2 2-2 0-2 2-2 0-2 2-2 0-2 2-2.1 0-2 2-2 0-2 2-2 0-2 2-2 0-2.1 2.1-2 0-2 2-2 0-2 2-2 0-2 2-2 0-2.1 2-2 0-2 2-2 0-2 2-4 0-2.1 2.1-2 0-2 2-2 0-2 2-2 0-2 2-2 0-2.1 2-2 0-2 2-2 0-2 2-2 0-2 2-2.1 0-2 2.1-2 0-2 2-2 0-2 2-2 0-2 2-2.1 0-2 2-2 0-2 2-2 0-2 2-2 0-2.1 2.1-2 0-2 2-2 0-2 2-2 0-2 2-2 0-2.1 2-2 0-2 2-2 0-2 2-2 0-2 2-2.1 0-2 2.1-2 0-2 2-2 0-2 2-2 0-2 2-2.1 0-2 2-2 0-2 2-2 0-2 2-2 0-2 2.1-2.1 0-2 2-2 0-2 2-2 0-2 2-2 0-2.1 2-2 0-2 2-2 0-2 2-2 0-2 2-4.1 0-2 2.1-2 0-1.2 1.1 9.3 4.8 8 1.6 12.1 0.2 15.2-1.7 21-4.3 24.2-6.4 20.1-6.8 20.2-8.1 20.1-9.3 20.1-10.3 16.1-9.4 20.2-13 18.1-13.1 22.1-17.9 29.1-26.2 3.1-1.9 2.1 0 0.4 1.9-0.4 2-1.1 4-1.8 4-10 16.1-5.3 11.8-13 26.5-17.5 28.2-11.7 26-2.1 3-20.1 16.2-28.2 14.9-9.9 4.3-34.4 12.2-48.8 12-51.8 9.6-46.3 5.7-46.3 4.6-40.3 2.5-8.1 0.4-8-1.3-10.1 0.1-12.1 0.9-18.1 2.5-4-0.3-2 0.5-9.9-3.1-330.4 0zM636.5 554.2l3.4 1.5 2-0.2 14.1-4.4 6-2.4 4.3-2.5 1.6-2.1 1.4-4-1.2 0-2 2-2 0-2.1 2-4 0-2 2.1-2 0-2 2-2 0-2 2-2.1 0-2 2-2 0-2 2z"/>
<path fill="#006dff" d="M297.6 757.6l819.4 0 0-438.9-2 0-2 2-2 0-2 2-2 0-2 2-2.1 0-2 2-2 0-2 2-2 0-2 2-2 0-2 2.1-2.1 0-2 2-2 0-2 2-2 0-2 2-2 0-2.1 2-2 0-2 2-2 0-2 2-2 0-2 2-2 0-2.1 2.1-2 0-2 2-2 0-2 2-2 0-2 2-2.1 0-2 2-2 0-2 2-2 0-2 2-2 0-2 2.1-2.1 0-2 2-2 0-2 2-2 0-2 2-2 0-2 2-2.1 0-2 2-2 0-2 2-2 0-2 2-2 0-2.1 2.1-2 0-2 2-2 0-2 2-2 0-2 2-2 0-2.1 2-2 0-2 2-2 0-2 2-4 0-2.1 2.1-2 0-2 2-2 0-2 2-2 0-2 2-2 0-2.1 2-2 0-2 2-2 0-2 2-2 0-2 2-2.1 0-2 2.1-2 0-2 2-2 0-2 2-2 0-2 2-2.1 0-2 2-2 0-2 2-2 0-2 2-2 0-2.1 2.1-2 0-2 2-2 0-2 2-2 0-2 2-2 0-2.1 2-2 0-2 2-2 0-2 2-2 0-2 2-2.1 0-2 2.1-2 0-2 2-2 0-2 2-2 0-2 2-2.1 0-2 2-2 0-2 2-2 0-2 2-2 0-2 2.1-2.1 0-2 2-2 0-2 2-2 0-2 2-2 0-2.1 2-2 0-2 2-2 0-0.9 1 6.9 3.8 3.7 1.3 4.4 0.7 12.1 0.1 14.1-1.6 22.1-4.4 18.1-4.7 20.2-6.9 20.1-8.3 18.1-8.4 18.1-9.4 16.1-9.5 18.2-11.6 18.1-13.1 22.1-17.5 29.7-26.2 4.6-2.5 2-0.6 0.9 1 0.1 2.1-1.6 6-1.7 4-11.5 18.1-18.4 39-16.9 27.5-12.2 26.2-2.8 4-20.5 16.7-24.8 13.5-11.4 5.1-36.3 12.7-46.3 11-52.3 9.7-48.7 5.8-45.9 4.3-32.3 1.9-16.1 0.8-8-1.2-10.1 0.1-12.1 0.8-18.1 2.4-4-0.2-2 0.3-10.8-3.2-329.5 0zM636.8 554.2l3.1 1.4 2-0.2 18.1-6.3 5.4-2.9 1.7-2.1 1.6-4-0.6 0-2 2-2 0-2.1 2-4 0-2 2.1-2 0-2 2-2 0-2 2-2.1 0-2 2-2 0-2 2z"/>
<path fill="#0076ff" d="M297.6 757.6l819.4 0 0-438.9-2 0-2 2-2 0-2 2-2 0-2 2-2.1 0-2 2-2 0-2 2-2 0-2 2-2 0-2 2.1-2.1 0-2 2-2 0-2 2-2 0-2 2-2 0-2.1 2-2 0-2 2-2 0-2 2-2 0-2 2-2 0-2.1 2.1-2 0-2 2-2 0-2 2-2 0-2 2-2.1 0-2 2-2 0-2 2-2 0-2 2-2 0-2 2.1-2.1 0-2 2-2 0-2 2-2 0-2 2-2 0-2 2-2.1 0-2 2-2 0-2 2-2 0-2 2-2 0-2.1 2.1-2 0-2 2-2 0-2 2-2 0-2 2-2 0-2.1 2-2 0-2 2-2 0-2 2-4 0-2.1 2.1-2 0-2 2-2 0-2 2-2 0-2 2-2 0-2.1 2-2 0-2 2-2 0-2 2-2 0-2 2-2.1 0-2 2.1-2 0-2 2-2 0-2 2-2 0-2 2-2.1 0-2 2-2 0-2 2-2 0-2 2-2 0-2.1 2.1-2 0-2 2-2 0-2 2-2 0-2 2-2 0-2.1 2-2 0-2 2-2 0-2 2-2 0-2 2-2.1 0-2 2.1-2 0-2 2-2 0-2 2-2 0-2 2-2.1 0-2 2-2 0-2 2-2 0-2 2-2 0-2 2.1-2.1 0-2 2-2 0-2 2-2.1 0.1 8.1 4.4 7.6 1.5 10.6 0 18.1-2.1 18.1-3.6 16.1-4.5 16.1-5.8 18.1-7.6 18.1-8.5 14.1-7.3 16.1-9.5 18.2-11.5 16.1-11.5 24.1-18.6 28.1-24.2 10.2-6.9 1.7 0.8 0.1 2-0.7 4.1-2.4 8-13.5 20.1-18 38.3-16.8 28.2-12.5 26.2-2.6 4-3.8 3.6-16.1 13.4-23.3 13.2-12.9 6-36.3 12.7-49.4 11.5-53.2 9.4-40.8 4.7-21.1 2-30.7 2.7-24.2 1.5-24.2 1.2-8-1.2-14.1 0.2-10.1 0.8-16.1 2.1-6 0-11.8-3.3-328.5 0zM637.2 554.2l2.7 1.2 2-0.2 14.1-4.8 5.3-2.2 3.2-2 1.6-1.7 2-4.4-2 2-2 0-2.1 2-4 0-2 2.1-2 0-2 2-2 0-2 2-2.1 0-2 2-2 0-2 2z"/>
<path fill="#0080ff" d="M297.6 757.6l819.4 0 0-438.9-2 0-2 2-2 0-2 2-2 0-2 2-2.1 0-2 2-2 0-2 2-2 0-2 2-2 0-2 2.1-2.1 0-2 2-2 0-2 2-2 0-2 2-2 0-2.1 2-2 0-2 2-2 0-2 2-2 0-2 2-2 0-2.1 2.1-2 0-2 2-2 0-2 2-2 0-2 2-2.1 0-2 2-2 0-2 2-2 0-2 2-2 0-2 2.1-2.1 0-2 2-2 0-2 2-2 0-2 2-2 0-2 2-2.1 0-2 2-2 0-2 2-2 0-2 2-2 0-2.1 2.1-2 0-2 2-2 0-2 2-2 0-2 2-2 0-2.1 2-2 0-2 2-2 0-2 2-4 0-2.1 2.1-2 0-2 2-2 0-2 2-2 0-2 2-2 0-2.1 2-2 0-2 2-2 0-2 2-2 0-2 2-2.1 0-2 2.1-2 0-2 2-2 0-2 2-2 0-2 2-2.1 0-2 2-2 0-2 2-2 0-2 2-2 0-2.1 2.1-2 0-2 2-2 0-2 2-2 0-2 2-2 0-2.1 2-2 0-2 2-2 0-2 2-2 0-2 2-2.1 0-2 2.1-2 0-2 2-2 0-2 2-2 0-2 2-2.1 0-2 2-2 0-2 2-2 0-1.9 1.9 7.4 4.2 6.6 1.2 14.1 0 14.1-1.6 16.1-3.4 14.1-4.3 15.8-6 18.6-8.1 15.9-7.6 12.1-6.6 16.1-9.6 16.1-10.3 18.1-13 20.1-15.3 23.8-20.1 11.2-8.1 3.3-3.6 2-1.4 2 0.5 0.6 2.5-0.3 2-2 10.1-1.3 4-11.1 14.3-4 6.3-18.1 38.7-17.2 29.3-11.6 24.2-3.4 5.1-14.6 13-5.6 4.4-23.8 13.7-13.6 6-22.4 8.1-12.6 4-46.4 10.5-56.3 9.8-38.3 4.2-40.2 3.7-30.2 2.1-32.3 1.6-8-1.1-12.1 0.1-10.1 0.5-20.1 2.3-4-0.1-8.1-2.4-4.9-1-327.3 0zM637.5 554.2l2.4 1 2-0.2 16.1-5.7 5.7-3.1 1.9-2.1 1.5-3-1 1-2 0-2.1 2-4 0-2 2.1-2 0-2 2-2 0-2 2-2.1 0-2 2-2 0-2 2z"/>
<path fill="#0089ff" d="M297.6 757.6l819.4 0 0-438.9-2 0-2 2-2 0-2 2-2 0-2 2-2.1 0-2 2-2 0-2 2-2 0-2 2-2 0-2 2.1-2.1 0-2 2-2 0-2 2-2 0-2 2-2 0-2.1 2-2 0-2 2-2 0-2 2-2 0-2 2-2 0-2.1 2.1-2 0-2 2-2 0-2 2-2 0-2 2-2.1 0-2 2-2 0-2 2-2 0-2 2-2 0-2 2.1-2.1 0-2 2-2 0-2 2-2 0-2 2-2 0-2 2-2.1 0-2 2-2 0-2 2-2 0-2 2-2 0-2.1 2.1-2 0-2 2-2 0-2 2-2 0-2 2-2 0-2.1 2-2 0-2 2-2 0-2 2-4 0-2.1 2.1-2 0-2 2-2 0-2 2-2 0-2 2-2 0-2.1 2-2 0-2 2-2 0-2 2-2 0-2 2-2.1 0-2 2.1-2 0-2 2-2 0-2 2-2 0-2 2-2.1 0-2 2-2 0-2 2-2 0-2 2-2 0-2.1 2.1-2 0-2 2-2 0-2 2-2 0-2 2-2 0-2.1 2-2 0-2 2-2 0-2 2-2 0-2 2-2.1 0-2 2.1-2 0-2 2-2 0-2 2-2 0-1.1 1.1 4.7 2.9 4.3 2 6.2 1.4 10 0.2 12.1-1.4 12.1-2.5 14.1-4.3 14.2-5.5 20-8.6 14.1-6.8 12.1-6.6 16.1-9.7 14.1-9 13.7-9.6 22.5-16.7 24.2-19.7 11.3-7.9 1.8-2 3-4.9 2-2.1 2-0.7 3.7 1.7 0.6 2-3.2 10-0.7 8.1-0.7 2-1.5 2-4.2 4-4.1 4.5-6.8 9.6-18.9 40.3-16.3 28.2-12.3 25-3.7 5.2-18.5 16.5-6 4-16.7 9.7-13.5 6.3-21.3 7.8-12.3 4-25.3 6.1-28.9 6-46.8 8-14.4 2-38.2 3.8-46.3 3.8-48.4 2.5-8-1.1-14.1 0.2-8.1 0.4-20.1 2.2-4-0.2-8.1-2.3-6.3-1.2-325.9 0zM637.8 554.2l2.1 0.8 2-0.1 13.2-4.7 4.5-2 3.3-2 2-2.1 1.3-2.1-2.1 0.1-2.1 2-4 0-2 2.1-2 0-2 2-2 0-2 2-2.1 0-2 2-2 0-2 2z"/>
<path fill="#0092ff" d="M297.6 757.6l819.4 0 0-438.9-2 0-2 2-2 0-2 2-2 0-2 2-2.1 0-1.3 1.4 1.3 0.4 1.8 2.2 1.1 4.1-0.2 2-0.7 2-3.5 6-1.5 4-0.1 4.1 1.2 6-2.1 2-6 3.9-4 3.6-5.3 6.6-2.8 4.3-3 5.8-15.1 32.9-17.7 31.5-11 22.2-4 6-13.6 12.9-6.1 5.1-20.1 12.3-7.5 3.9-9.5 4-22 8.1-9.3 2.9-12.4 3.1-38.3 8.1-60.6 10.1-43.7 4.2-46.3 3.7-24.2 1.3-24.2 1.1-8-1.1-16.1 0.3-26.2 2.4-4-0.2-8.1-2.4-8.6-1.3-21.6 0.6-34.2-0.6-267.8 0zM638.2 554.2l1.7 0.6 2-0.1 14.1-5.2 6.1-3.3 2.2-2.1 1.3-2-1.5 0-2.1 2-4 0-2 2.1-2 0-2 2-2 0-2 2-2.1 0-2 2-2 0-2 2zM889.2 445.5l8.4 0 8-1 10.1-2 10.1-2.9 16.1-6.1 16.1-6.7 14.1-6.6 12.1-6.5 20.1-11.9 16.5-10.7 33.4-24.1 22.6-17.8 10-6.6 1.7-1.8 1-2 3.2-8.1-1.8 0-2 2.1-2.1 0-2 2-2 0-2 2-2 0-2 2-2 0-2.1 2-2 0-2 2-2 0-2 2-2 0-2 2-2 0-2.1 2.1-2 0-2 2-2 0-2 2-2 0-2 2-2.1 0-2 2-2 0-2 2-2 0-2 2-2 0-2 2.1-2.1 0-2 2-2 0-2 2-2 0-2 2-2 0-2 2-2.1 0-2 2-2 0-2 2-2 0-2 2-2 0-2.1 2.1-2 0-2 2-2 0-2 2-2 0-2 2-2 0-2.1 2-2 0-2 2-2 0-2 2-4 0-2.1 2.1-2 0-2 2-2 0-2 2-2 0-2 2-2 0-2.1 2-2 0-2 2-2 0-2 2-2 0-2 2-2.1 0-2 2.1-2 0-2 2-2 0-2 2-2 0-2 2-2.1 0-2 2-2 0-2 2-2 0-2 2-2 0-2.1 2.1-2 0-2 2-2 0-2 2-2 0-2 2-2 0-2.1 2-2 0-2 2-2 0-2 2-2 0-2 2-2.1 0-1 1.1 3.2 3 2.9 2 5 1.5z"/>
<path fill="#009cff" d="M297.6 757.6l819.4 0 0-438.9-2 0-2 2-2 0-1.2 1.2 0.7 6.8-0.3 4.1-0.7 2-1.2 2-3.3 3.7-2.6 4.3-0.7 4.1 1 4 2.4 4-0.8 2-2.8 2-6.6 2.3-4 2.7-4.1 4.3-4.9 6.8-3.3 6.1-15.9 34.6-16.5 29.8-11.2 22.2-3.9 6-4.7 4.9-14 12.9-6.1 4.2-16.1 9.9-8 4-8.1 3.4-20.1 7.4-11.4 3.6-17.1 4.1-29.4 6-62.9 10.4-12.1 1.5-34.2 2.9-46.3 3.6-24.2 1.3-24.2 0.9-8-0.9-16.1 0.2-26.2 2.3-4-0.3-10.1-2.7-8-0.9-20.2 0.7-34.2-0.5-267.8-0.1zM638.7 554.2l1.2 0.5 3-0.5 13.1-5.1 5.4-2.9 2.2-2.1 1.4-2-0.9 0-2.1 2-4 0-2 2.1-2 0-2 2-2 0-2 2-2.1 0-2 2-2 0-2 2zM895.4 439.5l6.2 0.5 8.1-0.5 8-1.4 8.1-2.2 12.8-4.5 19.4-7.7 12.1-5.5 10-5.3 20.4-11.7 19.2-12.1 31.1-22.1 26-19.6 10-6.3 1-2.3 0.7-6-1.7 0-2 2-2 0-2 2-2 0-2 2-2 0-2.1 2-2 0-2 2-2 0-2 2-2 0-2 2-2 0-2.1 2.1-2 0-2 2-2 0-2 2-2 0-2 2-2.1 0-2 2-2 0-2 2-2 0-2 2-2 0-2 2.1-2.1 0-2 2-2 0-2 2-2 0-2 2-2 0-2 2-2.1 0-2 2-2 0-2 2-2 0-2 2-2 0-2.1 2.1-2 0-2 2-2 0-2 2-2 0-2 2-2 0-2.1 2-2 0-2 2-2 0-2 2-4 0-2.1 2.1-2 0-2 2-2 0-2 2-2 0-2 2-2 0-2.1 2-2 0-2 2-2 0-2 2-2 0-2 2-2.1 0-2 2.1-2 0-2 2-2 0-2 2-2 0-2 2-2.1 0-2 2-2 0-2 2-2 0-2 2-2 0-2.1 2.1-2 0-2 2-2 0-2 2-2 0-2 2-2 0-2.1 2-2 0-2.1 2 4.5 4z"/>
<path fill="#00a5ff" d="M297.6 757.6l819.4 0 0-438.9-2.2 0.2 0.2 9.8-0.9 6.1-1.1 2-6 4.2-2 2.5-1.4 3.3 0.2 4.1 2.4 6-0.6 2-0.6 1.2-2.1 1.9-2 0.9-6 1.7-4 2.6-4.1 4.3-4 5.6-3.3 6-16.8 36.3-16.4 30.1-10.3 20.2-3.9 6-5.7 6.1-12.7 12-5.4 3.9-16.1 10.2-6 3.3-8.1 3.5-24.1 9-8.1 2.6-12.1 3-22.1 4.8-21.7 4-62.9 9.9-78.5 6.3-32.2 1.8-24.2 0.9-8-0.9-16.1 0.2-26.2 2.1-4-0.3-10.1-2.6-8-0.9-20.2 0.9-34.2-0.6-267.8 0zM639.2 554.2l0.7 0.3 2.4-0.3 15.1-6 4.6-3.2 2.4-2.9-2.4 2-4 0-2 2.1-2 0-2 2-2 0-2 2-2.1 0-2 2-2 0-2 2zM903.5 433.4l4.2 0.8 6 0 6-0.8 7.7-2 28.6-10.3 12.1-5.2 9.3-4.6 28-16.1 18.8-12.1 28.1-20.1 22.5-17.1 8.9-5.1 1.5-2-0.4-2.6-1.1-1.4-0.9 0-2 2-1.2 0-0.8 0.7-0.4-0.3-1.6 1.6-2 0-2.1 2-2 0-2 2-2 0-2 2-2 0-2 2-2 0-2.1 2.1-2 0-2 2-2 0-2 2-2 0-2 2-2.1 0-2 2-2 0-2 2-2 0-2 2-2 0-2 2.1-2.1 0-2 2-2 0-2 2-2 0-2 2-2 0-2 2-2.1 0-2 2-2 0-2 2-2 0-2 2-2 0-2.1 2.1-2 0-2 2-2 0-2 2-2 0-2 2-2 0-2.1 2-2 0-2 2-2 0-2 2-4 0-2.1 2.1-2 0-2 2-2 0-2 2-2 0-2 2-2 0-2.1 2-2 0-2 2-2 0-2 2-2 0-2 2-2.1 0-2 2.1-2 0-2 2-2 0-2 2-2 0-2 2-2.1 0-2 2-2 0-2 2-2 0-2 2-2 0-2.1 2.1-2 0-2 2-2 0-2 2-2.2 0.2 4.2 3.9z"/>
<path fill="#00afff" d="M297.6 757.6l819.4 0 0-412.8-0.8-2-3.2-1.2-2-0.2-2 0.5-2 1.7-1.7 3.2-0.2 2.1 0.2 2 1.6 4 0.3 2-0.6 2-1.6 2.7-2.1 1.8-8 2.5-4 2.6-4.1 4.4-4 5.6-2.5 4.6-17.6 37.9-16.4 30.5-9.3 18.2-2.5 4.2-4 5-16.1 15.7-6.1 4.4-18.1 11.5-7.1 3.4-10.1 4.1-21 7.7-7.9 2.3-27.7 6.1-21.5 4-67.8 10.5-44 3.6-60.7 4-30.2 1-8-0.8-16.1 0.2-26.2 1.9-4-0.3-10.1-2.5-8-0.9-22.2 1-30.2-0.6-269.8 0zM639.7 554.2l2.2 0 2-0.7 12.8-5.3 3.3-2 3-3-1 0.9-4 0-2 2.1-2 0-2 2-2 0-2 2-2.1 0-2 2-2 0zM912.1 427.4l3.6 0.8 6.1-0.4 16.1-4.3 24.1-8.5 8.1-3.5 8.2-4.3 21.3-12 16.8-10.1 28-20.1 12.8-10.1 4-4 1.5-2 0.5-2.1-0.2-2-2.3 2-2 0-2.1 2.1-2 0-2 2-2 0-2 2-2 0-2 2-2.1 0-2 2-2 0-2 2-2 0-2 2-2 0-2 2.1-2.1 0-2 2-2 0-2 2-2 0-2 2-2 0-2 2-2.1 0-2 2-2 0-2 2-2 0-2 2-2 0-2.1 2.1-2 0-2 2-2 0-2 2-2 0-2 2-2 0-2.1 2-2 0-2 2-2 0-2 2-4 0-2.1 2.1-2 0-2 2-2 0-2 2-2 0-2 2-2 0-2.1 2-2 0-2 2-2 0-2 2-2 0-2 2-2.1 0-2 2.1-2 0-2 2-2 0-2 2-2 0-2 2-2.1 0-2 2-2 0-2 2-2 0-2 2-2 0-1.2 1.2 3.2 3.3z"/>
<path fill="#00b8ff" d="M297.6 757.6l819.4 0 0-388.5-0.9-14.2-0.9-6-0.8-2.1-1.4-1.8-2-0.9-2.3 0.7-1.5 2-0.6 2.1 0.1 2 1.2 4-0.1 2-0.8 2.8-2 3.3-2.1 1.7-8 2.4-3.1 1.9-4 4-5 7-20.1 42.6-24.7 47.1-3.8 6-3.7 4.4-10.1 10.4-5.8 5.3-22.4 15-6 3.1-9.9 4.1-21.7 8-8.7 2.7-14.8 3.4-31.1 6-72.9 11.1-38.2 3.1-64.4 4.1-32.3 1.1-8-0.7-16.1 0.1-26.2 1.7-4-0.3-10.1-2.4-8-0.8-22.2 1-30.2-0.5-269.8-0.1zM641.9 552.2l-1.9 1.9 3.9-0.8 7.8-3.1 6.3-3.2 3.7-2.9-3.7 0-2 2.1-2 0-2 2-2 0-2 2-2.1 0-2 2zM919 417.3l2.8 1.2 4 0.5 12.1-1.4 16.8-4.3 9.3-3.2 6.7-2.9 32.4-18.1 10.3-6 6-4 17.5-14.1 5.5-6.1 2.6-4.4-0.4 0.4-2.1 0-2 2-2 0-2 2-2 0-2 2-2 0-2 2.1-2.1 0-2 2-2 0-2 2-2 0-2 2-2 0-2 2-2.1 0-2 2-2 0-2 2-2 0-2 2-2 0-2.1 2.1-2 0-2 2-2 0-2 2-2 0-2 2-2 0-2.1 2-2 0-2 2-2 0-2 2-4 0-2.1 2.1-2 0-2 2-2 0-2 2-2 0-2 2-2 0-2.1 2-2 0-2 2-2 0-2 2-2 0-2 2-2.1 0-2 2.1-2 0-2 2-2 0-2 2-2 0-2 2-2.1 0-1.5 1.5z"/>
<path fill="#00c2ff" d="M297.6 757.6l819.4 0 0-98.6-0.9-32.3 0.1-22.2 0.8-11 0-206.4-1.2-26.2-0.8-5.4-2-6.3-2-2-2 0.8-0.7 2.9 0.5 4-0.3 2-1.5 4.3-2 3.2-2.1 1.4-6 1.6-4 2-4 3.7-5.8 8-18.4 39.1-24.6 47.4-4.9 8.1-4.7 5.6-14.3 14.5-5.9 4.4-18.1 12-6 3.1-6.7 2.7-25.5 9.5-8.1 2.4-40.7 8.2-80.1 12-100.6 6.6-32.3 1-8-0.6-18.1 0.2-24.2 1.4-4-0.3-10.1-2.3-8-0.8-22.2 1.2-30.2-0.6-269.8 0zM641.9 552.2l-1.6 1.7 3.6-0.8 7.2-2.9 6.9-3.6 3.1-2.5-3.1 0-2 2.1-2 0-2 2-2 0-2 2-2.1 0-2 2zM939.9 405.2l8 1.7 4.1 0.1 10-1.5 6.4-2.3 45.9-26.2 6.2-6 4.2-6.3-2.3 0.3-2 2-2 0-2 2-2 0-2 2-2.1 0-2 2-2 0-2 2-2 0-2 2-2 0-2.1 2.1-2 0-2 2-2 0-2 2-2 0-2 2-2 0-2.1 2-2 0-2 2-2 0-2 2-4 0-2.1 2.1-2 0-2 2-2 0-2 2-2 0-2 2-2 0-2.1 2-2 0-2 2-2 0-2 2z"/>
<path fill="#00cbff" d="M297.6 757.6l819.4 0 0-63.9-3.3-20.7-0.4-4 2.2-64.5 1.5-20.4 0-156.9-0.5-40.1-0.8-16.1-0.8-10.1-0.9-4-1-2.6-2-1.5-4 10.1-2 2.7-2.1 1.3-6 1.5-4 2.1-4 4-4.1 5.3-2 3.4-6.8 14-11.3 24.6-24.7 47.9-5.4 8-12.2 13.5-4 4-4 3.4-18.2 12.5-6 3.6-12.8 5.3-21.7 8-7.8 2.5-40.2 8.1-82.6 12.1-100.6 6.4-32.3 0.9-8-0.6-18.1 0.1-24.2 1.3-4-0.3-10.1-2.2-8-0.8-22.2 1.3-30.2-0.6-269.8 0zM641.9 552.2l-1.4 1.4 3.4-0.7 6.6-2.7 5.5-2.8 4.5-3.3-2.5 0-2 2.1-2 0-2 2-2 0-2 2-2.1 0-2 2zM968.1 391.1l-1.6 1.6 3.1-1.6z"/>
<path fill="#00d4ff" d="M297.6 757.6l819.4 0 0-33.3-4-24-1.6-15.2-0.9-14.1 2.3-40.3 1.5-14.1 0.5-14.1 1.6-16.1 0.6-27.5 0-102.6-0.7-53.1-0.4-16.1-0.9-16.1-1.1-10.1-0.9-3.4-2-1.3-2 2.5-1.1 4.3-2.9 3.7-2.1 1.3-6 1.4-3 1.6-5 4.9-3.9 5.2-9.2 18.1-9.1 20-12.1 24.6-13.6 25.9-5.3 8-13.3 14.8-4 4.1-4 3.2-22.2 15.2-11.7 5-26.5 9.8-6.1 1.8-40.2 7.9-82.6 11.8-100.6 6.1-32.3 0.8-8-0.5-18.1 0.1-22.2 1.1-6-0.3-8.1-1.8-10-1-22.2 1.4-30.2-0.7-269.8 0zM641.9 552.2l-1.2 1.2 4.5-1.2 8.8-4 3.4-2 2.5-2.1-1.9 0-2 2.1-2 0-2 2-2 0-2 2-2.1 0-2 2z"/>
<path fill="#00deff" d="M297.6 757.6l816.1 0 1.9-8.1-2.6-10.8-1.6-13.4-2-32.2-0.5-24.1 2.2-38.3 2.2-14.1 0.7-14.1 1-6 1.2-14.1 0.7-36.2 0.1-48.4-0.6-62.4-1.1-48.3-1.1-16.1-1.2-8.5-1.1-3.6-0.9-0.7-0.6 0.7-2.7 6.1-2.7 2.9-2.1 1.2-6 1.3-2 1.1-4 3.5-5 6.1-9.4 18.1-9.8 21.6-12.1 25-12.6 23.9-5.3 8-14.3 16.3-6.4 5.9-23.8 16.5-8.5 3.6-25.7 9.5-10.1 3.2-40.2 7.6-82.6 11.6-100.6 5.8-32.3 0.8-8-0.5-20.1 0.2-20.2 0.9-6-0.4-8.1-1.7-10-1-22.2 1.5-30.2-0.7-269.8 0zM641.9 552.2l-0.9 0.9 3.7-0.9 8.7-4 5.9-4.1-1.3 0-2 2.1-2 0-2 2-2 0-2 2-2.1 0-2 2z"/>
<path fill="#00e7ff" d="M297.6 757.6l811.4 0 0.5-4.1 0.1-6-0.6-6.1-1.2-32.2 0-40.2 1.9-38.3 2.8-16.1 0.7-12.1 1.1-6 1.3-12.1 0.8-30.2 0.3-40.3-0.3-56.3-1.4-64.4-1.6-22.2-0.8-4-1.6-3.6-2 1.5-4 4.2-2.1 1.4-4 0.3-4 1.8-4 3.9-4.1 4.7-2.4 3.9-8.2 16.1-21.4 46.3-12.9 24.2-4.1 6-15.8 18.1-5.6 5.1-20.2 14.4-4 2.4-34.2 12.9-10.1 3.2-40.2 7.4-82.6 11.3-100.6 5.5-32.3 0.7-8-0.4-20.1 0.2-20.2 0.7-6-0.4-8.1-1.7-10-0.8-22.2 1.5-30.2-0.7-269.8 0zM641.9 552.2l-0.7 0.7 2.7-0.6 4.9-2.1 5.2-2.7 4.7-3.4-0.7 0-2 2.1-2 0-2 2-2 0-2 2-2.1 0-2 2z"/>
<path fill="#00f1ff" d="M297.6 757.6l809.2 0 0.3-10.1-1.1-38.3 0.7-40.2 1.9-40.3 1.7-10.1 1.2-4 0.1-4 0.8-4-0.1-4.1 1.4-6 1.2-10.1 0.8-14.1 0.5-26.1 0-72.5-1.1-62.4-1.1-26.2-1.5-14.1-1.3-4-0.2-0.3-2-0.1-4 4.2-2.1 1.5-2-0.6-2 0.1-2.8 1.2-5.2 5-4.1 4.6-10 18.9-21 46-12.8 24.2-4.1 6-17.4 20.1-4.8 4.1-22.5 16.1-9.6 4-34.7 12.4-42.2 7.6-82.6 11-100.6 5.3-32.3 0.7-8-0.4-20.1 0.2-20.2 0.5-6-0.3-8.1-1.7-10-0.8-22.2 1.7-30.2-0.8-269.8 0zM641.9 552.2l-0.5 0.5 2-0.5zM645.9 550.2l-1.7 1.7 8-3.7 3.4-2-1.6 0-2 2-2 0-2 2z"/>
<path fill="#00faff" d="M297.6 757.6l807.5 0 0.2-10.1-0.9-38.3 3-78.5 1.4-12.1 1.4-4 0-4 0.8-1.6 0.5-2.4-0.2-4.1 1.4-4 1.8-12.1 0.8-16.1 0.6-24.1 0.3-38.3-0.3-34.2-1-54.4-1.5-34.2-2.4-15.3-2-1.3-2 1.5-2 3.6-2.1 0.5-2-1.3-2.6 0.2-2.8 2-4.6 4.5-4.1 4.7-10.2 19-20 44.7-12.6 23.8-4 6-17.6 20.6-4 3.6-24.2 17.4-10 4-28.2 10.3-6.1 1.8-40.2 7.1-84.6 11.1-100.6 5.1-32.3 0.6-8-0.4-40.3 0.6-6-0.4-8.1-1.6-10-0.7-22.2 1.7-30.2-0.8-269.8 0zM641.9 552.2l-0.2 0.2 1-0.2zM645.9 550.2l-1.3 1.3 3-1.3zM650 548.2l-1.7 1.7 3.4-1.7zM654 546.2l-1.5 1.5 2.5-1.5z"/>
<path fill="#00fffa" d="M297.6 757.6l806 0 0.1-10.1-0.8-38.3 3.5-78.5 0.7-10 1.7-6.1-0.7-2 0.5-2 1.9-4-1.3-2.1 2.8-6 2-12.1 0.9-16.1 0.6-22.1 0.3-42.3-1.1-80.5-1.7-37.6-0.9-6.7-1.8-8.1-1.3-2.3-4 4.8-2.1 0.2-2-1.3-2-0.1-2 1.2-6 5.5-3.6 4.1-10 18.1-19.4 44.3-12.8 24.2-4.6 6.7-18.1 21.3-4 3.4-20.1 14.9-4.1 2.5-34.2 12.7-10.1 3.3-40.2 6.9-84.6 10.7-100.6 4.9-32.3 0.5-8-0.3-40.3 0.4-6-0.4-8.1-1.5-10-0.7-22.2 1.9-30.2-0.9-269.8 0zM645.9 550.2l-0.8 0.9 2-0.9zM650 548.2l-1.2 1.1 2.3-1.1zM654 546.2l-0.6 0.6 1-0.6z"/>
<path fill="#00fff1" d="M297.6 757.6l804.6 0 0.1-10.1-0.7-38.3 3.9-78.5 0.7-10 0.9-6.1-0.3-2 2.3-6-1.3-2.1 3.6-6 2.2-12.1 1-16.1 0.6-24.1 0.3-38.3-0.2-34.2-1.3-56.4-1.1-22.1-0.9-10.1-1-5.4-2-4.6-4 1.9-2.1 0.2-2-0.6-2-0.1-8 6-2.5 2.6-7.6 12.6-2.9 5.5-19.2 44.8-12.5 23.7-5.5 8-18.3 21.4-24.1 18.2-4.1 2.4-33.6 12.4-10.7 3.4-40.2 6.7-84.6 10.4-100.6 4.7-32.3 0.5-6-0.3-42.3 0.2-6-0.4-8.1-1.4-10-0.6-8.1 0.5-8 1.2-6.1 0.3-30.2-1-269.8 0zM645.9 550.2l-0.4 0.4 1-0.4zM650 548.2l-0.6 0.5 1.1-0.5z"/>
<path fill="#00ffe7" d="M297.6 757.6l803.2 0 0.1-10.1-0.7-38.3 2.8-44.3 1.7-36.2 0.7-8 0.7-4.1 0-4 1.1-4 0.2-2-0.6-2.1 4-6 2.3-12.1 1-14.1 0.6-18.1 0.5-48.3-1.1-72.5-1.9-40.2-1.2-10.1-0.7-2-1.3-2.2-2-0.6-4.1 0.8-4 0.1-2 0.7-4 2.5-4 3.8-6.1 9.5-4.2 7.5-19.6 46.3-11.7 22.2-5.4 8-18.8 22.2-23.9 18.1-5 2.9-34.2 12.5-10.1 3-40.2 6.6-84.6 10.1-100.6 4.5-32.3 0.4-48.3-0.1-8-0.8-6.1-1.1-10-0.4-8.1 0.5-8 1.2-6.1 0.3-30.2-1-269.8 0z"/>
<path fill="#00ffde" d="M297.6 757.6l801.9 0 0.2-10.1-0.8-38.3 2.5-36.2 2.4-42.3 1.7-18.1 1-4-0.1-4.1 0.6-1.4 3.1-4.6 2.6-12.1 1-14.1 0.7-18.1 0.5-48.3-1.1-70.5-1.8-36.2-0.8-10.1-1.3-6-0.9-2-2-0.8-4.1 0.9-4 0.1-2 0.6-4 2.1-2 1.6-2 2.3-6.1 9-4.6 8.3-18.2 44.3-10.4 20.2-3.6 6-2.9 4-18.7 22.2-4 3.5-19.4 14.6-4.8 3.1-6.8 2.9-27.4 9.7-12.1 3.7-40.2 6.4-84.6 9.9-100.6 4.2-32.3 0.4-46.3-0.2-10-0.8-6.1-1.1-10-0.4-8.1 0.6-8 1.3-6.1 0.3-30.2-1.1-269.8 0z"/>
<path fill="#00ffd4" d="M297.6 757.6l800.7 0 0.1-10.1-0.8-38.3 4.9-72.4 2.4-24.2 1-4 0.1-4.1 0.8-2 2.7-4 2.8-12.1 1.1-16.1 0.7-18.1 0.5-46.3-1.3-72.5-0.7-18.1-1.6-21.8-0.6-4.4-1.4-5.5-2-1.4-10.1 1.4-4 2-2 1.6-4.1 5.1-4.6 6.9-4.3 8-17.2 43.1-11 21.4-5.3 8-20 23.6-4 3.4-17.6 13.3-6.6 4.3-8 3.3-24.2 8.5-13.2 4-41.1 6.4-84.6 9.7-100.6 4.1-32.3 0.3-38.2-0.2-10.1-0.3-14.1-1.7-10-0.3-8.1 0.6-8 1.3-6.1 0.4-30.2-1.2-269.8 0z"/>
<path fill="#00ffcb" d="M297.6 757.6l799.5 0 0.1-10.1-0.8-40.3 5-68.4 1.9-18.1 2-12.1 0.2-4.1 0.8-2 2.6-4 3-12.1 1-14.1 0.8-18.1 0.6-48.3-1-62.4-1.7-36.3-1.7-16.1-0.9-3.9-2-2.8-2-0.2-6.1 0.6-4 1.2-4 2.8-6.1 7.6-4 6.4-3.2 6.5-15.6 40.2-3.3 7.4-6.7 12.8-6.3 10-20.5 24.2-4.8 4.1-16.1 12.3-8.1 5.2-6 2.5-11.4 4.1-18.8 6.4-8 2.3-42.3 6.5-84.6 9.4-100.6 3.9-64.5 0.2-14.1-0.4-10-0.9-4.1-0.7-12-0.5-8.1 0.7-8 1.4-6.1 0.4-30.2-1.2-269.8 0z"/>
<path fill="#00ffc2" d="M297.6 757.6l798.3 0 0.1-10.1-1-32.2 0.1-8.1 5.1-66.4 2.4-20.1 2.1-12.1 0.4-4.1 0.8-2 2.4-4 3.2-12.1 1.8-32.2 0.7-48.3-1-58.5-0.9-24-1-16.2-2-16.1-0.7-2-1.4-2.3-2-0.8-4.1 0.1-4 0.7-4 1.9-2 1.7-6.1 7.2-3.6 5.6-3 6.1-15.5 41.2-4 8.8-5.4 10.4-3.5 6-3.2 4.6-20.2 23.8-6 5.3-14.1 10.7-5.4 3.9-4.7 2.6-6 2.6-14 4.9-16.2 5.4-8 2.3-42.3 6.3-84.6 9.1-100.6 3.8-64.5 0.2-14.1-0.6-16.1-1.7-10-0.3-8.1 0.8-8 1.4-6.1 0.4-30.2-1.3-269.8 0z"/>
<path fill="#00ffb8" d="M297.6 757.6l797.1 0 0.2-10.1-1.1-32.2 0-8.1 5.3-64.4 1.7-14.1 3.5-20.1 0.4-4.1 0.7-2 2.4-4 3.3-12.1 1.2-16.1 0.8-18.1 0.6-46.3-1.1-60.4-1.5-32.2-1.8-16.1-1.4-6.1-0.9-1.9-2-1.3-4.1-0.2-4 0.6-4 1.9-2 1.6-6.1 7-4 6.4-2.8 6.1-14.7 40.2-8.7 18.2-3.5 6-4.3 6-15.1 18.2-5.3 5.7-6 5.1-14.7 11.3-5.4 3.7-4.1 2.1-8 3.3-14.7 5-13.5 4.5-8 2.1-42.3 6.2-84.6 8.8-100.6 3.6-64.5 0.2-14.1-0.7-14.1-1.6-12-0.2-8.1 0.7-8 1.5-6.1 0.3-30.2-1.3-269.8 0z"/>
<path fill="#00ffaf" d="M297.6 757.6l795.9 0 0.2-10.1-1.2-38.3 2.8-38.2 3.5-34.2 5.5-32.3 2.9-6 3.6-12.1 1.9-34.2 0.7-46.3-0.5-38.3-1-30.2-0.7-16.1-1.3-14.1-1-8-1.9-7.2-2-2-2.1-0.6-4 0-2 0.4-4 1.9-2 1.5-6.1 6.7-3.3 5.3-2.9 6.1-14.2 40.2-3.7 8.6-4.8 9.6-3.5 6-4.2 6-20.6 24.2-5.2 4.6-14.1 10.9-6 4.3-4.1 2.3-6 2.7-10 3.6-20.2 6.7-10 2.6-42.3 6-84.6 8.6-100.6 3.4-62.5 0.2-16.1-0.8-6-1-8.1-0.6-12-0.1-8.1 0.7-8 1.6-6.1 0.3-30.2-1.3-269.8 0z"/>
<path fill="#00ffa5" d="M297.6 757.6l794.7 0 0.2-10.1-1.3-38.3 2.7-38.2 3.6-32.2 3.3-18.1 2.6-12.1 0.5-4.1 2.8-6 3.7-12.1 2-34.2 0.7-44.3-1.2-60.4-0.7-18.1-1-14.1-1.2-10.6-2-9.5-2-3.1-2.1-0.9-2-0.3-4 0.4-2 0.7-4 2.6-6.1 6.5-3.8 6.1-2.2 5-13.4 39.3-4.2 10.1-5.1 10.1-3.6 6-4.4 6.1-15.4 18.1-5.7 6-6.6 5.6-11 8.5-5.7 4-5.4 3.2-8.1 3.4-10 3.5-18.7 6-9.5 2.5-42.3 5.8-84.6 8.3-100.6 3.3-62.5 0.1-16.1-0.9-6-1.1-10.1-0.6-12 0.2-5.3 0.6-8.8 1.6-8.1 0.4-28.2-1.3-269.8 0z"/>
<path fill="#00ff9c" d="M297.6 757.6l793.5 0 0.2-10.1-1.5-38.3 2.7-38.2 4-32.2 3.6-18.1 2.9-12.1 0.5-4.1 2.7-6 1.6-6 2.3-6.1 1.9-34.2 0.8-44.3-1.3-60.4-0.7-18.1-1.2-14.1-1.3-10.1-1.9-8-1.4-2.7-2.1-1.5-2-0.5-4 0.3-4 1.6-2 1.4-4.1 3.9-2 2.5-3.1 5-2.7 6.1-13.2 40.3-3.4 8-4.9 10.1-3.6 6-4.3 6.1-15.4 18.1-5.7 6.1-6.1 5.3-12.1 9.4-6 4.3-6 3.4-8.1 3.4-10.1 3.5-18.1 5.7-10 2.5-42.3 5.7-84.6 8-100.6 3.1-62.5 0.2-16.1-1.1-6-1.2-10.1-0.5-12 0.3-14.1 2.3-8.1 0.5-28.2-1.5-269.8 0z"/>
<path fill="#00ff92" d="M297.6 757.6l792.2 0 0.3-10.1-1.6-38.3 2.5-38.2 5.3-36.3 6.2-26.1 0.6-4.1 2.6-6 1.6-6 2.5-6.1 1.9-34.2 0.8-46.3-0.6-36.2-1.1-30.2-0.9-16.1-0.9-9-2-11.5-2-5.7-2.1-2.2-2-0.8-2-0.2-4 0.8-2 0.9-4 3-4.1 4.6-2.5 3.9-2.7 6.1-12.7 40.3-3.2 8-4.9 10.1-3.4 6-4.3 6.1-21 24.1-7.7 6.9-10 7.9-7.7 5.3-6.4 3.6-6.1 2.6-10 3.5-18.2 5.7-10 2.6-10.1 1.7-32.2 4-86.6 8-100.6 3-62.5 0.1-16.1-1.2-6-1.3-4 0.1-4.1-0.5-14 0.4-14.1 2.5-8.1 0.4-28.2-1.5-269.8 0z"/>
<path fill="#00ff89" d="M297.6 757.6l791 0 0.3-10.1-1.8-38.3 2.4-38.2 4.6-30.2 1.2-6.1 6.7-26.1 0.7-4.1 2.5-6 1.7-6 2.5-6.1 2-34.2 0.8-44.3-0.6-38.2-0.8-22.2-1.6-26.2-2.2-14.3-2-6.9-2.1-2.9-2-1.2-4-0.3-2 0.4-4 2.1-4.1 3.6-2 2.5-2.9 5-2.5 6-11.4 38.3-3.3 8.5-4.5 9.6-4.7 8-4.4 6.1-15.7 18.1-5.8 6-7.2 6.4-10 7.8-8.1 5.5-6 3.2-6.1 2.6-10 3.5-18.2 5.6-10 2.5-10.1 1.6-32.2 3.9-86.6 7.7-100.6 2.9-62.5 0.1-16.1-1.4-6-1.3-4 0.1-4.1-0.5-14 0.6-14.1 2.5-8.1 0.4-28.2-1.5-269.8 0z"/>
<path fill="#00ff7f" d="M297.6 757.6l789.6 0 0.4-10.1-2-38.3 2.3-38.2 5-30.2 1.4-6.1 7.3-26.1 0.6-4.1 2.5-6 1.8-6 2.6-6.1 1.9-34.2 0.9-42.3-1.2-54.3-1.8-32.2-1.9-11.8-2.2-8.4-1.9-3.6-2-1.7-2-0.7-2-0.1-4 1.1-2 1.1-4.1 3.6-2 2.5-3.2 5.9-2.2 6-11 38.3-3.7 9.4-4 8.5-3.7 6.2-4.4 6.1-15.7 18.1-6.4 6.7-6.1 5.5-10 8-8.1 5.6-6 3.4-8.1 3.5-8 2.8-20.2 6.1-10 2.5-10.1 1.5-32.2 3.8-86.6 7.4-100.6 2.7-62.5 0.1-10-0.6-8.1-1.2-4-1-4 0.1-4.1-0.4-14 0.7-14.1 2.5-8.1 0.4-28.2-1.5-269.8 0z"/>
<path fill="#00ff76" d="M297.6 757.6l788.2 0 0.4-10.1-2.1-38.3 2.4-40.2 5.2-28.2 1.5-6.1 7.9-26.1 1.3-6.1 1.8-4 1.8-6 2.8-6.1 1.9-36.2 0.9-42.3-0.7-38.2-1-24.2-0.9-16-0.9-8.2-3.1-14.1-1.6-4-1.2-2-2.4-2-2.9-0.7-2 0.2-4 1.7-2 1.5-4.1 4.6-2.5 4.8-2.3 6-10.5 38.3-3 8-4.6 10.1-3.4 6-4.2 6.1-21.8 24.5-8.1 7.3-10 8-6.5 4.5-7.1 4-6.6 2.9-10 3.6-18.2 5.4-10 2.5-12.1 1.9-32.2 3.7-84.6 7-102.6 2.7-62.5 0.1-12-0.9-10.1-2.1-8.1-0.3-14 1-12.1 2.2-10.1 0.7-28.2-1.6-269.8 0z"/>
<path fill="#00ff6d" d="M297.6 757.6l786.8 0 0.3-10.1-2.1-38.3 2.3-40.2 6.6-32.2 9-28.2 1.4-6.1 1.8-4 1.9-6 2.2-4.1 0.9-4-0.1-4 1.8-30.2 0.9-38.3-0.8-42.2-2.1-40.3-1.4-10.6-3.1-11.6-3-5.2-2-1.5-2-0.6-2 0-4 1.6-4.1 3.4-1.7 2.3-2.2 4.1-2.2 6-7.2 28.2-3.5 12.1-3.3 8.7-4 8.6-3.9 6.8-4.5 6.1-14.2 16.1-7.7 8-8 7.3-10 7.9-7.5 5-6.6 3.5-8.1 3.4-8 2.7-18.2 5.4-10 2.4-12.1 1.8-32.2 3.6-84.6 6.7-36.2 1.2-64.4 1.3-64.5 0.1-12-0.9-10.1-2.2-8.1-0.2-14 1.1-12.1 2.2-10.1 0.7-28.2-1.6-269.8 0z"/>
<path fill="#00ff63" d="M297.6 757.6l785.2 0 0.3-10.1-2.1-38.3 2.3-40.2 6.9-32.2 9.7-28.2 1.5-6.1 1.8-4 2-6 3-6.1 0.3-2-0.1-6 1.6-28.2 1-40.3-0.9-40.2-1.1-24.2-1.6-20.1-1.1-6.1-3.6-12.1-1.8-3-2-2.1-2-0.8-2-0.2-4 1.4-2 1.4-2.1 2.1-2 2.8-2.1 4.5-1.9 6-5.7 24.2-3.3 12.1-3.6 10-4.5 10.1-3.4 6-4.4 6.1-16 18.1-7.4 7.6-8.1 7.3-8 6.3-7.2 5-7.3 4-7.7 3.4-8 2.8-20.2 5.8-10 2.4-10.1 1.5-28.2 3.1-48.3 4-44.3 3.1-38.2 1.2-64.5 1.2-26.1-0.2-28.2 0.4-16.1-0.9-6.1-1-6-1.7-8.1 0-14 1.2-6.1 1.4-8 1.1-8.1 0.5-28.2-1.7-269.8 0z"/>
<path fill="#00ff5a" d="M297.6 757.6l783.5 0 0.3-10.1-2.1-38.3 1.2-26.1 1.1-14.1 5.7-26.2 2.3-8.1 9.3-25.2 2-7 3.8-10 3.2-6.1 0.3-2-0.2-6 1.6-28.2 1.1-40.3-0.9-40.2-1.1-22.2-1.6-20.1-1.6-8.1-3.1-10-1.5-3.1-2-2.5-2-1.1-2-0.3-2 0.3-2 0.9-2 1.4-3.6 4.4-1.9 4-1.9 6-5.4 24.2-3.4 12.7-3.2 9.4-4.8 10.8-4 7.2-4.1 5.4-13.2 14.9-8.9 9.3-8.1 7.5-9.2 7.3-6.9 4.8-8 4.4-8.1 3.5-8 2.8-18.1 5.1-10.1 2.5-10.1 1.6-28.2 3-50.3 4.1-44.3 3-38.2 1.1-64.5 1.1-26.1-0.2-30.2 0.4-10.1-0.5-6-0.7-10.1-2.6-8.1 0.1-12 1.2-16.1 2.7-8.1 0.4-28.2-1.7-269.8 0z"/>
<path fill="#00ff50" d="M297.6 757.6l781.7 0 0.2-12.1-2-38.3 1.6-30.2 1.1-10 5.6-24.2 2.4-8.1 10.3-26.1 1.8-6.1 4-10 2.7-4.5 0.9-3.6-0.2-8 1.5-26.2 1.1-40.3-0.9-40.2-1.2-22.2-1.5-18.1-1.7-9.4-2.5-6.7-1-4-2.6-4-2-1.5-2-0.4-2 0.2-2 0.8-2 1.5-2.8 3.4-2.1 4-1.3 4-5.6 26.2-3.6 14.1-3.6 10-4.5 10.1-3.3 6.1-4.4 6-12.6 14.1-9.6 10-7 6.7-9.2 7.4-6.9 5-8.1 4.6-8.1 3.6-8 2.9-20.1 5.6-10.1 2.4-10.1 1.5-28.2 3-50.3 3.9-44.3 2.8-38.2 1.1-64.5 1-56.3 0.2-14.1-0.9-6.1-1.2-6-1.9-8.1 0.2-14 1.6-14.1 2.4-8.1 0.5-28.2-1.7-269.8 0z"/>
<path fill="#00ff47" d="M297.6 757.6l779.8 0 0.1-12.1-1.8-38.3 1.2-26.2 1.5-14 3.2-14.1 5.1-18.2 10.2-24.1 2.7-8.1 3.4-8 4.3-8.1 0.3-2-0.1-12.1 1.4-22.1 1.1-40.3-1-40.2-1.4-24.2-1.6-16.1-1.5-8.1-3-8-1-4-1.6-2.6-2-1.7-2-0.6-2 0.2-2 0.8-2 1.5-2.1 2.4-2.1 4-1.8 6-4.7 24.2-3.6 14.1-3.5 10-4.4 10.3-3.1 5.9-4.3 6-10.6 12.1-11.4 12-8.8 8.4-8.1 6.5-8 5.7-8.1 4.4-8.1 3.6-8 2.8-20.1 5.5-10.1 2.3-10.1 1.5-26.1 2.7-52.4 3.9-44.3 2.6-38.2 1.1-64.5 0.9-58.3 0.1-12.1-0.8-6.1-1.3-6-2-8.1 0.3-28.1 4.2-8.1 0.5-20.1-1.5-8.1-0.3-269.8 0z"/>
<path fill="#00ff3d" d="M297.6 757.6l777.7 0 0.1-12.1-1.5-30.2-0.2-10.1 1.4-26.2 1.8-14.1 5.1-20.1 3.9-12.1 11-24.3 5.5-13.9 4.6-8 0.3-2.1-0.2-12.1 1.7-30.2 0.8-32.2-1-40.2-1.5-24.2-1.8-16.1-1.7-8.1-2.7-7.2-1.2-4.8-2.8-3.2-2-0.7-2 0.1-2 0.8-2 1.6-2.5 3.4-1.7 4-1 4-4 22.2-3.4 14.1-3.2 10-4.4 10.7-3.6 7.5-4.1 6-8.4 9.7-11.5 12.4-8.6 8.5-8.1 7-9 6.7-7.1 4.2-10 4.7-8.1 3-30.2 7.8-10.1 1.5-26.1 2.6-52.4 3.9-48.3 2.7-36.2 0.9-64.5 0.9-58.3 0.1-8.1-0.4-6-0.7-10.1-3.3-8.1 0.4-6 1.2-8 0.9-14.1 2.3-6.1 0.5-30.2-1.8-269.8-0.1z"/>
<path fill="#00ff34" d="M297.6 757.6l775.4 0 0.1-12.1-1.3-30.2-0.1-12.1 1.4-24.2 1.8-14.1 4.7-18.1 4.6-14.1 10.7-22.1 7-16.1 4.8-8.1 0.4-2-0.5-12.1 1.7-30.2 1-32.2-1.1-40.2-1.2-19.4-2-18.9-2.1-9.1-4-12.8-2-2.3-2-0.8-2 0.1-2 0.8-2 1.7-1.7 2.3-2.4 6.3-3.7 21.9-3.7 16.1-3.2 10-5.5 13.5-3.3 6.7-2.8 4-8 9.4-11.7 12.7-10.4 10.3-6.7 5.8-9.4 7-8.1 4.8-10 4.5-8.1 3-30.2 7.6-10.1 1.4-26.1 2.5-54.4 3.9-46.3 2.3-34.2 0.9-68.5 0.8-56.3 0.1-14.1-1.1-4.1-1.1-6-2.4-8.1 0.7-6 1.2-22.1 3.2-6.1 0.5-30.2-1.9-269.8 0z"/>
<path fill="#00ff2b" d="M297.6 757.6l772.9 0 0.1-12.1-1.1-32.2 0-12.1 1.6-22.2 2.2-16.1 6.2-22.1 3.7-10.1 11.7-22.7 6.4-13.5 5.1-8.1 0.4-2-0.5-6-0.1-8.1 1.4-22.1 1.4-38.3-1.2-40.2-0.9-14.1-1.9-19.1-2.1-10.6-4-14.8-2-2.8-2-0.9-2 0-2 0.9-1.2 1-2.7 4-1.7 6-2.7 18.1-3 14.1-3.5 12.1-5.4 13.7-3.8 8.5-2.7 4-7.6 9.1-10 11.2-10.1 10.2-8 7.4-8.3 6.4-7.8 5.1-8.1 3.9-12.1 4.8-30.2 7.7-10 1.5-26.2 2.5-54.4 3.7-48.3 2.3-36.2 0.9-66.5 0.7-58.4 0.1-8-0.5-6-1-8.1-3.2-8.1 0.8-8 1.7-20.1 2.7-6.1 0.5-6-0.1-16.1-1.5-8.1-0.3-269.8-0.1z"/>
<path fill="#00ff21" d="M297.6 757.6l770.3 0 0-16.2-0.7-30.2 0.1-12 1.9-22.2 2.4-16.1 6.5-22.1 3.9-10.1 19.9-36.2 4.1-6.1 0.5-2-0.6-6-0.1-8.1 1.4-22.1 1.3-38.3-1.2-40.2-1.1-16.1-1.9-16.2-1.4-7.5-4.6-18.6-1.5-2-1.9-1-2 0-2 1-2 2-1.1 2-1.3 4-2.3 18.1-2.5 12.1-4.5 16.1-4.5 11.6-4 9.6-2.9 5-7.1 8.8-10.1 11.3-10.1 10.4-8.2 7.7-9.9 7.7-8 5.1-10.1 4.6-10.1 3.9-30.2 7.4-10 1.4-26.2 2.4-54.4 3.6-46.3 2-36.2 1-68.5 0.6-58.4 0-12-0.8-4.1-1.1-6-2.8-8.1 0.9-8 1.9-10.1 1-12.1 1.8-6 0.3-20.1-1.7-8.1-0.3-269.8 0z"/>
<path fill="#00ff18" d="M297.6 757.6l767.5 0-0.3-44.3 0.2-16.1 2.5-24.2 2.4-14.1 6.2-20.1 3.7-10.1 8-14.1 12.2-20.1 5-6.7 0.7-1.4 0.4-2-0.7-8 0-8.1 1.6-24.2 1.1-34.2-1.1-39.1-1.4-17.2-1.8-14.1-0.9-5.2-3.5-13-1.1-8-0.8-2-0.6-0.9-2-1.2-2 0.1-2 1.1-2.2 2.9-1.6 6-1.7 16.1-3.6 16.1-4.2 14.1-8.1 20.2-2.2 4-2.6 3.4-16 18.7-12.2 12.4-6 5.6-10.1 7.6-7.3 4.6-14.8 6.4-6.1 2.2-30.2 7.1-10 1.4-24.2 2.1-56.4 3.6-48.3 1.9-34.2 0.8-128.9 0.6-8-0.4-4-0.7-8.1-3.7-7.7 0.9-4.4 1.5-4 0.7-12.1 1-10.1 1.6-6 0.4-20.1-1.8-8.1-0.3-269.8 0z"/>
<path fill="#00ff0e" d="M297.6 757.6l764.7 0 0.4-62.5 2.9-24.1 2.1-12.1 7.5-24.2 3.2-8 9.6-16.1 12.7-18.1 4.3-5.3 0.8-2.8-0.8-8-0.1-8.1 1.7-26.2 1.1-32.2-1.2-38.2-1.2-16.1-1.3-10.1-1.9-10.1-3.6-12-0.8-10.1-0.8-1.8-2-1.3-2 0.1-2 1.3-1.2 1.7-1.2 4-1.4 16.1-3 14.1-5.4 18.1-7.9 20.2-2.1 4-2 2.8-8 10.1-8.1 9.3-18.1 18.3-7.5 5.8-10.6 7.1-20.2 8.4-30.2 7-10 1.5-24.2 2-58.4 3.6-82.5 2.5-130.9 0.5-8-0.5-4.1-0.8-4.7-3.1-1.3-0.4-5.1 0.4-9 2.9-14.1 0.8-10.1 1.7-6 0.3-6-0.2-14.1-1.6-8.1-0.3-269.8 0z"/>
<path fill="#00ff05" d="M297.6 757.6l761.7 0-0.2-8.1 1.1-54.4 3.4-26.1 2.2-12.1 8.3-26.2 2.7-6 8.7-14.1 9.4-11.2 10.1-12.8 0.5-2.2-0.9-8-0.2-8.1 1.6-24.2 1.3-34.2-1.3-38.2-1-13.5-2.1-14.5-2-8.6-2.9-7.7-1.1-4 0.2-10.1-2.2-2.1-2 0.2-2 1.8-0.9 2.1-0.3 2 0 8.1-0.3 4-1 6-2 8.1-6.7 22.1-8.6 22.2-2.4 4-6 8-12.1 14.5-17.6 17.8-6.6 5-10.3 7-21.9 9-30.2 6.7-10 1.4-26.2 2-56.4 3.3-82.5 2.4-134.9 0.3-8.1-0.8-2-0.8-1-1.3-3-2-2 0-10.1 3.8-16.1 0.5-8 1.4-8.1 0.6-28.2-2.1-269.8 0z"/>
<path fill="#05ff00" d="M297.6 757.6l758.9 0-0.4-8.1 1.7-54.4 3.8-28.1 1.9-10.1 8.9-28.2 2.8-6 9.1-14.1 12.6-13 7.7-9.2 0.6-2-1.1-8-0.3-8.1 1.7-24.2 1.4-32.2-0.4-18.1-1.1-24.1-1.2-12.1-2.3-14.1-1-4.1-2-5.4-4-6.5-2-0.6-12.1 38.7-9.5 24.2-8.6 12.1-8.1 10.1-6 6.8-12.1 12.5-8 6.4-10.1 7-4 2.1-20.2 7.8-32.2 6.8-8 0.9-26.2 1.9-56.4 3.2-82.5 2.1-143 0.3-2-0.2-2.6-3.3-1.4-0.8-2 0-2.4 0.8-1.6 2.1-6.1 1.1-16.1-0.3-10.1 1.7-6 0.4-28.2-2.1-269.8 0zM1092.5 421.3l0.4 1.3 0.7-1.3 1.3-1 0.8-3 0.4-2-0.3-2-0.9-0.8-2 0.4-1.5 2.4-0.3 2z"/>
<path fill="#0eff00" d="M297.6 757.6l756.1 0-0.3-10.1 1.9-52.4 4.3-30.2 2.1-10 8.2-26.2 1.6-4 3.3-5.9 8-11.4 12.1-10.9 8-8.7 1.1-1.4 0.9-2-1.3-8-0.3-8.1 1.7-23.8 1.4-32.6-0.2-16.1-1.2-25.4-1.2-10.8-0.9-6.5-1.5-7.6-2.5-7.3-2-2.9-2-1-2 1.5-2 3.9-2 5.2-7.9 22.7-8.6 22.2-7.7 11.5-10.1 13.2-6 6.8-12.1 12.5-6 4.8-10.1 6.9-6 3.2-20.2 7.4-32.2 6.5-8 0.9-26.2 1.7-56.4 3.1-82.5 1.9-120.8 0.3-18.1 0.2-6.1 0.5-3.3-0.9-0.7-1.1-0.6 1.1-3.4 1.1-4.1-0.6-18.1-1-12.1 1.8-6 0.3-8-0.4-12.1-1.3-8.1-0.3-269.8 0z"/>
<path fill="#18ff00" d="M297.6 757.6l753.4 0-0.2-12.1 2.1-50.4 0.9-8 3.5-22.2 2.6-12 8.3-26.2 2.5-5.6 2.7-4.5 7.7-10 4.5-4.1 9.3-7.1 8-8.2 1.4-2.8-1.1-8-0.5-8.1 1.8-26.2 1.4-30.2-0.2-16.1-1.1-22.1-1.2-12.1-2.5-13.7-2-5.6-2-2.7-2-0.5-2 1.6-4 8-14.1 38.1-2.3 5-7.8 11.7-8.1 11.1-8 9.5-10.1 10.5-6 4.9-9.7 6.7-4.4 2.6-4 1.7-20.2 7.2-30.2 5.9-8 0.9-22.2 1.4-66.4 3.4-82.5 1.7-124.9 0.2-10 0.5-6.1 0.7-4-0.2-4 0.6-22.2-2.3-12.1 1.7-6 0.4-28.2-1.9-269.8-0.1z"/>
<path fill="#21ff00" d="M297.6 757.6l750.7 0 0.1-18.2 1.8-40.2 0.9-10.1 5.4-32.2 7.8-26.2 2.2-6 3-6.1 3.2-5 3.9-5 6.5-6.1 11.8-8.3 8-7.7 0.9-2.1-1.4-10.1-0.3-8 1.7-22.2 1.4-26.1 0.2-18.1-1.3-24.2-1-12.1-2.2-11.5-2-5.9-2-2.7-2-0.4-2 1.6-2 3.2-2 4.2-13.5 35.7-2.7 5.5-10 15.6-6.1 8.6-8 9.7-10.1 10.3-6 4.6-9.2 6.1-4.9 2.7-4 1.6-20.2 6.8-30.2 5.6-12 1.1-84.6 4.3-82.5 1.5-118.8 0-12.1 0.4-10.1 1.2-8 0.5-22.2-2.6-12.1 1.6-6 0.4-28.2-1.8-269.8 0z"/>
<path fill="#2aff00" d="M297.6 757.6l748.2 0-0.2-10.1 0.6-16.1 1.6-32.2 1.2-12.1 5.1-30.2 8.4-28.2 2.3-6 3.1-6.1 4.2-6 3.6-4 4.5-4.1 14.7-9.4 7.4-6.7 1-2-1.5-10.1-0.3-8 1.6-20.1 1.8-32.3 0.1-12.9-2.1-32.9-2-11.8-2-6.2-2-2.9-2-0.5-2 1.5-2 3-4.1 8.9-11.2 29.7-2.9 5.5-10 16.4-6.1 8.9-8 10-8.1 8.2-6 4.7-7.1 4.7-5 2.9-6 2.7-22.2 7.1-28.2 5.1-12 1.2-84.6 4-82.5 1.3-118.8 0-12.1 0.4-12.1 1.5-8 0.5-22.2-2.7-4 0.2-8.1 1.3-8 0.3-26.2-1.6-269.8-0.1z"/>
<path fill="#34ff00" d="M297.6 757.6l745.6 0-0.1-12.1 0.5-14.1 1.7-32.2 1.2-12.1 2.8-18.1 2.3-12.1 2.7-10.1 5.6-18.1 2.3-6 3-6.1 4-6 3.5-4 4.1-3.7 3.3-2.4 10.8-5.8 4-2.7 6-5 1.8-2.6 0-2-1.4-8.1-0.5-8 2.1-28.2 1.5-26.2 0-10-2-32.2-1.5-9.1-2-6.7-2-3.1-2-0.6-2 1.3-2 2.9-4.1 8.4-10.2 27-3.9 7.6-10 17.5-6.1 9.4-7.7 9.8-6.4 6.3-6 4.7-7.9 5.1-6.2 3.3-6 2.5-16.1 5.1-6.1 1.5-28.2 4.8-12 1.1-84.6 3.7-82.5 1.2-118.8-0.1-12.1 0.5-18.1 2-6.1-0.3-16.1-2.2-4-0.2-10.1 1.3-8 0.4-26.2-1.5-269.8 0z"/>
<path fill="#3dff00" d="M297.6 757.6l743.1 0 0-14.1 0.7-18.2 1.5-26.1 1.4-14.1 2.9-18.1 2.4-12.1 3.3-12.1 5.1-16.1 2.4-6 3.1-6.1 4.2-6 3.8-4.1 3.3-2.6 4-2.6 12.1-5.8 4-2.5 5.7-4.6 1.3-2 0.1-2-1.6-10.1-0.3-8 2.8-37.5 1-16.9 0-8-2-30.2-1-6.7-2-7.3-2-3.5-2-0.8-2 1.3-2 2.7-4.1 8.1-10 26.3-14.1 26.8-4 6.9-4.4 6.6-5.1 6-4.6 4.3-6.1 4.6-6 3.9-8.1 4.3-6 2.4-22.2 6.4-28.1 4.6-12.1 1.2-86.6 3.5-82.5 1-118.8-0.2-10.1 0.4-20.1 2.2-6.6-0.3-19.6-2.4-10.1 1.2-8 0.4-26.2-1.3-269.8 0z"/>
<path fill="#47ff00" d="M297.6 757.6l740.6 0 0-14.1 0.7-18.2 1.5-26.1 1.4-14.1 2.5-16.1 2.8-14.1 4.4-16.1 4.5-14.1 2.5-6.1 3.2-6 3-4.4 4-4.4 4-3.2 3.4-2.1 16.8-7.3 6-4.2 2.2-2.6 0.2-2-1.8-12.1-0.2-6 3.6-47.4 0.5-13-0.5-10.3-1.6-19.9-0.8-6.1-1.6-6-2-3.8-2-1.1-2 1.1-2 2.5-4.1 7.8-9 23.7-17.1 35.4-2.8 4.9-3.3 4.8-2.8 3.2-4.3 4-7 5.2-6 3.8-8.1 4-6 2.3-22.1 6-26.2 4.2-16.1 1.6-40.3 1.1-44.3 2-84.5 1-116.8-0.3-12.1 0.5-20.1 2-8.1-0.4-18.1-2-18.1 1.3-26.2-1-269.8-0.1z"/>
<path fill="#50ff00" d="M297.6 757.6l738.2 0 0-16.2 0.8-20.1 1.3-22.1 1.7-16.1 2.5-16.1 2.9-14.1 4.4-16.1 4.6-14.1 2.5-6.1 3.2-6 3-4.3 4-4.2 4-3.1 4.7-2.5 13.5-4.8 6-2.8 4-3 1.2-1.5 0.4-2-1.8-12.1-0.2-6 2.4-28.7 1.7-23.7 0.2-8-1.9-26.9-2-11.5-2-4.3-2-1.3-2 0.8-2 2.3-2 3.4-4.1 9.5-5.9 15.9-7.3 16.1-10 24.2-3.3 6-5.2 6-4.9 4.1-7.7 5.1-6 3.4-6 2.7-8.1 2.7-14.1 3.6-10.1 2.1-10 1.6-18.1 2.4-10.1 0.8-42.3 0.9-42.3 1.9-86.5 0.9-116.8-0.3-10.3 0.4-21.9 1.9-8.1-0.3-18.1-1.8-18.1 1-24.2-0.8-271.8 0z"/>
<path fill="#5aff00" d="M297.6 757.6l735.7 0 0-16.2 0.8-22.1 1.4-22.1 1.8-16.2 2.5-16.1 2.6-12 4.9-18.2 4.6-14 2.5-6.1 3.1-6 3.2-4.5 4-4.2 4-2.9 5.4-2.5 14.8-4.2 4-1.5 4-2.4 2-2 0.6-2-1.8-12.1-0.2-6 4.1-48.3 0.5-12.1-1.6-22.2-1.3-10-1.1-4.1-1.2-2.9-2-1.6-2 0.5-2 2.2-2 3.4-16.5 40.7-9.4 28.2-2.1 4-3.6 4.1-5 4-7.7 5.2-6.1 3.3-6 2.7-6.1 2-8 2-18.1 3.8-10.1 1.6-20.1 2.5-10.1 0.8-42.3 0.6-42.3 1.8-88.5 0.9-114.8-0.4-12.1 0.4-22.1 1.7-8.1-0.2-18.1-1.6-20.1 0.8-22.2-0.5-271.8 0z"/>
<path fill="#63ff00" d="M297.6 757.6l733.2 0 0.1-18.2 0.9-24.1 1.4-20.2 1.7-16.1 2.3-14.1 2.9-14 5.6-20.2 4.6-14.1 3.6-8 2.7-4.7 2.6-3.4 4.3-4 5.2-3 4-1.5 18.2-3.8 4-1.8 2-1.5 1.5-2.5 0-2-1.9-12.1 0-6 4.4-47.5 0.5-10.9-0.5-9.9-1.5-14.3-0.6-4-1.5-6-0.4-1.2-2-2.2-2 0.3-2 2-2 3.7-14.1 35.6-4 14.1-4.1 19.5-2 4.2-2 2.4-5.1 4.1-9 5.9-6.1 3.5-6 2.6-12.1 3-28.2 4.9-22.1 2.6-12.1 1-44.3 0.3-26.1 1.3-26.2 0.5-80.5 0.7-112.8-0.3-10.1 0.2-24.1 1.6-28.2-1.5-20.1 0.5-18.2-0.2-273.8-0.1z"/>
<path fill="#6dff00" d="M297.6 757.6l730.8 0 0-20.2 1.1-26.2 1.5-20.1 1.9-16.1 2.7-16.1 3.2-14.1 6.4-22.1 4.2-12.1 3.2-7.2 3-4.9 3.1-3.6 4-3.1 4-1.8 4-1 16.1-1.6 4.1-0.8 4-1.8 2-2.4 0.1-4-1.7-10.1-0.1-6 4.9-48.4 0.5-10-0.4-8.1-1.3-12.1-2-10.4-2-3.5-2-0.2-2 2.3-4.1 8.4-7.8 19.6-2.6 8-2 8.1-1.9 12-1.5 16.1-1.7 4.1-2.6 3.3-2 1.8-16.1 11.2-6.1 3.3-4 1.2-4 0.7-44.3 5.3-24.2 2.2-10 0.3-38.3-0.2-26.1 1.4-20.2 0.3-86.5 0.7-112.8-0.2-34.2 1.3-32.2-1.2-18.1 0.4-290-0.1z"/>
<path fill="#76ff00" d="M297.6 757.6l728.3 0 0.1-22.2 1.1-26.2 1.4-20.1 2.2-18.1 2.5-14.1 3.8-16.1 6.8-24.2 5.5-16.1 3.3-7.6 2-3.3 2-2.2 2.1-1.3 4-1.4 6-0.6 16.1 1.2 4.1-0.2 4-1.2 1.9-1.5 0.7-2-0.4-4-1.4-8.1 0-6 5.2-46 0.9-12.4-0.9-12.4-2-11.8-0.7-2-1.3-3.1-2-0.7-2 1.9-4.1 8.1-7.1 18-1.6 6-1.5 8.1-1.8 28.1-1 4.1-1.1 2.4-4 5.9-10 10-8.9 7.8-3.2 1.7-2 0.3-14.1-1.6-8.1-0.1-10 0.6-36.3 3.3-12.1 0.7-44.3-0.5-28.1 1.3-100.7 0.9-120.8-0.1-32.2 0.8-34.2-1-38.3 0.5-267.8 0z"/>
<path fill="#80ff00" d="M297.6 757.6l725.8 0 0-20.2 0.9-24.1 1.2-20.2 1.9-18.1 1.8-12.1 2.3-12 12.3-48.4 1.2-8-0.3-4-0.7-2.1-1.5-2.1-4-3.2-4-2-4-1.4-4.1-0.7-10-0.7-10.1 0.3-32.2 2.3-12.1 0.4-42.3-1.2-12 0.3-16.1 1-100.7 0.7-120.8 0-32.2 0.4-26.2-0.3-10.1-0.5-34.2 0.6-269.8-0.1zM1081.3 580.4l3.5 1.3 4.1 0.6 2-0.6 1.7-1.3 0.5-2-1.5-10.1 0-6 6.6-50.4 0.7-8-0.3-6.1-1.7-11-2-6.4-2-1.6-2 1.5-2 3.2-6.1 13.5-2.1 6.9-1.6 10 0 18.2-1.2 14.1-1.6 6-4.9 12.1-1.1 4 0.2 4 1 2 2.2 2.1z"/>
<path fill="#89ff00" d="M297.6 757.6l723.2 0 0.1-18.2 0.6-22.1 1.2-22.2 1.4-16.1 1.8-14.1 2.2-12 7.8-32.2 2.1-10.1 1.1-10.1-0.6-5.9-1.8-4.1-1.6-2.1-4.6-3-4.1-1.6-4-1-6-0.8-6.1-0.2-44.3 1.6-48.3-1.8-26.1 1.1-100.7 0.7-177.2 0-12.1-0.7-34.2 0.7-269.8-0.1zM1084.3 566.3l0.5 0.3 2-1.6 2.1-7.2 2-9.3 2.9-20.5 3.1-15.5 0.6-4.6 0.2-6-0.8-8-2-7.2-2-2.4-2 0.8-2 2.7-2.1 3.7-3.5 8.4-1.3 6-0.3 10.1 1.4 10 0.1 4.1-1.1 16.1-1.4 10-0.1 4.1 0.4 2 1.1 2 0.7 1z"/>
<path fill="#92ff00" d="M297.6 757.6l720.7 0 0-18.2 0.6-22.1 1.1-22.2 1.5-18.1 1.4-12.1 2-12 8.2-36.3 1-10-0.3-6.1-1.1-4-1-2-1.5-2-2.4-2-5.4-2.8-8-1.9-12.1-0.7-38.3 0.5-42.2-2.4-12.1 0-18.1 0.9-106.7 0.6-110.8 0-34.2-0.5-26.2 0.3-14.1-0.7-32.2 0.7-269.8-0.1zM1087.5 522l1.4 2 2-0.6 2-3.8 2-6.3 1-5.4 0.5-6-0.4-4.1-1.1-4.7-2-3.2-2 0.1-2 2.2-2.2 3.6-2.2 6.1-0.4 6 0.6 6 1.8 6.1z"/>
<path fill="#9cff00" d="M297.6 757.6l718.1 0 0.6-40.3 1-22.2 1.3-18.1 1.2-12.1 1.8-12 7.3-34.3 0.6-8-0.5-6.1-1.1-4-1-2-3.5-4-5-2.8-8.1-2.2-12-1.1-34.3-0.4-30.2-2.5-14.1-0.8-10 0-18.1 0.8-163.1 0.5-60.4-0.1-28.2-0.7-26.2 0.4-14.1-0.7-32.2 0.6-269.8 0zM1090.3 511.9l0.6 0.3 2-2.2 1.3-4.1 0.5-4-0.8-4.1-1-2.2-2-0.6-2 1.7-1.7 3.2-0.7 4 0.7 4 1.7 3.3z"/>
<path fill="#a5ff00" d="M297.6 757.6l715.5 0 0.5-40.3 2.1-42.3 2.5-22.1 6.3-32.2 0.5-6.1-0.5-6-2.2-6.1-3.3-4-4.6-2.9-4.1-1.5-4-0.9-10.1-1.2-30.2-1.2-32.2-3.4-16.1-1.1-26.1 0.6-169.2 0.4-54.3-0.1-28.2-1-26.2 0.5-14.1-0.7-32.2 0.6-269.8 0z"/>
<path fill="#afff00" d="M297.6 757.6l712.9 0 0.4-42.3 2-44.3 2-20.1 5-28.2 0.5-6.1-0.4-4-1.1-4-1-2-3.3-4.1-4.3-2.8-6-2.2-10.1-1.6-30.2-2.4-32.2-4.4-16.1-1.1-24.1 0.3-215.5 0.2-36.2-1.2-26.2 0.5-16.1-0.7-28.2 0.6-271.8-0.1z"/>
<path fill="#b8ff00" d="M297.6 757.6l710.2 0 0.3-40.3 1.7-50.3 1.4-18.2 3.8-26.1 0.2-4.1-0.4-4-1.5-4-3.4-4-5.6-3.3-6-1.9-8.1-1.4-24.2-3-32.2-5.5-10-1.2-10.1-0.6-237.6 0-14.1-0.2-22.1-1.1-26.2 0.5-16.1-0.7-28.2 0.5-271.8 0z"/>
<path fill="#c2ff00" d="M297.6 757.6l707.4 0 0.2-32.3 1.3-64.4 0.6-14.1 1.9-20.1-0.4-8.1-1.5-4-2.8-3.3-4.1-2.7-6-2.3-7.2-1.8-23-4.3-28.2-6.1-12-1.8-12.1-0.9-54.4-0.6-183.2 0.2-34.2-1.4-24.2 0.4-18.1-0.6-28.2 0.4-271.8 0z"/>
<path fill="#cbff00" d="M297.6 757.6l704.6 0 0.7-78.6-0.3-46.3-0.8-8-1.5-4.3-2.8-3.8-2.4-2-2.9-1.6-5.7-2.4-40.6-11.6-10.1-2.5-12-2.1-14.1-1.3-54.4-0.9-181.2 0-34.2-1.4-24.2 0.4-18.1-0.6-26.2 0.3-273.8 0z"/>
<path fill="#d5ff00" d="M297.6 757.6l701.7 0 0.2-80.6-1.1-18.1-2.4-24.2-1.8-6.5-1.8-3.5-1.5-2-4.7-4.1-6.1-3.2-21.9-8.8-17.4-6.1-15-3.6-16.1-1.9-54.4-1.4-183.2-0.1-32.2-1.4-22.1 0.3-22.2-0.5-298 0.1z"/>
<path fill="#deff00" d="M297.6 757.6l698.7 0 0-70.5-0.4-12.1-1.2-12.1-3.1-18.1-2.1-8-3.3-6.8-2.7-3.3-3.4-3-7.8-5.1-11-6-18-8.1-7.5-2.5-8-2.2-8.1-1.6-8-1-26.2-1.4-26.2-0.6-187.2-0.4-32.2-1.4-20.1 0.3-26.2-0.5-296 0z"/>
<path fill="#e7ff00" d="M297.6 757.6l695.6 0-0.2-64.5-0.4-12.1-0.8-10-2.2-12.1-4.5-16.1-1.6-4-2.4-4.1-3-3.6-2.5-2.4-10.5-8-5.9-4.1-10.8-6-6.5-3.1-7.5-3-8.6-2.5-8.1-1.7-10-1.4-24.2-1.5-28.2-0.8-183.2-0.5-32.2-1.3-342.3-0.4z"/>
<path fill="#f1ff00" d="M297.6 757.6l692.4 0-0.3-60.4-0.4-12.1-0.9-10.1-2.2-12.1-5.2-16.1-1.7-4-2.3-4-5.2-6.1-14.4-12-9.4-6.1-8.1-4.4-8.1-3.4-8-2.5-8.1-1.9-12.1-1.8-20.1-1.4-30.2-1-64.4-0.5-118.8-0.2-30.2-1.2-18.1 0.1-10.1-0.3-314.1-0.3z"/>
<path fill="#faff00" d="M297.6 757.6l689 0-0.4-56.4-0.5-14.1-0.9-10.1-1.3-8-1.6-6.1-4.3-12-2.7-6.1-2.4-4-3.3-4-10.8-10.1-4.9-4-9.1-6.1-6.5-3.7-5-2.3-7.1-2.7-8.1-2.3-16.1-3-18.1-1.5-30.2-1.2-64.4-0.7-120.8-0.3-28.2-1-18.1 0.1-10.1-0.5-314.1-0.2z"/>
<path fill="#fffa00" d="M297.6 757.6l685.4 0-0.5-54.4-0.6-14.1-0.8-10.1-1.4-8-1.6-6.1-3.5-10-3.6-8.1-2.5-4-2.5-3.2-11.1-10.9-5-4-8-5.5-6.1-3.5-6-2.9-6-2.3-8.1-2.4-10.1-2.3-8.2-1.3-11.9-1.3-16.1-1-32.2-0.9-32.2-0.4-136.9-0.4-28.2-0.8-18.1 0-10.1-0.6-12.1 0.3-36.2-0.4-265.8-0.1z"/>
<path fill="#fff100" d="M297.6 757.6l681.5 0-0.4-46.4-0.6-18.1-0.9-12.1-1.4-8-2.1-8.1-3.6-9.9-3-6.2-2.4-4-3.2-4-5.7-6.1-6.6-6-7.3-5.3-6.1-3.8-6-3.1-8-3.2-8.1-2.6-8.5-2.1-19.7-3.1-16.1-1.2-16.1-0.7-64.4-1.2-120.8-0.3-46.3-0.6-10.1-0.4-314.1-0.2z"/>
<path fill="#ffe700" d="M297.6 757.6l677.4 0-0.5-44.3-0.6-18.2-0.8-12-1.3-8.1-1.7-7.2-2.3-6.9-3.4-8-3.6-6.1-3-4-5.4-6-4.5-4.3-6-4.8-6.1-4-6-3.3-8-3.5-8.1-2.8-8.1-2.2-8-1.8-12.1-1.9-16.1-1.5-16.1-0.9-32.2-1-32.2-0.5-120.8-0.3-58.4-0.7-312.1-0.2z"/>
<path fill="#ffde00" d="M297.6 757.6l673 0-0.5-44.3-0.6-18.2-0.9-12-1.3-8.1-1.5-6-2.7-8.1-3.1-6.8-3.1-5.3-4.4-6-4.6-5.1-5.5-5-5.5-4-7.1-4.3-6-2.9-8.1-3.1-8-2.5-10.1-2.5-17.3-2.8-25-2.1-18.1-0.9-32.2-0.8-48.3-0.6-80.6-0.4-378.5-0.2z"/>
<path fill="#ffd500" d="M297.6 757.6l668.4 0-0.5-46.4-0.6-16.1-0.9-12-1.4-8.1-1.5-6-2.9-8.1-2.9-6-3.6-6.1-3.8-5.1-4.5-4.9-4.6-4.1-5-3.6-6-3.6-6-2.9-8.1-3.2-6-1.9-12.1-3.1-18.1-2.9-26.2-2.3-30.2-1.4-80.5-1.3-64.5-0.3-64.4 0.3-314.1-0.3z"/>
<path fill="#ffcb00" d="M297.6 757.6l663.8 0-0.3-40.3-0.7-20.1-0.9-12.1-1.2-8.1-1.5-6-2.8-8.1-2.8-6-3.4-6-3.9-5.5-4.2-4.6-3.9-3.5-4-3-6-3.7-6.1-2.9-8-3.2-8.1-2.5-10-2.5-18.2-2.9-28.1-2.4-20.2-1.1-30.2-0.9-60.4-0.8-60.4-0.4-64.4 0.3-314.1-0.3z"/>
<path fill="#ffc200" d="M297.6 757.6l659.2 0-0.4-42.3-0.7-18.1-0.9-12.1-2.2-12.1-2-6-3.4-8.1-3.3-6-2.7-4.1-3.3-4-4.1-4-5.3-4-4.7-2.9-6.4-3.2-7.7-3.1-16.1-4.5-18.2-3-16.1-1.7-30.2-1.9-32.2-1.1-48.3-0.7-80.5-0.6-370.5-0.3z"/>
<path fill="#ffb800" d="M297.6 757.6l654.6 0-0.4-40.3-0.7-20.1-1-12.1-1.3-8.1-1.6-6-2.2-6.1-2.8-6-3.6-6-3-4.1-3.8-4.1-4.7-3.9-5.3-3.6-6.1-3.1-8-3.3-6.3-2.1-7.8-2.1-10-1.9-20.2-2.6-18.1-1.4-32.3-1.5-80.5-1.4-144.9-0.7-290-0.2z"/>
<path fill="#ffaf00" d="M297.6 757.6l650.1 0-0.4-38.3-0.7-20.1-0.9-12.1-1.2-8.1-1.5-6-2.1-6-2.8-6.1-3.6-6-3.1-4-3.8-4.1-4.9-4-5-3.2-6-3.1-6.1-2.5-8-2.6-14.1-3.3-20.1-2.6-20.2-1.6-30.2-1.5-80.5-1.4-144.9-0.8-290-0.2z"/>
<path fill="#ffa800" d="M297.6 757.6l645.5 0-0.3-38.3-0.8-20.1-1-12.1-0.8-6.1-1.4-6-2.1-6-2.9-6.2-3.6-5.9-3.2-4-4-4.1-5-4-4.3-2.7-6.6-3.3-5.5-2.2-8-2.6-14.1-3-20.2-2.5-18.1-1.5-28.2-1.4-80.5-1.4-142.9-0.9-292-0.2z"/>
<path fill="#ffa300" d="M297.6 757.6l643.3 0-0.5-40.3-0.7-18.1-1-12.1-0.9-6.1-1.4-6-2.2-6-3-6.1-3.4-5.2-4-4.8-4.1-3.8-4-3.1-5.2-3.2-4.9-2.4-6-2.5-8-2.5-14.1-3-20.2-2.5-20.1-1.5-26.2-1.2-78.5-1.5-142.9-0.8-292-0.2z"/>
<path fill="#ff9e00" d="M297.6 757.6l640.9 0-0.3-36.3-0.8-20.1-0.9-12.1-2.1-12.1-2-6-2.9-6.1-3.7-5.7-3.6-4.3-4.1-4-4.4-3.5-6-3.7-6.1-2.9-12.1-4-14.1-2.9-20.1-2.5-20.1-1.5-26.2-1.2-78.5-1.4-140.9-0.9-292-0.2z"/>
<path fill="#ff9900" d="M297.6 757.6l638.6 0-0.4-36.3-0.8-20.1-0.9-12.1-0.9-6-1.3-6.1-2.1-5.7-2.1-4.3-3.8-6.1-3.2-4-4-4-5.1-4.1-10-5.6-12.2-4.4-16-3.3-20.1-2.5-22.1-1.7-26.2-1.1-80.5-1.4-136.9-0.9-290-0.3z"/>
<path fill="#ff9500" d="M297.6 757.6l636.2 0-0.3-34.3-1.8-32.2-2-12.1-1.9-5.8-2-4.4-3.6-5.9-3.2-4-3.9-4-4.9-4-4.6-3.1-5.7-3-12.4-4.5-16.1-3.3-18.1-2.3-22.1-1.7-26.2-1.2-80.5-1.5-169.2-1-257.7-0.2z"/>
<path fill="#ff9000" d="M297.6 757.6l633.7 0-0.3-34.3-0.9-20.1-1-12.1-2.1-12.1-2.2-6-2-4-3.1-4.9-4-5-4-3.9-4-3.1-5.1-3.3-5-2.5-12.1-4.4-14.8-3.1-19.4-2.5-20.1-1.6-26.2-1.3-80.5-1.5-167.1-1.1-259.8-0.3z"/>
<path fill="#ff8b00" d="M297.6 757.6l631.2 0-0.4-34.3-1.7-30.2-2-12.1-2-6-1.8-4-3.2-5-4-5.1-4-4-4.1-3.2-4.4-2.8-5.6-3-6.1-2.5-6-1.9-14.1-3-20.1-2.6-20.2-1.6-24.1-1.2-80.5-1.6-165.1-1.2-261.8-0.3z"/>
<path fill="#ff8700" d="M297.6 757.6l628.5 0-0.3-32.3-1.7-30.2-1.8-12-1.8-6.1-1.7-4-3.1-5.1-3.8-5-4-4-4.3-3.4-4-2.7-6-3.2-6.1-2.5-6-1.9-14.1-3-20.1-2.7-22.2-1.7-20.9-1-79.7-1.7-165.1-1.3-261.8-0.2z"/>
<path fill="#ff8200" d="M297.6 757.6l625.8 0-0.3-32.3-1.7-28.1-2.1-14.1-1.6-5.3-2-4.5-2.7-4.3-3.3-4.3-4.1-4.1-4.6-3.7-5.4-3.5-5.2-2.5-5.1-2.1-6.6-2-17.3-3.5-20.2-2.5-20.1-1.5-18.1-0.9-78.5-1.7-167.1-1.3-259.8-0.2z"/>
<path fill="#ff7d00" d="M297.6 757.6l623 0-0.4-32.3-1.7-28.1-1-8.1-1.3-6-3-8.1-3.5-5.7-3.7-4.4-4.3-4-4.1-3.1-8.8-4.9-11.5-4.1-18-3.7-20.1-2.5-20.1-1.6-30.2-1.3-80.6-1.5-155-1.1-255.7-0.3z"/>
<path fill="#ff7800" d="M297.6 757.6l620.1 0-0.3-30.2-1.8-28.2-2.1-14.1-1.8-6.1-1.9-4-2.6-4-3.3-4-4.2-4.1-4.1-3.1-4.7-2.9-5.4-2.6-12.1-4-16.7-3.5-19.5-2.4-20.1-1.6-28.2-1.3-80.6-1.6-157-1.1-253.7-0.3z"/>
<path fill="#ff7400" d="M297.6 757.6l617.1 0-0.3-28.2-1.5-26.2-1.8-14.1-1.4-6-1.5-4.1-2-4-2.8-4-3.6-4-4.7-4.1-5.6-3.6-4-2.1-5.6-2.3-6.3-2-18.3-4.1-18.1-2.4-20.1-1.7-28.2-1.3-80.6-1.7-157-1.2-253.7-0.3z"/>
<path fill="#ff6f00" d="M297.6 757.6l614 0-0.3-28.2-1.5-24.2-2.1-16.1-1.5-6-1.6-4.1-2.2-4-2.8-3.7-6.8-6.4-5.3-3.5-4-2.1-5.9-2.4-6.3-2-17.9-4-20.2-2.7-20.2-1.7-24.1-1.2-32.2-1-48.4-0.8-157-1.3-253.7-0.3z"/>
<path fill="#ff6a00" d="M297.6 757.6l610.8 0-0.1-20.2-0.7-18.1-1.8-20.1-2.1-12.1-2.8-8.1-2.5-4-3.4-4-4.6-4-4.9-3.3-5.5-2.8-5-2-7.6-2.4-10.1-2.4-19.9-3.2-20.6-2.1-25.9-1.4-34.2-1.1-48.4-0.9-157-1.4-253.7-0.3z"/>
<path fill="#ff6600" d="M297.6 757.6l607.4 0 0-18.2-0.6-16.1-1.6-20.1-2.3-14.1-1.1-4-1.8-4.5-2-3.6-3.3-4-4.5-4-4.3-2.9-6-3.1-5.4-2.1-8.7-2.7-8.1-2-20.1-3.3-20.3-2-24-1.4-36.2-1.3-46.4-0.9-157-1.5-253.7-0.3z"/>
<path fill="#ff6100" d="M297.6 757.6l604 0-0.5-30.2-1.8-22.2-2.2-14.1-1.7-6-1.8-4.1-4.2-6-3.9-3.6-4-2.8-6.1-3.1-6.4-2.6-7.6-2.4-8.1-2.1-20.1-3.4-21.1-2.1-25.2-1.5-34.3-1.2-44.3-0.9-157-1.6-253.7-0.4z"/>
<path fill="#ff5c00" d="M297.6 757.6l600.3 0-0.3-26.2-1.6-22.2-2.4-15.9-1.8-6.2-1.6-4-4-6.1-4.4-4-4.3-2.8-6.1-3-6-2.4-6.1-2-10-2.5-18.1-3.1-20.2-2.1-26.1-1.6-34.3-1.3-44.3-0.9-155-1.7-253.7-0.4z"/>
<path fill="#ff5700" d="M297.6 757.6l596.5 0-0.2-24.2-1.8-22.2-2.5-16.1-1.6-6-1.7-4-3.8-6.1-3-2.9-4.3-3.1-5.8-3.1-7.1-2.9-15-4.3-18.2-3.2-20.1-2.2-28.2-1.8-34.2-1.3-42.3-0.9-153-1.7-253.7-0.4z"/>
<path fill="#ff5300" d="M297.6 757.6l592.4 0-0.2-22.2-1.3-18.1-2.7-18.1-2.9-10.1-1.9-4-2.8-4.1-2.8-2.7-4.2-3.3-5.8-3.2-6.1-2.5-14-4.1-18.2-3.3-20.1-2.3-26.2-1.8-34.2-1.3-44.3-1.1-153-1.8-251.7-0.4z"/>
<path fill="#ff4e00" d="M297.6 757.6l588 0-0.1-18.2-1.2-18.1-2.8-18.4-1.9-7.8-1.5-4-1.9-4-2.8-4-3.9-4.1-2.8-2-5.3-3-6.1-2.6-12.1-3.6-18.1-3.5-18.1-2.2-28.2-2-32.2-1.4-46.3-1.1-151-1.9-251.7-0.5z"/>
<path fill="#ff4900" d="M297.6 757.6l583 0 0-16.2-1.3-18.1-1.8-12.1-1.6-8-3.2-10.1-2-4-3.3-4.9-3.1-3.2-5-3.5-4.7-2.5-5.1-2-14.7-4-17.7-3.1-20.2-2.1-30.2-1.9-34.2-1.3-32.2-0.8-151-1.9-251.7-0.5z"/>
<path fill="#ff4400" d="M297.6 757.6l577.4 0 0.1-14.1-1.3-18.2-2.8-16.1-3.6-12.6-2.5-5.5-2.6-4-3-3.3-3.2-2.8-3-2-5.8-2.7-12.1-4-10.1-2.2-10-1.6-18.2-2.1-32.2-2.1-32.2-1.4-48.3-1-138.9-1.9-247.7-0.5z"/>
<path fill="#ff4000" d="M297.6 757.6l571.3 0 0.1-14.1-1.2-16.1-2.9-16.2-3.6-12-2.8-6.1-2.7-4-3.7-4-2.4-2-4.4-2.7-6.1-2.9-14.1-4.1-14.1-2.5-16.4-1.9-31.9-2.3-32.2-1.4-46.3-1.1-136.9-2-249.7-0.6z"/>
<path fill="#ff3b00" d="M297.6 757.6l564.8 0 0.1-12.1-1.1-16.1-1.3-8.1-1.9-8-2.4-8.1-2.4-6-2-4.1-2.8-4-3.3-3.6-3.1-2.4-3-2-6-3-12.1-3.9-16.1-3.1-30.2-2.9-42.3-2.3-32.2-1-96.6-1.8-114.8-1.1-191.3-0.2z"/>
<path fill="#ff3600" d="M297.6 757.6l557.6 0 0.2-12.1-1-14.1-1.1-6.6-1.8-7.5-4.2-12.5-2.8-5.6-2.6-4.1-3.4-4-3.3-2.9-4.6-3.1-3.8-2-9.7-3.6-14.1-3.2-14.1-1.8-16.1-1.6-38.3-2.3-36.2-1.2-108.7-2.3-114.8-1-177.2-0.2z"/>
<path fill="#ff3200" d="M297.6 757.6l549.7 0 0.2-10.1-1-14.1-1.2-7-1.9-7.1-2.9-8.1-2.8-6-3.5-6-3-3.9-4.1-3.9-3-2.3-7.3-4-12-4.1-15.9-2.9-16.1-2-14.1-1.2-34.2-2-136.9-3.5-112.8-1-177.2-0.3z"/>
<path fill="#ff2d00" d="M297.6 757.6l540.6 0 0.3-10.1-0.4-8.1-0.9-6.7-1.6-7.4-2-6-2.5-6-3.1-6.1-4.1-6-3.4-4-3.4-3.1-4.2-3-8.4-4-6.1-2-8.1-2-17.5-3.1-16.1-1.8-16.1-1.4-32.3-1.7-124.8-3.4-110.7-1-175.2-0.3z"/>
<path fill="#ff2800" d="M297.6 757.6l530.6 0 0.3-10.1-1.1-12.1-1.3-6-1.9-6.1-2.7-6-3.4-6.1-4.3-6-3.7-4-4.8-4-3.1-2.1-9.3-4.3-14.1-4.3-20.1-3.7-18.1-2.1-32.3-2.2-128.8-4.3-112.7-1.1-169.2-0.3z"/>
<path fill="#ff2300" d="M297.6 757.6l519.1 0 0.4-10.1-0.4-6.1-0.9-6-1.7-6-2.5-6.1-2.6-4.6-3.9-5.4-3.6-4.1-4.6-4.2-5.4-3.8-6.6-3.8-10.1-4.3-14.4-4-19.8-3.4-20.2-2.2-28.2-1.9-80.5-3.4-44.3-1.5-110.7-1.1-159.1-0.2z"/>
<path fill="#ff1f00" d="M297.6 757.6l505.2 0 0.6-10.1-0.6-6.1-1.3-6-2.4-6-2.2-4.1-2.9-4-3.6-4-5.5-5.1-6.1-4.6-6-3.7-6.1-3.2-6-2.5-8.1-2.7-16.1-3.8-16.4-2.6-19.4-2-26.6-1.8-62.4-3.6-48.3-2-106.7-1.3-159.1-0.3z"/>
<path fill="#ff1a00" d="M297.6 757.6l487.3 0 0.8-8.1-0.4-6-0.9-4.1-2.2-6-2.2-4-2.9-4.1-3.8-4-8.6-6.8-5.2-3.3-7.7-4-7.2-3-8.1-2.9-16.2-4.1-16-2.8-31.2-3.3-61.4-5-52.3-2.9-106.7-1.6-155.1-0.3z"/>
<path fill="#ff1500" d="M297.6 757.6l466.2 0 0.8-4.1 0.2-4-0.6-6-1.1-4.1-1.8-4-2.5-4-3.5-4-4.7-4-9.7-6.1-12.4-5.7-14.1-4.6-16.3-3.8-25.9-4-68.5-8.2-26.2-2.1-24.2-1.2-48.3-1.3-56.4-0.9-151-0.4z"/>
<path fill="#ff1100" d="M297.6 757.6l440.1 0 1.1-4.1 0.4-4-0.3-4-1.2-4.1-2-4-3.2-4-4.4-4-5.7-3.8-6-3.1-6-2.5-12.1-3.9-18.1-4.3-57.6-10.6-23-3.6-22.1-2.5-20.1-1.5-64.5-2.3-78.5-1.2-116.8-0.2z"/>
<path fill="#ff0c00" d="M297.6 757.6l405.3 0 1.9-4.1 0.6-4-0.6-4-0.7-2-1.8-2.9-2.8-3.2-5.2-3.9-3.8-2.1-10.3-4.5-18.5-5.6-43.9-11-18.2-3.9-24.1-3.9-18.1-1.8-22.2-1.4-64.4-2.5-68.5-1-104.7-0.2z"/>
<path fill="#ff0700" d="M297.6 757.6l356.7 0 2.4-4.1 0.9-4-0.8-4-1.1-2-3.3-4.1-5.2-4-3.3-2-12.3-6-16.3-6.1-13.8-4-16-3.7-20.1-3.4-16.1-1.8-30.2-2.2-60.4-2.7-62.4-1-98.7-0.3z"/>
<path fill="#ff0200" d="M297.6 757.6l318.1 0 2-4.1 0.7-4-0.6-4-0.9-2-2.9-4.1-4.3-3.8-3.2-2.2-7.6-4-9.3-3.7-8.1-2.4-14.1-3.2-14.1-2.1-22.1-2.2-26.2-2-54.3-2.7-60.4-1.1-92.7-0.3z"/>
<path fill="#ff0000" d="M297.6 757.6l285.4 0 2.6-4.1 0.8-4-0.8-4-2.7-4.1-4.9-4-7.9-4-8.7-3-10.1-2.3-30.2-4.2-40.2-3.4-46.4-2.1-52.3-0.9-84.6-0.2z"/>
<path fill="#ff0000" d="M297.6 757.6l242 0 3.5-2.1 2.4-2 1.3-2 0.5-2-0.5-2-1.3-2-2.4-2-3.5-2.1-4.4-1.8-6.6-2.2-7.9-2-11.7-2.3-12-1.8-16.7-1.9-31.7-2.4-38.2-1.5-42.3-0.7-70.5-0.1z"/>
<path fill="#ff0000" d="M297.6 757.6l180.9 0 6-2.1 3.9-2 2.3-2 0.7-2-0.7-2-2.3-2-3.9-2-6-2.1-8.6-2-9.2-1.5-22-2.5-24.3-1.5-28.2-1-88.6-0.4z"/>
<path fill="#ff0000" d="M297.6 757.6l81.4 0 11.3-0.6 17.5-1.5 12.3-2 5.9-2 1.8-2-1.8-2-5.9-2-12.3-2-13.5-1.2-34.2-1.4-62.5-0.2z"/>
</g></g>
<g clip-path="url(#cr)"><g filter="url(#bl)" shape-rendering="crispEdges">
<path fill="#0004ff" d="M1102.9 757.6l1296.6 0 0-434.9-1296.6 0z"/>
<path fill="#0007ff" d="M1102.9 757.6l1296.6 0 0-430.7-213.4-0.1-0.1-4.1-1083.1 0z"/>
<path fill="#000aff" d="M1102.9 757.6l1296.6 0 0-430.3-213.4-0.4-0.2-4.2-1083 0z"/>
<path fill="#000dff" d="M1102.9 757.6l1296.6 0 0-429.9-213.4-0.7-0.3-4.3-1082.9 0z"/>
<path fill="#0010ff" d="M1102.9 757.6l1296.6 0 0-429.6-213.4-0.9-0.4-0.4 0-4-1082.8 0z"/>
<path fill="#0012ff" d="M1102.9 757.6l1296.6 0 0-429.2-213.4-1.2-0.5-0.5 0-4-1082.7 0z"/>
<path fill="#0015ff" d="M1102.9 757.6l1296.6 0 0-428.9-213.4-1.4-0.6-0.6 0-4-1082.6 0z"/>
<path fill="#0018ff" d="M1102.9 757.6l1296.6 0 0-428.5-213.4-1.7-0.7-0.7 0-4-1082.5 0z"/>
<path fill="#001bff" d="M1102.9 757.6l1296.6 0 0-428.1-213.4-2-0.8-0.8 0-4-1082.4 0z"/>
<path fill="#001eff" d="M1102.9 757.6l1296.6 0 0-427.8-213.4-2.2-0.9-0.9 0-4-1082.3 0z"/>
<path fill="#0021ff" d="M1102.9 757.6l1296.6 0 0-427.4-213.4-2.5-1-1 0-4-1082.2 0z"/>
<path fill="#0023ff" d="M1102.9 757.6l1296.6 0 0-427.1-213.4-2.7-1-1.1 0-4-1082.2 0z"/>
<path fill="#0026ff" d="M1102.9 757.6l1296.6 0 0-426.7-213.4-3-1.1-1.2 0-4-1082.1 0z"/>
<path fill="#0029ff" d="M1102.9 757.6l1296.6 0 0-426.4-213.4-3.2-1.2-1.3 0-4-1082 0z"/>
<path fill="#002cff" d="M1102.9 757.6l1296.6 0 0-426.1-213.4-3.4-1.3-1.4 0-4-1081.9 0z"/>
<path fill="#002fff" d="M1102.9 757.6l1296.6 0 0-425.8-213.4-3.5-1.4-1.6 0-4-1081.8 0z"/>
<path fill="#0032ff" d="M1102.9 757.6l1296.6 0 0-425.5-213.4-3.7-1.5-1.7 0-4-1081.7 0z"/>
<path fill="#0034ff" d="M1102.9 757.6l1296.6 0 0-425.2-213.4-3.9-1.6-1.8 0-4-1081.6 0z"/>
<path fill="#0037ff" d="M1102.9 757.6l1296.6 0 0-424.9-213.4-4.1-1.7-1.9 0-4-1081.5 0z"/>
<path fill="#003aff" d="M1102.9 757.6l1296.6 0 0-424.6-213.4-4.3-1.8-2 0-4-1081.4 0z"/>
<path fill="#003dff" d="M1102.9 757.6l1296.6 0 0-424.3-213.4-4.5-1.9-2.1 0-4-1081.3 0z"/>
<path fill="#0040ff" d="M1102.9 757.6l1296.6 0 0-424-213.4-4.7-2-2.2 0-4-1081.2 0z"/>
<path fill="#0043ff" d="M1102.9 757.6l1296.6 0 0-423.8-213.4-4.8-2.1-2.3 0-4-1081.1 0z"/>
<path fill="#0045ff" d="M1102.9 757.6l1296.6 0 0-423.5-213.4-5-2.2-2.4 0-4-1081 0z"/>
<path fill="#0048ff" d="M1102.9 757.6l1296.6 0 0-423.2-213.4-5.2-2.3-2.5 0-4-1080.9 0z"/>
<path fill="#004bff" d="M1102.9 757.6l1296.6 0 0-422.9-213.4-5.4-2.4-2.6 0-4-1080.8 0z"/>
<path fill="#004eff" d="M1102.9 757.6l1296.6 0 0-422.4-108.7-2.8-48.4-1.8-56.3-1.2-2.5-2.7 0-4-1080.7 0z"/>
<path fill="#0051ff" d="M1102.9 757.6l1296.6 0 0-422-116.8-3.2-41.1-1.7-55.5-1.2-2.6-2.8 0-4-1080.6 0z"/>
<path fill="#0054ff" d="M1102.9 757.6l1296.6 0 0-421.6-124.8-3.6-38.4-1.7-50.2-1.1-2.7-2.9 0-4-1080.5 0z"/>
<path fill="#0056ff" d="M1102.9 757.6l1296.6 0 0-421.2-132.9-4-35.4-1.7-45.1-1-2.8-3 0-4-1080.4 0z"/>
<path fill="#0059ff" d="M1102.9 757.6l1296.6 0 0-420.7-136.9-4.4-36.2-1.8-40.3-0.9-2.9-3.1 0-4-1080.3 0z"/>
<path fill="#005cff" d="M1102.9 757.6l1296.6 0 0-420.3-145-4.8-32.9-1.8-35.5-0.8-3-3.2 0-4-1080.2 0z"/>
<path fill="#005fff" d="M1102.9 757.6l1296.6 0 0-419.9-77.1-2.9-71.9-2.2-33.4-1.9-31-0.7-3.1-3.3 0-4-1080.1 0z"/>
<path fill="#0062ff" d="M1102.9 757.6l1296.6 0 0-419.5-86.6-3.3-66.4-2.1-33.9-2-26.5-0.6-3.2-3.4 0-4-1080 0z"/>
<path fill="#0065ff" d="M1102.9 757.6l1296.6 0 0-419-56.4-1.9-39.5-1.9-61.2-1.9-34.2-2.2-22.1-0.5-3.3-3.5 0-4-1079.9 0z"/>
<path fill="#0067ff" d="M1102.9 757.6l1296.6 0 0-418.5-68.5-2.4-36.6-1.9-60-1.9-30.6-2.2-17.7-0.4-3.3-3.6 0-4-1079.9 0z"/>
<path fill="#006aff" d="M1102.9 757.6l1296.6 0 0-417.8-80.5-3.1-33.8-1.9-58.9-1.9-16.1-1-10.8-1.2-13.3-0.3-3.4-3.7 0-4-1079.8 0z"/>
<path fill="#006dff" d="M1102.9 757.6l1296.6 0 0-417-92.6-3.9-30.9-1.9-53.7-1.8-16.1-0.9-11.3-1.4-8.8-0.2-3.5-3.8 0-4-1079.7 0z"/>
<path fill="#0070ff" d="M1102.9 757.6l1296.6 0 0-416.3-50.3-2.5-50.4-1.9-32.3-2.1-44.2-1.4-20.1-1.1-11.9-1.6-4.2 0-3.6-4 0-4-1079.6 0z"/>
<path fill="#0073ff" d="M1102.9 757.6l1296.6 0 0-415.6-112.8-5-30.1-2.2-38.3-1.2-20.1-1.1-12.1-1.6-3.7-4.2 0-4-1079.5 0z"/>
<path fill="#0076ff" d="M1102.9 757.6l1296.6 0 0-414.8-44.3-1.7-37.4-2.3-43.1-1.7-28.9-2.3-39.6-1.2-16.1-1-4-0.5-1.3-1.4-2.5-4 0-4-937.4 0 0 128.8-121.8 0.1-0.7-0.1 0-128.8-19.5 0z"/>
<path fill="#0078ff" d="M1102.9 757.6l1296.6 0 0-413.5-21.6-1.3-50.9-2-27-2-41.4-1.7-25.6-2.3-46.9-1.6-2.5-2.5-1.4-4 0-4-535.7 0 0 128.8-523.4 0.2-2.9-0.2 0-128.8-17.3 0z"/>
<path fill="#007bff" d="M1102.9 757.6l1296.6 0 0-412-50.7-2.8-41.9-1.7-29-2.3-39.5-1.5-12.1-0.9-11.7-1.6-28.5-0.4-3.6-3.7-0.4-8-133.9 0 0 128.8-925.1 0.3-4.4-0.3 0-128.8-15.8 0z"/>
<path fill="#007eff" d="M1102.9 757.6l1296.6 0 0-410.5-60.4-2.1-33.5-2.2-51.1-1.5-16.1 0.2-7 1.3-0.5 4 0.4 8.1 2.7 32.2-0.6 8.1-2.5 8-4.8 8.1-3.3 4-8.1 8.1-15.8 12-6.2 4.1-2.6 1.1-3.8 2.9-4.3 1.6-1.9 2.4-1.7 4-0.4 0.1-1054.9 0.4-5.1-0.5 0-128.8-15.1 0z"/>
<path fill="#0081ff" d="M1102.9 757.6l1296.6 0 0-407.6-28.2-0.4-28.2 0.3-14.4 1-5.7 2.3-3.1 1.7-8.2 12.1-10.4 12.1-13.7 12-10.9 8.1-18.9 12.1-14.3 8-32.4 16.1-18.2 8.1-6.8 2.3-2.7 1.7-1.4 0.3-3 3.7-1 0.3-1054.9 0.3-5.8-0.6 0-128.8-14.4 0z"/>
<path fill="#0084ff" d="M1102.9 757.6l1296.6 0 0-401.9-8.1 0.5-12.3 2.7-8.1 4.1-18.7 12-20.7 12.1-23.4 12.1-17.1 8-28 12.1-30.7 12.1-33.5 12.1-8.8 2.6-3.1 1.4-5 1-2.4 3-1.6 0.4-1054.9 0.3-6.5-0.7 0-128.8-13.7 0z"/>
<path fill="#0087ff" d="M1102.9 757.6l1296.6 0 0-383.5-8.1 2.7-42.8 18.4-42.7 16.1-35.3 12.1-38.3 12-41.5 12.1-8.8 1.8-1.8 2.2-2.2 0.6-1054.9 0.3-7.2-0.9 0-128.8-13 0z"/>
<path fill="#0089ff" d="M1102.9 757.6l1296.6 0 0-367.5-8.1 2.2-46.5 14.9-41 12.1-75.7 20.2-33.1 8-13.1 2.5-1.2 1.5-2.8 0.7-1058.9 0.1-3.9-0.8 0-128.8-12.3 0z"/>
<path fill="#008cff" d="M1102.9 757.6l1296.6 0 0-356.2-54.9 13.9-50.7 12.1-74.1 16.1-33.7 6.4-4.1 0.9-0.6 0.7-3.4 0.8-1058.9 0.1-4.2-0.9 0-128.8-12 0z"/>
<path fill="#008fff" d="M1102.9 757.6l1296.6 0 0-347-103.6 20.8-66.4 12.1-43.4 7.1-8.1 1.9-1058.9 0.1-4.4-1.1 0-128.8-11.8 0z"/>
<path fill="#0092ff" d="M1102.9 757.6l1296.6 0 0-339.2-104.2 17-117.3 17.2-1058.9 0.1-4.1-0.7-0.4-0.5 0-128.8-11.7 0z"/>
<path fill="#0095ff" d="M1102.9 757.6l1296.6 0 0-332.3-108 14.2-113.5 13.3-1058.9 0-4.1-0.6-0.6-0.7 0-128.8-11.5 0z"/>
<path fill="#0098ff" d="M1102.9 757.6l1296.6 0 0-325.9-116.7 11.8-104.8 9.4-1058.9 0.1-4.1-0.7-0.8-0.8 0-128.8-11.3 0z"/>
<path fill="#009aff" d="M1102.9 757.6l1296.6 0 0-320-134.7 9.9-86.8 5.5-1058.9 0.1-4.1-0.6-0.9-1 0-128.8-11.2 0z"/>
<path fill="#009dff" d="M1102.9 757.6l1296.6 0 0-314.4-108.7 5.3-108.8 4.7-1062.9 0.1-4.1-0.7-1.1-1.1 0-128.8-11 0z"/>
<path fill="#00a0ff" d="M1102.9 757.6l1296.6 0 0-308.9-217.5 4.8-1062.9-0.1-4.1-0.6-1.3-1.3 0-128.8-10.8 0z"/>
<path fill="#00a3ff" d="M1102.9 757.6l1296.6 0 0-303.6-197.3-0.1-24.2-0.4-1058.9 0-4.1-0.5-1.5-1.5 0-128.8-10.6 0z"/>
<path fill="#00a6ff" d="M1102.9 757.6l1296.6 0 0-298.3-213.4-5-8.1-0.7-1058.9 0.1-4.1-0.6-1.6-1.6 0-128.8-10.5 0z"/>
<path fill="#00a9ff" d="M1102.9 757.6l1296.6 0 0-293.1-217.5-10-4-0.8-1058.9 0.1-4.1-0.5-1.8-1.8 0-128.8-10.3 0z"/>
<path fill="#00abff" d="M1102.9 757.6l1296.6 0 0-287.8-217.5-15-4-0.9-1058.9 0-4.1-0.4-2-2 0-128.8-10.1 0z"/>
<path fill="#00aeff" d="M1102.9 757.6l1296.6 0 0-282.3-217.5-20.1-4-1.2-1054.9 0.2-8.1-0.6-2.1-2.1 0-128.8-10 0z"/>
<path fill="#00b1ff" d="M1102.9 757.6l1296.6 0 0-276.6-110.4-13.4-103-11.6-4.1-0.5-4-1.3-1054.9 0.1-8.1-0.5-2.3-2.3 0-128.8-9.8 0z"/>
<path fill="#00b4ff" d="M1102.9 757.6l1296.6 0 0-270.6-131.5-19.4-81.9-11-4.1-0.6-4-1.7-1054.9 0.2-8.1-0.6-2.5-2.4 0-128.8-9.6 0z"/>
<path fill="#00b7ff" d="M1102.9 757.6l1296.6 0 0-264.1-123.4-21.8-72.8-12.1-21.3-3.1-0.7-0.9-3.3-1.2-1054.9 0.2-8.1-0.5-2.6-2.6 0-128.8-9.5 0z"/>
<path fill="#00baff" d="M1102.9 757.6l1296.6 0 0-257-118.9-24.9-82.5-16.1-16.1-2.6-1.1-1.4-2.9-1-1054.9 0.1-8.1-0.4-2.8-2.8 0-128.8-9.3 0z"/>
<path fill="#00bcff" d="M1102.9 757.6l1296.6 0 0-248.8-117.2-29.1-70.2-16.1-18.2-4-11.9-2-1.5-2-2.5-0.9-1054.9 0.2-8.1-0.5-3-2.9 0-128.8-9.1 0z"/>
<path fill="#00bfff" d="M1102.9 757.6l1296.6 0 0-239.2-61.9-18.5-56.2-16.1-75.4-20.2-15.7-4-8.3-1.5-1.9-2.5-2.1-0.7-1054.9 0.1-8.1-0.4-3.1-3.1 0-128.8-9 0z"/>
<path fill="#00c2ff" d="M1102.9 757.6l1296.6 0 0-226.9-12.1-4-50.4-18.8-46.8-16.1-62.8-20.1-26.6-8.1-6.7-1.6-6.9-2.4-5.2-1-2.3-3-1.7-0.6-1054.9 0.1-8.1-0.3-3.3-3.3 0-128.8-8.8 0z"/>
<path fill="#00c5ff" d="M1102.9 757.6l1296.6 0 0-209.4-8.1-2.9-26.7-13.2-25.9-12.1-37.1-16.1-29.8-12.1-31.4-12.1-44.6-16.1-13.9-4.4-2.8-3.6-1.2-0.4-1054.9 0.1-8.1-0.4-3.5-3.4 0-128.8-8.6 0z"/>
<path fill="#00c8ff" d="M1102.9 757.6l1296.6 0 0-172.5-8.1-3.2-14.9-13.6-9.6-8-21.6-16.2-18.2-12-20-12.1-29.4-16.1-32.3-16.1-35.4-16.1-15.9-6.5-2.9-1.6-5.1-1.5-4.1-2.1-3.2-4.4-0.8-0.3-1054.9 0.1-8.1-0.3-3.6-3.6 0-128.8-8.5 0z"/>
<path fill="#00cbff" d="M1102.9 757.6l1244.7 0 0.6-8.1-21.5-80.5-6.6-28.2-12.3-56.4-5.1-16.1-3.4-8-4.2-8.1-8-12.1-6.6-8-7.5-8.1-13.2-12.1-20.9-16.1-18.2-12-27.2-16.2-3.4-1.3-3.9-2.7-4.2-1.4-2.2-2.6-1.4-4-1063.4-0.4-3.8-3.7 0-128.8-8.3 0z"/>
<path fill="#00cdff" d="M1102.9 757.6l1171.3 0 0-8.1-41.6-128.8-40.5-120.8-7.1-20.2-3-7.2-4-3.9-1054.9 124.7-4-80.8-0.9-56.9-3.2-0.2-4-3.9 0-128.8-8.1 0z"/>
<path fill="#00d0ff" d="M1102.9 757.6l17.5 0-1.3-23.9-4.1-278.1-4-3.5-8.1 0zM1518.9 757.6l685.4 0 0-8.1-22.3-67.2-4-2.7z"/>
<path fill="#00d3ff" d="M1102.9 757.6l12.7 0-0.6-41.6-0.7-260.4-3.3-2.8-8.1 0z"/>
<path fill="#00d6ff" d="M1102.9 757.6l11.4 0-0.8-302-2.5-2.2-8.1 0z"/>
<path fill="#00d9ff" d="M1102.9 757.6l10.4 0-0.6-302-1.7-1.5-8.1 0z"/>
<path fill="#00dcff" d="M1102.9 757.6l9.5 0-0.4-302-1-0.9-8.1 0z"/>
<path fill="#00deff" d="M1102.9 757.6l8.6 0-0.5-302.2-8.1 0z"/>
</g></g>
<use href="#geo"/><use href="#ax"/>
<text x="146.0" y="103.2" style="font-size:73.3px" letter-spacing="1.6">(b)</text>
<text x="305.5" y="238.4">Velocity Magnitude, m/s:</text>
<text x="1215.0" y="237.8" text-anchor="middle">2.0</text>
<text x="1414.5" y="237.8" text-anchor="middle">3.6</text>
<text x="1614.0" y="237.8" text-anchor="middle">5.2</text>
<text x="1813.5" y="237.8" text-anchor="middle">6.8</text>
<text x="2013.0" y="237.8" text-anchor="middle">8.4</text>
<text x="2212.5" y="237.8" text-anchor="middle">10.0</text>
<text x="231.9" y="774.2" text-anchor="end">0</text>
<text x="231.9" y="693.7" text-anchor="end">10</text>
<text x="231.9" y="613.1" text-anchor="end">20</text>
<text x="231.9" y="532.6" text-anchor="end">30</text>
<text x="231.9" y="452.1" text-anchor="end">40</text>
<text x="231.9" y="371.5" text-anchor="end">50</text>
<text x="231.9" y="291.0" text-anchor="end">60</text>
<text x="305.1" y="863.0" text-anchor="middle">-100</text>
<text x="506.4" y="863.0" text-anchor="middle">-75</text>
<text x="707.7" y="863.0" text-anchor="middle">-50</text>
<text x="909.1" y="863.0" text-anchor="middle">-25</text>
<text x="1110.4" y="863.0" text-anchor="middle">0</text>
<text x="1311.7" y="863.0" text-anchor="middle">25</text>
<text x="1513.1" y="863.0" text-anchor="middle">50</text>
<text x="1714.4" y="863.0" text-anchor="middle">75</text>
<text x="1915.7" y="863.0" text-anchor="middle">100</text>
<text x="2117.0" y="863.0" text-anchor="middle">125</text>
<text x="2318.3" y="863.0" text-anchor="middle">150</text>
<text transform="translate(1282.4 953.7) scale(0.981 1)">x/D<tspan font-size="44.0" dx="1.2" dy="21.7">H</tspan></text>
<text transform="translate(101.2 576.3) rotate(-90) scale(0.981 1)">y/D<tspan font-size="44.0" dx="1.2" dy="21.7">H</tspan></text>
</g>
<g transform="translate(0 2005.70)">
<rect x="1116.5" y="42.1" width="1195.1" height="109.0" fill="url(#cb)"/>
<g clip-path="url(#cl)"><g filter="url(#bl)" shape-rendering="crispEdges">
<path fill="#0005ff" d="M297.6 757.6l819.4 0 0-438.9-2 0-2 2-2 0-2 2-2 0-2 2-2.1 0-2 2-2 0-2 2-2 0-2 2-2 0-2 2.1-2.1 0-2 2-2 0-2 2-2 0-2 2-2 0-2.1 2-2 0-2 2-2 0-2 2-2 0-2 2-2 0-2.1 2.1-2 0-2 2-2 0-2 2-2 0-2 2-2.1 0-2 2-2 0-2 2-2 0-2 2-2 0-2 2.1-2.1 0-2 2-2 0-2 2-2 0-2 2-2 0-2 2-2.1 0-2 2-2 0-2 2-2 0-2 2-2 0-2.1 2.1-2 0-2 2-2 0-2 2-2 0-2 2-2 0-2.1 2-2 0-2 2-2 0-2 2-4 0-2.1 2.1-2 0-2 2-2 0-2 2-2 0-2 2-2 0-2.1 2-2 0-2 2-2 0-2 2-2 0-2 2-2.1 0-2 2.1-2 0-2 2-2 0-2 2-2 0-2 2-2.1 0-2 2-2 0-2 2-2 0-2 2-2 0-2.1 2.1-2 0-2 2-2 0-2 2-2 0-2 2-2 0-2.1 2-2 0-2 2-2 0-2 2-2 0-2 2-2.1 0-2 2.1-2 0-2 2-2 0-2 2-2 0-2 2-2.1 0-2 2-2 0-2 2-2 0-2 2-2 0-2 2.1-2.1 0-2 2-2 0-2 2-2 0-2 2-2 0-2.1 2-2 0-2 2-2 0-2 2-2 0-2 2-4.1 0-2 2.1-2 0-2 2-2 0-2 2-2 0-2.1 2-2 0-2 2-2 0-2 2-2 0-2 2-2 0-2.1 2.1-2 0-2 2-2 0-2 2-2 0-2 2-2.1 0-2 2-2 0-2 2-2 0-2 2-2 0-2 2-2.1 0-2 2.1-2 0-2 2-2 0-2 2-2 0-2.1 2-2 0-2 2-2 0-2 2-2 0-2 2-2 0-2.1 2-2 0-2 2.1-2 0-2 2-2 0-2 2-2.1 0-2 2-2 0-2 2-2 0-2 2-2 0-2 2-2.1 0-2 2.1-2 0-2 2-2 0-2 2-2 0-2 2-2.1 0-2 2-2 0-2 2-2 0-2 2-2 0-2.1 2-4 0-2 2.1-2 0-2 2-2 0-2 2-2.1 0-2 2-2 0-2 2-342.3 0z"/>
<path fill="#000eff" d="M297.6 757.6l819.4 0 0-438.9-2 0-2 2-2 0-2 2-2 0-2 2-2.1 0-2 2-2 0-2 2-2 0-2 2-2 0-2 2.1-2.1 0-2 2-2 0-2 2-2 0-2 2-2 0-2.1 2-2 0-2 2-2 0-2 2-2 0-2 2-2 0-2.1 2.1-2 0-2 2-2 0-2 2-2 0-2 2-2.1 0-2 2-2 0-2 2-2 0-2 2-2 0-2 2.1-2.1 0-2 2-2 0-2 2-2 0-2 2-2 0-2 2-2.1 0-2 2-2 0-2 2-2 0-2 2-2 0-2.1 2.1-2 0-2 2-2 0-2 2-2 0-2 2-2 0-2.1 2-2 0-2 2-2 0-2 2-4 0-2.1 2.1-2 0-2 2-2 0-2 2-2 0-2 2-2 0-2.1 2-2 0-2 2-2 0-2 2-2 0-2 2-2.1 0-2 2.1-2 0-2 2-2 0-2 2-2 0-2 2-2.1 0-2 2-2 0-2 2-2 0-2 2-2 0-2.1 2.1-2 0-2 2-2 0-2 2-2 0-2 2-2 0-2.1 2-2 0-2 2-2 0-2 2-2 0-2 2-2.1 0-2 2.1-2 0-2 2-2 0-2 2-2 0-2 2-2.1 0-2 2-2 0-2 2-2 0-2 2-2 0-2 2.1-2.1 0-2 2-2 0-2 2-2 0-2 2-2 0-2.1 2-2 0-2 2-2 0-2 2-2 0-2 2-4.1 0-2 2.1-2 0-2 2-2 0-2 2-2 0-2.1 2-2 0-2 2-2 0-2 2-2 0-2 2-2 0-2.1 2.1-2 0-2 2-2 0-2 2-2 0-2 2-2.1 0-2 2-2 0-2 2-2 0-2 2-2 0-2 2-2.1 0-2 2.1-2 0-2 2-2 0-2 2-2 0-2.1 2-2 0-2 2-2 0-2 2-2 0-2 2-2 0-2.1 2-2 0-2 2.1-2 0-2 2-2 0-2 2-2.1 0-2 2-2 0-2 2-2 0-2 2-2 0-2 2-2.1 0-2 2.1-2 0-2 2-2 0-2 2-2 0-2 2-2.1 0-2 2-2 0-2 2-2 0-2 2-2 0-2.1 2-4 0-2 2.1-2 0-2 2-2 0-2 2-2.1 0-2 2-2 0-2 2-342.3 0zM976.1 462.7l-1.7-1.1 4.6-4 21.3-14 8-5.9 4.1-1.8 1.8 1.5-1 4.1-1.9 4-3 3.8-2 1.4-25.7 10.9z"/>
<path fill="#0018ff" d="M297.6 757.6l819.4 0 0-438.9-2 0-2 2-2 0-2 2-2 0-2 2-2.1 0-2 2-2 0-2 2-2 0-2 2-2 0-2 2.1-2.1 0-2 2-2 0-2 2-2 0-2 2-2 0-2.1 2-2 0-2 2-2 0-2 2-2 0-2 2-2 0-2.1 2.1-2 0-2 2-2 0-2 2-2 0-2 2-2.1 0-2 2-2 0-2 2-2 0-2 2-2 0-2 2.1-2.1 0-2 2-2 0-2 2-2 0-2 2-2 0-2 2-2.1 0-2 2-2 0-2 2-2 0-2 2-2 0-2.1 2.1-2 0-2 2-2 0-2 2-2 0-2 2-2 0-2.1 2-2 0-2 2-2 0-2 2-4 0-2.1 2.1-2 0-2 2-2 0-2 2-2 0-2 2-2 0-2.1 2-2 0-2 2-2 0-2 2-2 0-2 2-2.1 0-2 2.1-2 0-2 2-2 0-2 2-2 0-2 2-2.1 0-2 2-2 0-2 2-2 0-2 2-2 0-2.1 2.1-2 0-2 2-2 0-2 2-2 0-2 2-2 0-2.1 2-2 0-2 2-2 0-2 2-2 0-2 2-2.1 0-2 2.1-2 0-2 2-2 0-2 2-2 0-2 2-2.1 0-2 2-2 0-2 2-2 0-2 2-2 0-2 2.1-2.1 0-2 2-2 0-2 2-2 0-2 2-2 0-2.1 2-2 0-2 2-2 0-2 2-2 0-2 2-4.1 0-2 2.1-2 0-2 2-2 0-2 2-2 0-2.1 2-2 0-2 2-2 0-2 2-2 0-2 2-2 0-2.1 2.1-2 0-2 2-2 0-2 2-2 0-2 2-2.1 0-2 2-2 0-2 2-2 0-2 2-2 0-2 2-2.1 0-2 2.1-2 0-2 2-2 0-2 2-2 0-2.1 2-2 0-2 2-2 0-2 2-2 0-2 2-2 0-2.1 2-2 0-2 2.1-2 0-2 2-2 0-2 2-2.1 0-2 2-2 0-2 2-2 0-2 2-2 0-2 2-2.1 0-2 2.1-2 0-2 2-2 0-2 2-2 0-2 2-2.1 0-2 2-2 0-2 2-2 0-2 2-2 0-2.1 2-4 0-2 2.1-2 0-2 2-2 0-2 2-2.1 0-2 2-2 0-2 2-342.3 0zM637.9 556.4l-0.5-0.2 0.9 0zM911.7 494.9l-1.1-1.1 8.5-6 13.7-8.1 25.2-13.6 38.2-23.7 16.2-11.5 6-3.1 2-0.5 2 0.6 0.5 1.5-0.7 4-5.4 14.1-2.4 4.7-2 2.3-1.6 1.1-2.5 1.1-8 2.1-4.1 1.5-26.1 12.8-12.1 4.6-23.9 10.1-16.5 6z"/>
<path fill="#0021ff" d="M297.6 757.6l819.4 0 0-438.9-2 0-2 2-2 0-2 2-2 0-2 2-2.1 0-2 2-2 0-2 2-2 0-2 2-2 0-2 2.1-2.1 0-2 2-2 0-2 2-2 0-2 2-2 0-2.1 2-2 0-2 2-2 0-2 2-2 0-2 2-2 0-2.1 2.1-2 0-2 2-2 0-2 2-2 0-2 2-2.1 0-2 2-2 0-2 2-2 0-2 2-2 0-2 2.1-2.1 0-2 2-2 0-2 2-2 0-2 2-2 0-2 2-2.1 0-2 2-2 0-2 2-2 0-2 2-2 0-2.1 2.1-2 0-2 2-2 0-2 2-2 0-2 2-2 0-2.1 2-2 0-2 2-2 0-2 2-4 0-2.1 2.1-2 0-2 2-2 0-2 2-2 0-2 2-2 0-2.1 2-2 0-2 2-2 0-2 2-2 0-2 2-2.1 0-2 2.1-2 0-2 2-2 0-2 2-2 0-2 2-2.1 0-2 2-2 0-2 2-2 0-2 2-2 0-2.1 2.1-2 0-2 2-2 0-2 2-2 0-2 2-2 0-2.1 2-2 0-2 2-2 0-2 2-2 0-2 2-2.1 0-2 2.1-2 0-2 2-2 0-2 2-2 0-2 2-2.1 0-2 2-2 0-2 2-2 0-2 2-2 0-2 2.1-2.1 0-2 2-2 0-2 2-2 0-2 2-2 0-2.1 2-2 0-2 2-2 0-2 2-2 0-2 2-4.1 0-2 2.1-2 0-2 2-2 0-2 2-2 0-2.1 2-2 0-2 2-2 0-2 2-2 0-2 2-2 0-2.1 2.1-2 0-2 2-2 0-2 2-2 0-2 2-2.1 0-2 2-2 0-2 2-2 0-2 2-2 0-2 2-2.1 0-2 2.1-2 0-2 2-2 0-2 2-2 0-2.1 2-2 0-2 2-2 0-2 2-2 0-2 2-2 0-2.1 2-2 0-2 2.1-2 0-2 2-2 0-2 2-2.1 0-2 2-2 0-2 2-2 0-2 2-2 0-2 2-2.1 0-2 2.1-2 0-2 2-2 0-2 2-2 0-2 2-2.1 0-2 2-2 0-2 2-2 0-2 2-2 0-2.1 2-4 0-2 2.1-2 0-2 2-2 0-2 2-2.1 0-2 2-2 0-2 2-342.3 0zM637.9 556.5l-0.9-0.3 0.9-0.3 0.7 0.3zM758.7 538.2l-2-0.1 2-0.3 2-1 0.2-0.7 3.8-1.1 1.7-0.9 25.1-8.1 20.6-6 35.2-9.2 12-3.6 44.3-18.6 12.1-5.7 44.3-22.4 30.2-17.7 8.1-5.3 14.1-10.3 10-6 6.1-2.2 2.2 0.3 0.9 2-0.1 2.1-1.1 4-5.2 12.1-4.8 12.6-2 4.3-2.5 3.2-3.5 2.1-8.1 1.4-6 2.2-26.2 13.8-37.6 16.7-21.1 8.1-24 8-29.3 8.1-26.2 6-21.7 4.1-36.2 6-11.3 1.3-2.8 0.7z"/>
<path fill="#002aff" d="M297.6 757.6l819.4 0 0-438.9-2 0-2 2-2 0-2 2-2 0-2 2-2.1 0-2 2-2 0-2 2-2 0-2 2-2 0-2 2.1-2.1 0-2 2-2 0-2 2-2 0-2 2-2 0-2.1 2-2 0-2 2-2 0-2 2-2 0-2 2-2 0-2.1 2.1-2 0-2 2-2 0-2 2-2 0-2 2-2.1 0-2 2-2 0-2 2-2 0-2 2-2 0-2 2.1-2.1 0-2 2-2 0-2 2-2 0-2 2-2 0-2 2-2.1 0-2 2-2 0-2 2-2 0-2 2-2 0-2.1 2.1-2 0-2 2-2 0-2 2-2 0-2 2-2 0-2.1 2-2 0-2 2-2 0-2 2-4 0-2.1 2.1-2 0-2 2-2 0-2 2-2 0-2 2-2 0-2.1 2-2 0-2 2-2 0-2 2-2 0-2 2-2.1 0-2 2.1-2 0-2 2-2 0-2 2-2 0-2 2-2.1 0-2 2-2 0-2 2-2 0-2 2-2 0-2.1 2.1-2 0-2 2-2 0-2 2-2 0-2 2-2 0-2.1 2-2 0-2 2-2 0-2 2-2 0-2 2-2.1 0-2 2.1-2 0-2 2-2 0-2 2-2 0-2 2-2.1 0-2 2-2 0-2 2-2 0-2 2-2 0-2 2.1-2.1 0-2 2-2 0-2 2-2 0-2 2-2 0-2.1 2-2 0-2 2-2 0-2 2-2 0-2 2-4.1 0-2 2.1-2 0-2 2-2 0-2 2-2 0-2.1 2-2 0-2 2-2 0-2 2-2 0-2 2-2 0-2.1 2.1-2 0-2 2-2 0-2 2-2 0-2 2-2.1 0-2 2-2 0-2 2-2 0-2 2-2 0-2 2-2.1 0-2 2.1-2 0-2 2-2 0-2 2-2 0-2.1 2-2 0-2 2-2 0-2 2-2 0-2 2-2 0-2.1 2-2 0-2 2.1-2 0-2 2-2 0-2 2-2.1 0-2 2-2 0-2 2-2 0-2 2-2 0-2 2-2.1 0-0.9 1 3.1-1 7.9-0.8 4 0.7 8.1 3 4 0.6 4 0.1 10.1-0.7 18.1-2 12.1-2.6 37-10.3 47.6-11.2 12-3.6 48.4-18.9 50.3-24.2 20.1-11.3 12.1-7.2 26.2-18.3 12.1-7.6 8-4.4 6-4.1 2.1-0.3 0.5 0.3 0.2 2-0.3 2.1-2.3 6-6.2 10.5-6.3 11.6-2.7 6.1-5.1 13.7-2 4-2 2.6-2 1.5-4 1.5-6.1 0.8-2 0.7-32.2 17.4-37.3 16.2-47.9 16.1-47.8 12.1-44.5 8-52.6 8.1-20.6 2-17.1 1.2-3.9 0.8-8.2 0.3-2.4-0.3-1.6-1.2-2-0.5-6.2-0.3 3.2-2-1-1.5-3.1-0.6 3.7-6 0.2-2-0.8-0.8-2-0.8-2 1.6-2.1 0-2 2-2 0-2 2-2 0-2 2-2 0-2.1 2-4 0-2 2.1-2 0-2 2-2 0-2 2-2.1 0-2 2-2 0-2 2-5.3 0-0.7 0.5-2.3-0.5-334 0zM637.9 556.6l-1.3-0.4 1.3-0.5 1 0.5z"/>
<path fill="#0034ff" d="M297.6 757.6l819.4 0 0-438.9-2 0-2 2-2 0-2 2-2 0-2 2-2.1 0-2 2-2 0-2 2-2 0-2 2-2 0-2 2.1-2.1 0-2 2-2 0-2 2-2 0-2 2-2 0-2.1 2-2 0-2 2-2 0-2 2-2 0-2 2-2 0-2.1 2.1-2 0-2 2-2 0-2 2-2 0-2 2-2.1 0-2 2-2 0-2 2-2 0-2 2-2 0-2 2.1-2.1 0-2 2-2 0-2 2-2 0-2 2-2 0-2 2-2.1 0-2 2-2 0-2 2-2 0-2 2-2 0-2.1 2.1-2 0-2 2-2 0-2 2-2 0-2 2-2 0-2.1 2-2 0-2 2-2 0-2 2-4 0-2.1 2.1-2 0-2 2-2 0-2 2-2 0-2 2-2 0-2.1 2-2 0-2 2-2 0-2 2-2 0-2 2-2.1 0-2 2.1-2 0-2 2-2 0-2 2-2 0-2 2-2.1 0-2 2-2 0-2 2-2 0-2 2-2 0-2.1 2.1-2 0-2 2-2 0-2 2-2 0-2 2-2 0-2.1 2-2 0-2 2-2 0-2 2-2 0-2 2-2.1 0-2 2.1-2 0-2 2-2 0-2 2-2 0-2 2-2.1 0-2 2-2 0-2 2-2 0-2 2-2 0-2 2.1-2.1 0-2 2-2 0-2 2-2 0-2 2-2 0-2.1 2-2 0-2 2-2 0-2 2-2 0-2 2-4.1 0-2 2.1-2 0-2 2-2 0-2 2-2 0-2.1 2-2 0-2 2-2 0-2 2-2 0-2 2-2 0-2.1 2.1-2 0-2 2-2 0-2 2-2 0-2 2-2.1 0-2 2-2 0-2 2-2 0-2 2-2 0-2 2-2.1 0-2 2.1-2 0-2 2-2 0-2 2-2 0-2.1 2-2 0-2 2-2 0-2 2-2 0-2 2-2 0-2.1 2-2 0-2 2.1-2 0-0.3 0.3 4.3-0.4 2 0.3 10.1 3 10.1 1.3 10-0.2 10.1-1.5 32.2-7.7 42.3-8.9 14.1-3.3 12.1-3.8 34.2-12.6 18.1-7.6 34.2-15.9 16.1-8.4 18.2-10.3 12-7.7 33.2-23.3 7.1-5.3 17.7-14.9 8.5-5.9 0.7 1.9-0.7 2.8-10.1 20.8-4 6.8-12.1 16.8-3 5.1-2 4.1-9 22.1-2.1 2.9-1.3 1.1-3.6 2.1-9.2 3.4-8 4.9-23.2 11.8-13.7 6-29.6 11.9-45.8 14.3-51.7 12.1-49.3 8-44.7 6.1-36 2.9-10 1.2-3.4-0.1-2.7-1.1-4-0.5-16.1 0.7-2 0.2-0.7 0.7-3.4 0.3-4-0.3 6.1-0.8 1.2-1.2 2.8-0.8 2.6-1.2 1.7-2 0.5-2.1 0.7-6-1.5 0-2 2-2 0-2 2-2 0-2.1 2-4 0-2 2.1-2 0-2 2-2 0-2 2-2.1 0-2 2-2 0-2 2-5 0-1 0.7-2.8-0.7-333.5 0zM637.9 556.7l-1.7-0.5 1.7-0.6 1.3 0.6zM643.9 556.3l-0.7-0.1 1.7 0zM652 554.4l-1.9-0.2 4.4 0z"/>
<path fill="#003dff" d="M297.6 757.6l819.4 0 0-438.9-2 0-2 2-2 0-2 2-2 0-2 2-2.1 0-2 2-2 0-2 2-2 0-2 2-2 0-2 2.1-2.1 0-2 2-2 0-2 2-2 0-2 2-2 0-2.1 2-2 0-2 2-2 0-2 2-2 0-2 2-2 0-2.1 2.1-2 0-2 2-2 0-2 2-2 0-2 2-2.1 0-2 2-2 0-2 2-2 0-2 2-2 0-2 2.1-2.1 0-2 2-2 0-2 2-2 0-2 2-2 0-2 2-2.1 0-2 2-2 0-2 2-2 0-2 2-2 0-2.1 2.1-2 0-2 2-2 0-2 2-2 0-2 2-2 0-2.1 2-2 0-2 2-2 0-2 2-4 0-2.1 2.1-2 0-2 2-2 0-2 2-2 0-2 2-2 0-2.1 2-2 0-2 2-2 0-2 2-2 0-2 2-2.1 0-2 2.1-2 0-2 2-2 0-2 2-2 0-2 2-2.1 0-2 2-2 0-2 2-2 0-2 2-2 0-2.1 2.1-2 0-2 2-2 0-2 2-2 0-2 2-2 0-2.1 2-2 0-2 2-2 0-2 2-2 0-2 2-2.1 0-2 2.1-2 0-2 2-2 0-2 2-2 0-2 2-2.1 0-2 2-2 0-2 2-2 0-2 2-2 0-2 2.1-2.1 0-2 2-2 0-2 2-2 0-2 2-2 0-2.1 2-2 0-2 2-2 0-2 2-2 0-2 2-4.1 0-2 2.1-2 0-2 2-2 0-2 2-2 0-2.1 2-2 0-2 2-2 0-2 2-2 0-2 2-2 0-2.1 2.1-2 0-2 2-2 0-2 2-2 0-2 2-2.1 0-2 2-2 0-2 2-2 0-2 2-2 0-2 2-2.1 0-2 2.1-2 0-2 2-2 0-2 2-2 0-2.1 2-2 0-0.3 0.3 6.4 0.2 6 1.8 6.1 1.3 10 0.2 12.1-1.5 42.3-7.2 22.1-4.2 14.1-3.5 26.2-8.7 22.1-8.1 24.2-10.3 24.2-11.2 20.1-10.6 14.1-8.2 12.1-7.8 26.1-18.6 12.1-9.4 13.1-11.3 15.1-12 4-2.3 0.9 0.2-0.1 2-0.8 3.2-2 6.4-2 4.8-12.1 22.7-15.1 21.3-2.4 4.1-10.7 25.2-1.7 2.9-2 2.1-11.2 6-9.4 6-33.1 16.1-36.8 14.1-41.1 12.1-7.8 2-46.1 10.1-39.3 6-57.4 7.3-46.3 3.6-8-1.6-8.1 0.1-18.1 1.8-1.5 0.9-2.5 0.3-4 0.1-0.9-0.4 6.9-0.9 0.5-1.1 5.5-1.4 6.5-2.6 2.3-2 0.7-2.1 1-6-0.4 0-2 2-2 0-2 2-2 0-2.1 2-4 0-2 2.1-2 0-2 2-2 0-2 2-2.1 0-2 2-2 0-2 2-4.7 0-1.3 0.9-3.4-0.9-332.9 0zM635.9 556.2l2-0.8 1.6 0.8-1.6 0.6zM641.9 556.2l2-0.3 2.4 0.3z"/>
<path fill="#0047ff" d="M297.6 757.6l819.4 0 0-438.9-2 0-2 2-2 0-2 2-2 0-2 2-2.1 0-2 2-2 0-2 2-2 0-2 2-2 0-2 2.1-2.1 0-2 2-2 0-2 2-2 0-2 2-2 0-2.1 2-2 0-2 2-2 0-2 2-2 0-2 2-2 0-2.1 2.1-2 0-2 2-2 0-2 2-2 0-2 2-2.1 0-2 2-2 0-2 2-2 0-2 2-2 0-2 2.1-2.1 0-2 2-2 0-2 2-2 0-2 2-2 0-2 2-2.1 0-2 2-2 0-2 2-2 0-2 2-2 0-2.1 2.1-2 0-2 2-2 0-2 2-2 0-2 2-2 0-2.1 2-2 0-2 2-2 0-2 2-4 0-2.1 2.1-2 0-2 2-2 0-2 2-2 0-2 2-2 0-2.1 2-2 0-2 2-2 0-2 2-2 0-2 2-2.1 0-2 2.1-2 0-2 2-2 0-2 2-2 0-2 2-2.1 0-2 2-2 0-2 2-2 0-2 2-2 0-2.1 2.1-2 0-2 2-2 0-2 2-2 0-2 2-2 0-2.1 2-2 0-2 2-2 0-2 2-2 0-2 2-2.1 0-2 2.1-2 0-2 2-2 0-2 2-2 0-2 2-2.1 0-2 2-2 0-2 2-2 0-2 2-2 0-2 2.1-2.1 0-2 2-2 0-2 2-2 0-2 2-2 0-2.1 2-2 0-2 2-2 0-2 2-2 0-2 2-4.1 0-2 2.1-2 0-2 2-2 0-2 2-2 0-2.1 2-2 0-2 2-2 0-2 2-2 0-2 2-2 0-2.1 2.1-2 0-2 2-2 0-2 2-2 0-2 2-2.1 0-2 2-2 0-2 2-2 0-2 2-2 0-0.3 0.3 6.3 0.6 8.1 2 10 0.4 24.2-1.5 26.2-3.6 16.1-3.1 14.1-3.7 32.2-10.5 18.1-6.8 22.1-9.4 22.2-10.4 18.1-9.6 14.1-8.3 12.1-7.9 22.1-15.8 14.1-11.1 14.7-12.3 23.6-18.1 0.5 2-0.5 1.8-3.2 6.2-2.9 9.1-4 8.7-10.1 19.4-17.3 25.3-2.1 4-9.3 22.1-2.4 4.1-2.3 2-10 6-8.9 6.3-28.2 14.1-8.8 3.8-31.5 11.8-6 1.8-45.8 12.5-48.8 10.1-42 6-50.8 6.1-48.2 3.5-6-1.3-4-0.2-16.1 0.7-14.1 2.1-2 0-1.9-0.8 5.9-1.3 1.3-0.7 4.7-1.3 6.1-2.4 2-1.2 1.4-1.1 0.9-2.1 1.2-5.5-1.5 1.5-2 0-2 2-2 0-2.1 2-4 0-2 2.1-2 0-2 2-2 0-2 2-2.1 0-2 2-2 0-2 2-4.4 0 0.4 1 2 0.1 1.9 0.9-1.9 0.7-2.4-0.7-1.6-0.9-3.9-1.1-332.4 0zM641.9 556.4l-1.5-0.2 5.5-0.5 1.3 0.5-3.3 0.4z"/>
<path fill="#0050ff" d="M297.6 757.6l819.4 0 0-438.9-2 0-2 2-2 0-2 2-2 0-2 2-2.1 0-2 2-2 0-2 2-2 0-2 2-2 0-2 2.1-2.1 0-2 2-2 0-2 2-2 0-2 2-2 0-2.1 2-2 0-2 2-2 0-2 2-2 0-2 2-2 0-2.1 2.1-2 0-2 2-2 0-2 2-2 0-2 2-2.1 0-2 2-2 0-2 2-2 0-2 2-2 0-2 2.1-2.1 0-2 2-2 0-2 2-2 0-2 2-2 0-2 2-2.1 0-2 2-2 0-2 2-2 0-2 2-2 0-2.1 2.1-2 0-2 2-2 0-2 2-2 0-2 2-2 0-2.1 2-2 0-2 2-2 0-2 2-4 0-2.1 2.1-2 0-2 2-2 0-2 2-2 0-2 2-2 0-2.1 2-2 0-2 2-2 0-2 2-2 0-2 2-2.1 0-2 2.1-2 0-2 2-2 0-2 2-2 0-2 2-2.1 0-2 2-2 0-2 2-2 0-2 2-2 0-2.1 2.1-2 0-2 2-2 0-2 2-2 0-2 2-2 0-2.1 2-2 0-2 2-2 0-2 2-2 0-2 2-2.1 0-2 2.1-2 0-2 2-2 0-2 2-2 0-2 2-2.1 0-2 2-2 0-2 2-2 0-2 2-2 0-2 2.1-2.1 0-2 2-2 0-2 2-2 0-2 2-2 0-2.1 2-2 0-2 2-2 0-2 2-2 0-2 2-4.1 0-2 2.1-2 0-2 2-2 0-2 2-2 0-2.1 2-2 0-2 2-2 0-2 2-2 0-2 2-2 0-2.1 2.1-2 0-2 2-2 0-0.3 0.3 6.3 0.8 12.1 3.3 8.1 0.9 16.1-0.6 20.1-2.6 18.1-3.9 26.2-7.6 20.1-6.7 20.2-7.8 20.1-8.9 18.1-8.8 18.1-9.8 14.1-8.7 30.2-21.3 23.9-19.3 20.4-15.4 12.2-10.8 0.4 2-0.5 1.4-7 12.7-1.8 4.1-3.3 10-10 20.2-4.1 7.3-16.4 24.9-11.8 26.7-2 2.8-12 8.4-8.3 6.4-28 14.2-8.8 3.9-35.5 12.9-50.8 13.3-39.5 8-8.3 1.4-46.3 6.3-39.7 4.4-54 4-9-1.5-10.1 0.1-8 0.6-16.1 2.1-4.1 1.1-2 0.2-4-0.4-2 0.7-8.5-2.9-331.8 0zM635.9 554.2l4 1.9 6-0.9 1.6-1 10.5-3.1 6.1-2.3 4.2-2.6 1.2-2.1 1.2-4.6-0.6 0.6-2 0-2 2-2 0-2.1 2-4 0-2 2.1-2 0-2 2-2 0-2 2-2.1 0-2 2-2 0-2 2z"/>
<path fill="#005aff" d="M297.6 757.6l819.4 0 0-438.9-2 0-2 2-2 0-2 2-2 0-2 2-2.1 0-2 2-2 0-2 2-2 0-2 2-2 0-2 2.1-2.1 0-2 2-2 0-2 2-2 0-2 2-2 0-2.1 2-2 0-2 2-2 0-2 2-2 0-2 2-2 0-2.1 2.1-2 0-2 2-2 0-2 2-2 0-2 2-2.1 0-2 2-2 0-2 2-2 0-2 2-2 0-2 2.1-2.1 0-2 2-2 0-2 2-2 0-2 2-2 0-2 2-2.1 0-2 2-2 0-2 2-2 0-2 2-2 0-2.1 2.1-2 0-2 2-2 0-2 2-2 0-2 2-2 0-2.1 2-2 0-2 2-2 0-2 2-4 0-2.1 2.1-2 0-2 2-2 0-2 2-2 0-2 2-2 0-2.1 2-2 0-2 2-2 0-2 2-2 0-2 2-2.1 0-2 2.1-2 0-2 2-2 0-2 2-2 0-2 2-2.1 0-2 2-2 0-2 2-2 0-2 2-2 0-2.1 2.1-2 0-2 2-2 0-2 2-2 0-2 2-2 0-2.1 2-2 0-2 2-2 0-2 2-2 0-2 2-2.1 0-2 2.1-2 0-2 2-2 0-2 2-2 0-2 2-2.1 0-2 2-2 0-2 2-2 0-2 2-2 0-2 2.1-2.1 0-2 2-2 0-2 2-2 0-2 2-2 0-2.1 2-2 0-2 2-2 0-2 2-2 0-2 2-4.1 0-2 2.1-2 0-2 2-2 0-2 2-2 0-2.1 2-2 0-1.9 2 7.4 4 2.6 1 8 1.4 14.1-0.1 18.2-2.1 18.1-3.8 30.2-8.4 20.1-6.9 20.1-8.1 20.2-9.2 16.1-8.2 14.1-7.9 14.1-9 22.1-15.5 27.7-21.8 18.6-13.6 6-5.2 10.1-9.8 2-1.7 0.8 0.1 0.5 2-1.3 3.2-6.6 10.9-4.3 8-1.6 4.1-1.6 6-12 24.4-2.1 4-16.8 26-2.1 4-9.7 22.1-2.3 4.1-11 8-10.1 8.1-27.3 14.1-9.1 4-34.4 12.4-46.3 11.8-50.7 10-46 6.1-36.1 3.8-16.2 1.6-34.2 2.1-4 0.5-8.1 0.4-8-1.5-10.1 0.1-10 0.8-12.1 1.6-6.1 1.2-2 0.2-4-0.4-2 0.6-9.2-3-331.1 0zM636.2 554.2l3.7 1.7 2-0.2 4-0.9 0.9-0.6 15.2-5 5.3-3 1.4-2.1 1.2-4-1.8 0-2 2-2 0-2.1 2-4 0-2 2.1-2 0-2 2-2 0-2 2-2.1 0-2 2-2 0-2 2z"/>
<path fill="#0063ff" d="M297.6 757.6l819.4 0 0-438.9-2 0-2 2-2 0-2 2-2 0-2 2-2.1 0-2 2-2 0-2 2-2 0-2 2-2 0-2 2.1-2.1 0-2 2-2 0-2 2-2 0-2 2-2 0-2.1 2-2 0-2 2-2 0-2 2-2 0-2 2-2 0-2.1 2.1-2 0-2 2-2 0-2 2-2 0-2 2-2.1 0-2 2-2 0-2 2-2 0-2 2-2 0-2 2.1-2.1 0-2 2-2 0-2 2-2 0-2 2-2 0-2 2-2.1 0-2 2-2 0-2 2-2 0-2 2-2 0-2.1 2.1-2 0-2 2-2 0-2 2-2 0-2 2-2 0-2.1 2-2 0-2 2-2 0-2 2-4 0-2.1 2.1-2 0-2 2-2 0-2 2-2 0-2 2-2 0-2.1 2-2 0-2 2-2 0-2 2-2 0-2 2-2.1 0-2 2.1-2 0-2 2-2 0-2 2-2 0-2 2-2.1 0-2 2-2 0-2 2-2 0-2 2-2 0-2.1 2.1-2 0-2 2-2 0-2 2-2 0-2 2-2 0-2.1 2-2 0-2 2-2 0-2 2-2 0-2 2-2.1 0-2 2.1-2 0-2 2-2 0-2 2-2 0-2 2-2.1 0-2 2-2 0-2 2-2 0-2 2-2 0-2 2.1-2.1 0-2 2-2 0-2 2-2 0-2 2-2 0-2.1 2-2 0-2 2-2 0-2 2-2 0-2 2-4.1 0-2 2.1-2 0-1.2 1.1 9.3 4.8 6 1.4 6 0.5 6.1 0 16.1-1.6 20.1-4 24.2-6.3 20.1-6.6 20.1-8.1 18.2-8.2 16.1-8.1 14.1-7.9 14.1-8.9 20.1-13.9 27-20.8 21.3-15.3 6-5.2 12.1-11.8 2-1.1 2.1-0.1 0.2 1.3-2.3 5.6-11.1 18.5-1.8 4.1-3.2 9.6-12 24.8-18.5 30-11.7 26-2.1 3-20.1 16.1-28.2 15-9.9 4.3-34.4 12.2-48.8 12-51.8 9.6-46.3 5.7-46.3 4.6-40.3 2.5-8.1 0.4-8-1.3-10.1 0.1-12.1 0.9-18.1 2.5-4-0.3-2 0.5-9.9-3.1-330.4 0zM636.5 554.2l3.4 1.5 2-0.2 14.1-4.4 6-2.4 4.3-2.5 1.6-2.1 1.4-4-1.2 0-2 2-2 0-2.1 2-4 0-2 2.1-2 0-2 2-2 0-2 2-2.1 0-2 2-2 0-2 2z"/>
<path fill="#006dff" d="M297.6 757.6l819.4 0 0-438.9-2 0-2 2-2 0-2 2-2 0-2 2-2.1 0-2 2-2 0-2 2-2 0-2 2-2 0-2 2.1-2.1 0-2 2-2 0-2 2-2 0-2 2-2 0-2.1 2-2 0-2 2-2 0-2 2-2 0-2 2-2 0-2.1 2.1-2 0-2 2-2 0-2 2-2 0-2 2-2.1 0-2 2-2 0-2 2-2 0-2 2-2 0-2 2.1-2.1 0-2 2-2 0-2 2-2 0-2 2-2 0-2 2-2.1 0-2 2-2 0-2 2-2 0-2 2-2 0-2.1 2.1-2 0-2 2-2 0-2 2-2 0-2 2-2 0-2.1 2-2 0-2 2-2 0-2 2-4 0-2.1 2.1-2 0-2 2-2 0-2 2-2 0-2 2-2 0-2.1 2-2 0-2 2-2 0-2 2-2 0-2 2-2.1 0-2 2.1-2 0-2 2-2 0-2 2-2 0-2 2-2.1 0-2 2-2 0-2 2-2 0-2 2-2 0-2.1 2.1-2 0-2 2-2 0-2 2-2 0-2 2-2 0-2.1 2-2 0-2 2-2 0-2 2-2 0-2 2-2.1 0-2 2.1-2 0-2 2-2 0-2 2-2 0-2 2-2.1 0-2 2-2 0-2 2-2 0-2 2-2 0-2 2.1-2.1 0-2 2-2 0-2 2-2 0-2 2-2 0-2.1 2-2 0-2 2-2 0-0.9 1 6.9 3.8 3.7 1.3 4.4 0.7 12.1 0.1 14.1-1.6 22.1-4.4 18.1-4.7 18.2-6.1 20.1-8.2 16.1-7.4 14.1-7.2 12.1-6.8 14.1-8.9 20.1-13.8 26.9-20.3 21.4-15 4-3.3 14.1-13.5 4.1-2.4 2-0.7 0.8 0.6-0.8 3.9-2.1 4.2-9 14.1-4.3 8-3.4 10.1-13.4 28.2-17.2 28.2-12.1 26.2-1.1 2-1.7 2-20.3 16.7-24.8 13.5-11.4 5.1-36.3 12.7-46.3 11-52.3 9.7-48.7 5.8-45.9 4.3-32.3 1.9-16.1 0.8-8-1.2-10.1 0.1-12.1 0.8-18.1 2.4-4-0.2-2 0.3-10.8-3.2-329.5 0zM636.8 554.2l3.1 1.4 2-0.2 18.1-6.3 5.4-2.9 1.7-2.1 1.6-4-0.6 0-2 2-2 0-2.1 2-4 0-2 2.1-2 0-2 2-2 0-2 2-2.1 0-2 2-2 0-2 2z"/>
<path fill="#0076ff" d="M297.6 757.6l819.4 0 0-438.9-2 0-2 2-2 0-2 2-2 0-2 2-2.1 0-2 2-2 0-2 2-2 0-2 2-2 0-2 2.1-2.1 0-2 2-2 0-2 2-2 0-2 2-2 0-2.1 2-2 0-2 2-2 0-2 2-2 0-2 2-2 0-2.1 2.1-2 0-2 2-2 0-2 2-2 0-2 2-2.1 0-2 2-2 0-2 2-2 0-2 2-2 0-2 2.1-2.1 0-2 2-2 0-2 2-2 0-2 2-2 0-2 2-2.1 0-2 2-2 0-2 2-2 0-2 2-2 0-2.1 2.1-2 0-2 2-2 0-2 2-2 0-2 2-2 0-2.1 2-2 0-2 2-2 0-2 2-4 0-2.1 2.1-2 0-2 2-2 0-2 2-2 0-2 2-2 0-2.1 2-2 0-2 2-2 0-2 2-2 0-2 2-2.1 0-2 2.1-2 0-2 2-2 0-2 2-2 0-2 2-2.1 0-2 2-2 0-2 2-2 0-2 2-2 0-2.1 2.1-2 0-2 2-2 0-2 2-2 0-2 2-2 0-2.1 2-2 0-2 2-2 0-2 2-2 0-2 2-2.1 0-2 2.1-2 0-2 2-2 0-2 2-2 0-2 2-2.1 0-2 2-2 0-2 2-2 0-2 2-2 0-2 2.1-2.1 0-2 2-2 0-2 2-2.1 0.1 8.1 4.4 4.1 1 4 0.6 10.2-0.1 18-2.1 16.1-3.1 16.1-4.4 16.1-5.6 18.1-7.5 16.1-7.5 14.1-7.3 12.1-7.1 14.1-9 16.1-11 26.9-19.9 21.4-14.7 18.1-16.4 8.1-5.4 1.2 0.2 0.4 2-1.5 4.1-4.5 8-6.7 10.1-4.6 8-2.6 6.1-1.9 6-14 29.7-16 26.7-12.2 26.2-2.7 4-19.5 16.8-23.3 13.4-12.9 6.1-36.3 12.6-49.4 11.5-53.2 9.4-40.8 4.7-43.8 4-56.4 3.4-8-1.2-12.1 0.1-10.1 0.6-18.1 2.4-6 0-11.8-3.3-328.5 0zM637.2 554.2l2.7 1.2 2-0.2 14.1-4.8 5.3-2.2 3.2-2 1.6-1.7 2-4.4-2 2-2 0-2.1 2-4 0-2 2.1-2 0-2 2-2 0-2 2-2.1 0-2 2-2 0-2 2z"/>
<path fill="#0080ff" d="M297.6 757.6l819.4 0 0-438.9-2 0-2 2-2 0-2 2-2 0-2 2-2.1 0-2 2-2 0-2 2-2 0-2 2-2 0-2 2.1-2.1 0-2 2-2 0-2 2-2 0-2 2-2 0-2.1 2-2 0-2 2-2 0-2 2-2 0-2 2-2 0-2.1 2.1-2 0-2 2-2 0-2 2-2 0-2 2-2.1 0-2 2-2 0-2 2-2 0-2 2-2 0-2 2.1-2.1 0-2 2-2 0-2 2-2 0-2 2-2 0-2 2-2.1 0-2 2-2 0-2 2-2 0-2 2-2 0-2.1 2.1-2 0-2 2-2 0-2 2-2 0-2 2-2 0-2.1 2-2 0-2 2-2 0-2 2-4 0-2.1 2.1-2 0-2 2-2 0-2 2-2 0-2 2-2 0-2.1 2-2 0-2 2-2 0-2 2-2 0-2 2-2.1 0-2 2.1-2 0-2 2-2 0-2 2-2 0-2 2-2.1 0-2 2-2 0-2 2-2 0-2 2-2 0-2.1 2.1-2 0-2 2-2 0-2 2-2 0-2 2-2 0-2.1 2-2 0-2 2-2 0-2 2-2 0-2 2-2.1 0-2 2.1-2 0-2 2-2 0-2 2-2 0-2 2-2.1 0-2 2-2 0-2 2-2 0-1.9 1.9 7.4 4.2 6.6 1.2 14.1 0.1 14.1-1.6 16.1-3.5 14.1-4.3 15.9-6 18.3-8 12.1-5.9 12-6.5 14.1-8.5 16.1-10.5 34.3-24.6 18.1-12 6-4.5 11-10.1 9.2-7 4-3.8 2-1.4 2 0 0.5 2.1-0.4 2-1.8 4-4.6 8.1-9.3 14.1-3.4 6-2.7 6.1-2.5 7.3-12 25.8-16.8 29.3-12.5 26.2-2.9 4.5-20.2 17.8-23.9 13.9-13.5 6-22.3 8.1-12.7 4-46.4 10.5-56.3 9.8-38.3 4.2-40.2 3.7-30.2 2.1-32.3 1.6-8-1.2-12.1 0.2-10.1 0.5-20.1 2.3-4-0.1-8.1-2.4-4.9-1-327.3 0zM637.5 554.2l2.4 1 2-0.2 16.1-5.7 5.7-3.1 1.9-2.1 1.5-3-1 1-2 0-2.1 2-4 0-2 2.1-2 0-2 2-2 0-2 2-2.1 0-2 2-2 0-2 2z"/>
<path fill="#0089ff" d="M297.6 757.6l819.4 0 0-438.9-2 0-2 2-2 0-2 2-2 0-2 2-2.1 0-2 2-2 0-2 2-2 0-2 2-2 0-2 2.1-2.1 0-2 2-2 0-2 2-2 0-2 2-2 0-2.1 2-2 0-2 2-2 0-2 2-2 0-2 2-2 0-2.1 2.1-2 0-2 2-2 0-2 2-2 0-2 2-2.1 0-2 2-2 0-2 2-2 0-2 2-2 0-2 2.1-2.1 0-2 2-2 0-2 2-2 0-2 2-2 0-2 2-2.1 0-2 2-2 0-2 2-2 0-2 2-2 0-2.1 2.1-2 0-2 2-2 0-2 2-2 0-2 2-2 0-2.1 2-2 0-2 2-2 0-2 2-4 0-2.1 2.1-2 0-2 2-2 0-2 2-2 0-2 2-2 0-2.1 2-2 0-2 2-2 0-2 2-2 0-2 2-2.1 0-2 2.1-2 0-2 2-2 0-2 2-2 0-2 2-2.1 0-2 2-2 0-2 2-2 0-2 2-2 0-2.1 2.1-2 0-2 2-2 0-2 2-2 0-2 2-2 0-2.1 2-2 0-2 2-2 0-2 2-2 0-2 2-2.1 0-2 2.1-2 0-2 2-2 0-2 2-2 0-1.1 1.1 4.7 2.9 4.3 2 6.2 1.4 8 0.3 12.1-1.2 12.1-2.3 14.1-4.1 16.1-6.1 18.1-7.8 12.1-5.9 12-6.5 26.2-16.4 34.2-24.1 18.2-11.8 6-4.4 12.1-10.5 9.7-7.3 4.4-5.4 2-1.9 2-1 2.1 0.3 1.9 1 0.3 1-0.7 2-5.4 10.1-15.5 24.1-3.8 8.1-2.8 8-12.3 26.5-16.8 29.9-11.5 24.2-3.9 5.7-18.2 16.6-6 4-16.8 9.9-13.4 6.3-21.2 7.8-12.4 4-25.3 6.1-28.9 6-46.8 8-14.4 2-38.2 3.8-46.3 3.8-48.4 2.5-8-1.1-14.1 0.2-10.1 0.6-18.1 2-4-0.2-8.1-2.3-6.3-1.2-325.9 0zM637.8 554.2l2.1 0.8 2-0.1 13.2-4.7 4.5-2 3.3-2 2-2.1 1.3-2.1-2.1 0.1-2.1 2-4 0-2 2.1-2 0-2 2-2 0-2 2-2.1 0-2 2-2 0-2 2z"/>
<path fill="#0092ff" d="M297.6 757.6l819.4 0 0-438.9-2 0-2 2-2 0-2 2-2 0-2 2-2.1 0-2 2-2 0-2 2-2 0-2 2-2 0-2 2.1-2.1 0-2 2-2 0-2 2-2 0-2 2-2 0-2.1 2-2 0-2 2-2 0-2 2-2 0-2 2-2 0-2.1 2.1-2 0-2 2-2 0-2 2-2 0-2 2-2.1 0-2 2-2 0-2 2-2 0-2 2-2 0-2 2.1-2.1 0-2 2-2 0-2 2-2 0-2 2-2 0-2 2-2.1 0-2 2-2 0-2 2-2 0-2 2-2 0-2.1 2.1-2 0-2 2-2 0-2 2-2 0-2 2-2 0-2.1 2-2 0-2 2-2 0-2 2-4 0-2.1 2.1-2 0-2 2-2 0-2 2-2 0-2 2-2 0-2.1 2-2 0-2 2-2 0-2 2-2 0-2 2-2.1 0-2 2.1-2 0-2 2-2 0-2 2-2 0-2 2-2.1 0-2 2-2 0-2 2-2 0-2 2-2 0-2.1 2.1-2 0-2 2-2 0-2 2-2 0-2 2-2 0-2.1 2-2 0-2 2-2 0-2 2-2 0-2 2-2.1 0-1 1.1 5.1 4.4 2 1 4 1.1 8.1 0.6 12-1.1 12.1-2.5 10.1-3.1 19.2-7.5 17-7.5 16.1-8.3 20.6-12.4 15.7-10.2 26.1-18.4 18.2-11.7 8-6.1 9.5-7.9 8.7-6.1 1.9-2 4.1-7.5 2-2.3 2-1.3 2-0.2 2-1 2-0.1 2.1 1.6 0.8 2.8-0.2 2-1.1 2-5.6 7.2-7.9 12.9-7.1 10.1-3.7 6-2.9 6.1-3.9 10-12.7 27.8-15.8 28.6-11.6 24.2-4.1 6-14.6 14.1-4.3 3.6-20.1 12.6-7.5 3.9-8.6 3.7-30.2 10.7-14.4 3.7-38.3 8.1-60.6 10.1-43.7 4.2-46.3 3.7-24.2 1.3-24.2 1.1-8-1.1-16.1 0.3-26.2 2.4-4-0.2-8.1-2.4-8.6-1.3-21.6 0.6-34.2-0.6-267.8 0zM638.2 554.2l1.7 0.6 2-0.1 14.1-5.2 6.1-3.3 2.2-2.1 1.3-2-1.5 0-2.1 2-4 0-2 2.1-2 0-2 2-2 0-2 2-2.1 0-2 2-2 0-2 2z"/>
<path fill="#009cff" d="M297.6 757.6l819.4 0 0-438.9-2 0-2 2-2 0-1.6 1.6 1.1 6.4-0.3 4.1-0.8 2-1.6 2-4.9 3.9-2 2.4-19 27.9-4.1 8.1-3.9 10-13.2 29.1-15.8 29.3-10.7 22.2-4 6-17.8 17.4-6.1 4.4-16.1 10-6 3.2-8.1 3.5-22.1 8.2-10.1 3.2-18.4 4.5-29.4 6-47.6 8-19.4 2.9-58.3 5.2-30.2 2.3-24.2 1.3-24.2 0.9-8-0.9-16.1 0.2-26.2 2.3-4-0.3-10.1-2.7-8-0.9-20.2 0.7-34.2-0.5-267.8-0.1zM638.7 554.2l1.2 0.5 3-0.5 13.1-5.1 5.4-2.9 2.2-2.1 1.4-2-0.9 0-2.1 2-4 0-2 2.1-2 0-2 2-2 0-2 2-2.1 0-2 2-2 0-2 2zM895.4 439.5l6.2 0.5 8.1-0.5 8-1.4 8.1-2.2 12.8-4.5 19.4-7.8 10.1-4.6 10-5.2 18-10.6 16.3-10.2 28.1-19.5 22.2-14.6 14.1-11.1 10-6.7 1.1-2.3 1.7-6.8-0.7 0.8-2.1 0-2 2-2 0-2 2-2 0-2 2-2 0-2.1 2-2 0-2 2-2 0-2 2-2 0-2 2-2 0-2.1 2.1-2 0-2 2-2 0-2 2-2 0-2 2-2.1 0-2 2-2 0-2 2-2 0-2 2-2 0-2 2.1-2.1 0-2 2-2 0-2 2-2 0-2 2-2 0-2 2-2.1 0-2 2-2 0-2 2-2 0-2 2-2 0-2.1 2.1-2 0-2 2-2 0-2 2-2 0-2 2-2 0-2.1 2-2 0-2 2-2 0-2 2-4 0-2.1 2.1-2 0-2 2-2 0-2 2-2 0-2 2-2 0-2.1 2-2 0-2 2-2 0-2 2-2 0-2 2-2.1 0-2 2.1-2 0-2 2-2 0-2 2-2 0-2 2-2.1 0-2 2-2 0-2 2-2 0-2 2-2 0-2.1 2.1-2 0-2 2-2 0-2 2-2 0-2 2-2 0-2.1 2-2 0-2.1 2 4.5 4z"/>
<path fill="#00a5ff" d="M297.6 757.6l819.4 0 0-438.9-2 0-0.4 0.4 0.5 5.6-0.3 6-0.8 4.1-1.1 2-1.9 1.4-6 2.4-2.1 1.7-4 5-7.7 11.6-7.4 10.1-2.4 4-3 6.1-4 10-13.7 30.4-14.9 28-10.8 22.2-4.5 6.8-12.1 12.5-5.2 4.8-4.9 3.6-16.3 10.5-7.4 4-6.5 2.8-31.1 11.3-16.4 4.1-29.5 6-23.1 4-50.9 7.9-78.5 6.3-32.2 1.8-24.2 0.9-8-0.9-16.1 0.2-26.2 2.1-4-0.3-10.1-2.6-8-0.9-20.2 0.9-34.2-0.6-267.8 0zM639.2 554.2l0.7 0.3 2.4-0.3 15.1-6 4.6-3.2 2.4-2.9-2.4 2-4 0-2 2.1-2 0-2 2-2 0-2 2-2.1 0-2 2-2 0-2 2zM903.5 433.4l4.2 0.8 6 0 6-0.8 7.7-2 28.6-10.3 12.1-5.3 8.8-4.5 17.4-10.1 20.1-12.3 44-30 16.4-13.1 6-4.2 2.1-0.8 1.6-2-1.5-4-2.2 2-2.2 0.1-1.8 1.9-2 0-2.1 2-2 0-2 2-2 0-2 2-2 0-2 2-2 0-2.1 2.1-2 0-2 2-2 0-2 2-2 0-2 2-2.1 0-2 2-2 0-2 2-2 0-2 2-2 0-2 2.1-2.1 0-2 2-2 0-2 2-2 0-2 2-2 0-2 2-2.1 0-2 2-2 0-2 2-2 0-2 2-2 0-2.1 2.1-2 0-2 2-2 0-2 2-2 0-2 2-2 0-2.1 2-2 0-2 2-2 0-2 2-4 0-2.1 2.1-2 0-2 2-2 0-2 2-2 0-2 2-2 0-2.1 2-2 0-2 2-2 0-2 2-2 0-2 2-2.1 0-2 2.1-2 0-2 2-2 0-2 2-2 0-2 2-2.1 0-2 2-2 0-2 2-2 0-2 2-2 0-2.1 2.1-2 0-2 2-2 0-2 2-2.2 0.2 4.2 3.9z"/>
<path fill="#00afff" d="M297.6 757.6l818.1 0 0-72.5-0.4-12.1 1.1-12.1 0.6-12.9 0-305.6-2 0.3-8-1.4-2 0.7-6.1 6.7-6.9 10.2-7.6 10.1-5.4 10.1-4.1 10-14.2 31.7-15 28.7-9.8 20.2-3.4 5.4-4 4.7-11.6 12-4.5 4-22.2 14.6-7.1 3.5-9 3.7-22.1 8.1-7.9 2.3-27.7 6.1-21.5 4-67.8 10.5-44 3.6-60.7 4-30.2 1-8-0.8-16.1 0.2-26.2 1.9-4-0.3-10.1-2.5-8-0.9-22.2 1-30.2-0.6-269.8 0zM639.7 554.2l2.2 0 2-0.7 12.8-5.3 3.3-2 3-3-1 0.9-4 0-2 2.1-2 0-2 2-2 0-2 2-2.1 0-2 2-2 0zM912.2 427.4l3.5 0.8 6.1-0.4 16.1-4.3 23.3-8.2 8.9-3.9 7.9-4.2 37.4-22.1 34.4-24.2 5-4 4.2-4 2.9-4 1.3-4.1-0.5 0-2 2-2 0-2.1 2.1-2 0-2 2-2 0-2 2-2 0-2 2-2.1 0-2 2-2 0-2 2-2 0-2 2-2 0-2 2.1-2.1 0-2 2-2 0-2 2-2 0-2 2-2 0-2 2-2.1 0-2 2-2 0-2 2-2 0-2 2-2 0-2.1 2.1-2 0-2 2-2 0-2 2-2 0-2 2-2 0-2.1 2-2 0-2 2-2 0-2 2-4 0-2.1 2.1-2 0-2 2-2 0-2 2-2 0-2 2-2 0-2.1 2-2 0-2 2-2 0-2 2-2 0-2 2-2.1 0-2 2.1-2 0-2 2-2 0-2 2-2 0-2 2-2.1 0-2 2-2 0-2 2-2 0-2 2-2 0-1.2 1.2 3.2 3.3z"/>
<path fill="#00b8ff" d="M297.6 757.6l812.3 0-0.4-8.1 1.6-44.3 0.3-34.2 3.3-26.2 2.3-45 0-236-0.4-6.9-1.6-6.3-2.7-3.8-2-2-3.3-1.8-2 0.7-6.1 6.3-6.2 8.9-7.7 10.1-6.2 11.8-16.1 37.1-25.9 51.8-5.5 8-12.9 14.1-4 3.7-6.1 4.4-14.1 9.5-6 3.5-6.7 3.1-10.6 4-16.9 6.3-8.1 2.4-24.7 5.4-21.2 4-72.9 11.2-38.2 3-64.4 4.1-32.3 1.1-8-0.7-16.1 0.1-26.2 1.7-4-0.3-10.1-2.4-8-0.8-22.2 1-30.2-0.5-269.8-0.1zM641.9 552.2l-1.9 1.9 3.9-0.8 7.8-3.1 6.3-3.2 3.7-2.9-3.7 0-2 2.1-2 0-2 2-2 0-2 2-2.1 0-2 2zM919 417.3l2.8 1.2 4 0.5 12.1-1.4 16.8-4.3 9.3-3.2 6.5-2.9 32-18.1 16.5-10 18-14.1 5.5-6.1 2.5-4.5-0.4 0.5-2.1 0-2 2-2 0-2 2-2 0-2 2-2 0-2 2.1-2.1 0-2 2-2 0-2 2-2 0-2 2-2 0-2 2-2.1 0-2 2-2 0-2 2-2 0-2 2-2 0-2.1 2.1-2 0-2 2-2 0-2 2-2 0-2 2-2 0-2.1 2-2 0-2 2-2 0-2 2-4 0-2.1 2.1-2 0-2 2-2 0-2 2-2 0-2 2-2 0-2.1 2-2 0-2 2-2 0-2 2-2 0-2 2-2.1 0-2 2.1-2 0-2 2-2 0-2 2-2 0-2 2-2.1 0-1.5 1.6z"/>
<path fill="#00c2ff" d="M297.6 757.6l809.6 0-0.2-10.1 2.7-78.5 5.3-48.2 0.9-16.3 1.1-13 0-209.5-0.8-15-1.3-6.1-0.6-6-0.8-2-5.1-6.1-1.4-1.2-2 0.2-2.1 1.4-4 4.2-5.3 7.5-8.1 10.1-2.4 4-3.9 8.1-16.5 38.1-25 50.5-5.5 8-12.5 14.1-4.2 4-5.2 4-16.1 11.1-5.3 3-9.4 4.1-23.5 8.8-10.1 3.1-40.7 8.2-80.1 12-100.6 6.6-32.3 1-8-0.6-18.1 0.2-24.2 1.4-4-0.3-10.1-2.3-8-0.8-22.2 1.2-30.2-0.6-269.8 0zM641.9 552.2l-1.6 1.7 3.6-0.8 7.2-2.9 6.9-3.6 3.1-2.5-3.1 0-2 2.1-2 0-2 2-2 0-2 2-2.1 0-2 2zM939.9 405.2l8 1.7 4.1 0.1 10-1.5 6.4-2.3 45.9-26.2 6.3-6 4.2-6.4-0.4 0.4-2 0-2 2-2 0-2 2-2 0-2 2-2.1 0-2 2-2 0-2 2-2 0-2 2-2 0-2.1 2.1-2 0-2 2-2 0-2 2-2 0-2 2-2 0-2.1 2-2 0-2 2-2 0-2 2-4 0-2.1 2.1-2 0-2 2-2 0-2 2-2 0-2 2-2 0-2.1 2-2 0-2 2-2 0-2 2z"/>
<path fill="#00cbff" d="M297.6 757.6l807.7 0-0.1-12.1 3.2-76.5 3.6-38.3 2.3-14.1 2.7-33.1 0-159.7-0.4-30.6-1.1-22.2-0.6-4-2.3-6.1 0-6-1.2-2-4.4-4.5-2-0.6-2.1 0.9-4 4-4.5 6.2-8.3 10.1-2.4 4-4 8.1-19 43.6-21 42.9-3.6 6.1-3 4-12.7 14.8-3.4 3.3-4.6 3.7-16.2 11.4-6 3.7-12.8 5.4-23.4 8.7-6.1 1.8-42.3 8.4-78.5 11.6-38.2 2.7-64.4 3.9-32.3 0.9-8-0.6-18.1 0.1-24.2 1.3-4-0.3-10.1-2.2-8-0.8-22.2 1.3-30.2-0.6-269.8 0zM641.9 552.2l-1.4 1.4 3.4-0.7 6.6-2.7 5.5-2.8 4.5-3.3-2.5 0-2 2.1-2 0-2 2-2 0-2 2-2.1 0-2 2zM968.1 391.1l-1.6 1.6 3.2-1.6z"/>
<path fill="#00d4ff" d="M297.6 757.6l806.1 0-0.2-10.1 1.3-36.3 2.6-42.2 3.1-38.3 2.8-14.1 1.2-14.1 1.7-14.1 0.7-16.1 0.1-117.5-0.9-59.6-0.4-10.1-1.1-12.1-1.1-6-2.7-6.1-0.1-2 0.7-2-0.2-2-1.4-2-2.8-2.6-2-0.8-2.1 0.6-4 3.9-5.2 6.9-7 8.1-2.4 4-4 8.1-17.6 40.7-9.2 19.7-12.9 26.1-2.3 4.1-3.8 5.4-14.1 16.8-4 3.8-4 3-16.2 11.6-6 3.7-6 2.6-30.2 11.3-6.1 1.8-44.3 8.4-78.5 11.2-100.6 6.1-32.3 0.8-8-0.5-18.1 0.1-22.2 1.1-6-0.3-8.1-1.8-10-1-22.2 1.4-30.2-0.7-269.8 0zM641.9 552.2l-1.2 1.2 4.5-1.2 8.8-4 3.4-2 2.5-2.1-1.9 0-2 2.1-2 0-2 2-2 0-2 2-2.1 0-2 2z"/>
<path fill="#00deff" d="M297.6 757.6l804.6 0-0.3-10.1 1.5-36.3 5.9-80.5 3.3-16.1 1-12.1 1.2-6 1.2-12.1 0.5-14.1 0.5-72.5-0.3-40.2-1-56.4-0.5-14.1-0.8-8-1.6-10.1-3.1-8.1 0-2 0.7-2-0.2-2-3.2-3.2-2-0.8-2.1 0.5-2 1.7-6.4 7.8-5.6 6.2-2.9 3.9-9.8 20.1-10.9 26.2-10 22.2-13.8 28.1-3.6 6.1-2.9 4-14.6 17.7-6 5.1-18.2 13.2-4 2.5-8.5 3.8-33.8 12.3-42.2 8-82.6 11.6-100.6 5.8-32.3 0.8-8-0.5-20.1 0.2-20.2 0.9-6-0.4-8.1-1.7-10-1-22.2 1.5-30.2-0.7-269.8 0zM641.9 552.2l-0.9 0.9 3.7-0.9 8.7-4 5.9-4.1-1.3 0-2 2.1-2 0-2 2-2 0-2 2-2.1 0-2 2z"/>
<path fill="#00e7ff" d="M297.6 757.6l803.1 0-0.2-10.1 1.5-36.3 3.3-38.2 3.1-42.3 1.7-10 1.4-6.1 1.2-8 0.1-4.1 1.3-6 1.4-12.1 0.6-14.1 0.7-64.4-0.4-48.3-1.2-54.4-0.6-14.1-0.7-8-1.7-10.1-3.6-10.1 0.1-2 1-2-0.5-2-2.2-2-2-0.8-2.1 0.6-2 1.8-5.4 6.4-6.6 7-2.3 3.1-10 20.1-10.8 26.2-10.6 24.2-12.8 26.1-5 8.1-16.1 20.1-4.9 4.4-18.1 13.5-6.1 3.8-6 2.8-32.2 11.9-4.1 1.2-42.2 7.7-82.6 11.4-100.6 5.5-32.3 0.8-8-0.5-20.1 0.2-20.2 0.7-6-0.4-8.1-1.7-10-0.8-22.2 1.6-30.2-0.8-269.8 0zM641.9 552.2l-0.7 0.7 2.7-0.6 4.9-2.1 5.2-2.7 4.7-3.4-0.7 0-2 2.1-2 0-2 2-2 0-2 2-2.1 0-2 2z"/>
<path fill="#00f1ff" d="M297.6 757.6l801.7 0-0.3-10.1 1.8-38.3 3.6-36.2 3.1-42.3 1.3-10 1.6-6.1 0.4-4 1-4 0-4.1 1.7-6 1.4-10.1 0.8-14.1 0.4-18.1 0.4-46.3-0.3-34.2-1.5-70.5-0.7-14.1-0.9-8-1.9-10.1-3.5-10.1 0.3-2 0.9-2-0.9-2-1-0.9-2-0.6-2.1 0.8-14 14.5-2.1 2.8-10 20.4-20.7 49.6-12.7 26.1-5 8.1-16 20.4-6 5.3-18.1 13.6-6.1 3.8-6 2.6-34.7 12.7-43.8 7.9-82.6 11-100.6 5.3-32.3 0.7-6-0.4-22.1 0.2-20.2 0.5-6-0.3-8.1-1.7-10-0.8-22.2 1.7-30.2-0.8-269.8 0zM641.9 552.2l-0.5 0.5 2-0.5zM645.9 550.2l-1.7 1.7 8-3.7 3.4-2-1.6 0-2 2-2 0-2 2z"/>
<path fill="#00faff" d="M297.6 757.6l800.4 0-0.4-10.1 1.9-38.3 4-36.2 3.1-42.3 1.1-10 1.5-6.1-0.2-2 0.4-2 1.6-4-0.5-2.1 0.3-2 1.6-4 2-12.1 1.1-24.1 0.7-56.4-0.5-46.3-1.2-48.3-1-20.2-1.1-10-2.1-10.1-3.6-10.1 1.3-4-1-1.8-2.5-0.2-13.6 12.6-2 2.1-2.1 3-10 20.3-19.8 48.6-12.7 26.1-4.9 8.1-17 21.9-4 3.6-20.1 15.2-5.9 3.6-4.5 2-35.9 13-42.3 7.5-84.6 11.1-100.6 5.1-32.3 0.6-8-0.4-40.3 0.6-6-0.4-8.1-1.6-10-0.7-22.2 1.7-30.2-0.8-269.8 0zM641.9 552.2l-0.2 0.2 1-0.2zM645.9 550.2l-1.3 1.3 3-1.3zM650 548.2l-1.7 1.7 3.4-1.7zM654 546.2l-1.5 1.5 2.5-1.5z"/>
<path fill="#00fffa" d="M297.6 757.6l799 0-0.4-10.1 2-38.3 4.4-36.2 3.2-42.3 0.9-10 1.2-6.1-0.3-2 2.2-6-1-2.1 3-6 2.2-12.1 0.9-14.1 0.5-18.1 0.4-46.3-0.2-34.2-1.6-62.4-1.1-20.2-1.3-10-2.3-10.1-4-10.1-0.1-2 1.9-2-2.1-0.2-0.9 2.2-3.2 1.1-2 1.2-8 7.1-2 2.2-1.7 2.5-10.1 20.2-19.2 48.3-12.6 26.1-4.9 8.1-16.9 22.1-4.4 4.1-20.8 15.9-4.1 2.5-6 2.7-36.2 13.1-42.3 7.2-84.6 10.8-100.6 4.9-32.3 0.5-6-0.3-42.3 0.4-6-0.4-8.1-1.5-10-0.7-22.2 1.9-30.2-0.9-269.8 0zM645.9 550.2l-0.8 0.9 2-0.9zM650 548.2l-1.2 1.1 2.3-1.1zM654 546.2l-0.6 0.6 1-0.6z"/>
<path fill="#00fff1" d="M297.6 757.6l797.5 0-0.3-10.1 2-38.3 4.8-36.2 3.4-42.3 1.6-14.1 0-4 1.9-6-0.8-2.1 3.4-6 2.4-12.1 1.3-24.1 0.7-56.4-0.4-40.3-1.2-46.3-2-32.2-1.9-10.1-1.5-6-1.5-4-2-3.8-2.1-1.7-2 0.1-4 2.4-6 5.2-2 2.2-11.3 21.8-19.7 50.3-12.6 26.2-3.8 6-18.5 24.2-22.7 17.8-6.1 3.8-6 2.7-36.2 12.9-42.4 7-84.5 10.5-100.6 4.7-32.3 0.5-6-0.3-42.3 0.2-6-0.4-8.1-1.4-10-0.6-8.1 0.5-8 1.2-6.1 0.3-30.2-1-269.8 0zM645.9 550.2l-0.4 0.4 1-0.4zM650 548.2l-0.6 0.5 1.1-0.5z"/>
<path fill="#00ffe7" d="M297.6 757.6l796 0-0.3-10.1 2.1-38.3 5.5-39.3 4.2-49.2 0.9-8.1 1-4-0.2-4.1 3.7-6 2.2-10.1 1.3-14.1 0.5-12 0.7-56.4-0.4-40.3-1.3-46.3-1.2-20.1-1.1-12.1-1.5-8-2.1-8.1-1.6-4-1-2-2.1-1.8-2-0.2-2 0.8-4 2.9-4 3.4-2 2.4-10.8 20.7-19.2 50.3-11.5 24.1-4.8 8.1-18.2 24.1-4 3.6-18.8 14.6-7.4 4.7-6 2.7-36.2 12.7-42.3 6.8-84.6 10.2-100.6 4.5-32.3 0.4-46.3-0.1-8-0.5-8.1-1.4-10-0.4-8.1 0.5-8 1.2-6.1 0.3-30.2-1-269.8 0z"/>
<path fill="#00ffde" d="M297.6 757.6l794.5 0-0.2-12.1 2-36.3 6.3-42.2 3.2-36.3 2-18.1 1-4 0-4.1 0.6-1.5 2.9-4.5 2.7-12.1 1.1-14.1 0.7-18.1 0.5-56.4-0.6-38.2-1.2-40.3-1.3-20.1-1.2-12.1-2.1-10.1-1.8-6-1.6-4-2.2-2.3-2-0.4-2 0.7-6 4.2-2.1 1.8-1.9 2.7-10.3 19.5-18.8 50.3-10.2 22.1-5.8 10.1-18.1 24.2-5.3 4.9-18.1 14.1-6.1 4-8 3.6-32.2 11.4-4 1.1-42.3 6.7-84.6 10-100.6 4.3-32.3 0.3-46.3-0.2-10-0.8-6.1-1.1-10-0.4-8.1 0.6-8 1.3-6.1 0.3-30.2-1.1-269.8 0z"/>
<path fill="#00ffd4" d="M297.6 757.6l792.9 0-0.2-12.1 2.1-36.3 6.5-41 3.7-37.5 2.2-18.1 1-4 0.2-4.1 0.7-2 2.6-4 2.9-12.1 1.5-24.1 0.9-56.4-0.5-40.3-1.2-40.2-1.3-22.2-1.4-14.1-1.9-10-3.3-10.3-2.1-2.7-2-0.5-2 0.5-6 4-2 1.9-2 2.9-10.1 18.9-18.8 51.7-9.3 20.1-5.7 10.1-18.6 24.8-4 4-17.2 13.5-9 6.1-8 3.5-30.2 10.6-6 1.8-42.3 6.5-84.6 9.7-100.6 4.1-32.3 0.3-38.2-0.2-10.1-0.3-14.1-1.7-10-0.3-8.1 0.6-8 1.3-6.1 0.4-30.2-1.2-269.8 0z"/>
<path fill="#00ffcb" d="M297.6 757.6l791.3 0-0.1-14.1 1.4-26.2 0.9-10.1 6.2-36.2 4.4-40.3 3.8-26.2 0.8-2 2.4-4 3.1-12.1 1.3-18.1 0.8-22.1 0.4-40.3-0.5-40.3-1.1-36.2-1.3-22.2-1.8-18.1-2-10-2.6-8-2.1-3.4-2-0.8-2 0.4-6 3.8-2 2-2 3.1-6.1 10.7-4 8.1-8.1 22.1-9.7 28.4-9 20.1-5.7 10.1-19.7 26.2-4.2 3.9-18 14.2-8.2 5.3-8 3.5-34.2 11.6-44.3 6.9-84.6 9.4-100.6 3.9-64.5 0.2-14.1-0.4-10-0.9-4.1-0.7-12-0.5-8.1 0.7-8 1.4-6.1 0.4-30.2-1.2-269.8 0z"/>
<path fill="#00ffc2" d="M297.6 757.6l789.7 0-0.1-14.1 1.3-26.2 1-10.1 6.7-38.2 3.8-32.2 5.1-32.3 0.7-2 2.3-4 3.3-12.1 1.4-18.1 0.8-22.1 0.4-38.3-0.5-40.3-1.1-36.2-1.3-22.1-1.8-18.2-1.9-10-2.6-8.1-1.9-3.4-2-1.2-2 0.2-4 2-2 1.5-2 2.2-2 3.2-6.1 10.5-4 8.3-8.1 22.8-8.6 26.4-8.9 20.1-5.6 10.1-19.6 26.2-5.6 5.3-13.6 10.8-6.5 4.9-5.2 3.1-10.9 4.6-32.2 10.8-44.3 6.7-84.6 9.1-100.6 3.8-64.5 0.2-14.1-0.6-16.1-1.7-10-0.3-8.1 0.8-8 1.4-6.1 0.4-30.2-1.3-269.8 0z"/>
<path fill="#00ffb8" d="M297.6 757.6l788 0-0.1-14.1 1.4-26.2 0.9-10.1 7.1-38.9 4.5-33.6 5.3-30.2 2.9-6 3.4-12.1 1.4-18.1 0.8-20.1 0.5-40.3-0.5-40.3-1.3-38.2-1.3-20.1-2.2-20.2-1.7-8-3-8.1-0.8-1.4-2-1.6-2-0.1-4 1.8-2 1.6-2 2.3-6.1 10-4 7.3-2 4.7-6.1 17.7-9.5 30.2-3.2 8.1-4.5 10-4.1 8.1-3.8 6-19.1 25.2-5.3 5-10.8 8.8-8.1 6.1-6 3.8-6.1 2.9-6 2.3-24.7 8.3-7.5 2.2-44.3 6.6-84.6 8.8-100.6 3.6-64.5 0.2-14.1-0.7-14.1-1.6-12-0.2-8.1 0.7-8 1.5-6.1 0.3-30.2-1.3-269.8 0z"/>
<path fill="#00ffaf" d="M297.6 757.6l786.4 0-0.1-14.1 1.3-26.2 1-10.1 7.4-40.2 4.4-30.2 6.3-32.3 3.4-8 3-10.1 1.3-18.1 0.9-20.1 0.5-40.3-0.6-40.3-1.2-36.2-1.5-22.1-2.1-18.2-1.5-8-2.8-8.1-0.8-1.4-2-2-2-0.4-2 0.5-2 1.1-2 1.7-2 2.4-6.1 9.8-3.6 6.5-2.5 6-6 18.1-9.1 30.2-7.7 18.1-3.1 6.1-3.8 6-20 26.2-6.6 6.1-12.1 9.7-6 4.5-6 3.6-6.1 2.9-6 2.2-24.2 8.1-8 2.3-44.3 6.3-84.6 8.6-100.6 3.4-62.5 0.2-16.1-0.8-6-1-8.1-0.6-12-0.1-8.1 0.7-8 1.6-6.1 0.3-30.2-1.3-269.8 0z"/>
<path fill="#00ffa5" d="M297.6 757.6l784.7 0-0.1-14.1 1.4-28.2 1.2-10.1 7.9-42.3 5.5-32.2 5.1-22.1 0.6-4.1 2.6-6 3.9-12.1 1.2-18.1 0.9-20.1 0.6-40.3-0.6-40.3-1.3-36.2-1.6-22.1-2.2-18.2-2.2-10-2.3-5.6-2-2.3-2-0.6-2 0.4-2 1.1-2 1.7-2 2.5-8.1 13-2.7 5.9-3.6 10-12.5 42.3-5.8 14.1-4 8.1-3.7 6-20 26.2-6.1 5.9-12 9.8-8.1 5.9-6 3.6-6.1 2.7-8 3-22.2 7.2-7.7 2.1-8.4 1.5-34.3 4.6-84.5 8.3-102.6 3.5-62.5 0.1-16.1-0.9-6-1.1-10.1-0.6-12 0.2-5.3 0.6-8.8 1.6-8.1 0.4-28.2-1.3-269.8 0z"/>
<path fill="#00ff9c" d="M297.6 757.6l783 0-0.1-14.1 1.4-28.2 1.1-10.1 12.9-68.4 6.9-28.2 0.7-4.1 2.5-6 1.8-6 2.2-6.1 1.2-16.1 1-22.1 0.6-40.3-0.6-38.2-1.2-34.4-1.7-24-2.2-18.1-2-10.1-2.2-5.5-2-2.7-2-0.8-2 0.2-2 1.1-2 1.7-2 2.5-8.1 12.8-2.9 6.8-3.4 10.1-11.3 40.2-5.6 14.1-3.9 8.1-3.6 6-20.2 26.2-5.5 5.6-8 6.8-10.1 7.8-8 5.1-6.1 3-8 3-30.2 9.5-10.1 1.8-34.2 4.5-84.6 8-102.6 3.3-62.5 0.2-16.1-1.1-6-1.2-10.1-0.5-12 0.3-14.1 2.3-8.1 0.5-28.2-1.5-269.8 0z"/>
<path fill="#00ff92" d="M297.6 757.6l781.4 0-0.3-10.1 1.6-34.2 2.4-16.1 4.4-24.2 7.6-36.2 9-34.3 1.9-4 1.7-6 1.8-4.1 0.8-4 1.9-34.2 0.7-38.3-0.9-50.3-1.3-32.2-1.5-18.1-3-22.2-1.5-6-1.4-3.5-2-2.9-2-1-2 0.1-2 0.9-4 4.3-6.7 10.1-3 6.1-2.4 6.7-4 13.8-7.8 29.8-2.7 8.1-4.1 10-4.1 8.1-3.8 6-19.8 25.3-6.1 6-10 8.4-8.9 6.6-7.2 4.5-6.1 2.9-8 3-20.2 6.5-10 2.8-10.1 1.7-34.2 4.3-84.6 7.8-102.6 3.2-62.5 0.1-16.1-1.2-6-1.3-4 0.1-4.1-0.5-14 0.4-14.1 2.5-8.1 0.4-28.2-1.5-269.8 0z"/>
<path fill="#00ff89" d="M297.6 757.6l779.8 0-0.3-10.1 1.7-36.3 6-36.2 8.8-38.2 8.3-28.2 1.4-6.1 1.8-4 1.8-6 1.8-4.1 0.9-4 1.8-34.2 0.8-38.3-0.8-48.3-1.4-32.2-1-14.1-3.2-24.1-1.2-6.1-1.7-5.4-2-3.1-2-1.3-2-0.1-2 1-4 4.1-6.1 8.9-3 6-2.8 8-4.2 15.5-6.6 26.8-2.5 8.1-4.1 10-3.9 8.1-3.7 6-20.8 26.2-6.8 6.7-10 8.3-8.1 6-8 4.8-6.1 2.8-8 3-20.9 6.6-9.3 2.5-10.1 1.7-34.2 4.2-84.6 7.5-102.6 3.1-62.5 0.1-16.1-1.4-6-1.3-4 0.1-4.1-0.5-14 0.6-14.1 2.5-8.1 0.4-28.2-1.5-269.8 0z"/>
<path fill="#00ff7f" d="M297.6 757.6l778.2 0-0.3-10.1 1.6-36.3 6.2-38.2 9-36.2 7.3-22.2 3.2-12.1 1.8-4 1.8-6 2-4.1 0.9-4 0-4 1.8-30.2 0.8-38.3-0.9-48.3-1.4-32.2-1.1-14.1-1.5-12.7-2-12.5-2.5-9-1.6-2.7-2-1.5-2-0.1-2 0.9-4 3.9-6.5 9.6-2.8 6-2 6-3.2 12.1-7 30.2-2.7 8.8-4 10.2-4 8.3-4.1 6.4-19.8 24.7-6.3 6.5-9 7.6-9.2 6.9-8.3 5.2-7.8 3.6-8 3-20.2 6.3-10 2.6-10.1 1.6-34.2 4.1-84.6 7.3-102.6 2.8-62.5 0.1-10-0.6-8.1-1.2-4-1-4 0.1-4.1-0.4-14 0.7-14.1 2.5-8.1 0.4-28.2-1.5-269.8 0z"/>
<path fill="#00ff76" d="M297.6 757.6l776.6 0-0.3-10.1 1.6-36.3 6-38.2 1.8-8.1 7.8-28.1 7.8-22.1 2-6.2 1.4-6 1.8-4 1.9-6 2.1-4.1 0.9-4-0.1-4 1.8-30.2 0.9-38.3-1-48.3-1.5-34.2-1.5-16.1-3.2-20.1-1.5-6.3-1.5-3.8-2.5-2.4-2-0.3-2 0.8-4 3.8-6.1 8.6-2.6 5.6-3.1 10.1-9.6 42.2-2.6 8.1-3.3 8-3.9 8.1-3.7 6-19.6 24.2-7.9 8-8.1 6.9-10.1 7.6-8 4.8-6.1 2.9-8 3.1-20.1 6.2-10.1 2.7-10.1 1.8-34.2 4-86.6 7.2-102.6 2.7-62.5 0.1-12-0.9-10.1-2.1-8.1-0.3-14 1-12.1 2.2-10.1 0.7-28.2-1.6-269.8 0z"/>
<path fill="#00ff6d" d="M297.6 757.6l775 0-0.3-10.1 1.6-36.3 1.3-10 4.9-30.2 2.5-10.1 7.1-24.1 9.2-24.2 2-6 0.9-4.1 3.8-10 2.9-6.1 0.2-2-0.1-4 1.8-30.2 0.9-38.3-1-48.3-1.6-32.2-1.6-18.1-3.4-20.1-1-4.1-1.8-4.5-2-2.1-2-0.4-2 0.7-2 1.5-4 4.5-4.2 6.4-1.9 4.1-2.4 7.9-7.2 34.3-2.4 10-2.6 8.1-3.2 8-4.3 9.3-4.1 6.3-18.6 22.7-7.5 7.9-8.1 7-10 7.6-8.1 5.1-8.1 3.9-8 3-20.1 6.1-10.1 2.6-10.1 1.7-30.2 3.5-50.3 4.3-42.3 3.1-40.2 1.2-62.5 1.3-24.1-0.2-30.2 0.4-14.1-0.6-6-0.8-8.1-1.9-8.1-0.2-14 1.1-12.1 2.2-10.1 0.7-28.2-1.6-269.8 0z"/>
<path fill="#00ff63" d="M297.6 757.6l773.5 0-0.3-10.1 1.8-38.3 2.2-15.8 4-24.1 2.7-10.4 6.9-22.1 8.5-20.8 2.8-7.4 1.6-6.1 3.9-10 2.2-4.1 0.8-2 0.2-2 0-6 1.6-28.2 1-40.3-1.1-46.3-1.6-32.2-1.3-14.9-2.3-15.3-1.8-8-2-6.1-2-2.6-2-0.7-2 0.6-2 1.3-4 4.4-4.1 6.3-2 4.8-2.2 8.1-8.1 40.2-2.3 8.1-3.5 9.4-4 9-4 6.9-4.1 5.3-14.9 17.7-7.2 7.6-8.1 7.2-10 7.8-8.8 5.6-7.3 3.6-8.1 3.2-14.1 4.4-16.1 4.4-10.1 1.8-28.1 3.2-50.4 4.3-46.3 3.2-38.2 1.2-64.5 1.2-24.1-0.2-30.2 0.4-16.1-0.9-6.1-1-6-1.7-8.1 0-14 1.2-6.1 1.4-8 1.1-8.1 0.5-28.2-1.7-269.8 0z"/>
<path fill="#00ff5a" d="M297.6 757.6l771.9 0-0.1-12.1 1.7-36.3 2-16.1 4.1-24.1 3.2-12.1 6.5-20.1 10-22.8 7-19.5 4-8.1 0.3-2-0.2-6 1.6-28.2 1-40.3-0.8-40.2-1.8-36.3-1.2-14.1-2.8-18.1-3.1-11.5-2-3.1-2-0.9-2 0.3-2 1.2-4 4.1-3.7 5.9-2.4 6-1.5 6.1-5 28.1-2.6 12.1-2.2 8.1-2.9 8-4.3 10.1-4.5 8.1-4.7 6-13.6 16.1-7.7 8-9.4 8.5-10 7.7-8.1 5-8 3.9-10.1 3.8-28.2 7.9-12.1 2-26.1 2.8-50.4 4.2-46.3 3.1-38.2 1.1-64.5 1.1-24.1-0.2-32.2 0.4-10.1-0.5-6-0.7-10.1-2.6-8.1 0.1-12 1.2-16.1 2.7-8.1 0.4-28.2-1.7-269.8 0z"/>
<path fill="#00ff50" d="M297.6 757.6l770.4 0-0.1-12.1 1.6-36.3 2.3-18.1 4.2-24.1 3.4-12.1 6-18.1 11.5-24.9 6.5-17.4 4.2-8.1 0.3-2-0.2-8 1.5-26.2 1.1-40.3-0.9-40.2-1.9-36.3-1.2-14.1-2.5-16.1-2.9-10.7-2-3.7-2-1.2-2 0.1-2 1-2 1.7-2 2.3-2.9 4.5-1.8 4-1.7 6-4.7 28.2-2.9 14.1-2.2 8.1-4 10.9-4 9.4-4 7-5.4 6.9-12.1 14.1-8.7 9.2-8.1 7.3-9.8 7.7-8.3 5.3-8 4-10.1 4-18.1 5.3-12.1 3-10.1 1.7-28.1 3-52.4 4.1-44.3 2.8-38.2 1.1-64.5 1-56.3 0.2-14.1-0.9-6.1-1.2-6-1.9-8.1 0.2-14 1.6-14.1 2.4-8.1 0.5-28.2-1.7-269.8 0z"/>
<path fill="#00ff47" d="M297.6 757.6l768.9 0-0.1-12.1 1.8-38.3 2.6-20.1 4-22.2 3.5-12 6.4-18.2 12.2-24.8 6-15.4 4.1-7.3 0.6-2.8-0.1-12.1 1.4-22.1 1.1-40.3-0.9-40.2-2.1-37.7-1.5-14.7-2.6-15.1-2.9-9-1.1-2.1-2-1.6-2-0.1-2 0.8-2 1.6-2.8 3.4-2.3 4-1.5 4-1.4 6.1-3.2 22.1-2.9 15-2.3 9.2-3.8 11-4.5 11.1-3.5 6.7-4 5.5-11.9 14-9.3 10-9 8.5-10.1 8-8.8 5.7-9.3 4.6-10.1 3.9-30.2 8.2-12.1 1.8-26.1 2.7-52.4 3.9-44.3 2.6-38.2 1.1-64.5 1-58.3 0-12.1-0.7-6.1-1.4-6-2-8.1 0.3-28.1 4.2-8.1 0.5-20.1-1.5-8.1-0.3-269.8 0z"/>
<path fill="#00ff3d" d="M297.6 757.6l767.4 0-0.1-12.1 2-40.3 2.2-18.1 4-22.2 3.5-12 6.5-18.2 2.8-6 9-16.7 7.5-17.5 4.6-8 0.3-2.1-0.2-12.1 1.7-30.2 0.8-32.2-0.9-40.2-1.8-32.3-1.9-20.1-2.5-14.1-2.7-8-0.9-1.8-2-2-2-0.3-2 0.7-2 1.5-2 2.2-2.3 3.7-1.5 4-1 4-3 22.2-2.6 14.1-2.3 10.1-3.2 10-4.3 11.1-4.1 9.1-4.1 6-10.1 12.1-9.9 10.8-10 9.8-9.4 7.6-8.9 6-9.9 5.1-10.1 4.1-8 2.4-22.2 5.7-10 1.7-26.2 2.7-54.4 4-46.3 2.6-36.2 1-66.5 0.9-58.3 0.1-8.1-0.4-6-0.7-10.1-3.3-8.1 0.4-6 1.2-8 0.9-14.1 2.3-6.1 0.5-30.2-1.8-269.8-0.1z"/>
<path fill="#00ff34" d="M297.6 757.6l765.9 0-0.1-12.1 2.1-42.3 2.3-18.1 4.1-22.2 4.4-14.1 6-16.1 3-6 9.6-16.9 6.9-15.3 4.9-8.1 0.4-2-0.5-6 0.1-8.1 1.6-28.2 1-32.2-1-40.2-1.3-23.7-2-24.4-3.2-18.4-2.2-6-0.7-1.5-2-2.3-2-0.6-2 0.5-2 1.4-2 2.3-2.1 3.6-2 7.3-1.9 17.5-2 12-3.1 14.1-3 10.4-6.1 15.9-3.8 8-4.2 5.9-10.2 12.2-9.3 10-10.7 10.4-8.1 6.5-10 6.8-9.2 4.5-11 4.5-30.2 7.9-10 1.6-26.2 2.6-54.4 3.9-46.3 2.3-36.2 1-68.5 0.8-56.3 0.1-14.1-1.1-4.1-1.1-6-2.4-8.1 0.7-6 1.2-22.1 3.2-6.1 0.5-30.2-1.9-269.8 0z"/>
<path fill="#00ff2b" d="M297.6 757.6l764.4 0-0.1-12.1 2.4-46.3 3.2-22.2 3.2-16.1 6.7-20.1 4-10.1 13.5-23.3 6.4-12.9 5.1-8.1 0.4-2-0.5-6-0.1-8.1 1.5-22.1 1.3-38.3-1.1-40.2-0.9-16.7-2.2-27.6-1.9-13.1-1.8-9.1-1.5-4-2.7-3.9-2-0.9-2 0.4-2 1.4-2 2.5-1.4 2.5-1.6 6-1.8 18.2-2 12-3.8 16.2-3.5 11.4-6.1 15.8-2.3 5-5.7 7.9-10.1 12.2-9.4 10.1-10.7 10.2-8.1 6.3-10 6.7-10.1 4.8-10.1 3.9-30.2 7.7-10 1.5-26.2 2.5-54.4 3.7-46.3 2.2-38.2 1-66.5 0.7-58.4 0.1-8-0.5-6-1-8.1-3.2-8.1 0.8-8 1.7-20.1 2.7-6.1 0.5-6-0.1-16.1-1.5-8.1-0.3-269.8-0.1z"/>
<path fill="#00ff21" d="M297.6 757.6l762.9 0-0.2-12.1 2.4-46.3 2.2-16.1 4.1-22.2 6.6-20.1 4.9-12.1 14.4-23.6 7-12.6 3.1-4.1 1-2 0.4-2-0.5-6-0.1-8.1 1.4-22.1 1.4-38.3-1.1-40.2-3.1-42.3-1.5-12.1-3.3-14.1-2.7-4.1-2-1-2 0.3-2 1.4-2.4 3.4-1.7 6-1.2 16.2-1.9 12-4.9 20.2-3.3 10-6.8 18.1-2 3.9-8 10.8-8.1 9.6-9.5 10-10.6 10-7.8 6.1-9 6-11.4 5.3-10.1 3.9-30.2 7.4-10 1.4-26.2 2.4-54.4 3.6-46.3 2-36.2 1-68.5 0.6-58.4 0-12-0.8-4.1-1.1-6-2.8-8.1 0.9-8 1.9-10.1 1-12.1 1.8-6 0.3-20.1-1.7-8.1-0.3-269.8 0z"/>
<path fill="#00ff18" d="M297.6 757.6l761.4 0-0.3-10.1 2.6-50.3 3.6-24.2 2.9-14.1 8.2-24.2 3.5-8 21.8-34.2 3.7-4.7 0.7-1.4 0.4-2-0.7-8 0-8.1 1.6-23.7 1.2-34.7-1.1-40.2-2.1-31.1-1.7-15.2-1.2-8.1-3.2-13.6-2-2.9-2-1.1-2 0.3-1.7 1.2-2.3 3.8-1 4.2-0.7 14.1-1.9 12.1-4.5 18.5-4 13.1-6.2 16.7-2.6 6.1-9.3 12.7-6.1 7.3-8 8.7-12.1 11.9-7.2 5.7-10.9 7.4-14.1 6.2-8.1 3-28.2 6.7-10 1.6-26.2 2.3-56.4 3.6-48.3 1.9-34.2 0.8-128.9 0.6-8-0.4-4-0.7-8.1-3.7-7.7 0.9-4.4 1.5-4 0.7-12.1 1-10.1 1.6-6 0.4-20.1-1.8-8.1-0.3-269.8 0z"/>
<path fill="#00ff0e" d="M297.6 757.6l759.9 0-0.4-10.1 2.5-50.3 1.6-12.1 4.7-26.2 8.1-24.2 3.4-8 10.1-16.1 17.5-23.4 0.8-2.8-0.8-8-0.1-8.1 1.7-26.2 1.2-32.2-1.1-38.2-1.7-26.7-2.1-19.9-1.5-9.8-1.8-6-1.1-6.1-1.6-2.7-2-1.2-2 0.4-1.8 1.5-1.1 2-0.9 4-0.1 10.1-1.3 10.1-5.3 22.1-4.9 16.1-8.3 22.2-8.5 12.1-8.1 10-8 8.7-12.1 11.8-7.4 5.7-10.7 7.1-20.2 8.3-30.2 7.1-10 1.5-24.2 2-58.4 3.6-82.5 2.5-132.9 0.4-6-0.4-4.1-0.8-4.7-3.1-1.3-0.4-5.1 0.4-9 2.9-14.1 0.8-10.1 1.7-6 0.3-6-0.2-14.1-1.6-8.1-0.3-269.8 0z"/>
<path fill="#00ff05" d="M297.6 757.6l758.3 0-0.4-10.1 2.6-52.4 4.1-26.1 2.5-12.1 8.8-26.2 3.3-7.1 8.4-13 9.7-11.2 10.1-12.8 0.5-2.2-1-8-0.2-8.1 1.8-26.2 1.3-32.2-1.1-38.2-1.3-20.4-2.1-20.9-2-12.8-2.6-8.3-0.9-6.1-0.5-0.8-1.7-1.2-1.1 0-1.2 0.4-1.3 1.6-0.7 1.7-0.3 14.4-3.4 16.1-6.4 23.2-10.1 28.5-2 3.5-8 11.4-6.1 7.8-8 8.9-12.1 12.1-6 4.9-12.1 8.3-22.2 9-28.2 6.4-10 1.6-22.2 1.7-62.4 3.8-82.5 2.4-134.9 0.3-8.1-0.8-2-0.8-1-1.3-3-2-2 0-10.1 3.8-16.1 0.5-8 1.4-8.1 0.6-28.2-2.1-269.8 0z"/>
<path fill="#05ff00" d="M297.6 757.6l756.7 0-0.4-10.1 2.5-52.4 4-26.1 2.4-12.1 9.3-28.2 2.9-6 9.3-14.1 10.6-10.7 9.7-11.5 0.6-2-1.1-8-0.3-6.1 1.8-28.2 1.4-32.2-1.3-40.2-1.1-16.1-2.3-22.2-1.4-8.9-1.7-7.2-2.3-3.8-0.7-0.2-0.3-2 0.5-4.1-1.5-2.1-2.1 2.1 0.1 3 1.6 3.1-1.3 4-0.7 4-10.5 38.3-9.7 28.2-1.6 3.5-2 3.1-8 11.7-6.1 7.8-8 9-12.1 12.1-6 4.7-12.1 8.2-22.2 8.7-28.2 6-14 1.9-80.6 4.9-82.5 2.1-143 0.3-2-0.2-2.6-3.3-1.4-0.8-2 0-2.4 0.8-1.6 2.1-6.1 1.1-16.1-0.3-10.1 1.7-6 0.4-28.2-2.1-269.8 0z"/>
<path fill="#0eff00" d="M297.6 757.6l755.1 0-0.5-10.1 2.5-52.4 4.6-30.2 2.2-10 8.5-26.2 3.8-8 9-13.1 12.1-11 8-8.7 1.2-1.5 0.8-2-1.3-8-0.3-8.1 1.7-24.2 1.5-32.2-0.3-18.1-1.2-29.6-2.1-22.2-2-14.3-2-7.8-2-2.9-2 1.9-2 5-10.1 33.7-9.6 28.2-1.7 4-12.8 19.3-10.1 12-10.1 10.5-4 3.7-14.1 10.2-4 2.3-22.2 8.3-28.2 5.8-14 1.7-80.6 4.7-80.5 1.9-122.8 0.3-18.1 0.2-6.1 0.5-3.3-0.9-0.7-1.2-0.6 1.2-3.4 1.1-4.1-0.6-18.1-1-12.1 1.8-6 0.3-8-0.4-12.1-1.3-8.1-0.3-269.8 0z"/>
<path fill="#18ff00" d="M297.6 757.6l753.4 0-0.4-10.1 2.5-54.4 4.6-30.2 2.4-10 8.5-26.2 2.1-4.8 3.2-5.3 7.4-10 4.5-4.1 9.1-7.1 8-8.2 1.4-2.8-1.1-8-0.5-8.1 1.9-26.2 1.3-26.1 0-20.2-1.1-26.1-1.9-21.9-2-15-2-8-2-2.6-2 1.9-2 4.5-9.9 31-10.5 30.2-7.8 12.6-6 8.9-8.1 10-10 10.8-4.2 4-5.9 4.6-10.1 7-4 2-22.2 8-28.2 5.5-14 1.6-84.6 4.5-82.5 1.7-124.9 0.2-10 0.5-6.1 0.7-4-0.2-4 0.6-22.2-2.3-12.1 1.7-6 0.4-28.2-1.9-269.8-0.1z"/>
<path fill="#21ff00" d="M297.6 757.6l751.6 0-0.3-10.1 2.1-50.3 0.7-8.1 5.3-32.2 8-26.2 2.1-6 3-6.1 7.1-10 6.2-6.1 11.5-8.3 8-7.7 0.9-2.1-1.4-10.1-0.3-8 1.8-22.2 1.1-18.6 0.6-15.6 0-10-1.2-28.2-1.3-16.1-2.2-17.5-2-8.7-2-2.4-2 1.5-2 4-4 11.1-13.9 42.2-2.3 5.4-8 13.4-6 9.1-6.1 7.7-11.4 12.7-4.7 4.4-6 4.7-8.1 5.5-6 3-22.2 7.6-28.2 5.3-12 1.3-86.6 4.4-80.5 1.4-120.8 0.1-12.1 0.4-10.1 1.2-8 0.5-22.2-2.6-12.1 1.6-6 0.4-28.2-1.8-269.8 0z"/>
<path fill="#2aff00" d="M297.6 757.6l749.8 0-0.2-12.1 1.9-48.3 0.7-8.1 5.2-32.2 8.4-28.2 2.3-6 3.1-6.1 4.1-6 3.4-4 4.5-4.1 14.1-9.4 7.4-6.7 1-2-1.5-10.1-0.3-8 1.8-22.2 1.7-28.1 0.1-16.1-1.2-28.2-1-12.4-2-15.9-2-9-2-3.3-2 1.4-2 3.6-4 10.4-13.7 41.3-2.5 5.2-8 13.9-6 9.3-8.1 10.3-8.6 9.6-5.5 5-8 6-6.1 3.9-6 2.8-20.2 6.7-28.1 5.1-14.1 1.6-84.6 4-82.5 1.3-118.8 0-12.1 0.4-12.1 1.5-8 0.5-22.2-2.7-4 0.2-8.1 1.3-8 0.3-26.2-1.6-269.8-0.1z"/>
<path fill="#34ff00" d="M297.6 757.6l748 0-0.2-12.1 1.9-48.3 0.8-10.1 4.9-30.2 8.1-28.2 2.2-6 2.9-6.1 4-6 3.3-4 4.4-4.1 2.8-2 10.2-5.7 4-2.7 6-5.1 1.8-2.6 0-2-1.5-8.1-0.4-8 2.2-26.2 1.6-28.2 0.1-10-1.8-36.4-2-16.9-2-9.7-2-3.4-2 0.7-2 3.2-4 10-12.1 36.4-2.5 6-9.6 17.5-4 6.5-6.1 8.6-7.9 9.7-4.2 4.4-6 5.4-8 5.9-6.1 3.6-6 2.6-14.1 4.5-12.1 2.9-24.2 4-8 0.9-84.6 3.8-86.5 1.3-118.8-0.1-12.1 0.5-18.1 2-6.1-0.3-16.1-2.2-4-0.2-10.1 1.3-8 0.4-26.2-1.5-269.8 0z"/>
<path fill="#3dff00" d="M297.6 757.6l746.1 0-0.1-14.1 1.6-44.3 0.9-12.1 2.9-20.1 1.8-10.1 2.6-10.1 6-20.1 2.2-6 3.1-6.1 4.1-6 3.7-4.1 6.3-4.8 12.1-6.2 4-2.5 5.8-4.6 1.2-2 0.1-2-1.7-10.1-0.2-8 2.8-32.8 1.2-19.6 0.1-10-1.7-34.3-1.6-13.9-2-10.1-2-4.3-2 0.4-2 2.9-4 9.5-12 35.7-2.1 5.1-8.1 15.3-6 10.5-6.1 8.9-8 9.9-4.6 4.6-5.5 4.8-6 4.5-6.1 3.6-6 2.6-10.1 3.2-10 2.8-8.1 1.6-22.1 3.4-10.1 1.1-84.6 3.4-86.5 1.2-118.8-0.2-10.1 0.4-20.1 2.2-6.6-0.3-19.6-2.4-10.1 1.2-8 0.4-26.2-1.3-269.8 0z"/>
<path fill="#47ff00" d="M297.6 757.6l744.1 0-0.1-12.1 1.5-44.3 1.2-16.1 2.5-18.1 2.3-12.1 4.2-16.1 4.2-14.1 2.4-6.1 3.1-6 3.7-5.3 4-4.2 6.4-4.6 13.8-6.2 4-2.3 4.7-3.6 1.5-2 0.2-2-1.9-12.1-0.1-6 2-20.2 1.6-22.2 0.8-20-1.8-34.3-1-8.6-2.2-11.5-1.8-4-2-0.3-2 2.4-4 9.2-11.1 33-3 7.1-8.1 16.1-6 10.9-6.1 9.1-7.3 9.1-4.8 4.9-6 5.2-6 4.3-6.1 3.2-6 2.4-10.1 2.9-10 2.5-8.1 1.5-22.1 3.2-10.1 0.9-42.3 1.2-40.3 1.9-88.5 1.1-116.8-0.3-12.1 0.5-20.1 2-8.1-0.4-18.1-2-18.1 1.3-26.2-1-269.8-0.1z"/>
<path fill="#50ff00" d="M297.6 757.6l742.1 0-0.1-14.1 1.4-42.3 1.4-18.1 2.5-18.2 2.3-12 4.7-18.2 3.7-12 2.4-6.1 3.2-6 2.7-4 3.7-4.1 5.1-3.9 3.9-2.1 12.3-4.6 6-3 4-3 1.2-1.5 0.4-2-1.9-12.1-0.2-6 2.7-26.2 1.9-26.2 0.1-12-2.2-35.3-2-11.8-1.9-5.3-2.1-1-2 2.3-2 3.8-4.1 10.2-8.2 25-2.4 6-13.5 28.1-6.1 10.1-6 8.2-4 4.5-6.1 5.8-6 4.8-6 3.6-6.1 2.5-6 1.9-14.1 3.4-8.1 1.6-24.1 3.3-10.1 0.9-44.3 1-40.3 1.8-88.5 1-116.8-0.3-10.3 0.4-21.9 1.9-8.1-0.3-18.1-1.8-18.1 1-24.2-0.8-271.8 0z"/>
<path fill="#5aff00" d="M297.6 757.6l740 0 0-14.1 1.3-42.3 1.5-20.2 2.2-16.1 2.2-12 4.6-18.2 4.2-14 2.4-6.1 3.1-6 3.6-5.1 4-3.9 4-2.7 4.1-2 14.1-4.5 4-1.6 4-2.4 2.1-2 0.6-2-2-12.1-0.2-6 3.5-33.1 1.4-19.3 0.3-10-1.9-32.2-1.8-12.3-2-6-2-1.3-2 1.7-2 3.6-4.1 9.9-8.8 26.5-11.3 25.8-8 15.7-4.1 6.2-4 5-10.1 10.2-6 4.5-4 2.3-6.1 2.3-6 1.7-22.2 4.5-22.1 2.9-12.1 1.1-46.3 0.8-28.2 1.4-100.6 1.2-114.8-0.4-12.1 0.4-22.1 1.7-8.1-0.2-18.1-1.6-20.1 0.8-22.2-0.5-271.8 0z"/>
<path fill="#63ff00" d="M297.6 757.6l737.9 0-0.1-14.1 1.3-42.3 1.6-22.2 1.9-14.1 2.6-14 5-20.2 4.3-14.1 2.5-6.2 3.2-5.9 3.1-4 3.8-3.4 4-2.5 4-1.8 4.1-1.2 12.1-2.7 4-1.5 4-2.5 1.5-2.5 0-2-1.8-10.1-0.3-6 3.2-26.2 2.2-26.2 0.2-10-2-32.2-1-7.4-2-6.9-2-2-2 1.4-2 3.4-4.1 9.7-7.9 23.9-14.2 34.7-6 12.1-6.1 8.4-6 6.7-6.1 5.8-4 3-4 2.2-4 1.5-6.1 1.5-22.1 4-18.1 2.2-20.2 1.8-44.3 0.3-26.1 1.3-26.2 0.5-80.5 0.7-112.8-0.3-10.1 0.2-24.1 1.6-28.2-1.5-20.1 0.6-18.2-0.3-273.8-0.1z"/>
<path fill="#6dff00" d="M297.6 757.6l735.7 0 0-16.2 1.1-42.2 0.7-12.1 1.2-12.1 2-14.1 2.7-14.1 5-20.1 4.3-14.1 2.4-6 3.3-6.1 3.2-4 3.5-2.9 4-2.2 6-1.9 14.1-1.9 4.1-0.9 4-1.9 2-2.4 0.1-4-1.8-10.1 0-6 3.7-27.1 2-21.8 0.4-9.5-0.4-11.9-1.6-20.3-0.8-6.1-1.6-6-2-2.5-2 0.9-2 3-2 4.3-8.3 24.5-6.2 16.1-8.7 24.2-3.3 8-3.3 6-8.5 11-6 6.8-4.1 3.9-2 1.4-4 1.8-8.1 1.6-32.2 4.2-28.2 2.5-10 0.3-38.3-0.3-26.1 1.4-22.2 0.3-84.5 0.7-112.8-0.2-34.2 1.3-32.2-1.2-18.1 0.4-290-0.1z"/>
<path fill="#76ff00" d="M297.6 757.6l733.4 0 0-16.2 1-42.2 0.8-14.1 1.2-12.1 2-14.1 3.2-16.1 5.9-24.2 4.2-14.1 2.4-6 2.9-5.3 2.5-2.7 3-2.1 4.6-1.7 6-1.1 6.1-0.3 10 0.1 4.1-0.7 2-0.8 1.8-1.5 0.7-2-0.3-4-1.3-6.1-0.3-6 3.6-22.2 3-28.2 0.5-10-0.3-10.1-1.4-18-2-11.8-2-3.3-2 0.3-2 2.9-2 4.3-7.3 21.6-6 16.1-9.7 32.2-2.3 6-3.7 6.1-11.4 16.1-3.9 7-2.1 1.4-2 0.4-12-0.3-10.1 0.3-34.2 2.9-20.2 1.3-46.3-0.6-26.1 1.3-28.2 0.3-78.5 0.6-114.8-0.1-32.2 0.8-34.2-1-38.3 0.5-267.8 0z"/>
<path fill="#80ff00" d="M297.6 757.6l731 0 0-16.2 0.9-40.2 1.7-26.2 1.7-14.1 2.1-12.1 10.6-48.3 0.6-6-0.3-4-0.8-2.1-1.6-2-2.8-2-6.2-3.1-8.1-2-10-0.6-50.4 2.5-48.3-1.1-26.1 1.3-100.7 0.7-120.8 0-32.2 0.4-26.2-0.3-10.1-0.5-34.2 0.6-269.8-0.1zM1079.6 580.4l5.2 1.5 4.1 0.4 2-0.6 1.5-1.3 0.6-2-1.6-8.1-0.1-6 3.6-16.6 1.2-7.6 2.8-23 1-13.2-0.5-12.1-1.8-18.1-0.7-4.4-2-4.7-2-0.1-2 2.5-2 4.4-12.5 36.5-3.6 14.1-5.1 24.2-1.7 4-5.7 10.1-1.7 4-1 4 0.3 4 1 2 2.1 2.1 5.7 1.8 8.1 1.1z"/>
<path fill="#89ff00" d="M297.6 757.6l728.5 0 0.7-54.4 1.3-24.2 2.9-24.1 8.5-44.3 0.7-8.1-0.5-6-1.2-3.6-1.5-2.4-1.8-2.1-3.1-2-5-2-4.7-1.1-12.1-1-44.3 1.1-48.3-1.8-26.1 1.1-100.7 0.7-177.2 0-12.1-0.7-34.2 0.7-269.8-0.1zM1080.1 564.3l4.7 0.6 2-1.4 2.1-3.4 2-4.8 2.1-7.1 1.9-9.3 2-14.5 2-16.5 0-12.2-2-18.8-0.7-3.2-1.3-4.6-2-0.9-2 2.3-2 4.7-8.8 24.7-3.2 12-2.4 14.1-1.2 10.1-0.4 10.1-1.3 8 0 4 1.1 3 2.1 1.9 2 0.8z"/>
<path fill="#92ff00" d="M297.6 757.6l725.9 0 0.7-54.4 1-24.2 2.7-24.1 6.7-38.3 0.6-10-0.7-6.1-1.4-4-1.2-2-3.4-3.3-6.1-2.9-8-1.9-12.1-0.8-38.3 0.1-42.2-2.5-12.1 0-18.1 0.9-106.7 0.6-110.8 0-34.2-0.5-26.2 0.3-14.1-0.7-32.2 0.7-269.8-0.1zM1080.2 554.2l2.6 1.5 2-0.1 2-1.2 2.1-2.6 1.6-3.6 2.4-8.4 4-23.7 1.3-12.2-0.4-10.1-0.9-8.1-2-10.1-2-2.6-2 2.1-2 4.3-6.1 16.1-2.1 6.4-2 10-1.3 12.1-0.5 16.1 1.2 10.1 0.7 2.1z"/>
<path fill="#9cff00" d="M297.6 757.6l723.2 0 0.6-54.4 0.9-24.2 2.3-24.1 5.6-34.2 0.4-8.1-0.5-6-1.9-6.1-2.9-4-4.9-3.3-4-1.6-4.2-1.1-11.9-1.4-34.3-0.9-32.2-2.7-14.1-0.8-10 0-18.1 0.8-163.1 0.5-60.4-0.1-28.2-0.7-26.2 0.4-14.1-0.7-32.2 0.6-269.8 0zM1083.3 544.1l1.5 1.4 2-0.6 2.1-2.8 2-5.6 2-8.4 4-20.2 0.3-6-0.4-8.1-1.9-10.5-2-4-2 1-4.1 8.1-4.1 11.5-1.7 8-0.6 8.1 0 6 1.1 16.1 0.8 4z"/>
<path fill="#a5ff00" d="M297.6 757.6l720.5 0 0.4-54.4 0.8-26.2 1.8-22.1 4.7-32.2 0.3-6.1-0.6-6-2-6.1-3.1-4.2-2.1-1.8-3.5-2-6.5-2.2-10-1.5-32.3-1.9-32.2-3.5-14.1-1-10-0.1-18.1 0.6-169.2 0.4-54.3-0.1-28.2-1-26.2 0.5-14.1-0.7-32.2 0.6-269.8 0zM1086.4 526l0.4 0.9 2.1-0.1 2-3.1 2-5.2 2.5-10.6 0.6-6-0.3-6.1-0.8-5-2-5.2-2-0.1-2 2.7-4.1 9.4-1.5 6.3-0.5 6 0.3 6.1 1.3 6z"/>
<path fill="#afff00" d="M297.6 757.6l717.5 0 0.4-56.4 0.6-26.2 1.3-20.1 3.8-30.2 0.1-6.1-0.3-4-2-6-2.9-4.1-2.3-2-3.4-2-6.1-2.2-10.1-1.8-28.2-2.6-32.2-4.5-16.1-1.4-241.6 0.5-36.2-1.2-26.2 0.5-16.1-0.7-28.2 0.6-271.8-0.1zM1087 513.9l1.9 1.7 2-1.4 2-3.9 1.1-4.4 0.5-4-0.6-6.1-1-3.6-2-1.2-2 2-2.1 4.1-1.3 4.8-0.1 6z"/>
<path fill="#b8ff00" d="M297.6 757.6l714.5 0 0.7-86.6 0.8-18.1 2.4-26.2 0.1-6-0.5-4.1-1.2-4-2-2.9-2.1-2-5.1-3.2-5.6-2-9.4-1.9-24.2-3.4-30.2-5.4-10.1-1.3-10-0.8-56.4-0.3-183.2 0.3-14.1-0.2-22.1-1.1-26.2 0.5-16.1-0.7-28.2 0.5-271.8 0zM1088.3 503.9l0.6 1.7 2 0 1-3.7-0.2-2-0.8-2-2 1.6-0.6 2.4z"/>
<path fill="#c2ff00" d="M297.6 757.6l711.3 0 0.2-96.7 1.1-30.2-0.2-6-0.6-4-1.4-4.1-1.2-2-2.5-2.5-6-3.5-5.8-2-54.3-12.1-12.7-2-11.8-1-56.4-0.7-183.2 0.2-34.2-1.4-24.2 0.4-18.1-0.6-28.2 0.4-271.8 0z"/>
<path fill="#cbff00" d="M297.6 757.6l708 0-0.1-76.6-1.3-42.2-0.9-10.1-1.8-6-2.6-4.1-4.7-3.8-6-2.9-10-3.3-38.3-11.2-14.1-2.7-14.1-1.5-54.4-1-183.2 0-34.2-1.4-24.2 0.4-18.1-0.6-26.2 0.3-273.8 0z"/>
<path fill="#d5ff00" d="M297.6 757.6l704.6 0-0.1-50.4-0.4-26.2-1.2-18.1-2.8-24.1-2-8.1-1.5-3.2-1.8-2.8-4.1-4-6.5-4.1-18.7-8-10.4-4.1-11.9-4-15-3.6-16.1-1.9-54.4-1.4-183.2-0.1-32.2-1.4-22.1 0.3-22.2-0.5-298 0.1z"/>
<path fill="#deff00" d="M297.6 757.6l701 0-0.4-64.5-0.5-14.1-1.2-12-3.3-18.2-3-11.3-3.5-6.8-2.5-3.1-3.2-2.9-5.8-4-10.3-6.1-12.1-6-8.9-3.8-8.1-2.8-8-2.2-8.1-1.6-8-1-26.2-1.4-26.2-0.6-187.2-0.4-32.2-1.4-20.1 0.3-26.2-0.5-296 0z"/>
<path fill="#e7ff00" d="M297.6 757.6l697.3 0-0.4-58.4-0.5-14.1-0.8-10.1-2.5-14.1-5.4-18.1-1.7-4-2.5-4.1-5-5.4-16.1-12.1-7.8-4.6-8.3-4.2-8.1-3.3-8-2.6-8.8-2-9.3-1.4-24.2-1.6-30.2-0.9-183.2-0.5-32.2-1.3-342.3-0.4z"/>
<path fill="#f1ff00" d="M297.6 757.6l693.5 0-0.5-56.4-0.5-14.1-0.9-10.1-1.2-8-1.5-6.1-5.5-16.1-1.7-4-2.3-4-5.3-6.1-14.3-12-9.4-6.1-8.1-4.4-8.1-3.4-8-2.5-8.1-1.9-12.1-1.8-20.1-1.4-30.2-1-64.4-0.5-118.8-0.2-30.2-1.2-18.1 0.1-10.1-0.3-314.1-0.3z"/>
<path fill="#faff00" d="M297.6 757.6l689.5 0-0.4-52.4-0.6-16.1-0.8-10.1-1.3-8-1.5-6.1-5-14-2.6-6.1-2.4-4-2.4-3.1-10.1-9.6-6-5-6.4-4.5-6.5-4-7.3-3.6-6.1-2.4-8-2.5-8-1.8-10.1-1.7-18.1-1.5-30.2-1.2-64.4-0.7-120.8-0.3-28.2-1-18.1 0.1-10.1-0.5-314.1-0.2z"/>
<path fill="#fffa00" d="M297.6 757.6l685.5 0-0.5-50.4-1.3-26.2-1.2-8-1.5-6-2.6-8.1-4.1-10.1-2.1-4-2.8-4-11-11.1-6-5-6.1-4.2-6.3-3.9-7.8-3.8-6-2.3-8.1-2.4-10.1-2.3-8.2-1.3-11.9-1.3-16.1-1-32.2-0.9-32.2-0.4-136.9-0.4-28.2-0.8-18.1 0-10.1-0.6-12.1 0.3-36.2-0.4-265.8-0.1z"/>
<path fill="#fff100" d="M297.6 757.6l681.4 0-0.5-48.4-0.6-16.1-0.9-12.1-1.3-8-2.1-8.1-3.5-9.8-3-6.3-2.4-4-3.1-4-5.8-6.1-6.6-6-7.3-5.3-6.1-3.8-6-3.1-8-3.2-8.1-2.6-8.5-2.1-19.7-3.1-16.1-1.2-16.1-0.7-64.4-1.2-120.8-0.3-46.3-0.6-10.1-0.4-314.1-0.2z"/>
<path fill="#ffe700" d="M297.6 757.6l677.1 0-0.4-46.4-0.5-16.1-0.9-12-1.2-8.1-1.6-7-2.3-7.1-3.4-8-3.6-6.1-3-4-5.4-6-4.5-4.3-6-4.8-6.1-4-6-3.3-8-3.5-8.1-2.8-8.1-2.2-8-1.8-12.1-1.9-16.1-1.5-16.1-0.9-32.2-1-32.2-0.5-120.8-0.3-58.4-0.7-312.1-0.2z"/>
<path fill="#ffde00" d="M297.6 757.6l672.8 0-0.4-44.3-0.6-18.2-0.9-12-0.8-6.1-1.9-8-2.7-8.1-3.1-6.8-3.1-5.3-4.4-6-4.6-5.1-5.5-5-5.5-4-7.1-4.3-6-2.9-8.1-3.1-8-2.5-10.1-2.5-17.3-2.8-25-2.1-18.1-0.9-32.2-0.8-48.3-0.6-80.6-0.4-378.5-0.2z"/>
<path fill="#ffd500" d="M297.6 757.6l668.4 0-0.4-44.3-0.7-18.2-0.9-12-1.3-8.1-1.6-6-2.9-8.1-2.9-6-3.6-6.1-3.8-5.1-4.5-4.9-4.6-4.1-5-3.6-6-3.6-6-2.9-8.1-3.2-6-1.9-12.1-3.1-18.1-2.9-26.2-2.3-30.2-1.4-80.5-1.3-64.5-0.3-64.4 0.3-314.1-0.3z"/>
<path fill="#ffcb00" d="M297.6 757.6l663.9 0-0.4-42.3-0.7-18.1-0.9-12.1-1.2-8.1-1.4-6-2.1-6.1-2.8-6.6-3-5.4-4-6.1-5.1-5.9-4.1-3.6-4-3-6-3.7-6.1-2.9-8-3.2-8.1-2.5-10-2.5-18.2-2.9-28.1-2.4-20.2-1.1-30.2-0.9-60.4-0.8-60.4-0.4-64.4 0.3-314.1-0.3z"/>
<path fill="#ffc200" d="M297.6 757.6l659.3 0-0.5-42.3-0.7-18.1-0.9-12.1-2.2-12.1-2-6-3.4-8.1-3.3-6-2.7-4.1-3.3-4-4.1-4-5.3-4-4.7-2.9-6.4-3.2-7.7-3.1-16.1-4.5-18.2-3-16.1-1.7-30.2-1.9-32.2-1.1-48.3-0.7-80.5-0.6-370.5-0.3z"/>
<path fill="#ffb800" d="M297.6 757.6l654.6 0-0.4-40.3-0.7-20.1-1-12.1-1.3-8.1-1.6-6-2.2-6.1-2.8-6-3.6-6-3-4.1-3.8-4.1-4.7-3.9-5.3-3.6-6.1-3.1-8-3.3-6.3-2.1-7.8-2.1-10-1.9-20.2-2.6-18.1-1.4-32.3-1.5-80.5-1.4-144.9-0.7-290-0.2z"/>
<path fill="#ffaf00" d="M297.6 757.6l650.1 0-0.4-38.3-0.7-20.1-0.9-12.1-1.2-8.1-1.5-6-2.1-6-2.8-6.1-3.6-6-3.1-4-3.8-4.1-4.9-4-5-3.2-6-3.1-6.1-2.5-8-2.6-14.1-3.3-20.1-2.6-20.2-1.6-30.2-1.5-80.5-1.4-144.9-0.8-290-0.2z"/>
<path fill="#ffa800" d="M297.6 757.6l645.5 0-0.4-38.3-0.7-20.1-1-12.1-0.8-6.1-1.4-6-2.1-6-2.9-6.2-3.6-5.9-3.2-4-4-4.1-5-4-4.3-2.7-6.6-3.3-5.5-2.2-8-2.6-14.1-3-20.2-2.5-18.1-1.5-28.2-1.4-80.5-1.4-142.9-0.9-292-0.2z"/>
<path fill="#ffa300" d="M297.6 757.6l643.2 0-0.4-40.3-0.8-18.1-0.9-12.1-0.9-6.1-1.4-6-2.2-6-3-6.1-3.4-5.2-4-4.8-4.1-3.8-4-3.1-5.2-3.2-4.9-2.4-6-2.5-8-2.5-14.1-3-20.2-2.5-20.1-1.5-26.2-1.2-78.5-1.5-142.9-0.8-292-0.2z"/>
<path fill="#ff9e00" d="M297.6 757.6l640.9 0-0.3-36.3-0.8-20.1-0.9-12.1-2.1-12.1-2-6-2.9-6.1-3.7-5.7-3.6-4.3-4.1-4-4.4-3.5-6-3.7-6.1-2.9-12.1-4-14.1-2.9-20.1-2.5-20.1-1.5-26.2-1.2-78.5-1.4-140.9-0.9-292-0.2z"/>
<path fill="#ff9900" d="M297.6 757.6l638.6 0-0.4-36.3-0.8-20.1-0.9-12.1-2.2-12.1-2.1-5.7-2.1-4.3-3.8-6.1-3.2-4-4-4-5.1-4.1-10-5.6-12.2-4.4-16-3.3-20.1-2.5-22.1-1.7-26.2-1.1-80.5-1.4-136.9-0.9-290-0.3z"/>
<path fill="#ff9500" d="M297.6 757.6l636.2 0-0.3-34.3-1.8-32.2-2-12.1-1.9-5.8-2-4.4-3.6-5.9-3.2-4-3.9-4-4.9-4-4.6-3.1-5.7-3-12.4-4.5-16.1-3.3-18.1-2.3-22.1-1.7-26.2-1.2-80.5-1.5-169.2-1-257.7-0.2z"/>
<path fill="#ff9000" d="M297.6 757.6l633.7 0-0.3-34.3-0.9-20.1-1-12.1-2.1-12.1-2.2-6-2-4-3.1-4.9-4-5-4-3.9-4-3.1-5.1-3.3-5-2.5-12.1-4.4-14.8-3.1-19.4-2.5-20.1-1.6-26.2-1.3-80.5-1.5-167.1-1.1-259.8-0.3z"/>
<path fill="#ff8b00" d="M297.6 757.6l631.2 0-0.4-34.3-1.7-30.2-2-12.1-1.9-6-1.9-4-3.2-5-4-5.1-4-4-4.1-3.2-4.4-2.8-5.6-3-6.1-2.5-6-1.9-14.1-3-20.1-2.6-20.2-1.6-24.1-1.2-80.5-1.6-165.1-1.2-261.8-0.3z"/>
<path fill="#ff8700" d="M297.6 757.6l628.5 0-0.3-32.3-1.7-30.2-1.8-12-1.8-6.1-1.7-4-3.1-5.1-3.8-5-4-4-4.3-3.4-4-2.7-6-3.2-6.1-2.5-6-1.9-14.1-3-20.1-2.7-22.2-1.7-20.9-1-79.7-1.7-165.1-1.3-261.8-0.2z"/>
<path fill="#ff8200" d="M297.6 757.6l625.8 0-0.3-32.3-1.7-28.1-2.1-14.1-1.6-5.3-2-4.5-2.7-4.3-3.3-4.3-4.1-4.1-4.6-3.7-5.4-3.5-5.2-2.5-5.1-2.1-6.6-2-17.3-3.5-20.2-2.5-20.1-1.5-18.1-0.9-78.5-1.7-167.1-1.3-259.8-0.2z"/>
<path fill="#ff7d00" d="M297.6 757.6l623 0-0.4-32.3-1.7-28.1-1-8.1-1.3-6-3-8.1-3.5-5.7-3.7-4.4-4.3-4-4.1-3.1-8.8-4.9-11.5-4.1-18-3.7-20.1-2.5-20.1-1.6-30.2-1.3-80.6-1.5-155-1.1-255.7-0.3z"/>
<path fill="#ff7800" d="M297.6 757.6l620.1 0-0.3-30.2-1.8-28.2-2.1-14.1-1.8-6.1-1.9-4-2.6-4-3.3-4-4.2-4.1-4.1-3.1-4.7-2.9-5.4-2.6-12.1-4-16.7-3.5-19.5-2.4-20.1-1.6-28.2-1.3-80.6-1.6-157-1.1-253.7-0.3z"/>
<path fill="#ff7400" d="M297.6 757.6l617.1 0-0.3-28.2-1.5-26.2-1.8-14.1-1.4-6-1.5-4.1-2-4-2.8-4-3.6-4-4.7-4.1-5.6-3.6-4-2.1-5.6-2.3-6.3-2-18.3-4.1-18.1-2.4-20.1-1.7-28.2-1.3-80.6-1.7-157-1.2-253.7-0.3z"/>
<path fill="#ff6f00" d="M297.6 757.6l614 0-0.3-28.2-1.5-24.2-2.1-16.1-1.5-6-1.6-4.1-2.2-4-2.8-3.7-6.8-6.4-5.3-3.5-4-2.1-5.9-2.4-6.3-2-17.9-4-20.2-2.7-20.2-1.7-24.1-1.2-32.2-1-48.4-0.8-157-1.3-253.7-0.3z"/>
<path fill="#ff6a00" d="M297.6 757.6l610.8 0-0.1-20.2-0.7-18.1-1.8-20.1-2.1-12.1-2.8-8.1-2.5-4-3.4-4-4.6-4-4.9-3.3-5.5-2.8-5-2-7.6-2.4-10.1-2.4-19.9-3.2-20.6-2.1-25.9-1.4-34.2-1.1-48.4-0.9-157-1.4-253.7-0.3z"/>
<path fill="#ff6600" d="M297.6 757.6l607.4 0 0-18.2-0.6-16.1-1.6-20.1-2.3-14.1-1.1-4-1.8-4.5-2-3.6-3.3-4-4.5-4-4.3-2.9-6-3.1-5.4-2.1-8.7-2.7-8.1-2-20.1-3.3-20.3-2-24-1.4-36.2-1.3-46.4-0.9-157-1.5-253.7-0.3z"/>
<path fill="#ff6100" d="M297.6 757.6l604 0-0.5-30.2-1.8-22.2-2.2-14.1-1.7-6-1.8-4.1-4.2-6-3.9-3.6-4-2.8-6.1-3.1-6.4-2.6-7.6-2.4-8.1-2.1-20.1-3.4-21.1-2.1-25.2-1.5-34.3-1.2-44.3-0.9-157-1.6-253.7-0.4z"/>
<path fill="#ff5c00" d="M297.6 757.6l600.3 0-0.3-26.2-1.6-22.2-2.4-15.9-1.8-6.2-1.6-4-4-6.1-4.4-4-4.3-2.8-6.1-3-6-2.4-6.1-2-10-2.5-18.1-3.1-20.2-2.1-26.1-1.6-34.3-1.3-44.3-0.9-155-1.7-253.7-0.4z"/>
<path fill="#ff5700" d="M297.6 757.6l596.5 0-0.2-24.2-1.8-22.2-2.5-16.1-1.6-6-1.7-4-3.8-6.1-3-2.9-4.3-3.1-5.8-3.1-7.1-2.9-15-4.3-18.2-3.2-20.1-2.2-28.2-1.8-34.2-1.3-42.3-0.9-153-1.7-253.7-0.4z"/>
<path fill="#ff5300" d="M297.6 757.6l592.4 0-0.2-22.2-1.3-18.1-2.7-18.1-2.9-10.1-1.9-4-2.8-4.1-2.8-2.7-4.2-3.3-5.8-3.2-6.1-2.5-14-4.1-18.2-3.3-20.1-2.3-26.2-1.8-34.2-1.3-44.3-1.1-153-1.8-251.7-0.4z"/>
<path fill="#ff4e00" d="M297.6 757.6l588 0-0.1-18.2-1.2-18.1-2.8-18.4-1.9-7.8-1.5-4-1.9-4-2.8-4-3.9-4.1-2.8-2-5.3-3-6.1-2.6-12.1-3.6-18.1-3.5-18.1-2.2-28.2-2-32.2-1.4-46.3-1.1-151-1.9-251.7-0.5z"/>
<path fill="#ff4900" d="M297.6 757.6l583 0 0-16.2-1.3-18.1-1.8-12.1-1.6-8-3.2-10.1-2-4-3.3-4.9-3.1-3.2-5-3.5-4.7-2.5-5.1-2-14.7-4-17.7-3.1-20.2-2.1-30.2-1.9-34.2-1.3-32.2-0.8-151-1.9-251.7-0.5z"/>
<path fill="#ff4400" d="M297.6 757.6l577.4 0 0.1-14.1-1.3-18.2-2.8-16.1-3.6-12.6-2.5-5.5-2.6-4-3-3.3-3.2-2.8-3-2-5.8-2.7-12.1-4-10.1-2.2-10-1.6-18.2-2.1-32.2-2.1-32.2-1.4-48.3-1-138.9-1.9-247.7-0.5z"/>
<path fill="#ff4000" d="M297.6 757.6l571.3 0 0.1-14.1-1.2-16.1-2.9-16.2-3.6-12-2.8-6.1-2.7-4-3.7-4-2.4-2-4.4-2.7-6.1-2.9-14.1-4.1-14.1-2.5-16.4-1.9-31.9-2.3-32.2-1.4-46.3-1.1-136.9-2-249.7-0.6z"/>
<path fill="#ff3b00" d="M297.6 757.6l564.8 0 0.1-12.1-1.1-16.1-1.3-8.1-1.9-8-2.4-8.1-2.4-6-2-4.1-2.8-4-3.3-3.6-3.1-2.4-3-2-6-3-12.1-3.9-16.1-3.1-30.2-2.9-42.3-2.3-32.2-1-96.6-1.8-114.8-1.1-191.3-0.2z"/>
<path fill="#ff3600" d="M297.6 757.6l557.6 0 0.2-12.1-1-14.1-1.1-6.6-1.8-7.5-4.2-12.5-2.8-5.6-2.6-4.1-3.4-4-3.3-2.9-4.6-3.1-3.8-2-9.7-3.6-14.1-3.2-14.1-1.8-16.1-1.6-38.3-2.3-36.2-1.2-108.7-2.3-114.8-1-177.2-0.2z"/>
<path fill="#ff3200" d="M297.6 757.6l549.7 0 0.2-10.1-1-14.1-1.2-7-1.9-7.1-2.9-8.1-2.8-6-3.5-6-3-3.9-4.1-3.9-3-2.3-7.3-4-12-4.1-15.9-2.9-16.1-2-14.1-1.2-34.2-2-136.9-3.5-112.8-1-177.2-0.3z"/>
<path fill="#ff2d00" d="M297.6 757.6l540.6 0 0.3-10.1-0.4-8.1-0.9-6.7-1.6-7.4-2-6-2.5-6-3.1-6.1-4.1-6-3.4-4-3.4-3.1-4.2-3-8.4-4-6.1-2-8.1-2-17.5-3.1-16.1-1.8-16.1-1.4-32.3-1.7-124.8-3.4-110.7-1-175.2-0.3z"/>
<path fill="#ff2800" d="M297.6 757.6l530.6 0 0.3-10.1-1.1-12.1-1.3-6-1.9-6.1-2.7-6-3.4-6.1-4.3-6-3.7-4-4.8-4-3.1-2.1-9.3-4.3-14.1-4.3-20.1-3.7-18.1-2.1-32.3-2.2-128.8-4.3-112.7-1.1-169.2-0.3z"/>
<path fill="#ff2300" d="M297.6 757.6l519.1 0 0.4-10.1-0.4-6.1-0.9-6-1.7-6-2.5-6.1-2.6-4.6-3.9-5.4-3.6-4.1-4.6-4.2-5.4-3.8-6.6-3.8-10.1-4.3-14.4-4-19.8-3.4-20.2-2.2-28.2-1.9-80.5-3.4-44.3-1.5-110.7-1.1-159.1-0.2z"/>
<path fill="#ff1f00" d="M297.6 757.6l505.2 0 0.6-10.1-0.6-6.1-1.3-6-2.4-6-2.2-4.1-2.9-4-3.6-4-5.5-5.1-6.1-4.6-6-3.7-6.1-3.2-6-2.5-8.1-2.7-16.1-3.8-16.4-2.6-19.4-2-26.6-1.8-62.4-3.6-48.3-2-106.7-1.3-159.1-0.3z"/>
<path fill="#ff1a00" d="M297.6 757.6l487.3 0 0.8-8.1-0.4-6-0.9-4.1-2.2-6-2.2-4-2.9-4.1-3.8-4-8.6-6.8-5.2-3.3-7.7-4-7.2-3-8.1-2.9-16.2-4.1-16-2.8-31.2-3.3-61.4-5-52.3-2.9-106.7-1.6-155.1-0.3z"/>
<path fill="#ff1500" d="M297.6 757.6l466.2 0 0.8-4.1 0.2-4-0.6-6-1.1-4.1-1.8-4-2.5-4-3.5-4-4.7-4-9.7-6.1-12.4-5.7-14.1-4.6-16.3-3.8-25.9-4-68.5-8.2-26.2-2.1-24.2-1.2-48.3-1.3-56.4-0.9-151-0.4z"/>
<path fill="#ff1100" d="M297.6 757.6l440.1 0 1.1-4.1 0.4-4-0.3-4-1.2-4.1-2-4-3.2-4-4.4-4-5.7-3.8-6-3.1-6-2.5-12.1-3.9-18.1-4.3-57.6-10.6-23-3.6-22.1-2.5-20.1-1.5-64.5-2.3-78.5-1.2-116.8-0.2z"/>
<path fill="#ff0c00" d="M297.6 757.6l405.3 0 1.9-4.1 0.6-4-0.6-4-0.7-2-1.8-2.9-2.8-3.2-5.2-3.9-3.8-2.1-10.3-4.5-18.5-5.6-43.9-11-18.2-3.9-24.1-3.9-18.1-1.8-22.2-1.4-64.4-2.5-68.5-1-104.7-0.2z"/>
<path fill="#ff0700" d="M297.6 757.6l356.7 0 2.4-4.1 0.9-4-0.8-4-1.1-2-3.3-4.1-5.2-4-3.3-2-12.3-6-16.3-6.1-13.8-4-16-3.7-20.1-3.4-16.1-1.8-30.2-2.2-60.4-2.7-62.4-1-98.7-0.3z"/>
<path fill="#ff0200" d="M297.6 757.6l318.1 0 2-4.1 0.7-4-0.6-4-0.9-2-2.9-4.1-4.3-3.8-3.2-2.2-7.6-4-9.3-3.7-8.1-2.4-14.1-3.2-14.1-2.1-22.1-2.2-26.2-2-54.3-2.7-60.4-1.1-92.7-0.3z"/>
<path fill="#ff0000" d="M297.6 757.6l285.4 0 2.6-4.1 0.8-4-0.8-4-2.7-4.1-4.9-4-7.9-4-8.7-3-10.1-2.3-30.2-4.2-40.2-3.4-46.4-2.1-52.3-0.9-84.6-0.2z"/>
<path fill="#ff0000" d="M297.6 757.6l242 0 3.5-2.1 2.4-2 1.3-2 0.5-2-0.5-2-1.3-2-2.4-2-3.5-2.1-4.4-1.8-6.6-2.2-7.9-2-11.7-2.3-12-1.8-16.7-1.9-31.7-2.4-38.2-1.5-42.3-0.7-70.5-0.1z"/>
<path fill="#ff0000" d="M297.6 757.6l180.9 0 6-2.1 3.9-2 2.3-2 0.7-2-0.7-2-2.3-2-3.9-2-6-2.1-8.6-2-9.2-1.5-22-2.5-24.3-1.5-28.2-1-88.6-0.4z"/>
<path fill="#ff0000" d="M297.6 757.6l81.4 0 11.3-0.6 17.5-1.5 12.3-2 5.9-2 1.8-2-1.8-2-5.9-2-12.3-2-13.5-1.2-34.2-1.4-62.5-0.2z"/>
</g></g>
<g clip-path="url(#cr)"><g filter="url(#bl)" shape-rendering="crispEdges">
<path fill="#0004ff" d="M1102.9 757.6l1296.6 0 0-434.9-1296.6 0z"/>
<path fill="#0007ff" d="M1102.9 757.6l1296.6 0 0-430.8-213.4-0.1 0-4-1083.2 0z"/>
<path fill="#000aff" d="M1102.9 757.6l1296.6 0 0-430.5-213.4-0.3-0.1-4.1-1083.1 0z"/>
<path fill="#000dff" d="M1102.9 757.6l1296.6 0 0-430.2-213.4-0.5-0.2-4.2-1083 0z"/>
<path fill="#0010ff" d="M1102.9 757.6l1296.6 0 0-430-213.4-0.6-0.3-4.3-1082.9 0z"/>
<path fill="#0012ff" d="M1102.9 757.6l1296.6 0 0-429.7-213.4-0.9-0.3-4.3-1082.9 0z"/>
<path fill="#0015ff" d="M1102.9 757.6l1296.6 0 0-429.4-213.4-1.1-0.4-0.4 0-4-1082.8 0z"/>
<path fill="#0018ff" d="M1102.9 757.6l1296.6 0 0-429.1-213.4-1.3-0.5-0.5 0-4-1082.7 0z"/>
<path fill="#001bff" d="M1102.9 757.6l1296.6 0 0-428.8-213.4-1.5-0.5-0.6 0-4-1082.7 0z"/>
<path fill="#001eff" d="M1102.9 757.6l1296.6 0 0-428.5-213.4-1.7-0.6-0.7 0-4-1082.6 0z"/>
<path fill="#0021ff" d="M1102.9 757.6l1296.6 0 0-428.3-213.4-1.9-0.7-0.7 0-4-1082.5 0z"/>
<path fill="#0023ff" d="M1102.9 757.6l1296.6 0 0-428-213.4-2.1-0.8-0.8 0-4-1082.4 0z"/>
<path fill="#0026ff" d="M1102.9 757.6l1296.6 0 0-427.7-213.4-2.3-0.8-0.9 0-4-1082.4 0z"/>
<path fill="#0029ff" d="M1102.9 757.6l1296.6 0 0-427.4-213.4-2.5-0.9-1 0-4-1082.3 0z"/>
<path fill="#002cff" d="M1102.9 757.6l1296.6 0 0-427.1-120.8-1.9-92.6-0.9-1-1 0-4-1082.2 0z"/>
<path fill="#002fff" d="M1102.9 757.6l1296.6 0 0-426.8-120.8-2-92.6-1-1-1.1-0.1-4-1082.1 0z"/>
<path fill="#0032ff" d="M1102.9 757.6l1296.6 0 0-426.6-124.8-2.1-88.6-1-1.1-1.2 0-4-1082.1 0z"/>
<path fill="#0034ff" d="M1102.9 757.6l1296.6 0 0-426.4-128.9-2.3-84.5-0.9-1.2-1.3 0-4-1082 0z"/>
<path fill="#0037ff" d="M1102.9 757.6l1296.6 0 0-426.1-128.9-2.4-84.5-1-1.3-1.4 0-4-1081.9 0z"/>
<path fill="#003aff" d="M1102.9 757.6l1296.6 0 0-425.9-132.9-2.6-80.5-1-1.3-1.4 0-4-1081.9 0z"/>
<path fill="#003dff" d="M1102.9 757.6l1296.6 0 0-425.7-132.9-2.6-80.5-1.1-1.4-1.5 0-4-1081.8 0z"/>
<path fill="#0040ff" d="M1102.9 757.6l1296.6 0 0-425.4-136.9-2.9-76.5-1-1.5-1.6 0-4-1081.7 0z"/>
<path fill="#0043ff" d="M1102.9 757.6l1296.6 0 0-425.2-136.9-2.9-76.5-1.1-1.5-1.7-0.1-4-1081.6 0z"/>
<path fill="#0045ff" d="M1102.9 757.6l1296.6 0 0-425-140.9-3.1-72.5-1-1.6-1.8 0-4-1081.6 0z"/>
<path fill="#0048ff" d="M1102.9 757.6l1296.6 0 0-424.7-140.9-3.3-72.5-1.1-1.7-1.8 0-4-1081.5 0z"/>
<path fill="#004bff" d="M1102.9 757.6l1296.6 0 0-424.5-140.9-3.3-72.5-1.2-1.8-1.9 0-4-1081.4 0z"/>
<path fill="#004eff" d="M1102.9 757.6l1296.6 0 0-424.3-140.9-3.4-72.5-1.2-1.8-2 0-4-1081.4 0z"/>
<path fill="#0051ff" d="M1102.9 757.6l1296.6 0 0-424-145-3.7-68.4-1.1-1.9-2.1 0-4-1081.3 0z"/>
<path fill="#0054ff" d="M1102.9 757.6l1296.6 0 0-423.8-145-3.7-68.4-1.3-2-2.1 0-4-1081.2 0z"/>
<path fill="#0056ff" d="M1102.9 757.6l1296.6 0 0-423.6-145-3.8-68.4-1.3-2.1-2.2 0-4-1081.1 0z"/>
<path fill="#0059ff" d="M1102.9 757.6l1296.6 0 0-423.3-145-4-68.4-1.3-2.1-2.3 0-4-1081.1 0z"/>
<path fill="#005cff" d="M1102.9 757.6l1296.6 0 0-423.1-149-4.2-64.4-1.2-2.2-2.4 0-4-1081 0z"/>
<path fill="#005fff" d="M1102.9 757.6l1296.6 0 0-422.9-149-4.3-64.4-1.2-2.3-2.5 0-4-1080.9 0z"/>
<path fill="#0062ff" d="M1102.9 757.6l1296.6 0 0-422.5-145-4.4-68.4-1.5-2.3-2.5 0-4-1080.9 0z"/>
<path fill="#0065ff" d="M1102.9 757.6l1296.6 0 0-422.2-146.6-4.7-66.8-1.4-2.4-2.6 0-4-1080.8 0z"/>
<path fill="#0067ff" d="M1102.9 757.6l1296.6 0 0-421.9-150.8-5-62.6-1.3-2.5-2.7 0-4-1080.7 0z"/>
<path fill="#006aff" d="M1102.9 757.6l1296.6 0 0-421.5-154.9-5.4-58.5-1.2-2.6-2.8 0-4-1080.6 0z"/>
<path fill="#006dff" d="M1102.9 757.6l1296.6 0 0-421.2-158.9-5.7-54.5-1.2-2.6-2.8 0-4-1080.6 0z"/>
<path fill="#0070ff" d="M1102.9 757.6l1296.6 0 0-420.8-162.8-6.1-50.6-1.1-2.7-2.9 0-4-1080.5 0z"/>
<path fill="#0073ff" d="M1102.9 757.6l1296.6 0 0-420.5-166.5-6.4-46.9-1-2.8-3 0-4-1080.4 0z"/>
<path fill="#0076ff" d="M1102.9 757.6l1296.6 0 0-420.2-63-2.6-77.9-2.6-29.3-1.5-43.2-0.9-2.8-3.1 0-4-1080.4 0z"/>
<path fill="#0078ff" d="M1102.9 757.6l1296.6 0 0-419.8-69.6-3-75.4-2.6-28.8-1.5-39.6-0.8-2.9-3.2 0-4-1080.3 0z"/>
<path fill="#007bff" d="M1102.9 757.6l1296.6 0 0-419.5-76-3.3-73-2.5-28.3-1.6-36.1-0.8-3-3.2 0-4-1080.2 0z"/>
<path fill="#007eff" d="M1102.9 757.6l1296.6 0 0-419.2-48.3-1.8-33.9-1.8-70.8-2.5-27.8-1.6-32.6-0.7-3.1-3.3 0-4-1080.1 0z"/>
<path fill="#0081ff" d="M1102.9 757.6l1296.6 0 0-418.8-52.4-2-35.8-2-68.9-2.4-27.1-1.7-29.2-0.6-3.1-3.4 0-4-1080.1 0z"/>
<path fill="#0084ff" d="M1102.9 757.6l1296.6 0 0-418.3-60.4-2.5-33.7-2-71-2.6-22.5-1.5-25.8-0.5-3.2-3.5 0-4-1080 0z"/>
<path fill="#0087ff" d="M1102.9 757.6l1296.6 0 0-417.7-68.5-3.2-31.3-1.9-65.3-2.3-25.8-1.8-22.5-0.5-3.3-3.5 0-4-1079.9 0z"/>
<path fill="#0089ff" d="M1102.9 757.6l1296.6 0 0-417.1-76.5-3.8-29-1.9-55.6-1.9-33.2-2.2-19.1-0.4-3.3-3.6-0.1-4-1079.8 0z"/>
<path fill="#008cff" d="M1102.9 757.6l1296.6 0 0-416.5-38-2.3-46.6-2.2-26.6-1.8-57.9-2-28.5-2.1-15.8-0.3-3.4-3.7 0-4-1079.8 0z"/>
<path fill="#008fff" d="M1102.9 757.6l1296.6 0 0-415.9-47.1-2.9-41.5-2-28.2-2-56.4-2-27.8-2.1-12.4-0.2-3.5-3.8 0-4-1079.7 0z"/>
<path fill="#0092ff" d="M1102.9 757.6l1296.6 0 0-415.3-96.7-5.5-25.9-2-54.6-1.9-16.1-0.9-11.1-1.3-9-0.1-3.6-3.9 0-4-1079.6 0z"/>
<path fill="#0095ff" d="M1102.9 757.6l1296.6 0 0-414.7-40.3-2.1-24.6-2-35.8-1.8-27.9-2.2-56.6-2-12.1-0.8-10.6-1.3-5.5-0.1-3.6-3.9 0-4-1079.6 0z"/>
<path fill="#0098ff" d="M1102.9 757.6l1296.6 0 0-413.6-52.4-3.3-21.2-1.9-39.2-2.2-22.1-1.8-46.3-1.5-20.1-1.2-12.1-1.4-3.7-4 0-4-1079.5 0z"/>
<path fill="#009aff" d="M1102.9 757.6l1296.6 0 0-412.4-28.7-2.4-31.7-1.9-21.9-2.1-34.5-2-24.6-2-43.8-1.4-20.2-1.2-8-1-3.8-4.5 0-4-1079.4 0z"/>
<path fill="#009dff" d="M1102.9 757.6l1296.6 0 0-411.3-68.5-5.1-22.4-2.4-33.9-2-23.6-2-44.9-1.4-16.1-0.9-4-0.5-1.3-1.3-2.5-4-0.1-4-1079.3 0z"/>
<path fill="#00a0ff" d="M1102.9 757.6l1296.6 0 0-409.4-12.3-1.4-28-1.9-16.8-2.1-23.4-1.7-19.3-2.3-33.1-1.9-23.4-2.1-41-1.1-16.1-0.9-2.2-2.1-1.7-4 0-4-1079.3 0z"/>
<path fill="#00a3ff" d="M1102.9 757.6l1296.6 0 0-406.9-20.2-1.7-16.3-2.2-19.9-1.7-14.8-2.3-21.4-1.8-16.5-2.2-35.9-2.1-20.5-1.9-47.9-1.2-3.1-2.9-0.9-4 0-4-1079.2 0zM2194.1 524.2l-12.1-4.2-0.4-4-1.6-24.2-0.4-32.2 1.1-24.2 1.3-13.9 8.1-1.6 8.1-0.9 12 0.5 8.1 1.8 4 1.4 8.1 4.1 8 6.1 6.1 6.6 6 9.3 2.9 6.8 1.1 3.9 1.4 8.1-0.3 12.1-1.1 5.9-1.8 6.2-3.6 8.1-2.6 4.3-4.1 5.3-4 4.1-4 3.2-8.1 4.8-4 1.6-8 2-8.1 0.6-4-0.2z"/>
<path fill="#00a6ff" d="M1102.9 757.6l19.1 0-2.7-302 1.2-4.1 0-128.8-17.6 0zM2113.9 757.6l285.6 0 0-399.3-12.1-1.9-6.1-1.5-10-1.4-10.9-2.6-13.3-2-7.9-2.1-12.2-1.5-12.9-2.5-19.3-1.9-14.6-2.1-37.8-2.1-21.2-1.9-35.1-0.4-4-3.7-0.1-2.3-1.8 10.4-0.5 12.1 0.6 12.1 1.7 9.7 12.1 4.7 12.1 3.5 27.7 6.2 15.1 4 10 4.1 6.2 4 3.9 4 2.7 4 6.9 14.7 3.7 5.5 4.5 8 5 12.1 2.2 8.1 0.3 4 0 8-1 8.1-1.8 8.1-4.2 12-3.8 8.1-4.9 8.2-8.1 16-4.7 8-7.3 10.6-22.8 29.7-4.9 8-5.9 12.1-4.5 12.1-6.2 20.1-32.3 117-4 4.3z"/>
<path fill="#00a9ff" d="M1102.9 757.6l15.8 0-0.8-302 0.4-4.1 0-128.8-15.4 0zM2239.9 375l18.7 1.7 16.1 0.4 8-0.8 12.1-2.3 12.1-3.4 8-3.3 4.1-2.1 3.6-2.2 4.4-4.1 1.7-4-2.5-4-9-4.1-10.3-1.9-7.6-2.1-32.1-4-48.9-2-16.1 0.2-8.4 1.8-5.4 4-3 4-0.9 4.1 1 4 3.2 4 5.5 4.1 8.6 4 11.5 3.5 12 2.6z"/>
<path fill="#00abff" d="M1102.9 757.6l14.6 0-0.8-302 0.4-4.1 0-128.8-14.2 0zM2246.1 367l8.4 0.4 12.1-0.3 8.1-0.7 8-1.7 5.3-1.7 7.9-4.1 4.1-4 0.5-4-4.5-4.1-13.6-4-40.2-4-15.7 0-4.2 0.6-4 1-6.4 2.4-4.8 4-1.5 4.1 1.6 4 5.1 4 6 2.7 8 2.4 8.1 1.6z"/>
<path fill="#00aeff" d="M1102.9 757.6l13.4 0-0.8-302 0.4-4.1 0-128.8-13 0zM2237.1 354.9l9.4 1.9 12.1 0.2 10.4-2.1 4-4-5.4-4.1-1-0.1-12.1-1.5-12.1 0.4-5.6 1.2-4 4.1z"/>
<path fill="#00b1ff" d="M1102.9 757.6l12.1 0-0.1-434.9-12 0z"/>
<path fill="#00b4ff" d="M1102.9 757.6l11.8 0-0.1-434.9-11.7 0z"/>
<path fill="#00b7ff" d="M1102.9 757.6l11.5 0-0.1-434.9-11.4 0z"/>
<path fill="#00baff" d="M1102.9 757.6l11.2 0 0-434.9-11.2 0z"/>
<path fill="#00bcff" d="M1102.9 757.6l10.9 0 0-434.9-10.9 0z"/>
<path fill="#00bfff" d="M1102.9 757.6l10.6 0 0-434.9-10.6 0z"/>
<path fill="#00c2ff" d="M1102.9 757.6l10.3 0 0-434.9-10.3 0z"/>
<path fill="#00c5ff" d="M1102.9 757.6l10 0 0-434.9-10 0z"/>
<path fill="#00c8ff" d="M1102.9 757.6l9.7 0 0-434.9-9.7 0z"/>
<path fill="#00cbff" d="M1102.9 757.6l9.5 0-0.1-434.9-9.4 0z"/>
<path fill="#00cdff" d="M1102.9 757.6l9.2 0-0.1-434.9-9.1 0z"/>
<path fill="#00d0ff" d="M1102.9 757.6l8.9 0-0.1-434.9-8.8 0z"/>
<path fill="#00d3ff" d="M1102.9 757.6l8.6 0-0.1-434.9-8.5 0z"/>
<path fill="#00d6ff" d="M1102.9 757.6l8.3 0-0.1-434.9-8.2 0z"/>
</g></g>
<use href="#geo"/><use href="#ax"/>
<text x="146.0" y="103.2" style="font-size:73.3px" letter-spacing="1.6">(c)</text>
<text x="305.5" y="238.4">Velocity Magnitude, m/s:</text>
<text x="1215.0" y="237.8" text-anchor="middle">2.0</text>
<text x="1414.5" y="237.8" text-anchor="middle">3.6</text>
<text x="1614.0" y="237.8" text-anchor="middle">5.2</text>
<text x="1813.5" y="237.8" text-anchor="middle">6.8</text>
<text x="2013.0" y="237.8" text-anchor="middle">8.4</text>
<text x="2212.5" y="237.8" text-anchor="middle">10.0</text>
<text x="231.9" y="774.2" text-anchor="end">0</text>
<text x="231.9" y="693.7" text-anchor="end">10</text>
<text x="231.9" y="613.1" text-anchor="end">20</text>
<text x="231.9" y="532.6" text-anchor="end">30</text>
<text x="231.9" y="452.1" text-anchor="end">40</text>
<text x="231.9" y="371.5" text-anchor="end">50</text>
<text x="231.9" y="291.0" text-anchor="end">60</text>
<text x="305.1" y="863.0" text-anchor="middle">-100</text>
<text x="506.4" y="863.0" text-anchor="middle">-75</text>
<text x="707.7" y="863.0" text-anchor="middle">-50</text>
<text x="909.1" y="863.0" text-anchor="middle">-25</text>
<text x="1110.4" y="863.0" text-anchor="middle">0</text>
<text x="1311.7" y="863.0" text-anchor="middle">25</text>
<text x="1513.1" y="863.0" text-anchor="middle">50</text>
<text x="1714.4" y="863.0" text-anchor="middle">75</text>
<text x="1915.7" y="863.0" text-anchor="middle">100</text>
<text x="2117.0" y="863.0" text-anchor="middle">125</text>
<text x="2318.3" y="863.0" text-anchor="middle">150</text>
<text transform="translate(1282.4 953.7) scale(0.981 1)">x/D<tspan font-size="44.0" dx="1.2" dy="21.7">H</tspan></text>
<text transform="translate(101.2 576.3) rotate(-90) scale(0.981 1)">y/D<tspan font-size="44.0" dx="1.2" dy="21.7">H</tspan></text>
</g>
<g transform="translate(0 3009.30)">
<rect x="1116.5" y="42.1" width="1195.1" height="109.0" fill="url(#cb)"/>
<g clip-path="url(#cl)"><g filter="url(#bl)" shape-rendering="crispEdges">
<path fill="#0005ff" d="M297.6 757.6l819.4 0 0-438.9-2 0-2 2-2 0-2 2-2 0-2 2-2.1 0-2 2-2 0-2 2-2 0-2 2-2 0-2 2.1-2.1 0-2 2-2 0-2 2-2 0-2 2-2 0-2.1 2-2 0-2 2-2 0-2 2-2 0-2 2-2 0-2.1 2.1-2 0-2 2-2 0-2 2-2 0-2 2-2.1 0-2 2-2 0-2 2-2 0-2 2-2 0-2 2.1-2.1 0-2 2-2 0-2 2-2 0-2 2-2 0-2 2-2.1 0-2 2-2 0-2 2-2 0-2 2-2 0-2.1 2.1-2 0-2 2-2 0-2 2-2 0-2 2-2 0-2.1 2-2 0-2 2-2 0-2 2-4 0-2.1 2.1-2 0-2 2-2 0-2 2-2 0-2 2-2 0-2.1 2-2 0-2 2-2 0-2 2-2 0-2 2-2.1 0-2 2.1-2 0-2 2-2 0-2 2-2 0-2 2-2.1 0-2 2-2 0-2 2-2 0-2 2-2 0-2.1 2.1-2 0-2 2-2 0-2 2-2 0-2 2-2 0-2.1 2-2 0-2 2-2 0-2 2-2 0-2 2-2.1 0-2 2.1-2 0-2 2-2 0-2 2-2 0-2 2-2.1 0-2 2-2 0-2 2-2 0-2 2-2 0-2 2.1-2.1 0-2 2-2 0-2 2-2 0-2 2-2 0-2.1 2-2 0-2 2-2 0-2 2-2 0-2 2-4.1 0-2 2.1-2 0-2 2-2 0-2 2-2 0-2.1 2-2 0-2 2-2 0-2 2-2 0-2 2-2 0-2.1 2.1-2 0-2 2-2 0-2 2-2 0-2 2-2.1 0-2 2-2 0-2 2-2 0-2 2-2 0-2 2-2.1 0-2 2.1-2 0-2 2-2 0-2 2-2 0-2.1 2-2 0-2 2-2 0-2 2-2 0-2 2-2 0-2.1 2-2 0-2 2.1-2 0-2 2-2 0-2 2-2.1 0-2 2-2 0-2 2-2 0-2 2-2 0-2 2-2.1 0-2 2.1-2 0-2 2-2 0-2 2-2 0-2 2-2.1 0-2 2-2 0-2 2-2 0-2 2-2 0-2.1 2-4 0-2 2.1-2 0-2 2-2 0-2 2-2.1 0-2 2-2 0-2 2-342.3 0z"/>
<path fill="#000eff" d="M297.6 757.6l819.4 0 0-438.9-2 0-2 2-2 0-2 2-2 0-2 2-2.1 0-2 2-2 0-2 2-2 0-2 2-2 0-2 2.1-2.1 0-2 2-2 0-2 2-2 0-2 2-2 0-2.1 2-2 0-2 2-2 0-2 2-2 0-2 2-2 0-2.1 2.1-2 0-2 2-2 0-2 2-2 0-2 2-2.1 0-2 2-2 0-2 2-2 0-2 2-2 0-2 2.1-2.1 0-2 2-2 0-2 2-2 0-2 2-2 0-2 2-2.1 0-2 2-2 0-2 2-2 0-2 2-2 0-2.1 2.1-2 0-2 2-2 0-2 2-2 0-2 2-2 0-2.1 2-2 0-2 2-2 0-2 2-4 0-2.1 2.1-2 0-2 2-2 0-2 2-2 0-2 2-2 0-2.1 2-2 0-2 2-2 0-2 2-2 0-2 2-2.1 0-2 2.1-2 0-2 2-2 0-2 2-2 0-2 2-2.1 0-2 2-2 0-2 2-2 0-2 2-2 0-2.1 2.1-2 0-2 2-2 0-2 2-2 0-2 2-2 0-2.1 2-2 0-2 2-2 0-2 2-2 0-2 2-2.1 0-2 2.1-2 0-2 2-2 0-2 2-2 0-2 2-2.1 0-2 2-2 0-2 2-2 0-2 2-2 0-2 2.1-2.1 0-2 2-2 0-2 2-2 0-2 2-2 0-2.1 2-2 0-2 2-2 0-2 2-2 0-2 2-4.1 0-2 2.1-2 0-2 2-2 0-2 2-2 0-2.1 2-2 0-2 2-2 0-2 2-2 0-2 2-2 0-2.1 2.1-2 0-2 2-2 0-2 2-2 0-2 2-2.1 0-2 2-2 0-2 2-2 0-2 2-2 0-2 2-2.1 0-2 2.1-2 0-2 2-2 0-2 2-2 0-2.1 2-2 0-2 2-2 0-2 2-2 0-2 2-2 0-2.1 2-2 0-2 2.1-2 0-2 2-2 0-2 2-2.1 0-2 2-2 0-2 2-2 0-2 2-2 0-2 2-2.1 0-2 2.1-2 0-2 2-2 0-2 2-2 0-2 2-2.1 0-2 2-2 0-2 2-2 0-2 2-2 0-2.1 2-4 0-2 2.1-2 0-2 2-2 0-2 2-2.1 0-2 2-2 0-2 2-342.3 0zM976.1 462.7l-1.7-1.1 4.6-4 19.3-13.1 10-7.9 2-1.2 2.1-0.5 1.2 0.5 0.6 2-0.8 6.1-1.2 4-1.9 2.9-2 1.4-10 2.5-17.7 7.3z"/>
<path fill="#0018ff" d="M297.6 757.6l819.4 0 0-438.9-2 0-2 2-2 0-2 2-2 0-2 2-2.1 0-2 2-2 0-2 2-2 0-2 2-2 0-2 2.1-2.1 0-2 2-2 0-2 2-2 0-2 2-2 0-2.1 2-2 0-2 2-2 0-2 2-2 0-2 2-2 0-2.1 2.1-2 0-2 2-2 0-2 2-2 0-2 2-2.1 0-2 2-2 0-2 2-2 0-2 2-2 0-2 2.1-2.1 0-2 2-2 0-2 2-2 0-2 2-2 0-2 2-2.1 0-2 2-2 0-2 2-2 0-2 2-2 0-2.1 2.1-2 0-2 2-2 0-2 2-2 0-2 2-2 0-2.1 2-2 0-2 2-2 0-2 2-4 0-2.1 2.1-2 0-2 2-2 0-2 2-2 0-2 2-2 0-2.1 2-2 0-2 2-2 0-2 2-2 0-2 2-2.1 0-2 2.1-2 0-2 2-2 0-2 2-2 0-2 2-2.1 0-2 2-2 0-2 2-2 0-2 2-2 0-2.1 2.1-2 0-2 2-2 0-2 2-2 0-2 2-2 0-2.1 2-2 0-2 2-2 0-2 2-2 0-2 2-2.1 0-2 2.1-2 0-2 2-2 0-2 2-2 0-2 2-2.1 0-2 2-2 0-2 2-2 0-2 2-2 0-2 2.1-2.1 0-2 2-2 0-2 2-2 0-2 2-2 0-2.1 2-2 0-2 2-2 0-2 2-2 0-2 2-4.1 0-2 2.1-2 0-2 2-2 0-2 2-2 0-2.1 2-2 0-2 2-2 0-2 2-2 0-2 2-2 0-2.1 2.1-2 0-2 2-2 0-2 2-2 0-2 2-2.1 0-2 2-2 0-2 2-2 0-2 2-2 0-2 2-2.1 0-2 2.1-2 0-2 2-2 0-2 2-2 0-2.1 2-2 0-2 2-2 0-2 2-2 0-2 2-2 0-2.1 2-2 0-2 2.1-2 0-2 2-2 0-2 2-2.1 0-2 2-2 0-2 2-2 0-2 2-2 0-2 2-2.1 0-2 2.1-2 0-2 2-2 0-2 2-2 0-2 2-2.1 0-2 2-2 0-2 2-2 0-2 2-2 0-2.1 2-4 0-2 2.1-2 0-2 2-2 0-2 2-2.1 0-2 2-2 0-2 2-342.3 0zM637.9 556.4l-0.5-0.2 0.9 0zM911.7 494.9l-1.1-1.1 5.3-4 16.9-10.1 25.2-13.6 28.2-17.6 10-6.8 12.1-9.7 6.1-4.2 4-1.8 2-0.4 2 1.2 0.6 2.6-0.1 2-2.7 16.1-1.8 6.1-1.1 2-1.8 2-3.1 1.2-10.1 0-6.1 1.6-30.2 14.4-8 2.9-29.1 12.1-11.3 4z"/>
<path fill="#0021ff" d="M297.6 757.6l819.4 0 0-438.9-2 0-2 2-2 0-2 2-2 0-2 2-2.1 0-2 2-2 0-2 2-2 0-2 2-2 0-2 2.1-2.1 0-2 2-2 0-2 2-2 0-2 2-2 0-2.1 2-2 0-2 2-2 0-2 2-2 0-2 2-2 0-2.1 2.1-2 0-2 2-2 0-2 2-2 0-2 2-2.1 0-2 2-2 0-2 2-2 0-2 2-2 0-2 2.1-2.1 0-2 2-2 0-2 2-2 0-2 2-2 0-2 2-2.1 0-2 2-2 0-2 2-2 0-2 2-2 0-2.1 2.1-2 0-2 2-2 0-2 2-2 0-2 2-2 0-2.1 2-2 0-2 2-2 0-2 2-4 0-2.1 2.1-2 0-2 2-2 0-2 2-2 0-2 2-2 0-2.1 2-2 0-2 2-2 0-2 2-2 0-2 2-2.1 0-2 2.1-2 0-2 2-2 0-2 2-2 0-2 2-2.1 0-2 2-2 0-2 2-2 0-2 2-2 0-2.1 2.1-2 0-2 2-2 0-2 2-2 0-2 2-2 0-2.1 2-2 0-2 2-2 0-2 2-2 0-2 2-2.1 0-2 2.1-2 0-2 2-2 0-2 2-2 0-2 2-2.1 0-2 2-2 0-2 2-2 0-2 2-2 0-2 2.1-2.1 0-2 2-2 0-2 2-2 0-2 2-2 0-2.1 2-2 0-2 2-2 0-2 2-2 0-2 2-4.1 0-2 2.1-2 0-2 2-2 0-2 2-2 0-2.1 2-2 0-2 2-2 0-2 2-2 0-2 2-2 0-2.1 2.1-2 0-2 2-2 0-2 2-2 0-2 2-2.1 0-2 2-2 0-2 2-2 0-2 2-2 0-2 2-2.1 0-2 2.1-2 0-2 2-2 0-2 2-2 0-2.1 2-2 0-2 2-2 0-2 2-2 0-2 2-2 0-2.1 2-2 0-2 2.1-2 0-2 2-2 0-2 2-2.1 0-2 2-2 0-2 2-2 0-2 2-2 0-2 2-2.1 0-2 2.1-2 0-2 2-2 0-2 2-2 0-2 2-2.1 0-2 2-2 0-2 2-2 0-2 2-2 0-2.1 2-4 0-2 2.1-2 0-2 2-2 0-2 2-2.1 0-2 2-2 0-2 2-342.3 0zM637.9 556.5l-0.9-0.3 0.9-0.3 0.7 0.3zM758.7 538.2l-2-0.1 2-0.3 2-1 0.2-0.7 3.8-1.1 1.7-0.9 25.1-8.1 27.9-8 33.9-8.8 6-2 44.3-18.6 52.4-25.9 18.1-10.4 18.1-11.4 20.2-15.8 12-8 4.1-1.5 2 0.7 0.6 1 0.5 2 0.1 4.1-0.8 6-6.5 21.4-2 5.7-2 3.9-2 2.3-2 1.1-4 0.4-8.1-0.7-4 0.9-7 3.2-22.5 12.1-36.3 16.1-21.1 8.1-30.7 10-22.6 6.1-26.2 6-44.9 8.1-13 2-11.3 1.3-2.8 0.7z"/>
<path fill="#002aff" d="M297.6 757.6l819.4 0 0-438.9-2 0-2 2-2 0-2 2-2 0-2 2-2.1 0-2 2-2 0-2 2-2 0-2 2-2 0-2 2.1-2.1 0-2 2-2 0-2 2-2 0-2 2-2 0-2.1 2-2 0-2 2-2 0-2 2-2 0-2 2-2 0-2.1 2.1-2 0-2 2-2 0-2 2-2 0-2 2-2.1 0-2 2-2 0-2 2-2 0-2 2-2 0-2 2.1-2.1 0-2 2-2 0-2 2-2 0-2 2-2 0-2 2-2.1 0-2 2-2 0-2 2-2 0-2 2-2 0-2.1 2.1-2 0-2 2-2 0-2 2-2 0-2 2-2 0-2.1 2-2 0-2 2-2 0-2 2-4 0-2.1 2.1-2 0-2 2-2 0-2 2-2 0-2 2-2 0-2.1 2-2 0-2 2-2 0-2 2-2 0-2 2-2.1 0-2 2.1-2 0-2 2-2 0-2 2-2 0-2 2-2.1 0-2 2-2 0-2 2-2 0-2 2-2 0-2.1 2.1-2 0-2 2-2 0-2 2-2 0-2 2-2 0-2.1 2-2 0-2 2-2 0-2 2-2 0-2 2-2.1 0-2 2.1-2 0-2 2-2 0-2 2-2 0-2 2-2.1 0-2 2-2 0-2 2-2 0-2 2-2 0-2 2.1-2.1 0-2 2-2 0-2 2-2 0-2 2-2 0-2.1 2-2 0-2 2-2 0-2 2-2 0-2 2-4.1 0-2 2.1-2 0-2 2-2 0-2 2-2 0-2.1 2-2 0-2 2-2 0-2 2-2 0-2 2-2 0-2.1 2.1-2 0-2 2-2 0-2 2-2 0-2 2-2.1 0-2 2-2 0-2 2-2 0-2 2-2 0-2 2-2.1 0-2 2.1-2 0-2 2-2 0-2 2-2 0-2.1 2-2 0-2 2-2 0-2 2-2 0-2 2-2 0-2.1 2-2 0-2 2.1-2 0-2 2-2 0-2 2-2.1 0-2 2-2 0-2 2-2 0-2 2-2 0-2 2-2.1 0-0.9 1 3.1-1 7.9-0.8 4 0.7 8.1 3 4 0.6 4 0.1 10.1-0.7 18.1-2 12.1-2.6 37-10.3 47.6-11.2 14.1-4.3 46.3-18.2 38.2-18.1 18.1-9.4 18.2-10.6 10-6.7 40.3-32 4-2.7 4-3.6 2-1.2 2.1-0.3 0.7 1.5 0.2 2 0 14.1-0.4 2-2.1 4-6.5 9.3-2.7 4.8-2.8 6.1-6.6 17.4-2 4.2-2 2.6-2 1.4-4 1.1-8.1-0.5-2 0.5-32.2 17.5-36.3 15.7-48.9 16.6-47.8 12.1-44.5 8-52.6 8.1-20.6 2-17.1 1.2-3.9 0.8-8.2 0.3-2.4-0.3-1.6-1.2-2-0.5-6.2-0.3 3.2-2-1-1.5-3.1-0.6 3.7-6 0.2-2-0.8-0.8-2-0.8-2 1.6-2.1 0-2 2-2 0-2 2-2 0-2 2-2 0-2.1 2-4 0-2 2.1-2 0-2 2-2 0-2 2-2.1 0-2 2-2 0-2 2-5.3 0-0.7 0.5-2.3-0.5-334 0zM637.9 556.6l-1.3-0.4 1.3-0.5 1 0.5z"/>
<path fill="#0034ff" d="M297.6 757.6l819.4 0 0-438.9-2 0-2 2-2 0-2 2-2 0-2 2-2.1 0-2 2-2 0-2 2-2 0-2 2-2 0-2 2.1-2.1 0-2 2-2 0-2 2-2 0-2 2-2 0-2.1 2-2 0-2 2-2 0-2 2-2 0-2 2-2 0-2.1 2.1-2 0-2 2-2 0-2 2-2 0-2 2-2.1 0-2 2-2 0-2 2-2 0-2 2-2 0-2 2.1-2.1 0-2 2-2 0-2 2-2 0-2 2-2 0-2 2-2.1 0-2 2-2 0-2 2-2 0-2 2-2 0-2.1 2.1-2 0-2 2-2 0-2 2-2 0-2 2-2 0-2.1 2-2 0-2 2-2 0-2 2-4 0-2.1 2.1-2 0-2 2-2 0-2 2-2 0-2 2-2 0-2.1 2-2 0-2 2-2 0-2 2-2 0-2 2-2.1 0-2 2.1-2 0-2 2-2 0-2 2-2 0-2 2-2.1 0-2 2-2 0-2 2-2 0-2 2-2 0-2.1 2.1-2 0-2 2-2 0-2 2-2 0-2 2-2 0-2.1 2-2 0-2 2-2 0-2 2-2 0-2 2-2.1 0-2 2.1-2 0-2 2-2 0-2 2-2 0-2 2-2.1 0-2 2-2 0-2 2-2 0-2 2-2 0-2 2.1-2.1 0-2 2-2 0-2 2-2 0-2 2-2 0-2.1 2-2 0-2 2-2 0-2 2-2 0-2 2-4.1 0-2 2.1-2 0-2 2-2 0-2 2-2 0-2.1 2-2 0-2 2-2 0-2 2-2 0-2 2-2 0-2.1 2.1-2 0-2 2-2 0-2 2-2 0-2 2-2.1 0-2 2-2 0-2 2-2 0-2 2-2 0-2 2-2.1 0-2 2.1-2 0-2 2-2 0-2 2-2 0-2.1 2-2 0-2 2-2 0-2 2-2 0-2 2-2 0-2.1 2-2 0-2 2.1-2 0-0.3 0.3 4.3-0.4 2 0.3 10.1 3 10.1 1.3 10-0.2 10.1-1.5 32.2-7.7 42.3-8.9 14.1-3.3 12.1-3.8 34.2-12.5 18.1-7.6 30.2-14.1 12.1-6 20.1-11.3 14.1-9.2 20.2-15.9 11-9.2 19.1-18.1 5.3-4.1 3.3-2 5.5-2.2 6.1-0.8 1 1-2.8 10.1 1.8 1.3 0.3 0.7-0.3 2-1.3 2-0.7 2.3-1.3 1.7-2.8 6-4 6.4-11.1 13.8-5.7 8-3 6.1-8.4 20.3-2 3.3-2 1.8-4 1.8-10.1 2.5-10.1 6.1-25.3 12.5-34.2 14.1-6.9 2.4-43.8 13.7-51.7 12.1-49.3 8-44.7 6.1-36 2.9-10 1.2-3.4-0.1-2.7-1.1-4-0.5-16.1 0.7-2 0.2-0.7 0.7-3.4 0.3-4-0.3 6.1-0.8 1.2-1.2 2.8-0.8 2.6-1.2 1.7-2 0.5-2.1 0.7-6-1.5 0-2 2-2 0-2 2-2 0-2.1 2-4 0-2 2.1-2 0-2 2-2 0-2 2-2.1 0-2 2-2 0-2 2-5 0-1 0.7-2.9-0.7-333.4 0zM637.9 556.7l-1.7-0.5 1.7-0.6 1.3 0.6zM643.9 556.3l-0.7-0.1 1.7 0zM652 554.4l-1.9-0.2 4.4 0z"/>
<path fill="#003dff" d="M297.6 757.6l819.4 0 0-438.9-2 0-2 2-2 0-2 2-2 0-2 2-2.1 0-2 2-2 0-2 2-2 0-2 2-2 0-2 2.1-2.1 0-2 2-2 0-2 2-2 0-2 2-2 0-2.1 2-2 0-2 2-2 0-2 2-2 0-2 2-2 0-2.1 2.1-2 0-2 2-2 0-2 2-2 0-2 2-2.1 0-2 2-2 0-2 2-2 0-2 2-2 0-2 2.1-2.1 0-2 2-2 0-2 2-2 0-2 2-2 0-2 2-2.1 0-2 2-2 0-2 2-2 0-2 2-2 0-2.1 2.1-2 0-2 2-2 0-2 2-2 0-2 2-2 0-2.1 2-2 0-2 2-2 0-2 2-4 0-2.1 2.1-2 0-2 2-2 0-2 2-2 0-2 2-2 0-2.1 2-2 0-2 2-2 0-2 2-2 0-2 2-2.1 0-2 2.1-2 0-2 2-2 0-2 2-2 0-2 2-2.1 0-2 2-2 0-2 2-2 0-2 2-2 0-2.1 2.1-2 0-2 2-2 0-2 2-2 0-2 2-2 0-2.1 2-2 0-2 2-2 0-2 2-2 0-2 2-2.1 0-2 2.1-2 0-2 2-2 0-2 2-2 0-2 2-2.1 0-2 2-2 0-2 2-2 0-2 2-2 0-2 2.1-2.1 0-2 2-2 0-2 2-2 0-2 2-2 0-2.1 2-2 0-2 2-2 0-2 2-2 0-2 2-4.1 0-2 2.1-2 0-2 2-2 0-2 2-2 0-2.1 2-2 0-2 2-2 0-2 2-2 0-2 2-2 0-2.1 2.1-2 0-2 2-2 0-2 2-2 0-2 2-2.1 0-2 2-2 0-2 2-2 0-2 2-2 0-2 2-2.1 0-2 2.1-2 0-2 2-2 0-2 2-2 0-2.1 2-2 0-0.3 0.3 6.4 0.2 8 2.4 4.1 0.7 10 0.3 12.1-1.6 42.3-7.2 22.1-4.2 14.1-3.5 26.2-8.7 22.1-8 20.2-8.6 24.1-11.1 14.1-7.1 16.1-9.1 14.1-9.3 18.1-14.1 11.8-10.1 19.3-18.1 5.1-4 7.5-4 10.7-3.2 4-1.9 0.4 1-0.4 4.1 0.2 6-1.1 2-1.1 3.6-12.1 22.6-9.2 12.1-8.5 12.1-3 6-8.6 20.1-1 2-1.9 2.2-4 2.3-10.1 4.5-8 5.3-33.2 15.9-36.9 14.1-41.1 12.1-7.8 2-46.1 10.1-39.3 6-57.4 7.3-46.3 3.6-8-1.6-8.1 0.1-18.1 1.8-1.5 0.9-2.5 0.3-4 0.1-0.9-0.4 6.9-0.9 0.5-1.1 5.5-1.4 6.5-2.6 2.3-2 0.7-2.1 1-6-0.4 0-2 2-2 0-2 2-2 0-2.1 2-4 0-2 2.1-2 0-2 2-2 0-2 2-2.1 0-2 2-2 0-2 2-4.7 0-1.3 0.9-3.4-0.9-332.9 0zM635.9 556.2l2-0.8 1.6 0.8-1.6 0.6zM641.9 556.2l2-0.3 2.4 0.3z"/>
<path fill="#0047ff" d="M297.6 757.6l819.4 0 0-438.9-2 0-2 2-2 0-2 2-2 0-2 2-2.1 0-2 2-2 0-2 2-2 0-2 2-2 0-2 2.1-2.1 0-2 2-2 0-2 2-2 0-2 2-2 0-2.1 2-2 0-2 2-2 0-2 2-2 0-2 2-2 0-2.1 2.1-2 0-2 2-2 0-2 2-2 0-2 2-2.1 0-2 2-2 0-2 2-2 0-2 2-2 0-2 2.1-2.1 0-2 2-2 0-2 2-2 0-2 2-2 0-2 2-2.1 0-2 2-2 0-2 2-2 0-2 2-2 0-2.1 2.1-2 0-2 2-2 0-2 2-2 0-2 2-2 0-2.1 2-2 0-2 2-2 0-2 2-4 0-2.1 2.1-2 0-2 2-2 0-2 2-2 0-2 2-2 0-2.1 2-2 0-2 2-2 0-2 2-2 0-2 2-2.1 0-2 2.1-2 0-2 2-2 0-2 2-2 0-2 2-2.1 0-2 2-2 0-2 2-2 0-2 2-2 0-2.1 2.1-2 0-2 2-2 0-2 2-2 0-2 2-2 0-2.1 2-2 0-2 2-2 0-2 2-2 0-2 2-2.1 0-2 2.1-2 0-2 2-2 0-2 2-2 0-2 2-2.1 0-2 2-2 0-2 2-2 0-2 2-2 0-2 2.1-2.1 0-2 2-2 0-2 2-2 0-2 2-2 0-2.1 2-2 0-2 2-2 0-2 2-2 0-2 2-4.1 0-2 2.1-2 0-2 2-2 0-2 2-2 0-2.1 2-2 0-2 2-2 0-2 2-2 0-2 2-2 0-2.1 2.1-2 0-2 2-2 0-2 2-2 0-2 2-2.1 0-2 2-2 0-2 2-2 0-2 2-2 0-0.3 0.3 6.3 0.5 8.1 2.1 10 0.4 24.2-1.5 26.2-3.5 16.1-3.2 14.1-3.7 30.2-9.8 18.1-6.6 20.1-8.5 20.1-9.3 16.1-8.2 14.1-8.1 14.1-9.6 16.1-12.6 8.1-6.7 20.2-18.7 5-4 5-3.3 4-1.9 12.1-3.6 2-1 6-4.9 0.6 0.6-0.6 1.9-1.4 2.1-1.5 4.1-0.2 2 0.5 4-0.2 2-2.2 4-1 3-10.1 19.5-19.2 27.9-11 25-2 3.4-2 1.8-11 6-9.1 6.6-28.2 13.8-8.7 3.8-31.6 11.8-6 1.8-45.8 12.5-48.8 10.1-42 6-50.8 6.1-48.2 3.5-6-1.3-4-0.2-16.1 0.7-14.1 2.1-2 0-1.9-0.8 5.9-1.3 1.3-0.7 4.7-1.3 6.1-2.4 2-1.1 1.4-1.2 0.9-2.1 1.2-5.5-1.5 1.5-2 0-2 2-2 0-2.1 2-4 0-2 2.1-2 0-2 2-2 0-2 2-2.1 0-2 2-2 0-2 2-4.4 0 0.4 1 2 0.1 1.9 0.9-1.9 0.7-2.4-0.7-1.6-0.9-3.9-1.1-332.4 0zM641.9 556.4l-1.5-0.2 5.5-0.5 1.3 0.5-3.3 0.4zM1074.8 369.3l-0.4-0.3 0.4-0.5z"/>
<path fill="#0050ff" d="M297.6 757.6l819.4 0 0-438.9-2 0-2 2-2 0-2 2-2 0-2 2-2.1 0-2 2-2 0-2 2-2 0-2 2-2 0-2 2.1-2.1 0-2 2-2 0-2 2-2 0-2 2-2 0-2.1 2-2 0-2 2-2 0-2 2-2 0-2 2-2 0-2.1 2.1-2 0-2 2-2 0-2 2-2 0-2 2-2.1 0-2 2-2 0-2 2-2 0-2 2-2 0-2 2.1-2.1 0-2 2-2 0-2 2-2 0-2 2-2 0-2 2-2.1 0-2 2-2 0-2 2-2 0-2 2-2 0-2.1 2.1-2 0-2 2-2 0-2 2-2 0-2 2-2 0-2.1 2-2 0-2 2-2 0-2 2-4 0-2.1 2.1-2 0-2 2-2 0-2 2-2 0-2 2-2 0-2.1 2-2 0-2 2-2 0-2 2-2 0-2 2-2.1 0-2 2.1-2 0-2 2-2 0-2 2-2 0-2 2-2.1 0-2 2-2 0-2 2-2 0-2 2-2 0-2.1 2.1-2 0-2 2-2 0-2 2-2 0-2 2-2 0-2.1 2-2 0-2 2-2 0-2 2-2 0-2 2-2.1 0-2 2.1-2 0-2 2-2 0-2 2-2 0-2 2-2.1 0-2 2-2 0-2 2-2 0-2 2-2 0-2 2.1-2.1 0-2 2-2 0-2 2-2 0-2 2-2 0-2.1 2-2 0-2 2-2 0-2 2-2 0-2 2-4.1 0-2 2.1-2 0-2 2-2 0-2 2-2 0-2.1 2-2 0-2 2-2 0-2 2-2 0-2 2-2 0-2.1 2.1-2 0-2 2-2 0-0.3 0.3 6.3 0.7 12.1 3.4 8.1 0.9 14.1-0.4 18.1-2.2 16.1-3 18.1-4.8 26.2-8.1 22.1-8.2 18.1-7.7 18.2-8.4 14.1-7.4 12-7 14.1-9.5 14.1-10.9 10.1-8.4 20.1-18 5.2-4 4.9-3 4-1.8 10.1-2.6 4-1.6 6.2-5.1 3.9-4.2 0.6 0.2-0.6 2.4-1.3 1.6-4.3 8-0.8 4.1 0.3 6-1.4 2-2.6 6.1-1.3 2-8.8 17.9-15.2 22.3-3.6 6.1-11.4 25.7-1.9 2.5-12.1 7.7-8.1 6.4-28.2 14.2-8.8 3.9-35.5 12.9-50.8 13.3-39.5 8-8.3 1.4-46.3 6.3-39.7 4.4-54 4-9-1.5-10.1 0.1-8 0.6-16.1 2.1-4.1 1.1-2 0.2-4-0.4-2 0.7-8.5-2.9-331.8 0zM1078.8 363.7l-0.3-0.7 0.3-0.3zM635.9 554.2l4 1.9 6-0.9 1.6-1 10.5-3.1 6.1-2.3 4.2-2.6 1.2-2.1 1.2-4.6-0.6 0.6-2 0-2 2-2 0-2.1 2-4 0-2 2.1-2 0-2 2-2 0-2 2-2.1 0-2 2-2 0-2 2z"/>
<path fill="#005aff" d="M297.6 757.6l819.4 0 0-438.9-2 0-2 2-2 0-2 2-2 0-2 2-2.1 0-2 2-2 0-2 2-2 0-2 2-2 0-2 2.1-2.1 0-2 2-2 0-2 2-2 0-2 2-2 0-2.1 2-2 0-2 2-2 0-2 2-2 0-2 2-2 0-2.1 2.1-2 0-2 2-2 0-2 2-2 0-2 2-2.1 0-2 2-2 0-2 2-2 0-2 2-2 0-2 2.1-2.1 0-2 2-2 0-2 2-2 0-2 2-2 0-2 2-2.1 0-2 2-2 0-2 2-2 0-2 2-2 0-2.1 2.1-2 0-2 2-2 0-2 2-2 0-2 2-2 0-2.1 2-2 0-2 2-2 0-2 2-4 0-2.1 2.1-2 0-2 2-2 0-2 2-2 0-2 2-2 0-2.1 2-2 0-2 2-2 0-2 2-2 0-2 2-2.1 0-2 2.1-2 0-2 2-2 0-2 2-2 0-2 2-2.1 0-2 2-2 0-2 2-2 0-2 2-2 0-2.1 2.1-2 0-2 2-2 0-2 2-2 0-2 2-2 0-2.1 2-2 0-2 2-2 0-2 2-2 0-2 2-2.1 0-2 2.1-2 0-2 2-2 0-2 2-2 0-2 2-2.1 0-2 2-2 0-2 2-2 0-2 2-2 0-2 2.1-2.1 0-2 2-2 0-2 2-2 0-2 2-2 0-2.1 2-2 0-2 2-2 0-2 2-2 0-2 2-4.1 0-2 2.1-2 0-2 2-2 0-2 2-2 0-2.1 2-2 0-1.9 2 8 4.3 4 1.2 4 0.7 6.1 0.4 8-0.1 18.1-1.9 18.2-3.7 26.1-7 18.1-5.8 20.2-7.7 16.1-7 14.1-6.6 12.1-6.3 12-7 12.1-8.1 14.1-10.5 34.9-29.5 5.4-3.5 4-1.9 4-1.4 8.1-1.8 4-1.5 4-2.8 8.1-8.3 0.9 1.1-0.8 2-2.8 4-4.4 8-0.8 4.1 0.2 4-0.4 2.6-1 1.4-5 10.9-8.1 16.2-17.5 27.3-10.8 24.1-2.4 4.1-3.5 2.8-7.9 5.2-9.7 8.1-27.5 14.1-9.1 4-34.4 12.4-46.3 11.8-50.7 10-46 6.1-36.1 3.8-16.2 1.6-34.2 2.1-4 0.5-8.1 0.4-8-1.5-10.1 0.1-10 0.8-12.1 1.6-6.1 1.2-2 0.2-4-0.4-2 0.6-9.2-3-331.1 0zM1080.8 361.7l-1-0.8 1-1.1 0.4 1.1zM1082.8 359l-0.3-0.1 0.3-0.7zM636.2 554.2l3.7 1.7 2-0.2 4-0.9 0.9-0.6 15.2-5 5.3-3 1.4-2.1 1.2-4-1.8 0-2 2-2 0-2.1 2-4 0-2 2.1-2 0-2 2-2 0-2 2-2.1 0-2 2-2 0-2 2z"/>
<path fill="#0063ff" d="M297.6 757.6l819.4 0 0-438.9-2 0-2 2-2 0-2 2-2 0-2 2-2.1 0-2 2-2 0-2 2-2 0-2 2-2 0-2 2.1-2.1 0-2 2-2 0-2 2-2 0-2 2-2 0-2.1 2-2 0-2 2-2 0-2 2-2 0-2 2-2 0-2.1 2.1-2 0-2 2-2 0-2 2-2 0-2 2-2.1 0-2 2-2 0-2 2-2 0-2 2-2 0-2 2.1-2.1 0-2 2-2 0-2 2-2 0-2 2-2 0-2 2-2.1 0-2 2-2 0-2 2-2 0-2 2-2 0-2.1 2.1-2 0-2 2-2 0-2 2-2 0-2 2-2 0-2.1 2-2 0-2 2-2 0-2 2-4 0-2.1 2.1-2 0-2 2-2 0-2 2-2 0-2 2-2 0-2.1 2-2 0-2 2-2 0-2 2-2 0-2 2-2.1 0-2 2.1-2 0-2 2-2 0-2 2-2 0-2 2-2.1 0-2 2-2 0-2 2-2 0-2 2-2 0-2.1 2.1-2 0-2 2-2 0-2 2-2 0-2 2-2 0-2.1 2-2 0-2 2-2 0-2 2-2 0-2 2-2.1 0-2 2.1-2 0-2 2-2 0-2 2-2 0-2 2-2.1 0-2 2-2 0-2 2-2 0-2 2-2 0-2 2.1-2.1 0-2 2-2 0-2 2-2 0-2 2-2 0-2.1 2-2 0-2 2-2 0-2 2-2 0-2 2-4.1 0-2 2.1-2 0-1.2 1.1 9.5 4.9 7.8 1.5 12.1 0.2 14.1-1.5 20.1-4 24.2-6.3 18.1-5.9 18.1-7 26.2-11.9 12.1-6.4 12.1-7.1 12-8.2 12.1-9 10.1-8.1 17.3-14.9 8.8-6.7 8.1-4.1 4-1.3 10.1-2.1 4-2.1 4-3.3 10.1-11 0.4 0.4-0.4 2.5-5.1 7.6-5.5 10-0.9 4.1-0.1 6-10.5 22.3-4.1 7.8-16.4 26.3-11.7 25.9-2.1 3-12.2 9.3-7.9 6.9-28.2 15-9.9 4.3-34.4 12.2-48.8 12-51.8 9.6-46.3 5.7-46.3 4.6-40.3 2.5-8.1 0.4-8-1.3-10.1 0.1-12.1 0.9-18.1 2.5-4-0.3-2 0.5-9.9-3.1-330.4 0zM1084.8 355.5l-0.6-0.6 0.6-1.5zM636.5 554.2l3.4 1.5 2-0.2 14.1-4.4 6-2.4 4.3-2.5 1.6-2.1 1.4-4-1.2 0-2 2-2 0-2.1 2-4 0-2 2.1-2 0-2 2-2 0-2 2-2.1 0-2 2-2 0-2 2z"/>
<path fill="#006dff" d="M297.6 757.6l819.4 0 0-438.9-2 0-2 2-2 0-2 2-2 0-2 2-2.1 0-2 2-2 0-2 2-2 0-2 2-2 0-2 2.1-2.1 0-2 2-2 0-2 2-2 0-2 2-2 0-2.1 2-2 0-2 2-2 0-2 2-2 0-2 2-2 0-2.1 2.1-2 0-2 2-2 0-2 2-2 0-2 2-2.1 0-2 2-2 0-2 2-2 0-2 2-2 0-2 2.1-2.1 0-2 2-2 0-2 2-2 0-2 2-2 0-2 2-2.1 0-2 2-2 0-2 2-2 0-2 2-2 0-2.1 2.1-2 0-2 2-2 0-2 2-2 0-2 2-2 0-2.1 2-2 0-2 2-2 0-2 2-4 0-2.1 2.1-2 0-2 2-2 0-2 2-2 0-2 2-2 0-2.1 2-2 0-2 2-2 0-2 2-2 0-2 2-2.1 0-2 2.1-2 0-2 2-2 0-2 2-2 0-2 2-2.1 0-2 2-2 0-2 2-2 0-2 2-2 0-2.1 2.1-2 0-2 2-2 0-2 2-2 0-2 2-2 0-2.1 2-2 0-2 2-2 0-2 2-2 0-2 2-2.1 0-2 2.1-2 0-2 2-2 0-2 2-2 0-2 2-2.1 0-2 2-2 0-2 2-2 0-2 2-2 0-2 2.1-2.1 0-2 2-2 0-2 2-2 0-2 2-2 0-2.1 2-2 0-2 2-2 0-0.9 1 6.9 3.8 3.7 1.3 4.4 0.7 10.1 0.2 14.1-1.4 20.1-3.7 18.1-4.5 18.1-5.8 18.1-7.1 26.2-12.1 12.1-6.5 10.1-6.2 20.1-14.1 29.5-24.1 10.8-7.5 6-2.7 4-1.1 10.1-1.9 4-1.9 4-3.2 4.1-4 5.4-5.9 2.4-4 0.9 0-0.7 3.1-1 0.9-1 2.8-9.3 15.3-1.5 4.1-0.6 8-12.7 27.3-17.5 29.1-12 26.2-2.8 3.9-10.3 8.1-9.8 8.6-24.8 13.6-11.4 5.1-36.3 12.7-46.3 11-52.3 9.7-48.7 5.8-45.9 4.3-32.3 1.9-16.1 0.8-8-1.2-10.1 0.1-12.1 0.8-18.1 2.4-4-0.2-2 0.3-10.8-3.2-329.5 0zM636.8 554.2l3.1 1.4 2-0.2 18.1-6.3 5.4-2.9 1.7-2.1 1.6-4-0.6 0-2 2-2 0-2.1 2-4 0-2 2.1-2 0-2 2-2 0-2 2-2.1 0-2 2-2 0-2 2z"/>
<path fill="#0076ff" d="M297.6 757.6l819.4 0 0-438.9-2 0-2 2-2 0-2 2-2 0-2 2-2.1 0-2 2-2 0-2 2-2 0-2 2-2 0-2 2.1-2.1 0-2 2-2 0-2 2-2 0-2 2-2 0-2.1 2-2 0-2 2-2 0-2 2-2 0-2 2-2 0-2.1 2.1-2 0-2 2-2 0-2 2-2 0-2 2-2.1 0-2 2-2 0-2 2-2 0-2 2-2 0-2 2.1-2.1 0-2 2-2 0-2 2-2 0-2 2-2 0-2 2-2.1 0-2 2-2 0-2 2-2 0-2 2-2 0-2.1 2.1-2 0-2 2-2 0-2 2-2 0-2 2-2 0-2.1 2-2 0-2 2-2 0-2 2-4 0-2.1 2.1-2 0-2 2-2 0-2 2-2 0-2 2-2 0-2.1 2-2 0-2 2-2 0-2 2-2 0-2 2-2.1 0-2 2.1-2 0-2 2-2 0-2 2-2 0-2 2-2.1 0-2 2-2 0-2 2-2 0-2 2-2 0-2.1 2.1-2 0-2 2-2 0-2 2-2 0-2 2-2 0-2.1 2-2 0-2 2-2 0-2 2-2 0-2 2-2.1 0-2 2.1-2 0-2 2-2 0-2 2-2 0-2 2-2.1 0-2 2-2 0-2 2-2 0-2 2-2 0-2 2.1-2.1 0-2 2-2 0-2 2-2.1 0.1 6.8 3.9 7.4 1.9 10 0.3 12.1-1.2 16.1-2.5 16.1-3.7 16.1-5 16.1-6.2 26.2-11.9 12.1-6.5 10.1-6.1 20.1-14 28.2-22.4 10.4-7.3 7.7-3.5 4-1 8.1-1.1 4-1.2 2-1 4-3.1 4.1-3.9 5-5.3 3-4.5 1.8 0.5-3.8 7.2-9 14.9-1.4 4.1-0.8 8-12.9 28.3-16.6 28.1-12.1 26.2-2.7 4-21 18.1-21.4 12.1-12.8 6-36.3 12.7-49.4 11.5-53.2 9.4-40.8 4.7-21.1 2-30.7 2.7-24.2 1.5-24.2 1.2-8-1.2-14.1 0.2-10.1 0.8-16.1 2.1-6 0-11.8-3.3-328.5 0zM1088.9 350.9l-1.5 0 1.5-1.3zM1090.9 347.6l-0.4-0.8 0.4-0.5 0.4 0.5zM637.2 554.2l2.7 1.2 2-0.2 14.1-4.8 5.3-2.2 3.2-2 1.6-1.7 2-4.4-2 2-2 0-2.1 2-4 0-2 2.1-2 0-2 2-2 0-2 2-2.1 0-2 2-2 0-2 2z"/>
<path fill="#0080ff" d="M297.6 757.6l816.5 0-1.5-4.1-0.7-4 0.7-4 2.1-6.1 2.3-11.1 0-409.6-2 0-2 2-2 0-2 2-2 0-2 2-2.1 0-2 2-2 0-2 2-2 0-2 2-2 0-2 2.1-2.1 0-2 2-2 0-2 2-2 0-2 2-2 0-2.1 2-2 0-2 2-2 0-2 2-2 0-2 2-2 0-2.1 2.1-2 0-2 2-2 0-2 2-2 0-2 2-2.1 0-2 2-2 0-2 2-2 0-2 2-2 0-2 2.1-2.1 0-2 2-2 0-2 2-2 0-2 2-2 0-2 2-2.1 0-2 2-2 0-2 2-2 0-2 2-2 0-2.1 2.1-2 0-2 2-2 0-2 2-2 0-2 2-2 0-2.1 2-2 0-2 2-2 0-2 2-4 0-2.1 2.1-2 0-2 2-2 0-2 2-2 0-2 2-2 0-2.1 2-2 0-2 2-2 0-2 2-2 0-2 2-2.1 0-2 2.1-2 0-2 2-2 0-2 2-2 0-2 2-2.1 0-2 2-2 0-2 2-2 0-2 2-2 0-2.1 2.1-2 0-2 2-2 0-2 2-2 0-2 2-2 0-2.1 2-2 0-2 2-2 0-2 2-2 0-2 2-2.1 0-2 2.1-2 0-2 2-2 0-2 2-2 0-2 2-2.1 0-2 2-2 0-2 2-2 0-1.9 1.9 5.9 3.6 6.1 1.5 12 0.5 12.1-0.8 14.1-2.5 14.1-3.6 14.1-4.7 14.1-5.7 22.4-10.3 9.8-5.3 10.1-6.1 18.1-12.3 29.3-22.6 10.9-7.4 8.1-3.6 4-0.9 10.1-1.3 4-1.6 4-2.9 4.1-3.7 4.6-4.8 2.6-4 4.9-4.4 0.7 0.4-0.6 2-2.1 2-1.4 2-0.7 2.1-10.6 18-1.4 4.1-1 8-13.1 29.1-15.7 27.3-12.2 26.2-2.5 4-20 18.1-23.9 14.1-13.5 6-22.4 8.1-12.6 4-46.4 10.5-56.3 9.8-38.3 4.2-40.2 3.7-30.2 2.1-32.3 1.6-8-1.1-12.1 0.1-10.1 0.5-20.1 2.3-4-0.1-8.1-2.4-4.9-1-327.3 0zM1090.9 348.2l-0.8-1.4 0.8-0.9 0.8 0.9zM1092.9 345.4l-0.7-0.6 0.7-0.6 0.5 0.6zM1094.9 343.3l-0.5-0.5 0.5-0.8 0.4 0.8zM637.5 554.2l2.4 1 2-0.2 16.1-5.7 5.7-3.1 1.9-2.1 1.5-3-1 1-2 0-2.1 2-4 0-2 2.1-2 0-2 2-2 0-2 2-2.1 0-2 2-2 0-2 2z"/>
<path fill="#0089ff" d="M297.6 757.6l811.4 0-1-8.1 0.4-4 8.6-48.3 0-378.5-2 0-2 2-2 0-2 2-2 0-2 2-2.1 0-2 2-2 0-2 2-2 0-2 2-2 0-2 2.1-2.1 0-2 2-2 0-2 2-2 0-2 2-2 0-2.1 2-2 0-2 2-2 0-2 2-2 0-2 2-2 0-2.1 2.1-2 0-2 2-2 0-2 2-2 0-2 2-2.1 0-2 2-2 0-2 2-2 0-2 2-2 0-2 2.1-2.1 0-2 2-2 0-2 2-2 0-2 2-2 0-2 2-2.1 0-2 2-2 0-2 2-2 0-2 2-2 0-2.1 2.1-2 0-2 2-2 0-2 2-2 0-2 2-2 0-2.1 2-2 0-2 2-2 0-2 2-4 0-2.1 2.1-2 0-2 2-2 0-2 2-2 0-2 2-2 0-2.1 2-2 0-2 2-2 0-2 2-2 0-2 2-2.1 0-2 2.1-2 0-2 2-2 0-2 2-2 0-2 2-2.1 0-2 2-2 0-2 2-2 0-2 2-2 0-2.1 2.1-2 0-2 2-2 0-2 2-2 0-2 2-2 0-2.1 2-2 0-2 2-2 0-2 2-2 0-2 2-2.1 0-2 2.1-2 0-2 2-2 0-2 2-2 0-1.1 1.1 7.1 4.2 6 1.8 8.1 0.7 12.1-0.9 14.1-2.7 12.1-3.4 13.3-4.8 16.9-7.1 18.1-8.8 16.1-9.5 20.1-13.8 26.2-19.7 10-6.6 4.1-2 4-1.4 4-0.9 10.1-0.8 4-1.5 2-1.2 4.1-3.2 6-5.9 2.9-4.2 4.7-4 2.5-3.5 2.9-2.6 1.1-1.7 0.8 1.7-10 12.1-0.9 2.4-10.2 17.7-1.5 4.1-1.1 8-13.3 30-14.9 26.4-12.2 26.2-3.1 4.8-16.1 15.3-4.1 3.3-20.9 12.8-13.3 6.3-21.3 7.8-12.3 4-25.3 6.1-28.9 6-46.8 8-12.4 1.8-40.2 4-46.3 3.8-48.4 2.5-8-1.1-14.1 0.2-8.1 0.4-20.1 2.2-4-0.2-8.1-2.3-6.3-1.2-325.9 0zM1096.9 341.3l-1.6-0.5 1.6-1.3 0.4 1.3zM1098.9 339l-0.8-0.2 0.8-0.6zM637.8 554.2l2.1 0.8 2-0.1 13.2-4.7 4.5-2 3.3-2 2-2.1 1.3-2.1-2.1 0.1-2.1 2-4 0-2 2.1-2 0-2 2-2 0-2 2-2.1 0-2 2-2 0-2 2z"/>
<path fill="#0092ff" d="M297.6 757.6l808.8 0-0.7-8.1 0.4-6 4.9-37.1 4.9-33.4 1.1-5.4 0-348.9-2 0-2 2-2 0-2 2-2 0-2 2-2.1 0-2 2-2 0-2 2-2 0-2 2-2 0-2 2.1-2.1 0-2 2-2 0-2 2-2 0-2 2-2 0-2.1 2-2 0-2 2-2 0-2 2-2 0-2 2-2 0-2.1 2.1-2 0-2 2-2 0-2 2-2 0-2 2-2.1 0-2 2-2 0-2 2-2 0-2 2-2 0-2 2.1-2.1 0-2 2-2 0-2 2-2 0-2 2-2 0-2 2-2.1 0-2 2-2 0-2 2-2 0-2 2-2 0-2.1 2.1-2 0-2 2-2 0-2 2-2 0-2 2-2 0-2.1 2-2 0-2 2-2 0-2 2-4 0-2.1 2.1-2 0-2 2-2 0-2 2-2 0-2 2-2 0-2.1 2-2 0-2 2-2 0-2 2-2 0-2 2-2.1 0-2 2.1-2 0-2 2-2 0-2 2-2 0-2 2-2.1 0-2 2-2 0-2 2-2 0-2 2-2 0-2.1 2.1-2 0-2 2-2 0-2 2-2 0-2 2-2 0-2.1 2-2 0-2 2-2 0-2 2-2 0-2 2-2.1 0-1 1.1 6.1 5 5 1.6 8.1 0.5 10-0.8 10.1-1.8 12.1-3.4 12.1-4.4 18.5-7.8 15.7-7.7 14.1-8.4 20.1-13.5 26.2-19.1 10-6.4 4.1-2 4-1.4 4-0.7 10.1-0.5 2-0.4 4-1.9 4.1-3.1 5.7-5.4 2.9-4 4.7-4 2.8-3.9 2.3-2.2 1.7-2.4 4-3.4 0.7 1.8-10.3 12.1-2.1 2-4.4 8.3-6.9 11.8-2.5 6.1-0.6 6-0.6 2-13.3 30.2-15.3 28.2-11.3 24.2-3.8 5.8-18.2 17.4-4 2.9-18.1 11.2-6 3.2-9 3.7-22.1 8.1-9.2 2.9-12.4 3.1-38.3 8.1-60.7 10.1-43.6 4.2-47.3 3.8-23.2 1.2-24.2 1.1-8-1.1-16.1 0.3-26.2 2.4-4-0.2-8.1-2.4-8.7-1.3-21.5 0.6-34.2-0.6-267.8 0zM1100.9 337.3l-1.6-0.5 1.6-1.5 0.6 1.5zM1102.9 335.1l-1.2-0.3 1.2-0.6 0.7 0.6zM638.2 554.2l1.7 0.6 2-0.1 14.1-5.2 6.1-3.3 2.2-2.1 1.3-2-1.5 0-2.1 2-4 0-2 2.1-2 0-2 2-2 0-2 2-2.1 0-2 2-2 0-2 2z"/>
<path fill="#009cff" d="M297.6 757.6l806.7 0-0.5-6.1 0.1-6 6.2-54.4 1.9-20.1 3.9-16.1 1.1-7.2 0-329-2 0-2 2-2 0-2 2-2 0-2 2-2.1 0-2 2-2 0-2 2-2 0-2 2-2 0-2 2.1-2.1 0-1.7 1.7 0.6 0.3 1 2 0.1 4-6 0.8-2 2.1-2-0.5-0.3-0.4 0.3-0.2 4-2.8 1.2-3 1.5-2-0.7 0-2 2-2 0-2 2-2 0-2.1 2-2 0-2 2-2 0-2 2-2 0-2 2-2 0-2.1 2.1-2 0-2 2-2 0-2 2-2 0-2 2-2.1 0-2 2-2 0-2 2-2 0-2 2-2 0-2 2.1-2.1 0-2 2-2 0-2 2-2 0-2 2-2 0-2 2-2.1 0-2 2-2 0-2 2-2 0-2 2-2 0-2.1 2.1-2 0-2 2-2 0-2 2-2 0-2 2-2 0-2.1 2-2 0-2 2-2 0-2 2-4 0-2.1 2.1-2 0-2 2-2 0-2 2-2 0-2 2-2 0-2.1 2-2 0-2 2-2 0-2 2-2 0-2 2-2.1 0-2 2.1-2 0-2 2-2 0-2 2-2 0-2 2-2.1 0-2 2-2 0-2 2-2 0-2 2-2 0-2.1 2.1-2 0-2 2-2 0-2 2-2 0-2 2-2 0-2.1 2-2 0-2.1 2 4.5 4 5.4 2.1 8.3 0.5 8.1-0.7 8-1.6 10.1-3.1 18.1-6.8 14.1-6.1 12.1-6.1 14.1-8.4 20.1-13.3 24.2-17.2 10-6.3 6.1-2.7 4-1.1 4-0.3 8.1 0.2 4-1 2-1 4.1-2.9 5.2-4.7 3.1-4 4.7-4 2.6-4.1 2.2-2 2.3-3 6-5.4 8.1-5.1 0.7 1.4-2.1 2.1-2.6 1.2-0.4 0.8-1.7 0.9-2 2-6 7.1-7.6 8.1-1.3 2-1.2 2.9-8.6 15.2-1.9 4-0.6 2.1-1.3 8-13.1 30.2-14.9 28.2-11.4 24.2-2.3 4-2.2 2.7-13.2 13.4-4.5 4-4.5 3.3-17 10.8-7.1 3.7-8.1 3.3-20.1 7.5-11.5 3.6-17 4.1-29.4 6-62.9 10.4-14.1 1.7-32.2 2.7-46.3 3.6-24.2 1.2-24.2 1-8-0.9-16.1 0.2-26.2 2.3-4-0.3-10.1-2.7-8-0.9-20.2 0.7-34.2-0.5-267.8-0.1zM638.7 554.2l1.2 0.5 3-0.5 13.1-5.1 5.4-2.9 2.2-2.1 1.4-2-0.9 0-2.1 2-4 0-2 2.1-2 0-2 2-2 0-2 2-2.1 0-2 2-2 0-2 2z"/>
<path fill="#00a5ff" d="M297.6 757.6l804.9 0-0.5-8.1 0.3-6 5.8-52.4 1.7-20.1 1.2-8.2 3.9-18 1.1-8 1-12 0-306.1-2 0-2 2-2 0-2 2-2 0-2 2-2.1 0-2 2-2 0-2 2-2 0-2 2-2 0-2 2.1-2.1 0-0.5 0.5 1.2 1.5 0.6 4-0.2 2-1.1 1.1-4 1-4 2.7-2 0.5-5.8 2.8-2.9 0-0.5-2.1 1.5-2 5.7-4.4 4-2.5 0.8-1.1-0.8 0-2 2-2 0-2.1 2-2 0-2 2-2 0-2 2-2 0-2 2-2 0-2.1 2.1-2 0-2 2-2 0-2 2-2 0-2 2-2.1 0-2 2-2 0-2 2-2 0-2 2-2 0-2 2.1-2.1 0-2 2-2 0-2 2-2 0-2 2-2 0-2 2-2.1 0-2 2-2 0-2 2-2 0-2 2-2 0-2.1 2.1-2 0-2 2-2 0-2 2-2 0-2 2-2 0-2.1 2-2 0-2 2-2 0-2 2-4 0-2.1 2.1-2 0-2 2-2 0-2 2-2 0-2 2-2 0-2.1 2-2 0-2 2-2 0-2 2-2 0-2 2-2.1 0-2 2.1-2 0-2 2-2 0-2 2-2 0-2 2-2.1 0-2 2-2 0-2 2-2 0-2 2-2 0-2.1 2.1-2 0-2 2-2 0-2 2-2.2 0.2 4.2 3.8 4 2.1 6.1 0.8 8-0.5 8.1-1.9 8-2.6 16.3-5.9 14.4-6.1 11.6-5.9 16.1-9.8 22.2-14.4 18.1-12.7 12.1-7.3 4-1.9 4-1.2 4-0.3 6.1 1.2 4 0 2-0.5 4-2.2 6.1-4.7 3.9-4.7 4.8-4 2.3-4.1 5.1-5.6 6-5.3 4.7-3.2 5.4-5.4 2-1.1 2 0.5-0.1 2-1 2-1.9 2-3.2 2.1-1.8 0.6-4.1 2.9-4 3.9-3.8 4.6-7.7 8.1-1.3 2-1.3 3.2-9.3 16.9-1.5 4.1-1.4 8-12.9 30.2-14.6 28.2-11.4 24.2-2.3 4-2.9 3.7-16.1 16.5-6.1 4.4-16.1 10.6-6 3.2-9.3 3.9-20.9 7.7-8.1 2.6-15.3 3.8-29.5 6-23.1 4-50.9 7.9-78.5 6.3-32.2 1.8-24.2 0.9-8-0.9-16.1 0.2-26.2 2.1-4-0.3-10.1-2.6-8-0.9-20.2 0.9-34.2-0.6-267.8 0zM639.2 554.2l0.7 0.3 2.4-0.3 15.1-6 4.6-3.2 2.4-2.9-2.4 2-4 0-2 2.1-2 0-2 2-2 0-2 2-2.1 0-2 2-2 0-2 2z"/>
<path fill="#00afff" d="M297.6 757.6l803.3 0-0.5-8.1 0.5-8.4 6.7-60.1 1-12 7.3-46.3 1.1-18.6 0-256.8-4 0.9-2-1.8-0.4-1.6 0.1-2 2.3-0.8 2 0.4 2 2 0-15.7-2.1 2-4.3 2.1-3.6 1.1-4 2.9-4.1 3.8-11.4 12.3-11.7 22.1-1.5 4.1-1.5 8-14.1 33.3-12.8 25.1-10.4 22.1-3.4 6.1-3.6 4.7-12.1 13-4 3.7-6.1 4.5-16.1 10.8-6 3.1-6.1 2.5-22.1 8.3-10.1 3.2-10.3 2.6-30 6.1-22.6 3.9-52.4 8.1-9.5 1.1-34.2 2.6-64.5 4.3-30.2 1-8-0.8-16.1 0.2-26.2 1.9-4-0.3-10.1-2.5-8-0.9-22.2 1-30.2-0.6-269.8 0zM639.7 554.2l2.2 0 2-0.7 12.8-5.3 3.3-2 3-3-1 0.9-4 0-2 2.1-2 0-2 2-2 0-2 2-2.1 0-2 2-2 0zM912.2 427.4l3.5 0.8 4-0.1 4.4-0.7 7.6-2 24.3-8.1 10-4.2 7.8-3.8 17.1-10.1 19.4-12.1 22.2-15.1 20.8-13.1 1.4-2 1.5-4 1.5-2 3.7-4.1 2.7-2-1.4 0-2 2-2 0-2.1 2.1-2 0-2 2-2 0-2 2-2 0-2 2-2.1 0-2 2-2 0-2 2-2 0-2 2-2 0-2 2.1-2.1 0-2 2-2 0-2 2-2 0-2 2-2 0-2 2-2.1 0-2 2-2 0-2 2-2 0-2 2-2 0-2.1 2.1-2 0-2 2-2 0-2 2-2 0-2 2-2 0-2.1 2-2 0-2 2-2 0-2 2-4 0-2.1 2.1-2 0-2 2-2 0-2 2-2 0-2 2-2 0-2.1 2-2 0-2 2-2 0-2 2-2 0-2 2-2.1 0-2 2.1-2 0-2 2-2 0-2 2-2 0-2 2-2.1 0-2 2-2 0-2 2-2 0-2 2-2 0-1.2 1.2 3.2 3.2zM1063.3 363l3.4 0.5 4-1 4.1-2.4 4-3.1 4-4.8 4.5-3.3 1.9-4.1 5.3-6 6.4-5.4 3.7-2.7 6.4-7.7 2-1.9 2-1.2 2-0.4 0-0.8-2 0-2 2-2 0-2 2-2 0-2 2-2.1 0-2 2-2 0-2 2-2 0-2 2-2 0-2 2.1-1.5 0 1.1 2 0.5 2 0.2 2-0.3 2.4-1.6 1.6-4.5 1-4 2.8-10.1 5.2-8.1 5.1-1.3 2 0.9 2z"/>
<path fill="#00b8ff" d="M297.6 757.6l801.8 0-0.5-6.1 0.1-6 3.3-30.2 7-60.4 3.5-24.2 2.2-11.4 2-22.3 0-240.5-1.8-3.6-2.2-0.9-2-2.2-1.6-5 0-2 1.6-1.6 4-2.1 2-0.4 0-6-2 0.5-6 0.5-2 0.6-2 1.2-5.9 5.3-11.5 12.1-11.5 22.1-1.5 4.1-1.6 8-14.3 34.1-13.1 26.3-9.3 20.1-3.5 6.1-4.3 5.6-10.1 11.4-5.4 5.1-6.7 5-16.1 11-4.1 2.1-9.9 4.1-28.3 10.2-14.1 3.3-28.2 5.6-30.6 5-47.9 7.1-40.2 3.2-64.5 4.1-30.2 1-8-0.7-16.1 0.1-26.2 1.7-4-0.3-10.1-2.4-8-0.8-22.2 1-30.2-0.5-269.8-0.1zM641.9 552.2l-1.9 1.9 3.9-0.8 7.8-3.1 6.3-3.2 3.7-2.9-3.7 0-2 2.1-2 0-2 2-2 0-2 2-2.1 0-2 2zM919 417.3l2.8 1.2 4 0.5 12.1-1.4 16.7-4.3 9.4-3.3 6.2-2.8 27.9-16.1 19.8-12 19.2-14.1 4-4.1 3.7-6 1.9-2-2.1 2-2.1 0-2 2-2 0-2 2-2 0-2 2-2 0-2 2.1-2.1 0-2 2-2 0-2 2-2 0-2 2-2 0-2 2-2.1 0-2 2-2 0-2 2-2 0-2 2-2 0-2.1 2.1-2 0-2 2-2 0-2 2-2 0-2 2-2 0-2.1 2-2 0-2 2-2 0-2 2-4 0-2.1 2.1-2 0-2 2-2 0-2 2-2 0-2 2-2 0-2.1 2-2 0-2 2-2 0-2 2-2 0-2 2-2.1 0-2 2.1-2 0-2 2-2 0-2 2-2 0-2 2-2.1 0-1.5 1.6zM1065.9 360.9l2.8 0.7 2-0.3 4.1-2 2-1.4 2-1.6 4-4.6 4.2-2.8 1.3-4.1-1.5-1-2 0.2-2 0.7-12.7 8.2-4.2 4-0.9 2zM1090.7 340.8l13.1-10.1 7.4-10-2.2 2-2 0-2 2-2.1 0-2 2-2 0-2 2-2 0-2 2-2 0-2 2.1-0.4 0 0.9 2z"/>
<path fill="#00c2ff" d="M297.6 757.6l800.3 0-0.5-6.1 0.2-6 3.3-31.2 4.4-33.3 5.8-50.3 2-8 1.4-8.1 2.5-24.6 0-215.1-0.7-7.9-2.5-8.1-2.8-6-2.3-8.1 0.3-2.5 3.8-3.5 1.3-2-1.2-2-1.9-0.6-2 0-2 0.5-2 1.1-5.7 5-11.6 12.1-11.3 22.1-1.5 4.1-1.8 8-11.4 28.2-22.6 48.3-3.2 6.1-3.8 6-11.7 14.1-4 4.3-4.4 3.7-21.8 15.4-5.7 2.8-10.4 4-18.1 6.7-8.1 2.6-11.8 2.8-30.8 6-80.2 12-62.4 4.4-40.3 2.3-30.2 0.9-8-0.6-16.1 0.1-26.2 1.5-4-0.3-10.1-2.3-8-0.8-22.2 1.2-30.2-0.6-269.8 0zM641.9 552.2l-1.6 1.7 3.6-0.8 7.2-2.9 6.9-3.6 3.1-2.5-3.1 0-2 2.1-2 0-2 2-2 0-2 2-2.1 0-2 2zM939.9 405.2l-0.2 0.2 8.2 1.5 4.1 0 10-1.4 6.3-2.3 46.1-26.2 6.6-6 4.2-6.8-0.8 0.8-2 0-2 2-2 0-2 2-2 0-2 2-2.1 0-2 2-2 0-2 2-2 0-2 2-2 0-2.1 2.1-2 0-2 2-2 0-2 2-2 0-2 2-2 0-2.1 2-2 0-2 2-2 0-2 2-4 0-2.1 2.1-2 0-2 2-2 0-2 2-2 0-2 2-2 0-2.1 2-2 0-2 2-2 0-2 2zM1069.1 358.9l1.6 0.5 2-0.2 4.3-2.3 6.2-6 3.2-2 1-2.1-0.3-2-2.3-0.1-2 0.9-10.2 7.3-2.2 2-1.4 2zM1091 336.8l1.9 1.3 2-1 8.1-6.4 1.8-2 3.7-6-1.5 0-2 2-2.1 0-2 2-2 0-2 2-2 0-2 2-2 0-1.7 1.7z"/>
<path fill="#00cbff" d="M297.6 757.6l798.9 0-0.5-6.1 0.1-6 3.4-30.2 5.5-40.3 5-44.3 3.5-16.1 3.5-31.6 0-168-0.3-25.9-0.9-14.1-1.1-6-3.7-11.5-0.4-2.6-1.6-5.3-0.7-4.8 0.1-2 0.6-1.3 2.6-2.7 0.8-2-1.4-1.6-2-0.5-2 0.4-2 1-5.5 4.7-11.7 12.1-11.1 22.1-1.6 4.1-1.8 8-11.3 28.2-7.4 16.8-14.8 31.5-3.1 6.1-4.2 6.6-12.1 14.9-4 4.2-4 3.4-16.2 11.9-6 3.9-6 2.8-12.2 4.6-16.3 6-7.8 2.5-40.2 8.1-80.6 11.9-40.2 2.8-64.5 3.8-30.2 0.9-8-0.6-18.1 0.1-24.2 1.3-4-0.3-10.1-2.2-8-0.8-22.2 1.3-30.2-0.6-269.8 0zM641.9 552.2l-1.4 1.4 3.4-0.7 6.6-2.7 5.5-2.8 4.5-3.3-2.5 0-2 2.1-2 0-2 2-2 0-2 2-2.1 0-2 2zM964 393.2l-0.2 0.2 1.3-0.2zM968.1 391.1l-1.7 1.7 3.4-1.7zM1073 354.9l1.8 2 2-1.1 2-1.4 3.3-3.5 3.5-2 1.2-1.8 0-0.7-2-0.8-2 0.9-8.1 6.4zM1091.4 334.8l1.5 1.9 2-0.5 2-1.3 5.2-4.2 1.9-2 3.4-6-0.4 0-2 2-2.1 0-2 2-2 0-2 2-2 0-2 2-2 0-1.1 1.1z"/>
<path fill="#00d4ff" d="M297.6 757.6l797.5 0-0.6-6.1 0.2-6 3.7-32.2 5.8-38.3 4.7-44.3 3.6-16.1 2.6-18.1 1.5-14.1 0.4-22.9 0-107.9-0.6-44.4-0.5-18.1-1.4-14.1-4.2-16.1-1.6-8-0.8-6.1 0.1-2 1-2.1 1.7-1.9 0.5-2-2.2-1.5-2 0.1-2 1-4.1 3.3-13 13.2-11 22.1-1.5 4.1-1.9 8-10.8 27.5-8.1 18.8-14 30.2-3.2 6.1-3.8 6-12.5 16.1-3.8 4-4.9 4.2-18.2 13.5-3.9 2.5-15.2 6-25.2 9.1-8 1.8-34.2 6.6-82.6 11.8-102.7 6.2-30.2 0.7-8-0.5-18.1 0.1-22.2 1.1-6-0.3-8.1-1.8-10-1-22.2 1.4-30.2-0.7-269.8 0zM641.9 552.2l-1.2 1.2 4.5-1.2 8.9-4 3.3-2 2.5-2.1-1.9 0-2 2.1-2 0-2 2-2 0-2 2-2.1 0-2 2zM1082 348.9l0.8 0.3 2-0.3 0.7-2.1-0.7-0.3-0.8 0.3zM1092.7 334.8l2.2 0.4 6.3-4.5 2-2 2.7-4.9-0.9 0.9-2.1 0-2 2-2 0-2 2-2 0-2 2-2 0-0.5 0.5z"/>
<path fill="#00deff" d="M297.6 757.6l796.1 0-0.6-6.1 0.2-6 3.8-32.2 6.5-40.3 4.5-42.3 4.5-22.1 0.6-6.1 1.3-6 1.1-8.1 0.6-8 0.7-34.2 0.1-48.8-1-82.1-0.8-24.2-0.6-8-2.1-12.1-3-12.1-2-14.1 0.1-2 0.9-2 1.5-2 0.3-2-1.3-1-2-0.1-2 1-4.1 3.2-12.8 13-10.9 22.1-1.5 4.1-2.1 8-12.9 33.4-6.1 14.2-13.2 28.9-3.2 6.1-3.9 6-12.1 16.1-3.5 4-4.3 3.9-22.2 16.6-6 2.7-29.6 11.1-6.7 2.1-42.2 8.1-82.6 11.5-102.7 6-30.2 0.7-8-0.5-20.1 0.2-20.2 0.9-6-0.4-8.1-1.7-10-1-22.2 1.5-30.2-0.7-269.8 0zM641.9 552.2l-0.9 0.9 3.7-0.9 8.7-4 5.9-4.1-1.3 0-2 2.1-2 0-2 2-2 0-2 2-2.1 0-2 2zM1092.5 332.8l0.4 0.5 2 0.7 2-0.8 3.4-2.5 2-2 2.3-4-1.7 0-2 2-2 0-2 2-2 0-2 2-1.8 0z"/>
<path fill="#00e7ff" d="M297.6 757.6l794.7 0-0.7-6.1 0-4 4.1-34.2 7-40.3 4.6-42.3 1.6-10 3.2-14.1 0.2-4.1 1.6-6 1.4-10.1 0.6-10 0.7-30.2 0.2-40.3-1.1-82.5-0.8-24.2-0.9-14.1-1.3-8.1-3.9-18.1-1.7-14.1 0.1-2 0.8-2 1.4-2 0.1-2-2.5-0.8-2 1.1-4.1 3-12.7 12.8-10.7 22.1-1.6 4.1-2.1 8-13.1 34.4-5.8 13.9-11.7 26.2-5.4 10.1-5.3 7.8-10.1 13.6-4 4.3-4 3.5-22.2 16.8-4 1.8-30.2 11.2-8.1 2.5-42.2 8-82.6 11.2-102.7 5.7-30.2 0.6-8-0.4-20.1 0.2-20.2 0.7-6-0.4-8.1-1.7-10-0.8-22.2 1.6-30.2-0.8-269.8 0zM641.9 552.2l-0.7 0.7 2.7-0.6 4.9-2.1 5.2-2.7 4.7-3.4-0.7 0-2 2.1-2 0-2 2-2 0-2 2-2.1 0-2 2zM1094.8 332.8l2.1-0.6 4-3 1.8-2.5 1-2-0.8 0-2 2-2 0-2 2-2 0-2 2-0.6 0 0.6 0.8z"/>
<path fill="#00f1ff" d="M297.6 757.6l793.3 0-0.8-6.1 0-4 4.3-34.2 7.5-40.3 4.7-42.3 2.9-18.1 1.7-6 0.2-4.1 1.4-4 1.7-10.1 1.1-14.1 0.6-28.1 0.3-40.3-0.3-40.3-0.9-42.2-1.9-36.3-1.1-8-3.9-20.2-1.4-10.6-0.1-5.5 1.8-4-0.1-2-1.6-0.5-6.1 4.1-12.6 12.5-10.5 22.1-1.6 4.1-2.2 8-16 42.3-14 32.2-3 6-3.8 6.1-14.8 20.9-3 3.2-4.7 4.1-18.5 14.4-4 2.7-34.2 12.8-7.2 2.3-43.1 7.9-82.6 11-102.7 5.4-30.2 0.6-8-0.4-20.1 0.2-20.2 0.5-6-0.3-8.1-1.7-10-0.8-22.2 1.7-30.2-0.8-269.8 0zM641.9 552.2l-0.5 0.5 2-0.5zM645.9 550.2l-1.7 1.7 8-3.7 3.4-2-1.6 0-2 2-2 0-2 2zM1094.1 330.7l0.8 0.6 2-0.2 2-1.2 2-2 1.6-2.8-1.6 1.6-2 0-2 2-2 0-1.5 1.5z"/>
<path fill="#00faff" d="M297.6 757.6l791.8 0-0.8-6.1 0-4 4.5-34.2 7.9-40.3 6.1-52.3 1.3-8.1 1.8-6-0.4-2.1 2.4-6 1.8-10.1 1.3-16.1 0.6-26.1 0.3-40.3-0.4-40.3-1-42.2-2.1-36.3-1.1-8-2.6-12.7-2.3-17.5-0.2-6.1 1.5-4-0.6-2-0.7 0-5.8 3.8-12.5 12.3-11.2 24.1-2.3 8.1-17.1 46.3-13.9 32.2-4.5 8.1-16.8 24.1-6.3 6.1-20.1 15.9-3.3 2.2-40.9 14.8-6.1 1.4-36.2 6.3-84.6 11-102.7 5.2-78.5 0.8-6-0.4-8.1-1.6-10-0.7-22.2 1.7-30.2-0.8-269.8 0zM641.9 552.2l-0.2 0.2 1-0.2zM645.9 550.2l-1.3 1.3 3-1.3zM650 548.2l-1.7 1.7 3.4-1.7zM654 546.2l-1.5 1.5 2.5-1.5zM1094.9 328.7l-0.5 0.5 0.5 0.5 2 0.1 2-1 1.7-2.1-1.7 0-2 2z"/>
<path fill="#00fffa" d="M297.6 757.6l790.3 0-0.9-6.1 0-4 4.7-34.2 9.2-45.6 6.1-51.1 0.2-4 1.9-6-0.5-2.1 2.9-6 2-10.1 1.4-16.1 0.6-26.1 0.3-40.3-0.3-40.3-0.9-38.2-0.9-18.1-1.6-22.2-3.5-20.1-2.1-16.1-0.3-8.1 1.2-4-0.4-1-2 0.7-4.1 2.3-12.4 12.1-11 24.1-2.4 8.1-17.4 48.3-12 28.2-5.4 10.1-16.4 24.1-3.5 3.8-4 3.5-22.2 17.5-4 1.8-38.2 13.4-6.1 1.4-36.2 6.2-84.6 10.6-102.7 5-78.5 0.6-6-0.4-8.1-1.5-10-0.7-22.2 1.9-30.2-0.9-269.8 0zM645.9 550.2l-0.8 0.9 2-0.9zM650 548.2l-1.2 1.1 2.3-1.1zM654 546.2l-0.6 0.6 1-0.6z"/>
<path fill="#00fff1" d="M297.6 757.6l788.7 0-1-6.1 0-4 4.9-34.2 1.5-8.1 7.4-32.2 1.3-8.1 6.1-52.3 1.5-6-0.4-2.1 2.3-4 1.5-4 2-10.1 1.1-14.1 0.7-26.1 0.3-40.3-0.4-40.3-1-38.2-2-34.2-1.8-14.1-3.3-20.2-1.1-12.1 0-6-0.9-1.6-4.1 2-12.3 11.7-10.8 24.1-2.4 8.1-4.6 12.1-13.2 38.2-10.1 24.2-3.8 8-2.4 4.1-16.9 25-2.9 3.2-4.5 4-18.7 15.1-4.1 2.9-34.2 12.4-8 2.6-6.1 1.3-36.2 6-84.6 10.4-100.6 4.7-32.3 0.5-48.3-0.1-6-0.4-8.1-1.4-10-0.6-8.1 0.5-8 1.2-6.1 0.3-30.2-1-269.8 0zM645.9 550.2l-0.4 0.5 1-0.5zM650 548.2l-0.6 0.5 1.1-0.5z"/>
<path fill="#00ffe7" d="M297.6 757.6l786.9 0-0.8-6.1 0-4 4.9-34.2 1.6-8.1 8.7-36.9 7-55.7 0.9-4 0-4.1 3.5-6 0.5-2 2.2-10.1 1.1-14.1 0.8-26.1 0.3-40.3-0.4-40.3-1.1-38.2-2.1-34.2-0.9-8.1-4.1-26.2-1.2-18.1-0.4-0.6-2.1 0.2-2 1.1-3.3 3.3-2.7 1.9-6.2 6.2-10.6 24.1-20.5 60.4-10 24.2-4.1 8.1-18.7 28.1-6.4 6.3-19.6 15.9-4.6 3.1-40.2 14.2-8.1 1.8-36.2 5.9-84.6 10.1-100.6 4.5-32.3 0.4-48.3-0.1-8-0.8-6.1-1.1-10-0.4-8.1 0.5-8 1.2-6.1 0.3-30.2-1-269.8 0z"/>
<path fill="#00ffde" d="M297.6 757.6l785.1 0-0.8-6.1 0-4 5.1-34.2 2.6-12.1 7.7-30.2 1.6-9.9 6.4-48.5 0.9-4 0.2-4.1 3.3-6 2.5-10.1 0.6-4 0.9-12.1 0.8-26.1 0.4-40.3-0.5-40.3-0.9-34.2-1.1-20.1-2-24.2-4.1-28.2-1.3-17.4-1.2-0.7-0.9-0.1-2 1.2-3 2.9-3 2.1-1.6 2-4.5 4-10.5 24.1-11.7 34.3-8.3 26.1-8.8 22.2-3.8 8-2.4 4.1-17.2 26.1-3.7 4.1-4 3.6-17.8 14.5-5.9 4-4.5 1.9-36.2 12.4-8.1 1.7-36.2 5.8-84.6 9.8-100.6 4.3-34.3 0.4-44.3-0.3-10-0.7-6.1-1.1-10-0.4-8.1 0.6-8 1.3-6.1 0.3-30.2-1.1-269.8 0z"/>
<path fill="#00ffd4" d="M297.6 757.6l783.2 0-0.7-6.1 0.2-6 5-32.2 2.2-10.1 7.4-27.3 2-8.8 7.8-54.5 0.9-4 0.3-4.1 0.8-2 2.4-4 3.1-12.1 1.1-14.1 0.9-24.1 0.4-40.3-0.5-40.3-1-34.2-2.5-40.2-4.7-34.3-1.2-16.1-1.8-1.6-2 1-2.8 2.6-3.2 2.3-6 6-9.5 21.9-3.4 10.1-1.8 4-7.2 22.2-7.8 26.1-9.4 24.2-4.1 8.1-9.2 13.6-9.1 14.5-3.5 4.1-5.5 5-16 13.1-6.2 4.4-6 2.6-36.2 12.3-8.1 1.7-36.2 5.5-84.6 9.6-100.6 4.2-70.5 0.1-10.1-0.3-14.1-1.7-10-0.3-8.1 0.6-8 1.3-6.1 0.4-30.2-1.2-269.8 0z"/>
<path fill="#00ffcb" d="M297.6 757.6l781.3 0-0.7-6.1 0.2-6 5-32.2 2.3-10.1 9.5-34.2 10.3-64.5 3-6 3.3-12.1 1.1-14.1 0.9-24.1 0.5-40.3-0.5-40.3-1.1-34.2-2.6-40.2-4.3-32.3-1.7-18.1-1.2-1-2 0.7-6 4.8-6 6.1-9.2 21.6-3.4 10.1-1.9 4-9.4 30.2-5 18.1-8.2 22.2-4.9 10.1-8.4 12.3-10 16.1-3.1 3.8-5 4.7-18.1 14.9-6.1 4.1-6 2.6-35.7 11.9-8.6 1.8-36.2 5.4-84.6 9.3-100.6 4-64.5 0.2-14.1-0.4-10-0.9-4.1-0.7-12-0.5-8.1 0.7-8 1.4-6.1 0.4-30.2-1.2-269.8 0z"/>
<path fill="#00ffc2" d="M297.6 757.6l779.3 0-0.6-6.1 0.1-6 5.1-32.2 2.4-10.1 8.9-30.2 1.4-6 10.9-62.5 2.9-6 3.4-12.1 1.2-14.1 0.9-24.1 0.5-40.3-0.5-40.3-1.1-34.2-2.7-40.2-4.2-32.3-1.5-16.1-0.5-2-0.6-0.5-2 0.6-5.2 3.9-6.4 6.1-1.1 2-13.6 34.2-9.1 30.2-5.2 20.2-7.2 20.1-2.7 6-3.4 6.1-8.3 12.1-10.2 16.1-4.1 4.5-6 5.4-14.9 12.2-5.9 4-7.4 3.3-34.2 11.4-10.1 2.1-36.2 5.3-84.6 9-100.6 3.8-64.5 0.3-14.1-0.6-16.1-1.7-10-0.3-8.1 0.8-8 1.4-6.1 0.4-30.2-1.3-269.8 0z"/>
<path fill="#00ffb8" d="M297.6 757.6l777.3 0-0.7-6.1 0.2-6 5.1-32.2 3-12.1 10.4-35 5-27.4 6.7-34.3 2.8-6 3.6-12.1 1.2-14.1 1-24.1 0.5-40.3-0.6-40.3-1.1-34.2-2.8-40.2-4.1-32.3-1.2-14.1-0.9-4-2.1 0.6-6 4.3-5.5 5.2-1.1 2-8 20.1-3.6 10.1-1.9 4.2-8.2 28-5.3 22.2-3.1 10-3.8 10.1-4.7 10.1-9.2 13.3-10.6 16.9-3.5 4.1-6 5.7-15.1 12.3-7 4.9-8.1 3.6-34.2 11.2-10.1 2-36.2 5.2-84.6 8.7-100.6 3.7-64.5 0.2-14.1-0.7-14.1-1.6-12-0.2-8.1 0.7-8 1.5-6.1 0.3-30.2-1.3-269.8 0z"/>
<path fill="#00ffaf" d="M297.6 757.6l775.2 0-0.6-6.1 0.2-6 5.5-34.3 3.2-12 9.9-32.2 13.2-62.5 2.7-6 3.8-12.1 0.9-12.1 1.2-26.1 0.6-38.3-0.6-40.2-0.8-26.2-0.8-18.1-2.4-32.2-5.9-49.2-2-0.1-4.6 2.9-6.7 6.1-1.1 2-11.5 30.2-1.9 4-2.5 8.1-6 22.1-4.7 22.2-2.4 8-3.6 10.1-2.6 6-3.3 6.1-9.5 13.6-9.1 14.6-5 5.7-6 5.6-14.1 11.5-7.9 5.3-10.2 4.3-30.2 9.8-12.1 2.5-34.2 4.8-86.6 8.7-100.6 3.5-62.5 0.2-16.1-0.8-6-1-8.1-0.6-12-0.1-8.1 0.7-8 1.6-8.1 0.3-28.2-1.3-269.8 0z"/>
<path fill="#00ffa5" d="M297.6 757.6l773.2 0-0.7-6.1 0.2-6 5.5-34.3 3.3-12 10.5-34.3 6.4-28.1 7.2-28.2 0.6-4.1 2.6-6 3.9-12.1 0.3-2 1.9-34.2 0.6-36.3-0.9-54.3-1.3-32.2-2.3-32.2-5.7-49.7-0.5-0.7-1.5-0.4-4 2.2-7.2 6.3-1.1 2-11.3 30.2-1.9 4-2.5 8.1-6.1 24.1-3.7 20.2-2.8 10-2.9 8.1-2.5 6-3.3 6.1-9.1 12.9-9.7 15.3-4.3 5.3-6.1 5.8-13.3 11-8.8 6.2-4.1 2.1-6 2.5-32.2 10.3-12.1 2.5-34.2 4.6-84.6 8.3-102.6 3.5-62.5 0.1-16.1-0.9-6-1.1-10.1-0.6-12 0.2-5.3 0.6-8.8 1.6-8.1 0.4-28.2-1.3-269.8 0z"/>
<path fill="#00ff9c" d="M297.6 757.6l771.2 0-0.7-6.1 0.2-6 4.3-28.2 1.6-8.1 14-46.3 6.1-24.1 8.4-30.2 0.7-4.1 2.5-6 1.8-6 1.7-4.1 0.8-4 1.9-34.2 0.7-36.3-0.8-48.3-1.5-38.2-2.2-32.2-5.5-48.4-1.9-1.9-4 1.9-7 6.1-1.2 2-11.1 30.2-1.9 4-2.5 8.1-5.3 22.1-4 24.2-2.1 8-2.7 8.1-2.6 6-3.1 6.1-10.9 15.5-8.1 12.7-4.9 6-7.1 6.7-14 11.4-8.1 5.5-6.1 2.9-6 2.2-28.2 9-12.1 2.6-36.2 4.8-84.6 8-102.6 3.3-62.5 0.2-16.1-1.1-6-1.2-10.1-0.5-12 0.3-14.1 2.3-8.1 0.5-28.2-1.5-269.8 0z"/>
<path fill="#00ff92" d="M297.6 757.6l769.3 0-0.8-6.1 0-4 4.6-31.1 1.4-7.2 7.6-26.1 7.1-22.6 6.7-23.7 7-22.2 2.5-10.1 6-16.1 0.9-4 1.9-34.2 0.6-36.3-0.7-48.3-1.5-38.2-2.3-32.2-2.7-22.2-2-20.1-1-6.1-1.3-1.3-4 1.5-6.9 5.9-1.2 2-10.9 30.2-1.9 4-2.5 8.1-4.8 20.9-3.4 25.4-1.9 8-2.6 8.1-3.4 8-3.4 6.1-9.4 13.2-8.7 13-4.8 6-6.7 6.6-12 10-10.1 7.1-6.1 3.1-6 2.4-30.2 9.5-12.1 2.5-36.2 4.7-84.6 7.7-102.6 3.2-62.5 0.1-16.1-1.2-6-1.3-4 0.1-4.1-0.5-14 0.4-14.1 2.4-8.1 0.5-28.2-1.5-269.8 0z"/>
<path fill="#00ff89" d="M297.6 757.6l767.4 0-0.9-6.1 0-4 5.2-34.2 1.3-6.1 10-34.2 11.6-36.2 7-20.2 4-14.1 5.5-14.1 0.9-4 1.8-34.2 0.8-38.3-0.8-46.3-1.6-38.2-2.2-32.2-2.7-22.2-1.9-20.1-0.6-4-0.8-2.1-0.7-0.7-2 0.3-2 0.8-6.7 5.7-1.2 2-10.8 30.2-2 4-2.3 8.1-3.6 16.1-1.6 10-1.3 16.2-2.4 12-2.3 7.6-2.6 6.5-2.9 6.1-3.8 6-6.8 9.1-9 13.1-5.1 6.4-8.1 7.9-14.1 11.4-8 5.3-8.1 3.8-10 3.6-22.2 6.7-14.1 3-34.2 4.3-86.6 7.7-102.6 3.1-62.5 0.1-16.1-1.4-6-1.3-4 0.1-4.1-0.5-14 0.6-14.1 2.5-8.1 0.4-28.2-1.5-269.8 0z"/>
<path fill="#00ff7f" d="M297.6 757.6l765.6 0-1-6.1 0-4 5.2-34.2 1.3-6.3 11.7-40 10.4-30.2 8.1-21.1 3.8-13.2 1.8-4 1.9-6 1.9-4.1 1-4 1.8-34.2 0.8-38.3-0.9-46.3-1.6-38.2-2.2-32.2-2.7-22.2-1.8-20.1-0.7-4-0.9-2.1-2.2-0.1-2 0.8-6.6 5.4-1.2 2-9.8 28.2-2.8 6-2.3 8.1-3.5 16.8-1 9.4-0.9 16.1-2.1 12-2.5 8.1-3.2 8-3 6.1-3.4 5.2-16.8 23-5.1 6-8.4 8.1-12.6 10-9.3 6.1-8.2 3.8-10 3.5-22.2 6.7-14.1 2.8-34.2 4.2-86.6 7.4-100.6 2.9-64.5 0.1-10-0.6-8.1-1.2-4-1-4 0.1-4.1-0.4-14 0.7-14.1 2.5-8.1 0.4-28.2-1.5-269.8 0z"/>
<path fill="#00ff76" d="M297.6 757.6l763.9 0-1.1-6.1 0-4 5.5-36.3 2.8-11 7.6-27.2 2.5-7.6 10.6-28.6 9.5-23.1 3.3-11.2 3.8-10 2-4.1 1-4-0.1-4 1.8-30.2 0.8-38.3-0.8-44.3-1.7-40.2-2.2-32.2-2.6-22.2-1.8-20.1-0.8-4-0.7-1.4-2-0.5-2 0.8-6.4 5.1-1.2 2-9.7 28.2-2.8 6.1-2.3 8-1.8 8.5-1.4 9.6-0.6 6-0.4 18.2-1.5 10-2.3 8.1-3.7 10-2.9 6.1-3.3 5.4-17 22.8-5.1 6-10.1 9.7-12 9.5-8.1 5.2-10.1 4.8-10 3.5-20.2 6-8 1.9-8.1 1.4-40.2 4.6-80.6 6.5-40.2 1.4-64.5 1.4-26.1-0.1-28.2 0.3-14.1-0.6-10.1-1.5-4-1-8.1-0.3-14 1-12.1 2.2-10.1 0.7-28.2-1.6-269.8 0z"/>
<path fill="#00ff6d" d="M297.6 757.6l762.2 0-1-6.1 0-4 5.5-36.3 2.4-10.3 7.7-27.9 4.1-12.1 8.6-22.1 11.8-27 2.8-9.3 3.9-10 2.1-4.1 1-4-0.1-4 1.8-30.2 0.8-38.3-0.8-44.3-1.7-40.2-2.2-32.2-2.7-22.2-1.5-18.1-1.4-6.6-2-0.9-2 0.6-6.3 4.9-1.1 2-9.5 28.2-3.2 7.1-2 7.5-2.5 15.6-0.5 8 0.2 16.1-1.3 10.2-2 8-4 11.3-3 6.8-3.4 6-16.9 22.2-6.9 8-10.1 9.4-11.2 8.7-8.9 5.7-10.1 4.6-10 3.5-20.2 5.8-8 1.9-8.1 1.3-40.2 4.5-80.6 6.3-38.2 1.2-66.5 1.4-26.1-0.2-28.2 0.4-14.1-0.6-6-0.8-8.1-1.9-8.1-0.2-14 1.1-12.1 2.2-10.1 0.7-28.2-1.6-269.8 0z"/>
<path fill="#00ff63" d="M297.6 757.6l760.5 0-0.8-6.1 0-4 5.3-36.3 2.3-10 7.6-28.2 3.3-10.1 5.6-14.1 5.9-14.1 9.6-19.8 7.4-20.4 3.8-8.1 0.3-2 0-6 1.6-28.2 0.9-38.3-0.8-42.2-1.8-42.3-2.1-32.2-2.5-20.2-1.7-20.1-1.1-5.7-2-1.4-2 0.5-6.1 4.6-1.2 2-7.9 24.2-4.9 12-2 8.7-1.8 13.5-0.1 6 0.7 16.1-0.4 6.1-1 6-2 8.1-3.5 10.1-4 9.5-4 6.9-15.4 19.8-7 8-9.9 9.4-11.1 8.7-9.3 6.1-9.8 4.7-10 3.5-20.2 5.8-8 2-8.1 1.3-40.2 4.5-82.6 6.2-38.2 1.2-66.5 1.3-26.1-0.2-28.2 0.4-16.1-0.9-6.1-1-6-1.7-8.1 0-14 1.2-6.1 1.4-8 1.1-8.1 0.5-28.2-1.7-269.8 0z"/>
<path fill="#00ff5a" d="M297.6 757.6l758.9 0-0.8-6.1 0.2-6 5.1-34.3 3.2-14 7.2-26.2 3.4-10.1 7.4-18.1 4.5-10.1 10.2-19.7 7-18.5 4-8.1 0.2-2 0-8 1.8-34.3 0.7-32.2-0.8-40.2-1.9-42.3-1.6-26.2-0.9-10.1-2.3-18.1-1.3-18.1-0.9-4.6-0.8-1.4-1.2-0.7-2 0.4-6 4.4-1.9 3.9-7.6 24.2-4.2 10-1.8 8.1-1.2 10.1-0.2 8 1.2 16.1-0.4 6.1-0.8 6-3.1 12.1-4.2 11.7-4 9.2-3.3 5.3-14.2 18.1-8.7 9.8-10.1 9.4-11.7 9-8.4 5.2-10.1 4.7-10 3.5-20.2 5.7-8 1.9-8.1 1.3-40.2 4.3-82.6 5.9-38.2 1.2-66.5 1.2-26.1-0.2-30.2 0.4-8.1-0.3-8-0.9-10.1-2.6-8.1 0.1-12 1.2-16.1 2.7-8.1 0.4-28.2-1.7-269.8 0z"/>
<path fill="#00ff50" d="M297.6 757.6l757.3 0-0.7-6.1 0.2-6 5.1-34.3 3.2-14.7 7.5-27.5 4.4-12.1 6.8-16.1 4.8-10.1 10.7-19.7 6.5-16.5 4.2-8.1 0.3-2-0.2-8 1.5-26.2 1.1-40.3-0.9-40.2-1.8-42.3-1.8-28.2-2.7-22.2-1.6-22.1-0.8-4-1.8-2.3-2 0.2-5.6 4.1-1.3 2-8.2 26.2-4.1 10-1.5 6.1-1.2 10 0.1 8.1 1.3 10.1 0.4 6-0.4 6-1.2 8.1-2.5 10.2-4 11.7-4 10.1-4 7.1-11.8 15.3-10.4 11.7-10 9.5-11.5 9-9.6 6-11.2 5.2-10 3.4-18.1 5-8.1 2-10.1 1.7-40.2 4.1-42.3 3.2-40.3 2.5-38.2 1.1-66.5 1.1-56.3 0.2-14.1-0.9-6.1-1.2-6-1.9-8.1 0.2-14 1.6-14.1 2.4-8.1 0.5-28.2-1.7-269.8 0z"/>
<path fill="#00ff47" d="M297.6 757.6l755.8 0-0.7-6.1 0.2-6 5.4-36.3 3-14.1 7.4-26.8 4.1-11.4 8.7-20.1 4.2-8.1 7.2-12 4-7.6 6-14.6 4.1-7.3 0.6-2.8-0.1-12.1 1.4-24.1 1.1-38.3-0.9-40.2-1.9-42.3-1.8-28.2-3.1-26.2-1.1-18.1-0.9-4-1.4-1.9-2 0.2-5.3 3.7-1.5 2-7.9 26.2-4.1 10-1.5 6.1-0.7 8 0.3 8.1 2.1 14.1-0.1 6-1.4 10.1-2 9.2-4.1 12.5-4 10.8-4 8-10.1 13.6-10.5 12.3-10.3 10.1-9.8 8-11.7 7.9-10 5-10.1 3.8-16.1 4.5-12.1 3.1-8 1.5-38.3 4-46.3 3.4-38.2 2.3-40.3 1.3-68.5 1-58.3 0.1-12.1-0.8-6.1-1.3-6-2-8.1 0.3-28.1 4.2-8.1 0.5-20.1-1.5-8.1-0.3-269.8 0z"/>
<path fill="#00ff3d" d="M297.6 757.6l754.3 0-0.7-6.1 0.2-6 5.4-36.3 3.4-16.1 7.2-26.1 4.5-12.1 7.9-18.1 4.2-8.1 10.9-17.6 7.5-16.6 4.6-8 0.3-2.1-0.2-12.1 1.7-30.2 0.8-32.2-0.9-40.2-1.7-39.2-1.9-31.3-2.8-22.2-1.4-22.1-1-4-1-1.3-2-0.1-5.1 3.4-1.5 2-7 24.2-4.8 12-1.6 8.1-0.3 6 0.6 6.1 2.7 12.1 0 6-0.9 8-2.2 11.6-2 7.3-6.1 17.6-2 5.1-2.4 4.8-7.7 11-10 12.3-10.1 10.3-10.1 9-10 7.3-8.1 4.8-12.1 5.3-12 3.9-26.2 6.5-30.2 3.4-60.4 4.5-42.3 2.3-26.2 0.7-74.4 1.1-60.4 0.2-8.1-0.4-6-0.7-10.1-3.3-8.1 0.4-6 1.2-8 0.9-14.1 2.3-6.1 0.5-30.2-1.8-269.8-0.1z"/>
<path fill="#00ff34" d="M297.6 757.6l752.8 0-0.7-6.1 0.2-6 5.7-38.3 3.1-14.5 7.7-27.8 4.6-12 9.1-20.2 3.4-6 11.4-17.8 6.9-14.4 4.9-8.1 0.4-2-0.5-6 0.1-8.1 1.7-28.2 0.9-32.2-0.9-40.2-3.6-70.5-2.9-22.2-1.3-22.1-1.2-4-0.5-0.7-2-0.3-4.8 3-1.7 2-6.6 24.2-5 12.8-1 5.3-0.3 6 0.8 6.1 2.7 8 0.7 4-0.1 6.1-0.8 6-2.2 12.1-3.8 13.9-6.1 17.5-4 8.6-8.1 11.6-8 9.8-8.6 9.1-11.5 10.6-10.1 7.4-8.1 4.9-12 5.5-12.1 4-20.2 5.2-8 1.6-30.2 3.3-62.4 4.4-42.3 2.1-24.2 0.7-74.4 1-60.4 0.1-14.1-1.1-4.1-1.1-6-2.4-8.1 0.7-6 1.2-22.1 3.2-6.1 0.5-30.2-1.9-269.8 0z"/>
<path fill="#00ff2b" d="M297.6 757.6l751.4 0-0.8-6.1 0.2-6 6-40.3 3-14.1 7.9-28.2 4.8-12 8.2-18.2 3.4-6 13.2-19.9 6.4-12.3 5-8.1 0.5-2-0.5-6-0.1-8.1 1.5-22.1 1.3-38.3-1-40.2-3.6-70.5-2.9-22.2-1.2-22.1-1.3-4-2.1-0.6-4.5 2.6-1.8 2-7 26.2-4.6 12.1-0.6 4 0.1 6 0.9 4 2.8 6.1 1.1 4 0.2 4-0.5 6.1-2.2 12.1-4 16.4-8.1 23.8-2 4.5-6 9.4-8.1 10.7-8.6 9.6-13.5 12.9-10.1 7.5-9.5 5.8-12.6 5.6-10.1 3.5-28.2 6.8-10.1 1.3-20.1 1.9-62.4 4.4-44.3 2-24.2 0.6-72.4 1-64.5 0.1-8-0.5-6-1-8.1-3.2-8.1 0.8-8 1.7-20.1 2.7-6.1 0.5-6-0.1-16.1-1.5-8.1-0.3-269.8-0.1z"/>
<path fill="#00ff21" d="M297.6 757.6l749.9 0-0.8-6.1 0.2-6 6.7-44.3 2.7-12.1 8-28.2 5.8-14.1 7.4-16.1 3.6-6 13.8-20.1 7-12.1 3.1-4.1 1-2 0.4-2-0.5-6-0.1-8.1 1.7-26.2 1.1-34.2-1-40.2-3.6-70.5-2.7-20.1-1.4-24.2-1-3.3-2-0.9-4.2 2.2-1.9 2-6.7 26.2-4.3 12.1-0.6 6 0.6 4 1 2.9 3.6 5.2 0.7 2 0.2 4-0.5 6.1-2.2 12-3.8 16.6-8.1 25-2 5.3-2 4.1-8 12.2-8.1 10.2-6.7 7.2-13.4 12.7-10.1 7.3-8 4.9-14.1 6.2-10.1 3.4-28.2 6.6-30.2 3-64.4 4.3-42.3 1.8-32.2 0.8-70.5 0.7-58.4 0-12-0.8-4.1-1.1-6-2.8-8.1 0.9-8 1.9-10.1 1-12.1 1.8-6 0.3-20.1-1.7-8.1-0.3-269.8 0z"/>
<path fill="#00ff18" d="M297.6 757.6l748.4 0-0.9-6.1 0-4 7.3-48.3 2.7-12.1 7.5-26.2 7.5-18.1 6.5-14.1 3.8-6 12.5-17.1 8.4-13.1 3.7-4.7 1.1-3.4-0.7-8-0.1-8.1 1.7-24.2 1.2-34.2-0.9-40.2-3.7-70.5-2.8-20.1-0.6-8.1-0.4-14.1-0.9-4.5-2-1.3-4 1.9-2 2.2-5.7 23.9-1.8 6-2.6 6.6-0.6 5.5 0.6 4.4 2 3.1 3.2 2.5 1 2.1 0.3 4-0.6 6-1.8 10.1-5.8 24.2-8.4 26.1-3.7 8.1-8.3 13-8.1 10-6 6.4-13.4 12.9-10.8 7.6-8 4.9-14.1 5.9-8.1 2.8-30.2 6.9-30.2 2.9-62.4 4-76.5 2.5-130.9 0.6-8-0.4-4-0.7-8.1-3.7-7.7 0.9-4.4 1.5-4 0.7-12.1 1-10.1 1.6-6 0.4-20.1-1.8-8.1-0.3-269.8 0z"/>
<path fill="#00ff0e" d="M297.6 757.6l746.9 0-1-6.1 0-4 7.6-50.3 2.9-12.1 7.5-26.2 11.1-26.2 3.1-6 9.8-14.1 9.4-11.7 5.8-8.4 4.3-5.3 0.8-2.8-0.8-8-0.1-8.1 1.8-26.2 1.2-32.2-0.9-38.2-3.7-72.5-2.1-12.1-1-8-0.7-22.2-0.8-4-1.8-1.3-2 0.5-2 1.2-2 2.5-5.1 23.3-4.3 14.1-0.1 4 1.4 3.6 2 1.3 3.3 1.1 0.8 0.7 0.5 3.3-0.4 6.1-3.2 16.1-5.3 22.1-9.6 30.2-2.8 6.1-9.4 15-6.1 7.6-6 6.7-14.1 13.8-10.1 7.3-8 5-14.1 6-10.1 3.5-30.2 6.7-28.2 2.5-62.4 3.9-78.5 2.4-132.9 0.5-8-0.5-4.1-0.8-4.7-3.1-1.3-0.4-5.1 0.4-9 2.9-14.1 0.8-10.1 1.7-6 0.3-6-0.2-14.1-1.6-8.1-0.3-269.8 0z"/>
<path fill="#00ff05" d="M297.6 757.6l745.4 0-1.1-6.1 0-4 7.6-50.3 2.3-10.1 7.9-28.2 11.9-28.2 3.2-6 10-14.1 10.1-11.3 10.1-12.7 0.5-2.2-1-8-0.2-6.1 1.9-28.2 1.2-30.2-0.8-40.2-3.7-71.4-1.3-9.2-1.2-4-0.3-2-0.8-12.1-0.1-16.1-0.3-2.2-0.9-1.8-1.1-0.8-2 0.3-2 1.2-1.3 1.3-0.7 1.5-5 24.7-2.9 10-0.2 4.6 2 2.6 2 0.2 4.1-0.7 0.7 1.4-0.1 6-2.9 16.1-7.8 31.6-9.1 28.8-3 6.8-8.1 13.4-8 10.5-4 4.6-15.1 15.1-11.1 7.9-8 5-22.2 8.6-32.2 7-28.2 2.3-62.4 3.7-78.5 2.2-136.9 0.4-8.1-0.8-2-0.8-1-1.3-3-2-2 0-10.1 3.8-16.1 0.5-8 1.4-8.1 0.6-28.2-2.1-269.8 0z"/>
<path fill="#05ff00" d="M297.6 757.6l743.9 0-1.2-6.1 0-4 1.5-8.1 6.4-44.3 7.3-28.1 3.1-10.1 11.9-28.2 3.3-6 10.3-14.1 12.8-13 7.7-9.2 0.6-2-1.1-8-0.3-8.1 1.8-24.2 1.3-26.1 0.2-10.1-0.2-14.1-1.1-32.2-2.9-54.4-0.6-8-1.3-8.1-1.1-2-0.5-2-0.6-16.1 0.1-12.6-0.4-3.5-1.6-2.4-2 0.2-2.9 2.2-1.1 2.3-2.7 15.8-3.3 16.1-0.1 3.8 2 1.5 6.1-1.8 0.8 0.6 0.8 4-1.2 4-0.3 4-1.2 4.1-2.4 12-8.1 32.3-8.7 28.1-3.9 8.6-8 13.5-8.1 10.5-18.1 18.9-10.1 7.3-8.9 5.7-17.2 6.8-6.1 2.1-30.2 6.4-28.2 2.3-64.4 3.7-78.5 2-145 0.3-2-0.1-2.6-3.4-1.4-0.8-2 0-2.4 0.8-1.6 2.2-6.1 0.9-16.1-0.2-10.1 1.7-6 0.4-28.2-2.1-269.8 0z"/>
<path fill="#0eff00" d="M297.6 757.6l742.3 0-1.2-6.1 0-4 1.8-10.1 6-42.3 2.9-12 7.3-26.2 11.7-28.2 4.5-8 9-12.1 15-14.2 6-6.5 1.2-1.5 0.8-2-1.3-8-0.4-8.1 2-24.2 1.2-26.1 0.3-10.1-0.2-14.1-1.1-32.2-3-54.4-0.6-8-0.9-4-1.7-4.1-0.3-0.5-2.7 4.6-2.1 8-4 18.1-7.6 30.2-9.2 30.2-4.5 10.1-8.1 13.8-10.1 13-14.1 14.8-4 3.4-12.1 8.4-5.3 3-16.8 6.4-8.1 2.4-30.2 6-28.2 2-62.4 3.3-78.5 1.9-124.8 0.3-16.1 0.2-6.1 0.5-3.5-0.9-0.5-1-0.6 1-3.4 1.1-4.1-0.5-18.1-1.1-12.1 1.8-6 0.3-8-0.4-12.1-1.3-8.1-0.3-269.8 0zM1087.4 389.1l1.5 1.1 2-0.3 6-2.1 1.3-2.7 0.3-2-0.3-12.1 0.2-14.1-0.4-2-1.1-1.8-2 0-2 1.2-0.6 0.6-1.4 3.6-4 26.6-0.1 2.1z"/>
<path fill="#18ff00" d="M297.6 757.6l740.6 0-1-6.1 0-4 7.6-52.4 1.8-8 5.3-20.1 3.7-12.1 11.6-28.2 4.7-8.1 9.5-12 13.5-11.2 8-8.2 1.4-2.8-1.4-10.1-0.2-8 2.3-26.6 1.3-27.8 0-10-1.3-41.7-2.1-37.9-2-24.9-2-2.6-2 2.5-1.8 5.9-4.2 18.1-8.1 31.3-8.8 29.1-3.3 8.1-10 17.6-8.1 10.8-14.1 15.3-4 3.7-6 4.5-8.1 5.5-6 3.1-16.1 6-8.1 2.2-26.2 5.1-10 1.1-84.6 4.6-78.5 1.6-124.8 0.2-12.1 0.3-10.1 1-4-0.1-4 0.5-22.2-2.3-12.1 1.7-6 0.4-28.2-1.9-269.8-0.1zM1090.7 387.1l4.2-0.8 1.6-1.2 0.8-2 0.8-24.2-0.6-4-0.6-1-2-0.3-2 1-1.2 2.3-0.6 2-2.3 18.1-0.4 6.1 0.5 2.8z"/>
<path fill="#21ff00" d="M297.6 757.6l738.9 0-0.9-6.1 0-4 7.5-52.4 2.2-10 4.7-18.1 4.4-14.1 10.7-26.2 3.1-6 2.6-4.1 8.2-10 4.6-4.1 11.3-8.3 8-7.7 0.9-2.1-1.4-10.1-0.4-8 2.8-32.2 1-22.2 0.1-10-1.4-42.3-1.6-30.2-2.4-30.2-1.6-2.2-2 3.5-13.8 53.1-9 30.2-3.4 7.6-6 11.3-4 6.5-8.1 10.9-12.1 13.4-4 4.1-8 6.3-6.2 4.3-5.9 3.2-16.1 5.9-8.1 2.4-28.2 5.3-8 0.8-84.6 4.3-80.5 1.6-124.8 0.1-12.1 0.4-10.1 1.3-8 0.4-22.2-2.6-12.1 1.6-6 0.4-28.2-1.8-269.8 0zM1090.2 383.1l0.7 1.1 2 0.5 2-0.8 1.4-2.8 1.3-24.2-0.7-2.3-2-0.5-2 1-1.3 3.8-1.9 20.2z"/>
<path fill="#2aff00" d="M297.6 757.6l737.2 0-0.8-6.1 0.2-6 7.5-52.4 2.2-10 5.3-20.2 4.7-14.1 9.8-24.1 3.3-6.1 4.2-6 7.4-8.1 5.3-4 11-7.3 7.4-6.8 1-2-1.5-10.1-0.4-8 2.9-32.2 1.1-22.2 0-14.1-1-32.2-1.9-34.2-1.7-24.2-1.2-4-0.7-4-0.4 2-1.6 2.9-2 6.8-11.2 42.7-8.9 30.2-4.1 9.3-6 11.4-4 6.6-8.1 10.9-12.1 13.8-6 5.7-6 4.7-6.1 4.1-6 3.2-16.1 5.6-8.1 2.2-26.2 4.7-10 1.1-84.6 4-80.5 1.4-122.8 0-12.1 0.4-12.1 1.6-8 0.4-22.2-2.7-4 0.2-8.1 1.3-8 0.3-26.2-1.6-269.8-0.1zM1092.1 381.1l0.8 0.6 2-1.7 2-16.1 0.2-7-0.2-0.9-0.9-1.1-1.1-0.4-2 1.3-1.1 5.1-0.9 16.1 0.2 2.1z"/>
<path fill="#34ff00" d="M297.6 757.6l735.5 0-0.7-6.1 0.2-6 8-56.4 4.4-18.1 3.9-14.1 10.8-28.2 2.7-6 3.3-6.1 4.4-6 3.6-4 7.4-6.1 13.8-8.4 6-5.1 1.8-2.6 0-2-1.5-8.1-0.5-8 2.9-30.2 1.4-24.2 0-12-1.1-34.3-1.9-34.2-1.1-16.1-1.2-8.1-0.8-2.3-2 2.4-2 6.7-10.6 39.6-9.5 32.1-2.7 6.1-6 12.1-7.4 12.1-6.1 8-12.1 14.1-6 5.7-8.1 6.3-6 3.7-6 2.6-14.1 4.6-8.1 2-32.2 5.2-84.6 3.8-88.5 1.4-118.8-0.1-12.1 0.5-18.1 2-6.1-0.3-16.1-2.2-4-0.2-10.1 1.3-8 0.4-26.2-1.5-269.8 0zM1092.8 371l0.1 1.3 0.5-1.3 1.5-1.4 1.6-8.7 0-4-1.6-1.7-2 1.4-0.5 2.3z"/>
<path fill="#3dff00" d="M297.6 757.6l733.8 0-0.6-8.1 0.3-6 6.3-46.3 1.8-10.1 4.3-18.1 3.4-12.1 11.3-30.2 2.7-6 3.4-6.1 4.4-5.8 4-4.2 6.1-4.6 12.1-6.4 4-2.5 5.8-4.7 1.2-2 0.1-2-1.8-10.1-0.3-6 3-28.2 1.6-26.2 0.1-12-1.2-36.3-1.9-32.2-1.5-16.1-1.1-5-2 1.2-2 5.6-10 36.5-9.5 32.2-2.7 6.4-6 12.4-8 13.4-6.1 8.1-10.1 12.1-6 6.3-8 6.7-6.1 3.9-6 2.8-12.1 3.9-10.1 2.5-26.1 4.3-8.1 1-84.6 3.5-88.5 1.2-118.8-0.2-10.1 0.4-20.1 2.2-6.6-0.3-19.6-2.4-10.1 1.2-8 0.4-26.2-1.3-269.8 0zM1093.1 363l1.8 1.4 1-5.5-0.4-2-0.6-0.7-1 0.7-1 1.6z"/>
<path fill="#47ff00" d="M297.6 757.6l732.1 0-0.6-8.1 0.3-6 6.1-46.3 1.7-10.1 4.2-18.1 3.9-14.1 11.2-30.2 2.8-6.1 3.4-5.8 3.1-4.2 3.7-4.1 3.2-2.7 5-3.3 13.2-6.2 4-2.3 4.7-3.6 1.5-2 0.2-2-2-12.1-0.1-6 3.3-28.2 1.5-24.2 0.2-10-1.4-42.3-1.9-29.2-2-16.1-2 0.2-2 5.7-16.9 59.5-2.7 8.1-8.6 18.7-8 13.6-6.1 8.2-10.1 12.4-8 8.3-6 5.1-6.1 3.7-6 2.5-10.1 3.1-10.1 2.4-24.1 3.9-12.1 1.4-44.3 1.2-36.2 1.7-92.6 1.3-116.8-0.3-12.1 0.5-20.1 2-8.1-0.4-18.1-2-18.1 1.3-26.2-1-269.8-0.1zM1094.7 358.9l0.2 0.7 0-1.1z"/>
<path fill="#50ff00" d="M297.6 757.6l730.3 0-0.5-8.1 0.5-8.1 5.7-44.2 2-12.1 3.7-16.1 3.8-14.1 4.1-12.1 7.6-20.1 2.7-6.1 3.5-6 3.1-4 4-4.1 4.6-3.4 4.1-2.3 12.1-4.9 6-3 4-3 1.2-1.5 0.4-2-2.1-12.1-0.1-6 3.4-26.2 1.8-24.2 0.2-12-1.4-42.3-1.4-21.3-2-17.7-2-1.6-2 4.1-4 13-12.8 45.6-2.8 8.1-8.6 18.7-8 13.7-8.1 11.1-8.1 10.2-6 6.6-6 5.6-6.1 3.9-6 2.6-8.1 2.4-12 2.8-26.2 4-12.1 1.2-42.3 0.9-26.1 1.3-26.2 0.7-78.5 0.8-114.8-0.3-12.3 0.4-21.9 1.9-8.1-0.3-18.1-1.8-18.1 1-24.2-0.8-271.8 0z"/>
<path fill="#5aff00" d="M297.6 757.6l728.5 0-0.4-8.1 0.4-8.1 5.5-44.2 2.3-14.1 3.7-16.1 3.8-14.1 11.4-32.2 2.7-6.1 3.5-6 3.1-4.1 4.1-4 4.5-3.1 4.1-2.1 14.1-4.8 4.7-2.1 3.3-2 2-1.9 0.6-2.1-2-12.1-0.2-6 3.6-24.4 2.1-26 0.3-14-1.2-34.3-1.2-19.5-1.6-16.7-0.4-3-1.1-3-0.9-1.1-2 4.1-2 5.6-14.2 49.7-2.7 8.1-9.3 20.8-8 13.9-16.2 21.9-6 7.1-6 5.7-4.1 2.6-6 2.6-8 2.3-12.1 2.5-16.1 2.4-22.2 2.5-44.3 0.6-26.1 1.4-26.2 0.6-80.5 0.7-112.8-0.4-12.1 0.4-22.1 1.8-8.1-0.3-18.1-1.6-20.1 0.8-22.2-0.5-271.8 0z"/>
<path fill="#63ff00" d="M297.6 757.6l726.7 0-0.4-8.1 0.6-10.1 5.1-42.2 2.2-14.1 3.5-16.1 3.7-14.1 8-24.2 4.5-12.1 3.1-6.6 3.4-5.5 3.4-4 3.3-2.7 4-2.5 4-1.9 6.1-1.9 10.1-2.5 4-1.6 4-2.5 1.5-2.5 0-2-2-10.1-0.2-6 2.9-16.1 1.5-12.1 1.9-24.2 0.3-10-1.6-44.3-2.3-25.6-0.8-2.6-1.2-2.4-2 2.3-4 11.6-13.5 46.9-8.7 20.9-4 8.1-4 7-6.1 9.1-12.1 17-6 7.8-4 4.1-4 2.8-4.1 1.7-6 1.8-8.1 1.7-20.1 3.1-26.2 2.7-46.3 0.4-26.1 1.3-22.2 0.5-84.5 0.7-112.8-0.3-10.1 0.2-24.1 1.6-28.2-1.5-20.1 0.5-18.2-0.2-273.8-0.1z"/>
<path fill="#6dff00" d="M297.6 757.6l724.8 0-0.3-10.1 0.7-10.1 5-42.3 2.6-16.1 3-14.1 3.7-14 9.1-28.2 4.4-11.8 3.1-6.4 2.6-4 2.4-2.7 4.2-3.3 3.9-2 5.9-2.2 18.2-3.6 4-1.9 2-2.4 0-3.8-1.8-8.3-0.2-6 0.6-4 3.1-14.1 0.8-6.1 2.3-24.1 0.6-14.1-1.4-40.8-2-22.6-1.6-7.1-0.4-0.8-2 1.9-2 4.7-6.1 19.7-8.7 30.9-7.4 18.5-6 12.9-6 10.4-22.2 33.8-2.8 2.9-3.2 2-8.1 2.4-28.2 4-28.2 2.6-10 0.3-38.3-0.3-26.1 1.3-22.2 0.4-84.5 0.7-112.8-0.2-34.2 1.3-32.2-1.2-18.1 0.4-290-0.1z"/>
<path fill="#76ff00" d="M297.6 757.6l722.9 0-0.3-10.1 0.8-12.1 4.8-42.3 3-18.1 3-14.1 3.3-12.1 10.6-34.2 4.3-12.1 2.6-5.3 2-2.7 2.1-2 3.3-2 5.4-2.1 7.3-1.7 6.1-0.8 8-0.4 4.1-0.8 2-0.9 1.7-1.4 0.7-2-0.4-3.8-1.6-6.3-0.1-6 3.7-14.5 2-11.5 2-19.8 0.8-14.6-1.3-42.3-1.5-16.5-2-9.4-2 0.2-2 4.1-6.1 19-7.3 26.8-10.8 27.6-6 12.2-17 28.6-2.9 6.1-4.3 10.9-2 1.7-2 0.6-56.4 5-18.1 0.9-40.3-0.7-26.1 1.2-24.2 0.4-84.5 0.6-114.8-0.1-32.2 0.8-34.2-1-38.3 0.5-267.8 0z"/>
<path fill="#80ff00" d="M297.6 757.6l721 0-0.3-10.1 0.6-10.1 4.2-40.2 2.2-16.2 2.6-14 2.8-12.1 9.8-34.2 4.1-16.2 1.5-8 0-6-0.7-2.1-1.7-2-9.2-5.2-6-1.8-10.1-0.8-10.1 0.2-32.2 2.1-14.1 0.5-42.3-1.3-12 0.3-16.1 1-100.7 0.7-120.8 0-32.2 0.4-26.2-0.3-10.1-0.5-34.2 0.6-269.8-0.1zM1053.6 582.4l5.1 1 6-0.4 12.1-1.6 4 0 6 0.8 2.1-0.1 2-0.7 1.1-1 0.6-2-1.9-8.1-0.3-4 1-4 3.5-9.4 2.2-8.8 2-14 1.8-18.2 0.3-8-1.1-36.3-1.2-15.8-2-11.9-2-0.9-2 4-4 11.7-9.4 33.1-8.8 23.5-6.7 14.7-13.4 24.2-4 10.1-0.9 6 0.5 4 4.4 9.4 2 2.2z"/>
<path fill="#89ff00" d="M297.6 757.6l719 0-0.2-10.1 0.4-10.1 4-40.2 1.8-14.1 2.3-14.1 2.5-12.1 8.2-30.2 2.8-12.1 1.5-10.1 0.1-4-0.4-4-1.1-3.3-1.6-2.7-1.8-2.1-2.9-2-4.9-2-4.9-1.2-12.1-1.1-44.3 1.4-48.3-1.9-26.1 1.1-100.7 0.7-177.2 0-12.1-0.7-34.2 0.7-269.8-0.1zM1056.4 574.3l4.3 1.7 4 0.3 6-1.1 4.1-2 3.1-2.9 2.5-4 2.1-2 4.3-1.4 2.1-1.8 2-2.9 2-3.9 2-5.6 2-8.7 2-15.1 1.4-15 0.4-10-1.8-41.6-2-13.1-2-2.2-2 2.7-4 11.3-8.6 30.8-9.6 26.4-5 11.8-11.4 22.2-3 8-1 6.1 0.3 4.5 0.4 1.5 1.6 2.8z"/>
<path fill="#92ff00" d="M297.6 757.6l716.9 0-0.2-10.1 0.6-12.1 4.9-50.3 2.1-14.1 2.2-12.1 8-32.2 1.7-8.1 1.2-10-0.6-8.1-1.4-4-1.2-2-3.3-3.4-6.1-2.9-8-1.9-14.1-0.9-36.3 0.3-42.2-2.5-12.1 0-18.1 0.9-106.7 0.6-110.8 0-34.2-0.5-26.2 0.3-14.1-0.7-32.2 0.7-269.8-0.1zM1059.5 568.3l3.2 1 2 0.1 4-0.9 4-2.3 5.4-3.9 8.7-3.6 2.1-1.7 2-2.7 2-4 2-6 2-10.4 2-15.7 0.9-10.3 0.3-8-1.6-38.3-1.6-11-2-4.1-2 2.4-4 10.4-7.3 26.5-10.3 30.2-4.6 11.4-7.9 16.7-3 8.1-1.1 6 0.3 4.1 1.6 3.7z"/>
<path fill="#9cff00" d="M297.6 757.6l714.8 0-0.2-10.1 0.6-12.1 4.5-50.3 3.8-26.2 8.5-38.2 0.7-8.1-0.8-8.1-1-3.3-1.5-2.7-1.7-2-2.5-2-4.4-2.3-8.1-2.2-12-1.1-34.3-0.7-30.2-2.7-14.1-0.8-10 0-18.1 0.8-163.1 0.5-60.4-0.1-28.2-0.7-26.2 0.4-14.1-0.7-32.2 0.6-269.8 0zM1062.7 562.3l2 0.5 4-0.3 16.1-6.1 2-1.1 2.1-1.8 2-2.9 2.6-6.5 1.4-4.9 2-11.8 2-16.1 0.6-9.4-0.2-12.1-1.4-26.2-1-7.7-2-5-2 1.2-2 4.2-2 5.3-6.5 24.2-9.7 29.7-4 11.3-6.4 15.3-2.2 6.1-0.9 4-0.2 4 0.4 2 0.9 2.1z"/>
<path fill="#a5ff00" d="M297.6 757.6l712.6 0-0.1-10.1 0.5-12.1 4.4-54.4 3.3-24.1 6.9-34.2 0.5-6.1-0.4-6-1.9-6.1-3-4.3-2-1.7-3.4-2-6.7-2.3-10-1.6-32.3-1.6-32.2-3.6-14.1-1-10-0.1-18.1 0.6-169.2 0.4-54.3-0.1-28.2-1-26.2 0.5-14.1-0.7-32.2 0.6-269.8 0zM1065.5 556.2l1.2 0.7 2 0.4 2-0.1 10.1-2.4 4-1.5 2-1.3 2.1-2.1 2-3.2 2-5.1 2-8.4 2-12.2 1.4-11.1 0.5-8-0.1-10.1-1.6-28.2-0.7-4-1.5-4.8-2 0.4-2.9 6.4-6.2 22.2-11.7 38.2-7.6 22.1-0.9 4.1-0.2 4 0.5 2z"/>
<path fill="#afff00" d="M297.6 757.6l710.4 0-0.1-10.1 0.4-12.1 3.8-52.3 2.8-26.2 5.7-32.2 0.4-6.1-0.6-6-2-5-2-2.8-2-2-4.1-2.5-6-2.1-10.1-1.8-30.2-2.7-32.2-4.6-16.1-1.1-24.1 0.3-215.5 0.2-36.2-1.2-26.2 0.5-16.1-0.7-28.2 0.6-271.8-0.1zM1071.7 552.2l5.1 0.1 4-0.7 4-1.6 2-1.6 2.1-2.3 2-3.8 2-6.2 2-9.3 2-12.2 0.9-8.7 0.3-8.1-1.2-24.7-1-9.5-1-4.2-2-0.6-2 3.2-2 6.5-4.8 17.3-5.1 16.1-10.3 38.2-0.8 4 0 4.1 0.8 2.2 2 1.5z"/>
<path fill="#b8ff00" d="M297.6 757.6l708.1 0 0.2-22.2 3.7-58.4 1.9-22.1 3.9-28.2 0.3-6-0.3-4.1-1-4-2.9-4-2.4-2-2.8-1.7-6-2.4-8.1-1.7-26.2-3.6-30.2-5.4-10.2-1.3-9.9-0.8-56.4-0.2-183.2 0.2-14.1-0.2-22.1-1.1-26.2 0.5-16.1-0.7-28.2 0.5-271.8 0zM1073.6 546.2l1.2 0.9 2 0.7 2 0.2 4-0.9 2-1 2-1.8 2.1-2.9 2-4.5 2-7 2-9.4 1.7-10.6 0.8-12.1-0.5-12-2-20.2-0.9-2-1.1-1.2-2 3.8-2 6.3-8.1 26.5-2 7.9-4.1 19.1-2.1 12.1 0 6z"/>
<path fill="#c2ff00" d="M297.6 757.6l705.7 0 0.3-24.2 3.8-76.5 2.2-26.2 0.1-6-0.4-4-1.2-4.1-2.9-4-4.9-3.4-7-2.6-55.3-12.1-12.5-2-11.8-1-56.4-0.7-183.2 0.2-34.2-1.4-24.2 0.4-18.1-0.6-28.2 0.4-271.8 0zM1080.2 542.1l2.6 0 2-1.1 2-2 2.1-3.3 2-5.2 2-7.1 2-9.2 1.4-10.3 0.2-10.1-1.6-18-2-6.9-2 2.3-8.1 24.3-2.1 8.4-2 10-1.8 14.1-0.2 8.1 1.1 4 1 1.3z"/>
<path fill="#cbff00" d="M297.6 757.6l703.2 0 0.1-20.2 2.3-62.4 0.3-38.2-0.8-10.1-2.2-6-3.4-4.1-4.9-3.2-6-2.5-35-10.4-13.3-3.5-13.3-2.5-12.9-1.3-54.4-1-183.2 0-34.2-1.4-24.2 0.4-18.1-0.6-26.2 0.3-273.8 0zM1081.7 532.1l1.1 1.5 2 0 2-1.7 2.1-3.3 2-4.9 2-6.7 1.9-9.1 0.7-6 0-8.1-0.6-7.7-2-9.5-2 0.2-2 4.4-4.1 11.4-2.5 9.3-1.6 10-0.7 10.1 0.3 6 0.5 2.3z"/>
<path fill="#d5ff00" d="M297.6 757.6l700.6 0 0-18.2 1.4-44.3 0.2-18.1-0.8-18.1-2-22.1-1.4-6.1-1.4-3.2-1.7-2.8-3.9-4-6.4-4.1-24.2-10-17.3-6.1-14.9-3.5-16.1-2-54.4-1.4-183.2-0.1-32.2-1.4-22.1 0.3-22.2-0.5-298 0.1zM1083.9 522l0.9 1.5 2-0.1 2.1-2.3 2-4.3 2-6.3 0.9-4.6 0.8-8.1-0.4-6-1.3-7.2-2-1.8-2 3-2.1 4.8-2 6.1-1.1 5.2-0.8 6-0.2 6 0.1 4.3z"/>
<path fill="#deff00" d="M297.6 757.6l697.9 0 1-70.5-0.4-14.1-1.3-12.1-2.7-16.1-2.3-8-1.8-4.1-1.8-2.8-2.8-3.2-3.3-2.8-8.1-5.3-10.9-6-17.8-8.1-7.5-2.5-8-2.2-8.1-1.5-8-1.1-26.2-1.4-26.2-0.6-187.2-0.4-32.2-1.4-20.1 0.3-26.2-0.5-296 0zM1086 511.9l0.8 1.8 2.1-0.6 2-3.3 1.8-5.9 0.4-4-0.1-6.1-0.6-2-1.5-2.9-2 1.8-2.1 4.5-1.1 4.7-0.7 6z"/>
<path fill="#e7ff00" d="M297.6 757.6l695 0 0.5-64.5-0.3-12.1-0.8-10-2.1-12.1-4.6-16.1-1.7-4-2.4-4.1-5.6-6-10.6-8-5.9-4.1-10.7-6-6.5-3.1-7.5-3-8.6-2.5-8.1-1.7-10-1.4-24.2-1.5-28.2-0.8-183.2-0.5-32.2-1.3-342.3-0.4zM1088.6 503.9l0.3 0.5 1.4-2.5 0.3-2-1.7-2.1-0.7 4.1z"/>
<path fill="#f1ff00" d="M297.6 757.6l692 0 0.1-60.4-0.3-12.1-0.8-10.1-2.4-12.6-6-17.6-3.2-6-5.2-6.1-14.4-12-9.4-6.1-8.1-4.4-8.1-3.4-8-2.5-8.1-1.9-12.1-1.8-20.1-1.4-30.2-1-64.4-0.5-118.8-0.2-30.2-1.2-18.1 0.1-10.1-0.3-314.1-0.3z"/>
<path fill="#faff00" d="M297.6 757.6l688.8 0-0.2-56.4-0.5-14.1-0.8-10.1-1.4-8-1.6-6.1-4.4-12-2.6-6.1-2.4-4-3.3-4-10.8-10.1-4.9-4-9-6.1-6.6-3.7-5-2.3-7.1-2.7-8.1-2.3-16.1-3-18.1-1.5-30.2-1.2-64.4-0.7-120.8-0.3-28.2-1-18.1 0.1-10.1-0.5-314.1-0.2z"/>
<path fill="#fffa00" d="M297.6 757.6l685.4 0-0.4-48.4-0.5-16.1-0.8-12.1-1.2-7.8-1.4-6.2-2.7-8.1-4.1-10.1-2.1-4-2.8-4-11-11.1-6-5-6.1-4.2-6.3-3.9-7.8-3.8-6-2.3-8.1-2.4-10.1-2.3-8.2-1.3-11.9-1.3-16.1-1-32.2-0.9-32.2-0.4-136.9-0.4-28.2-0.8-18.1 0-10.1-0.6-12.1 0.3-36.2-0.4-265.8-0.1z"/>
<path fill="#fff100" d="M297.6 757.6l681.6 0-0.5-46.4-0.6-18.1-1-12.1-1.3-8-2.1-8.1-3.6-9.8-3-6.3-2.4-4-3.1-4-5.8-6.1-6.6-6-7.3-5.3-6.1-3.8-6-3.1-8-3.2-8.1-2.6-8.5-2.1-19.7-3.1-16.1-1.2-16.1-0.7-64.4-1.2-120.8-0.3-46.3-0.6-10.1-0.4-314.1-0.2z"/>
<path fill="#ffe700" d="M297.6 757.6l677.5 0-0.5-44.3-0.7-18.2-0.9-12-1.2-8.1-1.7-7.1-2.3-7-3.4-8-3.6-6.1-3-4-5.4-6-4.5-4.3-6-4.8-6.1-4-6-3.3-8-3.5-8.1-2.8-8.1-2.2-8-1.8-12.1-1.9-16.1-1.5-16.1-0.9-32.2-1-32.2-0.5-120.8-0.3-58.4-0.7-312.1-0.2z"/>
<path fill="#ffde00" d="M297.6 757.6l673 0-0.4-42.3-0.7-20.2-0.9-12-1.3-8.1-1.5-6-2.7-8.1-3.1-6.8-3.1-5.3-4.4-6-4.6-5.1-5.5-5-5.5-4-7.1-4.3-6-2.9-8.1-3.1-8-2.5-10.1-2.5-17.3-2.8-25-2.1-18.1-0.9-32.2-0.8-48.3-0.6-80.6-0.4-378.5-0.2z"/>
<path fill="#ffd500" d="M297.6 757.6l668.4 0-0.5-46.4-0.6-16.1-0.9-12-1.4-8.1-1.5-6-2.9-8.1-2.9-6-3.6-6.1-3.8-5.1-4.5-4.9-4.6-4.1-5-3.6-6-3.6-6-2.9-8.1-3.2-6-1.9-12.1-3.1-18.1-2.9-26.2-2.3-30.2-1.4-80.5-1.3-64.5-0.3-64.4 0.3-314.1-0.3z"/>
<path fill="#ffcb00" d="M297.6 757.6l663.8 0-0.4-42.3-0.6-18.1-0.9-12.1-1.2-8.1-1.5-6-2-6.1-2.8-6.5-3-5.5-4-6.1-5.1-5.9-4.1-3.6-4-3-6-3.7-6.1-2.9-8-3.2-8.1-2.5-10-2.5-18.2-2.9-28.1-2.4-20.2-1.1-30.2-0.9-60.4-0.8-60.4-0.4-64.4 0.3-314.1-0.3z"/>
<path fill="#ffc200" d="M297.6 757.6l659.2 0-0.4-42.3-0.7-18.1-0.9-12.1-2.2-12.1-2-6-3.4-8.1-3.3-6-2.7-4.1-3.3-4-4.1-4-5.3-4-4.7-2.9-6.4-3.2-7.7-3.1-16.1-4.5-18.2-3-16.1-1.7-30.2-1.9-32.2-1.1-48.3-0.7-80.5-0.6-370.5-0.3z"/>
<path fill="#ffb800" d="M297.6 757.6l654.6 0-0.4-40.3-0.7-20.1-1-12.1-1.3-8.1-1.6-6-2.2-6.1-2.8-6-3.6-6-3-4.1-3.8-4.1-4.7-3.9-5.3-3.6-6.1-3.1-8-3.3-6.3-2.1-7.8-2.1-10-1.9-20.2-2.6-18.1-1.4-32.3-1.5-80.5-1.4-144.9-0.7-290-0.2z"/>
<path fill="#ffaf00" d="M297.6 757.6l650.1 0-0.4-38.3-0.7-20.1-0.9-12.1-1.2-8.1-1.5-6-2.1-6-2.8-6.1-3.6-6-3.1-4-3.8-4.1-4.9-4-5-3.2-6-3.1-6.1-2.5-8-2.6-14.1-3.3-20.1-2.6-20.2-1.6-30.2-1.5-80.5-1.4-144.9-0.8-290-0.2z"/>
<path fill="#ffa800" d="M297.6 757.6l645.5 0-0.3-38.3-0.8-20.1-1-12.1-0.8-6.1-1.4-6-2.1-6-2.9-6.2-3.6-5.9-3.2-4-4-4.1-5-4-4.3-2.7-6.6-3.3-5.5-2.2-8-2.6-14.1-3-20.2-2.5-18.1-1.5-28.2-1.4-80.5-1.4-142.9-0.9-292-0.2z"/>
<path fill="#ffa300" d="M297.6 757.6l643.3 0-0.5-40.3-0.7-18.1-1-12.1-0.9-6.1-1.4-6-2.2-6-3-6.1-3.4-5.2-4-4.8-4.1-3.8-4-3.1-5.2-3.2-4.9-2.4-6-2.5-8-2.5-14.1-3-20.2-2.5-20.1-1.5-26.2-1.2-78.5-1.5-142.9-0.8-292-0.2z"/>
<path fill="#ff9e00" d="M297.6 757.6l641 0-0.4-36.3-0.8-20.1-0.9-12.1-2.1-12.1-2-6-2.9-6.1-3.7-5.7-3.6-4.3-4.1-4-4.4-3.5-6-3.7-6.1-2.9-12.1-4-14.1-2.9-20.1-2.5-20.1-1.5-26.2-1.2-78.5-1.4-140.9-0.9-292-0.2z"/>
<path fill="#ff9900" d="M297.6 757.6l638.6 0-0.4-36.3-0.8-20.1-0.9-12.1-0.9-6-1.3-6.1-2.1-5.7-2.1-4.3-3.8-6.1-3.2-4-4-4-5.1-4.1-10-5.6-12.2-4.4-16-3.3-20.1-2.5-22.1-1.7-26.2-1.1-80.5-1.4-136.9-0.9-290-0.3z"/>
<path fill="#ff9500" d="M297.6 757.6l636.2 0-0.3-34.3-1.8-32.2-2-12.1-1.9-5.8-2-4.4-3.6-5.9-3.2-4-3.9-4-4.9-4-4.6-3.1-5.7-3-12.4-4.5-16.1-3.3-18.1-2.3-22.1-1.7-26.2-1.2-80.5-1.5-169.2-1-257.7-0.2z"/>
<path fill="#ff9000" d="M297.6 757.6l633.7 0-0.3-34.3-0.9-20.1-1-12.1-2.1-12.1-2.2-6-2-4-3.1-4.9-4-5-4-3.9-4-3.1-5.1-3.3-5-2.5-12.1-4.4-14.8-3.1-19.4-2.5-20.1-1.6-26.2-1.3-80.5-1.5-167.1-1.1-259.8-0.3z"/>
<path fill="#ff8b00" d="M297.6 757.6l631.2 0-0.4-34.3-1.7-30.2-2-12.1-2-6-1.8-4-3.2-5-4-5.1-4-4-4.1-3.2-4.4-2.8-5.6-3-6.1-2.5-6-1.9-14.1-3-20.1-2.6-20.2-1.6-24.1-1.2-80.5-1.6-165.1-1.2-261.8-0.3z"/>
<path fill="#ff8700" d="M297.6 757.6l628.5 0-0.3-32.3-1.7-30.2-1.8-12-1.8-6.1-1.7-4-3.1-5.1-3.8-5-4-4-4.3-3.4-4-2.7-6-3.2-6.1-2.5-6-1.9-14.1-3-20.1-2.7-22.2-1.7-20.9-1-79.7-1.7-165.1-1.3-261.8-0.2z"/>
<path fill="#ff8200" d="M297.6 757.6l625.8 0-0.3-32.3-1.7-28.1-2.1-14.1-1.6-5.3-2-4.5-2.7-4.3-3.3-4.3-4.1-4.1-4.6-3.7-5.4-3.5-5.2-2.5-5.1-2.1-6.6-2-17.3-3.5-20.2-2.5-20.1-1.5-18.1-0.9-78.5-1.7-167.1-1.3-259.8-0.2z"/>
<path fill="#ff7d00" d="M297.6 757.6l623 0-0.4-32.3-1.7-28.1-1-8.1-1.3-6-3-8.1-3.5-5.7-3.7-4.4-4.3-4-4.1-3.1-8.8-4.9-11.5-4.1-18-3.7-20.1-2.5-20.1-1.6-30.2-1.3-80.6-1.5-155-1.1-255.7-0.3z"/>
<path fill="#ff7800" d="M297.6 757.6l620.1 0-0.3-30.2-1.8-28.2-2.1-14.1-1.8-6.1-1.9-4-2.6-4-3.3-4-4.2-4.1-4.1-3.1-4.7-2.9-5.4-2.6-12.1-4-16.7-3.5-19.5-2.4-20.1-1.6-28.2-1.3-80.6-1.6-157-1.1-253.7-0.3z"/>
<path fill="#ff7400" d="M297.6 757.6l617.1 0-0.3-28.2-1.5-26.2-1.8-14.1-1.4-6-1.5-4.1-2-4-2.8-4-3.6-4-4.7-4.1-5.6-3.6-4-2.1-5.6-2.3-6.3-2-18.3-4.1-18.1-2.4-20.1-1.7-28.2-1.3-80.6-1.7-157-1.2-253.7-0.3z"/>
<path fill="#ff6f00" d="M297.6 757.6l614 0-0.3-28.2-1.5-24.2-2.1-16.1-1.5-6-1.6-4.1-2.2-4-2.8-3.7-6.8-6.4-5.3-3.5-4-2.1-5.9-2.4-6.3-2-17.9-4-20.2-2.7-20.2-1.7-24.1-1.2-32.2-1-48.4-0.8-157-1.3-253.7-0.3z"/>
<path fill="#ff6a00" d="M297.6 757.6l610.8 0-0.1-20.2-0.7-18.1-1.8-20.1-2.1-12.1-2.8-8.1-2.5-4-3.4-4-4.6-4-4.9-3.3-5.5-2.8-5-2-7.6-2.4-10.1-2.4-19.9-3.2-20.6-2.1-25.9-1.4-34.2-1.1-48.4-0.9-157-1.4-253.7-0.3z"/>
<path fill="#ff6600" d="M297.6 757.6l607.4 0 0-18.2-0.6-16.1-1.6-20.1-2.3-14.1-1.1-4-1.8-4.5-2-3.6-3.3-4-4.5-4-4.3-2.9-6-3.1-5.4-2.1-8.7-2.7-8.1-2-20.1-3.3-20.3-2-24-1.4-36.2-1.3-46.4-0.9-157-1.5-253.7-0.3z"/>
<path fill="#ff6100" d="M297.6 757.6l604 0-0.5-30.2-1.8-22.2-2.2-14.1-1.7-6-1.8-4.1-4.2-6-3.9-3.6-4-2.8-6.1-3.1-6.4-2.6-7.6-2.4-8.1-2.1-20.1-3.4-21.1-2.1-25.2-1.5-34.3-1.2-44.3-0.9-157-1.6-253.7-0.4z"/>
<path fill="#ff5c00" d="M297.6 757.6l600.3 0-0.3-26.2-1.6-22.2-2.4-15.9-1.8-6.2-1.6-4-4-6.1-4.4-4-4.3-2.8-6.1-3-6-2.4-6.1-2-10-2.5-18.1-3.1-20.2-2.1-26.1-1.6-34.3-1.3-44.3-0.9-155-1.7-253.7-0.4z"/>
<path fill="#ff5700" d="M297.6 757.6l596.5 0-0.2-24.2-1.8-22.2-2.5-16.1-1.6-6-1.7-4-3.8-6.1-3-2.9-4.3-3.1-5.8-3.1-7.1-2.9-15-4.3-18.2-3.2-20.1-2.2-28.2-1.8-34.2-1.3-42.3-0.9-153-1.7-253.7-0.4z"/>
<path fill="#ff5300" d="M297.6 757.6l592.4 0-0.2-22.2-1.3-18.1-2.7-18.1-2.9-10.1-1.9-4-2.8-4.1-2.8-2.7-4.2-3.3-5.8-3.2-6.1-2.5-14-4.1-18.2-3.3-20.1-2.3-26.2-1.8-34.2-1.3-44.3-1.1-153-1.8-251.7-0.4z"/>
<path fill="#ff4e00" d="M297.6 757.6l588 0-0.1-18.2-1.2-18.1-2.8-18.4-1.9-7.8-1.5-4-1.9-4-2.8-4-3.9-4.1-2.8-2-5.3-3-6.1-2.6-12.1-3.6-18.1-3.5-18.1-2.2-28.2-2-32.2-1.4-46.3-1.1-151-1.9-251.7-0.5z"/>
<path fill="#ff4900" d="M297.6 757.6l583 0 0-16.2-1.3-18.1-1.8-12.1-1.6-8-3.2-10.1-2-4-3.3-4.9-3.1-3.2-5-3.5-4.7-2.5-5.1-2-14.7-4-17.7-3.1-20.2-2.1-30.2-1.9-34.2-1.3-32.2-0.8-151-1.9-251.7-0.5z"/>
<path fill="#ff4400" d="M297.6 757.6l577.4 0 0.1-14.1-1.3-18.2-2.8-16.1-3.6-12.6-2.5-5.5-2.6-4-3-3.3-3.2-2.8-3-2-5.8-2.7-12.1-4-10.1-2.2-10-1.6-18.2-2.1-32.2-2.1-32.2-1.4-48.3-1-138.9-1.9-247.7-0.5z"/>
<path fill="#ff4000" d="M297.6 757.6l571.3 0 0.1-14.1-1.2-16.1-2.9-16.2-3.6-12-2.8-6.1-2.7-4-3.7-4-2.4-2-4.4-2.7-6.1-2.9-14.1-4.1-14.1-2.5-16.4-1.9-31.9-2.3-32.2-1.4-46.3-1.1-136.9-2-249.7-0.6z"/>
<path fill="#ff3b00" d="M297.6 757.6l564.8 0 0.1-12.1-1.1-16.1-1.3-8.1-1.9-8-2.4-8.1-2.4-6-2-4.1-2.8-4-3.3-3.6-3.1-2.4-3-2-6-3-12.1-3.9-16.1-3.1-30.2-2.9-42.3-2.3-32.2-1-96.6-1.8-114.8-1.1-191.3-0.2z"/>
<path fill="#ff3600" d="M297.6 757.6l557.6 0 0.2-12.1-1-14.1-1.1-6.6-1.8-7.5-4.2-12.5-2.8-5.6-2.6-4.1-3.4-4-3.3-2.9-4.6-3.1-3.8-2-9.7-3.6-14.1-3.2-14.1-1.8-16.1-1.6-38.3-2.3-36.2-1.2-108.7-2.3-114.8-1-177.2-0.2z"/>
<path fill="#ff3200" d="M297.6 757.6l549.7 0 0.2-10.1-1-14.1-1.2-7-1.9-7.1-2.9-8.1-2.8-6-3.5-6-3-3.9-4.1-3.9-3-2.3-7.3-4-12-4.1-15.9-2.9-16.1-2-14.1-1.2-34.2-2-136.9-3.5-112.8-1-177.2-0.3z"/>
<path fill="#ff2d00" d="M297.6 757.6l540.6 0 0.3-10.1-0.4-8.1-0.9-6.7-1.6-7.4-2-6-2.5-6-3.1-6.1-4.1-6-3.4-4-3.4-3.1-4.2-3-8.4-4-6.1-2-8.1-2-17.5-3.1-16.1-1.8-16.1-1.4-32.3-1.7-124.8-3.4-110.7-1-175.2-0.3z"/>
<path fill="#ff2800" d="M297.6 757.6l530.6 0 0.3-10.1-1.1-12.1-1.3-6-1.9-6.1-2.7-6-3.4-6.1-4.3-6-3.7-4-4.8-4-3.1-2.1-9.3-4.3-14.1-4.3-20.1-3.7-18.1-2.1-32.3-2.2-128.8-4.3-112.7-1.1-169.2-0.3z"/>
<path fill="#ff2300" d="M297.6 757.6l519.1 0 0.4-10.1-0.4-6.1-0.9-6-1.7-6-2.5-6.1-2.6-4.6-3.9-5.4-3.6-4.1-4.6-4.2-5.4-3.8-6.6-3.8-10.1-4.3-14.4-4-19.8-3.4-20.2-2.2-28.2-1.9-80.5-3.4-44.3-1.5-110.7-1.1-159.1-0.2z"/>
<path fill="#ff1f00" d="M297.6 757.6l505.2 0 0.6-10.1-0.6-6.1-1.3-6-2.4-6-2.2-4.1-2.9-4-3.6-4-5.5-5.1-6.1-4.6-6-3.7-6.1-3.2-6-2.5-8.1-2.7-16.1-3.8-16.4-2.6-19.4-2-26.6-1.8-62.4-3.6-48.3-2-106.7-1.3-159.1-0.3z"/>
<path fill="#ff1a00" d="M297.6 757.6l487.3 0 0.8-8.1-0.4-6-0.9-4.1-2.2-6-2.2-4-2.9-4.1-3.8-4-8.6-6.8-5.2-3.3-7.7-4-7.2-3-8.1-2.9-16.2-4.1-16-2.8-31.2-3.3-61.4-5-52.3-2.9-106.7-1.6-155.1-0.3z"/>
<path fill="#ff1500" d="M297.6 757.6l466.2 0 0.8-4.1 0.2-4-0.6-6-1.1-4.1-1.8-4-2.5-4-3.5-4-4.7-4-9.7-6.1-12.4-5.7-14.1-4.6-16.3-3.8-25.9-4-68.5-8.2-26.2-2.1-24.2-1.2-48.3-1.3-56.4-0.9-151-0.4z"/>
<path fill="#ff1100" d="M297.6 757.6l440.1 0 1.1-4.1 0.4-4-0.3-4-1.2-4.1-2-4-3.2-4-4.4-4-5.7-3.8-6-3.1-6-2.5-12.1-3.9-18.1-4.3-57.6-10.6-23-3.6-22.1-2.5-20.1-1.5-64.5-2.3-78.5-1.2-116.8-0.2z"/>
<path fill="#ff0c00" d="M297.6 757.6l405.3 0 1.9-4.1 0.6-4-0.6-4-0.7-2-1.8-2.9-2.8-3.2-5.2-3.9-3.8-2.1-10.3-4.5-18.5-5.6-43.9-11-18.2-3.9-24.1-3.9-18.1-1.8-22.2-1.4-64.4-2.5-68.5-1-104.7-0.2z"/>
<path fill="#ff0700" d="M297.6 757.6l356.7 0 2.4-4.1 0.9-4-0.8-4-1.1-2-3.3-4.1-5.2-4-3.3-2-12.3-6-16.3-6.1-13.8-4-16-3.7-20.1-3.4-16.1-1.8-30.2-2.2-60.4-2.7-62.4-1-98.7-0.3z"/>
<path fill="#ff0200" d="M297.6 757.6l318.1 0 2-4.1 0.7-4-0.6-4-0.9-2-2.9-4.1-4.3-3.8-3.2-2.2-7.6-4-9.3-3.7-8.1-2.4-14.1-3.2-14.1-2.1-22.1-2.2-26.2-2-54.3-2.7-60.4-1.1-92.7-0.3z"/>
<path fill="#ff0000" d="M297.6 757.6l285.4 0 2.6-4.1 0.8-4-0.8-4-2.7-4.1-4.9-4-7.9-4-8.7-3-10.1-2.3-30.2-4.2-40.2-3.4-46.4-2.1-52.3-0.9-84.6-0.2z"/>
<path fill="#ff0000" d="M297.6 757.6l242 0 3.5-2.1 2.4-2 1.3-2 0.5-2-0.5-2-1.3-2-2.4-2-3.5-2.1-4.4-1.8-6.6-2.2-7.9-2-11.7-2.3-12-1.8-16.7-1.9-31.7-2.4-38.2-1.5-42.3-0.7-70.5-0.1z"/>
<path fill="#ff0000" d="M297.6 757.6l180.9 0 6-2.1 3.9-2 2.3-2 0.7-2-0.7-2-2.3-2-3.9-2-6-2.1-8.6-2-9.2-1.5-22-2.5-24.3-1.5-28.2-1-88.6-0.4z"/>
<path fill="#ff0000" d="M297.6 757.6l81.4 0 11.3-0.6 17.5-1.5 12.3-2 5.9-2 1.8-2-1.8-2-5.9-2-12.3-2-13.5-1.2-34.2-1.4-62.5-0.2z"/>
</g></g>
<g clip-path="url(#cr)"><g filter="url(#bl)" shape-rendering="crispEdges">
<path fill="#0007ff" d="M1102.9 757.6l1296.6 0 0-434.9-1296.6 0z"/>
<path fill="#000aff" d="M1102.9 757.6l1296.6 0 0-430.7-213.4-0.1-0.1-4.1-1083.1 0z"/>
<path fill="#000dff" d="M1102.9 757.6l1296.6 0 0-430.4-213.4-0.4-0.1-4.1-1083.1 0z"/>
<path fill="#0010ff" d="M1102.9 757.6l1296.6 0 0-430.2-213.4-0.5-0.2-4.2-1083 0z"/>
<path fill="#0012ff" d="M1102.9 757.6l1296.6 0 0-430-213.4-0.6-0.2-4.3-1083 0z"/>
<path fill="#0015ff" d="M1102.9 757.6l1296.6 0 0-429.7-213.4-0.9-0.3-4.3-1082.9 0z"/>
<path fill="#0018ff" d="M1102.9 757.6l1296.6 0 0-429.5-213.4-1-0.4-0.4 0-4-1082.8 0z"/>
<path fill="#001bff" d="M1102.9 757.6l1296.6 0 0-429.3-213.4-1.2-0.4-0.4 0-4-1082.8 0z"/>
<path fill="#001eff" d="M1102.9 757.6l1296.6 0 0-429-213.4-1.4-0.5-0.5 0-4-1082.7 0z"/>
<path fill="#0021ff" d="M1102.9 757.6l1296.6 0 0-428.8-213.4-1.5-0.5-0.6 0-4-1082.7 0z"/>
<path fill="#0023ff" d="M1102.9 757.6l1296.6 0 0-428.6-213.4-1.7-0.6-0.6 0-4-1082.6 0z"/>
<path fill="#0026ff" d="M1102.9 757.6l1296.6 0 0-428.3-213.4-1.9-0.6-0.7 0-4-1082.6 0z"/>
<path fill="#0029ff" d="M1102.9 757.6l1296.6 0 0-428.1-213.4-2-0.7-0.8 0-4-1082.5 0z"/>
<path fill="#002cff" d="M1102.9 757.6l1296.6 0 0-427.9-213.4-2.2-0.8-0.8 0-4-1082.4 0z"/>
<path fill="#002fff" d="M1102.9 757.6l1296.6 0 0-427.6-213.4-2.4-0.8-0.9 0-4-1082.4 0z"/>
<path fill="#0032ff" d="M1102.9 757.6l1296.6 0 0-427.4-213.4-2.6-0.9-0.9 0-4-1082.3 0z"/>
<path fill="#0034ff" d="M1102.9 757.6l1296.6 0 0-427.2-213.4-2.7-0.9-1 0-4-1082.3 0z"/>
<path fill="#0037ff" d="M1102.9 757.6l1296.6 0 0-426.9-213.4-2.9-1-1.1 0-4-1082.2 0z"/>
<path fill="#003aff" d="M1102.9 757.6l1296.6 0 0-426.7-213.4-3.1-1-1.1 0-4-1082.2 0z"/>
<path fill="#003dff" d="M1102.9 757.6l1296.6 0 0-426.5-213.4-3.2-1.1-1.2 0-4-1082.1 0z"/>
<path fill="#0040ff" d="M1102.9 757.6l1296.6 0 0-426.3-213.4-3.4-1.2-1.2 0-4-1082 0z"/>
<path fill="#0043ff" d="M1102.9 757.6l1296.6 0 0-426.1-213.4-3.5-1.2-1.3 0-4-1082 0z"/>
<path fill="#0045ff" d="M1102.9 757.6l1296.6 0 0-425.9-213.4-3.6-1.3-1.4 0-4-1081.9 0z"/>
<path fill="#0048ff" d="M1102.9 757.6l1296.6 0 0-425.7-213.4-3.8-1.3-1.4 0-4-1081.9 0z"/>
<path fill="#004bff" d="M1102.9 757.6l1296.6 0 0-425.5-213.4-3.9-1.4-1.5 0-4-1081.8 0z"/>
<path fill="#004eff" d="M1102.9 757.6l1296.6 0 0-425.4-136.9-2.8-76.5-1.1-1.4-1.6 0-4-1081.8 0z"/>
<path fill="#0051ff" d="M1102.9 757.6l1296.6 0 0-425.2-140.9-3-72.5-1.1-1.5-1.6 0-4-1081.7 0z"/>
<path fill="#0054ff" d="M1102.9 757.6l1296.6 0 0-425-140.9-3.1-72.5-1.1-1.5-1.7 0-4-1081.7 0z"/>
<path fill="#0056ff" d="M1102.9 757.6l1296.6 0 0-424.8-145-3.3-68.4-1.1-1.6-1.7 0-4-1081.6 0z"/>
<path fill="#0059ff" d="M1102.9 757.6l1296.6 0 0-424.6-145-3.4-68.4-1.1-1.7-1.8 0-4-1081.5 0z"/>
<path fill="#005cff" d="M1102.9 757.6l1296.6 0 0-424.4-145-3.5-68.4-1.1-1.7-1.9 0-4-1081.5 0z"/>
<path fill="#005fff" d="M1102.9 757.6l1296.6 0 0-424.2-145-3.6-68.4-1.2-1.8-1.9 0-4-1081.4 0z"/>
<path fill="#0062ff" d="M1102.9 757.6l1296.6 0 0-424-149-3.7-64.4-1.2-1.8-2 0-4-1081.4 0z"/>
<path fill="#0065ff" d="M1102.9 757.6l1296.6 0 0-423.8-149-3.8-64.4-1.2-1.9-2.1 0-4-1081.3 0z"/>
<path fill="#0067ff" d="M1102.9 757.6l1296.6 0 0-423.6-149-3.9-64.4-1.3-1.9-2.1 0-4-1081.3 0z"/>
<path fill="#006aff" d="M1102.9 757.6l1296.6 0 0-423.4-149-4-64.4-1.3-2-2.2 0-4-1081.2 0z"/>
<path fill="#006dff" d="M1102.9 757.6l1296.6 0 0-423.2-149-4.1-64.4-1.4-2.1-2.2 0-4-1081.1 0z"/>
<path fill="#0070ff" d="M1102.9 757.6l1296.6 0 0-423-153-4.4-60.4-1.2-2.1-2.3 0-4-1081.1 0z"/>
<path fill="#0073ff" d="M1102.9 757.6l1296.6 0 0-422.8-153-4.5-60.4-1.2-2.2-2.4 0-4-1081 0z"/>
<path fill="#0076ff" d="M1102.9 757.6l1296.6 0 0-422.5-149-4.6-64.4-1.4-2.2-2.4 0-4-1081 0z"/>
<path fill="#0078ff" d="M1102.9 757.6l1296.6 0 0-422.3-145.6-4.6-67.8-1.5-2.3-2.5 0-4-1080.9 0z"/>
<path fill="#007bff" d="M1102.9 757.6l1296.6 0 0-422-149-4.9-64.4-1.4-2.3-2.6 0-4-1080.9 0zM1123.1 621.5l-1.5-165.9 1056.4-0.1 0.3 4.1 1.1 4 3.4 4 2.4 4.1 1 4-0.6 4-3.6 12.8-4 4.3z"/>
<path fill="#007eff" d="M1102.9 757.6l19.1 0-2.8-302 3.9-0.3 1054.9 0.1 0.5 0.2 1.6 4 1.9 2.4 4.6 1.6 3.5 2.4 3.9 1.6 19.7 12.1 16 12.1 8.3 8.1 6.1 8 2.3 4 1.5 4.1 0.8 4 0.1 4-0.5 4-2.6 8.1-10.5 24.2-6.7 20.1-46.5 165.4-4 4.2-64.1 7.6 285.6 0 0-421.7-152.3-5.2-61.1-1.4-2.4-2.6 0-4-1080.8 0z"/>
<path fill="#0081ff" d="M1102.9 757.6l16.7 0-1.2-302 4.7-0.4 1054.9 0.1 0.9 0.3 3.1 4.2 4.1 2.2 5.3 1.6 2.7 1.5 6.7 2.5 17.8 8.1 31.8 16.1 20.4 12.1 11.9 8 15.1 12.1 11.6 12.1 5.7 8 2.2 4.1 2.9 8 0.7 4.1-0.1 8-0.7 4-2.8 8.1-4.1 8-12.1 20.2-6.5 12.1-7.2 16.1-7.4 20.1-9.9 32.2-16.9 60.4 0 8.1 146.3 0 0-421.4-155.5-5.5-57.9-1.3-2.5-2.7 0-4-1080.7 0z"/>
<path fill="#0084ff" d="M1102.9 757.6l15.6 0-0.9-302 5.5-0.6 1054.9 0.1 1.3 0.5 2.7 3.5 13.9 4.5 32.7 12.1 39.4 16.1 34.5 16.1 22.7 12.1 20 12.1 17.1 12 14.3 12.1 7.8 8.1 7 8.2 8.1 5.8 0-241.8-40.9-1.7-83.9-2.5-33.8-1.6-54.8-1.3-2.5-2.7 0-4-1080.7 0zM2327.3 757.6l72.2 0 0-121.5-8.1-2.4-4 4.1-20 27.1-10.4 16.1-9.9 18.4-9.5 21.9-10 28.2z"/>
<path fill="#0087ff" d="M1102.9 757.6l14.8 0-0.8-302 6.2-0.8 1054.9 0.2 1.7 0.6 2.3 3 5.1 1 7 2.5 6.4 1.5 38.3 12.1 35.4 12.1 32.6 12.1 39.4 16.1 26.4 12 18.8 9.4 8.1 3.2 0-203.9-47-1.9-81.9-2.5-32.8-1.6-51.7-1.2-2.6-2.8 0-4-1080.6 0z"/>
<path fill="#0089ff" d="M1102.9 757.6l14 0-0.7-302 6.9-0.9 1054.9 0.2 2.1 0.7 1.9 2.5 8 1.5 45.3 12.1 68.5 20.1 37.1 12.1 50.5 18.1 8.1 2.5 0-187.5-53-2.2-79.9-2.5-31.7-1.6-48.8-1.1-2.6-2.9 0-4-1080.6 0z"/>
<path fill="#008cff" d="M1102.9 757.6l13.3 0-0.8-302 3.7-0.8 4-0.3 1054.9 0.2 2.4 0.9 1.6 2 11.4 2 35 8 65.4 16.2 45 12 60.7 17.5 0-176-58.8-2.5-78.1-2.5-30.6-1.6-45.9-1.1-2.7-2.9 0-4-1080.5 0z"/>
<path fill="#008fff" d="M1102.9 757.6l12.5 0-0.4-302.1 4.1-0.9 4-0.2 1054.9 0.2 2.8 1 1.2 1.5 15.3 2.5 78.7 16.1 54.3 12.1 69.2 16.5 0-166.7-64.6-2.8-76.3-2.5-29.4-1.6-43.1-1-2.7-3 0-4-1080.5 0z"/>
<path fill="#0092ff" d="M1102.9 757.6l12 0 0.1-302.3 4.1-0.9 4-0.2 1054.9 0.3 3.2 1.1 0.8 1 43.6 7 67.4 12.1 106.5 21 0-158.9-70.2-3-74.8-2.5-28-1.6-40.4-0.9-2.8-3.1 0-4-1080.4 0z"/>
<path fill="#0095ff" d="M1102.9 757.6l11.9 0-0.2-302 0.4-0.5 4.1-0.8 4-0.2 1054.9 0.2 3.6 1.3 0.4 0.5 106.6 15.6 110.9 18.2 0-151.8-75.7-3.3-69.3-2.3-30.7-1.8-37.7-0.9-2.9-3.1 0-4-1080.3 0z"/>
<path fill="#0098ff" d="M1102.9 757.6l11.7 0-0.2-302 0.6-0.7 8.1-1 1054.9 0.3 4 1.4 4.1 0.6 94.3 11.4 119.1 16.1 0-145.3-81.1-3.6-67.9-2.3-29.4-1.8-35-0.8-2.9-3.2 0-4-1080.3 0z"/>
<path fill="#009aff" d="M1102.9 757.6l11.5 0-0.2-302 0.8-0.9 8.1-0.9 1054.9 0.3 4 1.2 8.1 0.8 115.3 11.5 94.1 10.3 0-139.2-86.4-3.9-66.6-2.3-28-1.8-32.4-0.8-3-3.2 0-4-1080.2 0z"/>
<path fill="#009dff" d="M1102.9 757.6l11.3 0-0.1-302 0.9-1.1 8.1-0.9 1054.9 0.3 4 1.1 111.8 8.6 105.7 8.9 0-133.4-91.6-4.3-65.5-2.3-26.4-1.8-29.9-0.7-3-3.3 0-4-1080.2 0z"/>
<path fill="#00a0ff" d="M1102.9 757.6l11.1 0-0.1-302 1.1-1.3 8.1-0.8 1054.9 0.3 4 0.8 217.5 12.6 0-127.6-96.8-4.8-64.3-2.3-24.9-1.8-27.4-0.6-3.1-3.4 0-4-1080.1 0z"/>
<path fill="#00a3ff" d="M1102.9 757.6l11 0-0.2-302 1.3-1.5 8.1-0.8 1054.9 0.4 4 0.6 217.5 7.8 0-122-102-5.3-59.1-2.1-27.4-2-24.9-0.6-3.1-3.4 0-4-1080.1 0z"/>
<path fill="#00a6ff" d="M1102.9 757.6l10.8 0-0.2-302 1.5-1.7 8.1-0.8 1054.9 0.4 12.1 0.7 209.4 2.8 0-116.4-107.1-5.8-50-1.8-33.9-2.3-22.4-0.5-3.2-3.5 0-4-1080 0z"/>
<path fill="#00a9ff" d="M1102.9 757.6l10.6 0-0.1-302 1.6-1.8 8.1-0.8 1063 0.7 213.4-1.8 0-110.9-112.2-6.2-48.9-1.8-20.1-1.1-12.2-1.2-20-0.5-3.3-3.5 0-4-1079.9 0z"/>
<path fill="#00abff" d="M1102.9 757.6l10.4 0-0.1-302 1.8-2 8.1-0.8 1058.9 0.6 217.5-6.6 0-105.3-42.5-2.7-50.1-2.3-24.6-1.7-47.9-1.7-16.1-0.9-14.7-1.5-17.5-0.4-3.3-3.6 0-4-1079.9 0z"/>
<path fill="#00aeff" d="M1102.9 757.6l10.2 0-0.1-302 2-2.2 8.1-0.7 1054.9 0.4 104.7-5 116.8-6.5 0-99.6-50-3.2-46.7-2.2-25.6-1.8-46.8-1.7-16.1-1-13.1-1.4-15.1-0.3-3.4-3.7 0-4-1079.8 0z"/>
<path fill="#00b1ff" d="M1102.9 757.6l10 0-0.1-302 2.2-2.4 8.1-0.7 1054.9 0.5 79.6-5.5 141.9-11.3 0-93.7-57.6-3.7-47.1-2.3-22.7-1.7-45.8-1.7-16.1-1-11.4-1.4-12.7-0.3-3.4-3.7 0-4-1079.8 0z"/>
<path fill="#00b4ff" d="M1102.9 757.6l9.9 0-0.1-302 2.3-2.6 8.1-0.6 1054.9 0.5 15.6-1.4 83.9-8 122-13 0-87.3-40.3-2.4-25.1-2-43.3-2.1-23.9-1.9-44.6-1.7-16.1-1.1-9.9-1.3-10.2-0.2-3.5-3.8 0-4-1079.7 0z"/>
<path fill="#00b7ff" d="M1102.9 757.6l9.7 0-0.1-302 2.5-2.8 8.1-0.6 1054.9 0.5 110.1-13.2 111.4-15.1 0-80.3-73.2-5.3-39.6-1.9-25-2.1-47.4-1.9-20.5-2.2-7.7-0.1-3.5-3.9 0-4-1079.7 0z"/>
<path fill="#00baff" d="M1102.9 757.6l9.5 0-0.1-302 2.7-3 8.1-0.5 1054.9 0.5 115.4-17.2 106.1-17.6 0-72.7-24.9-2.3-31.5-1.8-24.9-2.2-39.5-2-22.4-2-46.1-1.9-12-1.1-6.9-1.1-5.2-0.1-3.6-3.9 0-4-1079.6 0z"/>
<path fill="#00bcff" d="M1102.9 757.6l9.3 0-0.1-302 2.9-3.2 8.1-0.5 1054.9 0.6 8.1-1.9 43.1-7.1 66-12.1 104.3-21.1 0-64.2-36-3.3-32.5-2-21.3-2-35-1.8-23.8-2.2-32.6-1.2-20.1-1.4-12.1-1.5-3.7-4 0-4-1079.5 0z"/>
<path fill="#00bfff" d="M1102.9 757.6l9.1 0 0-302 3-3.4 8.1-0.4 1054.9 0.5 3.4-0.8 0.6-0.7 4.1-0.9 33.9-6.4 74.3-16.1 51-12.1 54.2-13.6 0-54.4-28.2-2.3-19.4-2.2-28.9-1.8-22.2-2.2-34.2-1.8-21.5-2.2-34.9-1.3-16.1-1.3-8-1.4-3.7-4.1 0-4-1079.5 0z"/>
<path fill="#00c2ff" d="M1102.9 757.6l9 0-0.1-302 3.2-3.6 8.1-0.4 1054.9 0.6 2.9-0.7 1.1-1.4 13.4-2.6 33.5-8 62.1-16.1 42.6-12.1 57.8-18.1 8.1-2.1 0-41.7-19.7-2.6-24.6-2-16-2-28.3-1.9-19.6-2.1-32.7-1.8-19.5-2.2-28.9-1-16.1-1.2-8-1.2-3.8-4.7 0-4-1079.4 0z"/>
<path fill="#00c5ff" d="M1102.9 757.6l8.8 0-0.1-302 3.4-3.8 3.8-0.3 0-128.8-15.9 0zM1264 451.5l914 0.6 2.3-0.6 1.7-2.1 9.4-1.9 42.3-12.1 26.5-8 37.1-12.1 45-16.1 20.6-8.1 28.5-11.9 8.1-2.7 0-23.7-9.3-1.9-14.9-1.8-13.2-2.3-19-1.6-18-2.4-26.3-1.8-17.9-2.2-30.4-1.7-18-2.3-26.3-0.9-16.1-1.2-4-0.6-1.4-1.4-2.4-4 0-4-918.3 0z"/>
<path fill="#00c8ff" d="M1102.9 757.6l8.6 0-0.1-302 3.6-3.9 1.4-0.2 0-128.8-13.5 0zM1493.5 451.5l684.5 0.4 1.7-0.4 2.3-2.8 5.7-1.2 6.4-2.5 17.7-5.5 44.4-16.1 30.1-12.1 27.2-12.1 32.2-16.1 21-12.1 6.2-4 5.1-4 2.2-4.1-3.8-4-12.8-4-12.4-1.9-10.4-2.2-17.8-1.7-14.6-2.3-25.7-2-13.8-2-30.5-1.9-13.2-2.1-27-1-12.1-1-2.1-2.1-1.8-4 0-4-688.7 0z"/>
<path fill="#00cbff" d="M1102.9 757.6l8.4 0 0-302 3.5-4.1 0-128.8-11.9 0zM1723 451.5l455 0.3 1.2-0.3 2.8-3.5 2.2-0.5 1.9-1.1 8.2-2.9 3.9-2 15.3-6.1 34.6-16.1 22.7-12.1 13.5-8 17.8-12.1 14.8-12.1 11.7-12 2.7-4.1 0.4-4-5.4-4-7.3-1.7-7.6-2.4-12.6-1.4-12.4-2.6-19.8-1.7-12.5-2.3-23.7-1.6-13.8-2.4-30.5-1.3-2.7-2.8-1.2-4 0-4-459.2 0z"/>
<path fill="#00cdff" d="M1102.9 757.6l8.2 0 0-302 3.1-4.1 0-128.8-11.3 0zM1952.5 451.5l226.1 0 3.4-5.3 6.3-2.7 1.8-1.4 12.7-6.7 12.9-8 11.5-8.1 14-12.1 7-8 5.2-8.1 1.9-4 2.2-8 0.5-4.1-0.1-8-2.3-16.1-1.4-4.1-5.9-4-9.9-1.7-6.3-2.3-17.8-1.5-9.3-2.5-18.9-0.6-3.4-3.5-0.6-4 0-4-229.6 0z"/>
<path fill="#00d0ff" d="M1102.9 451.5l0 3.7 8.1 0 2.7-3.7 0-128.8-10.8 0z"/>
<path fill="#00d3ff" d="M1102.9 451.5l0 2.9 8.1 0 2.1-2.9 0-128.8-10.2 0z"/>
<path fill="#00d6ff" d="M1102.9 451.5l0 2.1 8.1 0 1.5-2.1 0-128.8-9.6 0z"/>
<path fill="#00d9ff" d="M1102.9 451.5l0 1.3 8.1 0 0.9-1.3 0-128.8-9 0z"/>
<path fill="#00dcff" d="M1102.9 451.5l0 0.6 8.1 0 0.4-0.6 0-128.8-8.5 0z"/>
</g></g>
<use href="#geo"/><use href="#ax"/>
<text x="146.0" y="103.2" style="font-size:73.3px" letter-spacing="1.6">(d)</text>
<text x="305.5" y="238.4">Velocity Magnitude, m/s:</text>
<text x="1215.0" y="237.8" text-anchor="middle">2.0</text>
<text x="1414.5" y="237.8" text-anchor="middle">3.6</text>
<text x="1614.0" y="237.8" text-anchor="middle">5.2</text>
<text x="1813.5" y="237.8" text-anchor="middle">6.8</text>
<text x="2013.0" y="237.8" text-anchor="middle">8.4</text>
<text x="2212.5" y="237.8" text-anchor="middle">10.0</text>
<text x="231.9" y="774.2" text-anchor="end">0</text>
<text x="231.9" y="693.7" text-anchor="end">10</text>
<text x="231.9" y="613.1" text-anchor="end">20</text>
<text x="231.9" y="532.6" text-anchor="end">30</text>
<text x="231.9" y="452.1" text-anchor="end">40</text>
<text x="231.9" y="371.5" text-anchor="end">50</text>
<text x="231.9" y="291.0" text-anchor="end">60</text>
<text x="305.1" y="863.0" text-anchor="middle">-100</text>
<text x="506.4" y="863.0" text-anchor="middle">-75</text>
<text x="707.7" y="863.0" text-anchor="middle">-50</text>
<text x="909.1" y="863.0" text-anchor="middle">-25</text>
<text x="1110.4" y="863.0" text-anchor="middle">0</text>
<text x="1311.7" y="863.0" text-anchor="middle">25</text>
<text x="1513.1" y="863.0" text-anchor="middle">50</text>
<text x="1714.4" y="863.0" text-anchor="middle">75</text>
<text x="1915.7" y="863.0" text-anchor="middle">100</text>
<text x="2117.0" y="863.0" text-anchor="middle">125</text>
<text x="2318.3" y="863.0" text-anchor="middle">150</text>
<text transform="translate(1282.4 953.7) scale(0.981 1)">x/D<tspan font-size="44.0" dx="1.2" dy="21.7">H</tspan></text>
<text transform="translate(101.2 576.3) rotate(-90) scale(0.981 1)">y/D<tspan font-size="44.0" dx="1.2" dy="21.7">H</tspan></text>
</g>
</svg>
</body></html>
